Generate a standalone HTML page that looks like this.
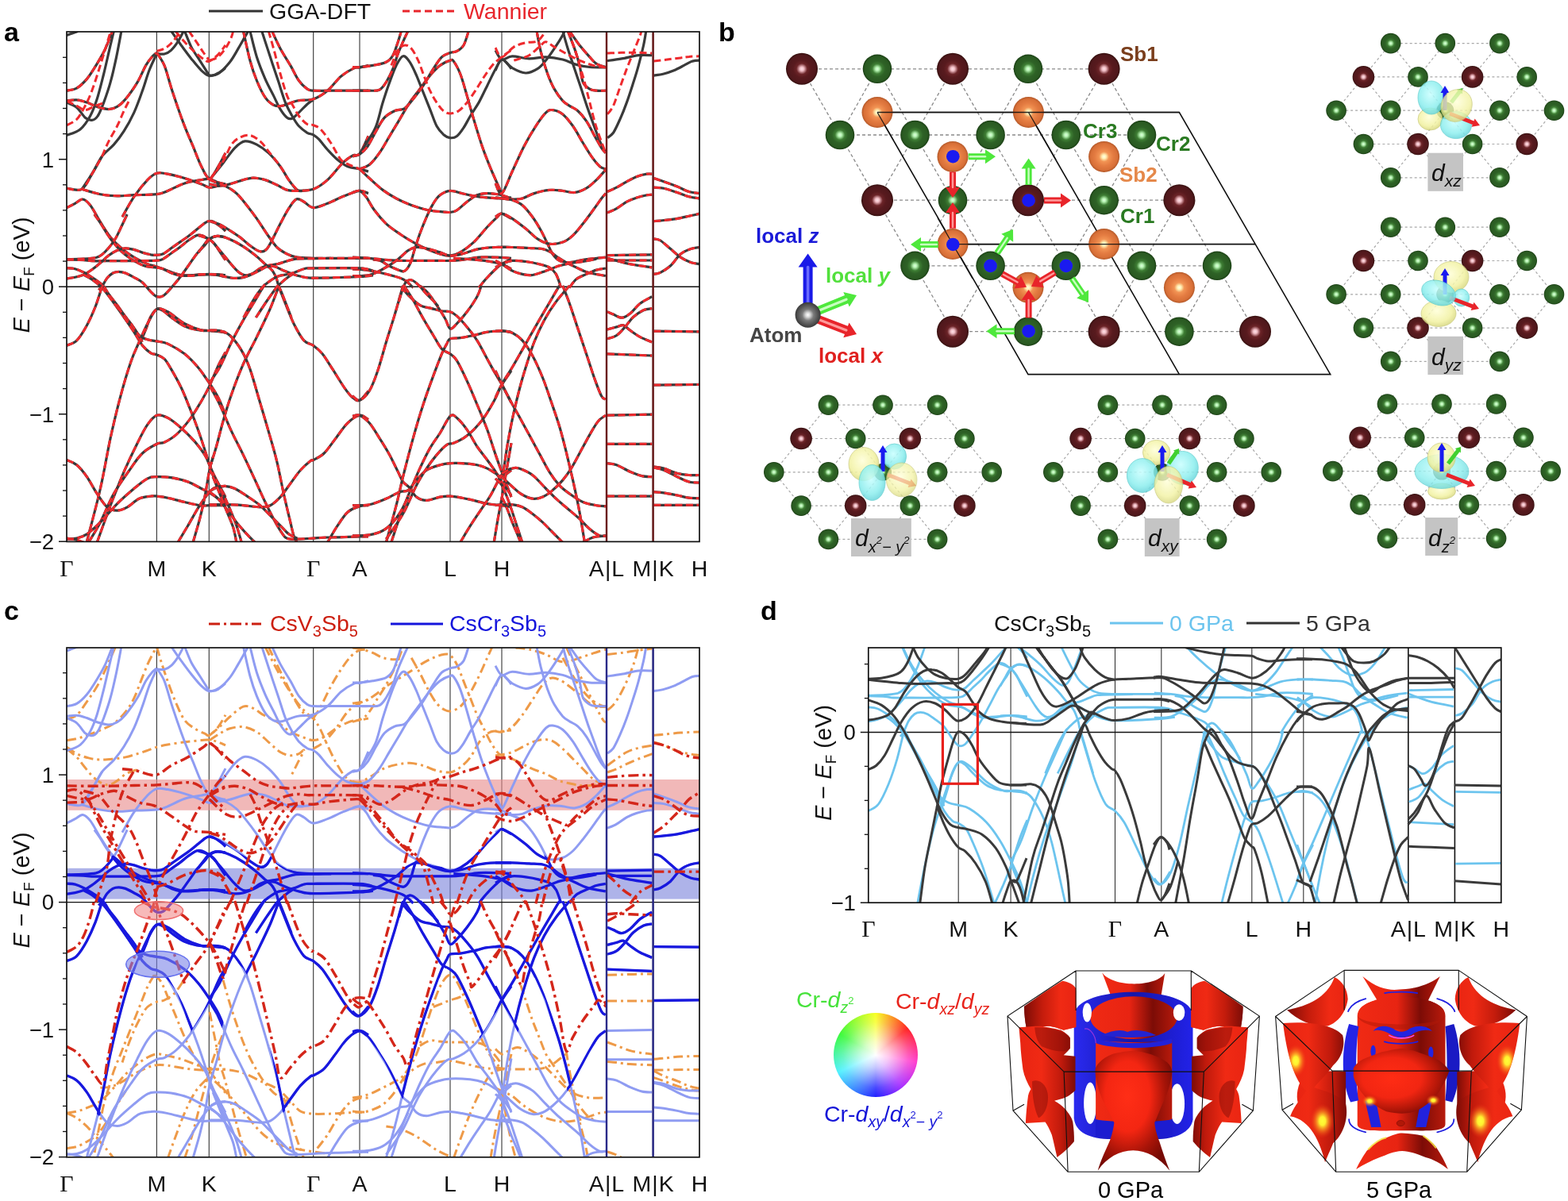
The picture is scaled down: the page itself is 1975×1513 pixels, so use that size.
<!DOCTYPE html>
<html><head><meta charset="utf-8"><title>CsCr3Sb5 bands</title>
<style>
html,body{margin:0;padding:0;background:#fff;}
body{width:1975px;height:1513px;overflow:hidden;position:relative;font-family:"Liberation Sans",Arial,sans-serif;}
svg{position:absolute;left:0;top:0;}
svg text{font-family:"Liberation Sans",Arial,sans-serif;}
.wheel{position:absolute;left:1050px;top:1276px;width:106px;height:106px;border-radius:50%;
background:radial-gradient(circle at 50% 50%, rgba(255,255,255,1) 0%, rgba(255,255,255,0.75) 22%, rgba(255,255,255,0.25) 55%, rgba(255,255,255,0) 80%),
conic-gradient(from 0deg, hsl(62,100%,52%), hsl(0,100%,52%) 50deg, hsl(315,100%,58%) 100deg, hsl(275,100%,55%) 140deg, hsl(240,100%,52%) 180deg, hsl(185,100%,62%) 245deg, hsl(120,95%,56%) 300deg, hsl(62,100%,52%) 360deg);}
</style></head><body>
<svg width="1975" height="1513" viewBox="0 0 1975 1513">
<defs><radialGradient id="gG" cx="50%" cy="50%" r="50%">
<stop offset="0" stop-color="#e0ffe0"/><stop offset="0.13" stop-color="#b4f2b0"/><stop offset="0.34" stop-color="#3e7e34"/><stop offset="0.55" stop-color="#2e6226"/><stop offset="0.86" stop-color="#2a5a22"/><stop offset="1" stop-color="#1a3e14"/></radialGradient>
<radialGradient id="gD" cx="50%" cy="50%" r="50%">
<stop offset="0" stop-color="#ffe4ea"/><stop offset="0.13" stop-color="#f0bcc4"/><stop offset="0.34" stop-color="#6c2428"/><stop offset="0.55" stop-color="#581a1e"/><stop offset="0.86" stop-color="#50181c"/><stop offset="1" stop-color="#36100f"/></radialGradient>
<radialGradient id="gO" cx="50%" cy="50%" r="50%">
<stop offset="0" stop-color="#ffffe4"/><stop offset="0.13" stop-color="#fff0b4"/><stop offset="0.32" stop-color="#f29454"/><stop offset="0.6" stop-color="#e47c42"/><stop offset="0.86" stop-color="#d87038"/><stop offset="1" stop-color="#b45828"/></radialGradient>
<radialGradient id="gA" cx="50%" cy="50%" r="50%">
<stop offset="0" stop-color="#ffffff"/><stop offset="0.18" stop-color="#d8d8d8"/><stop offset="0.45" stop-color="#7a7a7a"/><stop offset="1" stop-color="#3a3a3a"/></radialGradient>
<radialGradient id="gCy" cx="45%" cy="40%" r="60%">
<stop offset="0" stop-color="#c8ffff"/><stop offset="0.7" stop-color="#8ceeee"/><stop offset="1" stop-color="#6ad6dc"/></radialGradient>
<radialGradient id="gYe" cx="45%" cy="40%" r="60%">
<stop offset="0" stop-color="#ffffd8"/><stop offset="0.7" stop-color="#f2f2a2"/><stop offset="1" stop-color="#d8d880"/></radialGradient><linearGradient id="rH1" x1="0" y1="0" x2="1" y2="0">
<stop offset="0" stop-color="#f02a14"/><stop offset="0.45" stop-color="#e82412"/><stop offset="0.72" stop-color="#7c0c06"/><stop offset="1" stop-color="#b81a0c"/></linearGradient>
<linearGradient id="rH2" x1="0" y1="0" x2="1" y2="0">
<stop offset="0" stop-color="#7c0c06"/><stop offset="0.35" stop-color="#c41c0c"/><stop offset="0.7" stop-color="#f02a14"/><stop offset="1" stop-color="#e82412"/></linearGradient>
<linearGradient id="rH3" x1="0" y1="0" x2="1" y2="0">
<stop offset="0" stop-color="#e82412"/><stop offset="0.4" stop-color="#f02a14"/><stop offset="0.75" stop-color="#c01a0c"/><stop offset="1" stop-color="#7c0c06"/></linearGradient>
<linearGradient id="rV" x1="0" y1="0" x2="0" y2="1">
<stop offset="0" stop-color="#f22c16"/><stop offset="0.55" stop-color="#e02010"/><stop offset="0.8" stop-color="#8a1008"/><stop offset="1" stop-color="#c41c0c"/></linearGradient>
<linearGradient id="bH" x1="0" y1="0" x2="1" y2="0">
<stop offset="0" stop-color="#2a2af0"/><stop offset="0.5" stop-color="#1616a8"/><stop offset="1" stop-color="#2222e8"/></linearGradient>
<radialGradient id="dome0" cx="42%" cy="38%" r="65%"><stop offset="0" stop-color="#ff2e16"/><stop offset="0.45" stop-color="#f42612"/><stop offset="0.75" stop-color="#a81408"/><stop offset="1" stop-color="#760a04"/></radialGradient>
<radialGradient id="lens5" cx="40%" cy="45%" r="62%"><stop offset="0" stop-color="#ff2c14"/><stop offset="0.5" stop-color="#f22612"/><stop offset="0.8" stop-color="#b01608"/><stop offset="1" stop-color="#7a0c06"/></radialGradient>
<radialGradient id="yH" cx="50%" cy="50%" r="50%"><stop offset="0" stop-color="#ffff38"/><stop offset="0.25" stop-color="#fff030"/><stop offset="0.6" stop-color="#ff9020" stop-opacity="0.55"/><stop offset="1" stop-color="#f02a14" stop-opacity="0"/></radialGradient><clipPath id="clipA"><rect x="84" y="40" width="797" height="642.4"/></clipPath><clipPath id="clipC"><rect x="84" y="816" width="797" height="641.8"/></clipPath><clipPath id="clipD"><rect x="1093.8" y="816" width="797" height="321.2"/></clipPath><clipPath id="clipCdark"><path d="M84,1098 L104.3,1097.6 L124.5,1094 L134.6,1085.9 L142.1,1077.4 L148.8,1081.4 L158.9,1084.8 L175.1,1087.9 L193.4,1091.9 L197.4,1092.3 L209.6,1085.9 L225.8,1073.7 L242,1061.6 L256.2,1052.4 L263.2,1050.4 L276.4,1057.5 L296.7,1071.7 L316.9,1083.8 L327,1088.9 L335.1,1083.8 L340.8,1078.8 L349.3,1087.9 L361.5,1095 L377.7,1098 L394.7,1098.4 L453,1098 L484,1098.4 L504.3,1095 L525.5,1083.8 L544.8,1090.3 L567,1093.6 L585.3,1085.9 L605.5,1069.7 L625.8,1047.4 L632.1,1042.3 L646,1049.4 L666.3,1063.6 L686.5,1077.8 L690.6,1081.8 L698.7,1094 L706.8,1100 L727,1102.1 L747.3,1099 L763.9,1098 L763.9,1302.5 L755.4,1306.5 L743.2,1324.8 L727,1355.2 L714.9,1375.4 L706.8,1336.9 L696.7,1294.4 L686.5,1260 L673.4,1231.6 L670.3,1239.7 L660.2,1274.1 L652.1,1301.5 L644,1282.2 L632.1,1263 L617.7,1286.3 L604.5,1308.6 L591.3,1274.1 L577.2,1239.7 L567,1224.5 L562,1219.5 L552.9,1233.6 L540.7,1268.1 L528.6,1308.6 L516.4,1355.2 L507.3,1384.5 L494.1,1357.2 L484,1336.9 L474.9,1322.7 L462.7,1306.5 L453,1301.5 L444.5,1304.5 L432.4,1316.7 L418.2,1336.9 L404,1355.2 L394.7,1358.2 L387.8,1361.2 L377.7,1373.4 L367.5,1387.6 L356.4,1402.7 L347.3,1355.2 L337.2,1304.5 L327,1264 L316.9,1237.7 L306.8,1220.5 L299.7,1213.4 L294.6,1235.7 L286.5,1268.1 L279.4,1295.4 L272.4,1278.2 L263.2,1264 L252.1,1282.2 L239.9,1300.5 L231.8,1274.1 L221.7,1247.8 L209.6,1232.6 L197.4,1226.5 L185.3,1220.5 L174.1,1209.3 L165,1239.7 L154.9,1278.2 L144.8,1322.7 L134.6,1365.3 L125.5,1407.8 L116.4,1395.7 L104.3,1377.4 L84,1358.2 Z M764,1090 H822.6 V1230 H764 Z M822.6,1040 H881 V1265 H822.6 Z"/></clipPath></defs>
<line x1="197.4" y1="40" x2="197.4" y2="682.4" stroke="#333" stroke-width="1.1"/>
<line x1="263.3" y1="40" x2="263.3" y2="682.4" stroke="#333" stroke-width="1.1"/>
<line x1="394.7" y1="40" x2="394.7" y2="682.4" stroke="#333" stroke-width="1.1"/>
<line x1="453" y1="40" x2="453" y2="682.4" stroke="#333" stroke-width="1.1"/>
<line x1="567" y1="40" x2="567" y2="682.4" stroke="#333" stroke-width="1.1"/>
<line x1="632" y1="40" x2="632" y2="682.4" stroke="#333" stroke-width="1.1"/>
<line x1="764" y1="40" x2="764" y2="682.4" stroke="#111" stroke-width="1.6"/>
<line x1="822.6" y1="40" x2="822.6" y2="682.4" stroke="#111" stroke-width="1.6"/>
<line x1="84" y1="361.2" x2="881" y2="361.2" stroke="#111" stroke-width="1.4"/>
<line x1="197.4" y1="816" x2="197.4" y2="1457.8" stroke="#333" stroke-width="1.1"/>
<line x1="263.3" y1="816" x2="263.3" y2="1457.8" stroke="#333" stroke-width="1.1"/>
<line x1="394.7" y1="816" x2="394.7" y2="1457.8" stroke="#333" stroke-width="1.1"/>
<line x1="453" y1="816" x2="453" y2="1457.8" stroke="#333" stroke-width="1.1"/>
<line x1="567" y1="816" x2="567" y2="1457.8" stroke="#333" stroke-width="1.1"/>
<line x1="632" y1="816" x2="632" y2="1457.8" stroke="#333" stroke-width="1.1"/>
<line x1="764" y1="816" x2="764" y2="1457.8" stroke="#111" stroke-width="1.6"/>
<line x1="822.6" y1="816" x2="822.6" y2="1457.8" stroke="#111" stroke-width="1.6"/>
<line x1="84" y1="1136.6" x2="881" y2="1136.6" stroke="#111" stroke-width="1.4"/>
<line x1="1207.2" y1="816" x2="1207.2" y2="1137.2" stroke="#333" stroke-width="1.1"/>
<line x1="1273.1" y1="816" x2="1273.1" y2="1137.2" stroke="#333" stroke-width="1.1"/>
<line x1="1404.5" y1="816" x2="1404.5" y2="1137.2" stroke="#333" stroke-width="1.1"/>
<line x1="1462.8" y1="816" x2="1462.8" y2="1137.2" stroke="#333" stroke-width="1.1"/>
<line x1="1576.8" y1="816" x2="1576.8" y2="1137.2" stroke="#333" stroke-width="1.1"/>
<line x1="1641.8" y1="816" x2="1641.8" y2="1137.2" stroke="#333" stroke-width="1.1"/>
<line x1="1773.8" y1="816" x2="1773.8" y2="1137.2" stroke="#111" stroke-width="1.6"/>
<line x1="1832.4" y1="816" x2="1832.4" y2="1137.2" stroke="#111" stroke-width="1.6"/>
<line x1="1093.8" y1="922.5" x2="1890.8" y2="922.5" stroke="#111" stroke-width="1.4"/>
<path d="M103.1,238.3 C105.2,235.1 111.6,226.1 115.8,219.2 C120.1,212.3 123.9,203.1 128.5,196.9 C133.1,190.8 138.8,187.4 143.4,182.1 C148,176.8 151.9,171.8 156.1,165.1 C160.4,158.4 164.9,150.3 168.8,141.8 C172.7,133.3 176.3,123.1 179.4,114.2 C182.6,105.4 184.9,96.6 187.9,88.8 C190.9,81 195.9,71.1 197.5,67.6" stroke="#3a3a3a" stroke-width="3.2" fill="none" clip-path="url(#clipA)"/>
<path d="M84,129.1 C86.1,130.1 92.8,132.3 96.7,135.4 C100.6,138.6 104.1,145.5 107.3,148.2 C110.5,150.8 113.2,151.7 115.8,151.3 C118.5,151 120.8,149.8 123.2,146 C125.7,142.3 128,136.1 130.7,129.1 C133.3,122 136.5,113.2 139.1,103.6 C141.8,94.1 144.3,82.6 146.6,71.8 C148.9,61 151.9,44.4 152.9,38.9" stroke="#3a3a3a" stroke-width="3.2" fill="none" clip-path="url(#clipA)"/>
<path d="M84,170.4 C86.8,169.2 96,167.1 101,163 C105.9,158.9 110.2,152.4 113.7,146 C117.2,139.7 119.3,133.7 122.2,124.8 C125,116 128,103.6 130.7,93 C133.3,82.4 136,70.2 138.1,61.2 C140.2,52.2 142.5,42.7 143.4,38.9" stroke="#3a3a3a" stroke-width="3.2" fill="none" clip-path="url(#clipA)"/>
<path d="M197.5,67.6 C199.1,67.6 204,68.7 207,68 C210,67.3 212.7,65.9 215.5,63.3 C218.3,60.8 221.3,56.8 224,52.7 C226.6,48.7 230.2,41.2 231.4,38.9" stroke="#3a3a3a" stroke-width="3.2" fill="none" clip-path="url(#clipA)"/>
<path d="M215.5,38.9 C217.6,41.9 224,51.1 228.2,57 C232.5,62.8 236.7,68.6 240.9,73.9 C245.2,79.2 249.9,85.2 253.7,88.8 C257.5,92.4 260.3,95 263.9,95.6 C267.4,96.1 271.5,93.6 274.9,92 C278.2,90.3 282.5,86.7 284,85.6" stroke="#3a3a3a" stroke-width="3.2" fill="none" clip-path="url(#clipA)"/>
<path d="M232.5,38.9 C233.9,42.3 237.8,52.9 240.9,59.1 C244.1,65.3 247.7,70 251.6,76.1 C255.4,82.1 261.8,92.3 263.9,95.6" stroke="#3a3a3a" stroke-width="3.2" fill="none" clip-path="url(#clipA)"/>
<path d="M264,95.1 C265.8,94.8 270.4,95.9 274.6,93 C278.8,90.2 285.2,83.5 289.5,78.2 C293.7,72.9 296.9,66.5 300.1,61.2 C303.2,55.9 306.4,50.1 308.5,46.4 C310.7,42.7 312.1,40.2 312.8,38.9" stroke="#3a3a3a" stroke-width="3.2" fill="none" clip-path="url(#clipA)"/>
<path d="M314.9,38.9 C316.3,44.4 320.2,61.7 323.4,71.8 C326.6,81.9 330.5,91.3 334,99.4 C337.5,107.5 341.4,114.2 344.6,120.6 C347.8,127 350.2,133 353.1,137.6 C355.9,142.2 359.1,146.2 361.6,148.2 C364,150.1 365.4,150.3 367.9,149.2 C370.4,148.2 373.2,144.8 376.4,141.8 C379.6,138.8 384,133.8 387,131.2 C390.1,128.5 393.4,126.8 394.6,125.9" stroke="#3a3a3a" stroke-width="3.2" fill="none" clip-path="url(#clipA)"/>
<path d="M329.7,38.9 C331.5,44.4 336.8,61 340.4,71.8 C343.9,82.6 347.8,94.1 351,103.6 C354.1,113.2 356.6,122 359.4,129.1 C362.3,136.1 365.1,141.1 367.9,146 C370.8,151 373.2,155.2 376.4,158.8 C379.6,162.3 384,165.4 387,167.3 C390.1,169.1 392.2,168.4 394.6,169.8 C397.1,171.2 398.9,172.6 401.9,175.7 C404.8,178.8 408.6,184.2 412.5,188.5 C416.4,192.7 420.9,197.7 425.2,201.2 C429.4,204.7 433.3,207.7 437.9,209.7 C442.5,211.6 448.6,211.8 453,212.9 C457.3,213.9 462.2,215.5 464,216" stroke="#3a3a3a" stroke-width="3.2" fill="none" clip-path="url(#clipA)"/>
<path d="M264,226.6 C266.8,223.1 275.7,212.1 281,205.4 C286.3,198.7 291.2,190.9 295.8,186.3 C300.4,181.7 303.9,178.6 308.5,177.9 C313.1,177.2 318.4,179.6 323.4,182.1 C328.3,184.6 333.3,188.1 338.2,192.7 C343.2,197.3 348.8,204 353.1,209.7 C357.3,215.3 360.1,221.7 363.7,226.6 C367.2,231.6 371.1,237.1 374.3,239.4 C377.5,241.7 381.4,240.2 382.8,240.4" stroke="#3a3a3a" stroke-width="3.2" fill="none" clip-path="url(#clipA)"/>
<path d="M84,114.2 C86.1,113.7 92.5,113.5 96.7,111 C101,108.6 105.2,104.5 109.5,99.4 C113.7,94.3 118.3,86.7 122.2,80.3 C126.1,73.9 129.5,68.1 132.8,61.2 C136,54.3 140.2,42.7 141.7,38.9" stroke="#3a3a3a" stroke-width="3.2" fill="none" clip-path="url(#clipA)"/><path d="M84,114.2 C86.1,113.7 92.5,113.5 96.7,111 C101,108.6 105.2,104.5 109.5,99.4 C113.7,94.3 118.3,86.7 122.2,80.3 C126.1,73.9 129.5,68.1 132.8,61.2 C136,54.3 140.2,42.7 141.7,38.9" stroke="#ee2a2e" stroke-width="3.0" fill="none" stroke-dasharray="9,4.5" clip-path="url(#clipA)"/>
<path d="M84,127 C86.1,126.8 92.5,125.5 96.7,125.9 C101,126.2 105.2,127.7 109.5,129.1 C113.7,130.5 117.6,133 122.2,134.4 C126.8,135.8 132.8,137.6 137,137.6 C141.3,137.6 144.1,136.5 147.6,134.4 C151.2,132.3 154,130 158.2,124.8 C162.5,119.7 168.8,110.7 173.1,103.6 C177.3,96.6 180.5,87.9 183.7,82.4 C186.9,76.9 189.9,73.4 192.2,70.8 C194.5,68.1 196.6,67.2 197.5,66.5" stroke="#3a3a3a" stroke-width="3.2" fill="none" clip-path="url(#clipA)"/><path d="M84,127 C86.1,126.8 92.5,125.5 96.7,125.9 C101,126.2 105.2,127.7 109.5,129.1 C113.7,130.5 117.6,133 122.2,134.4 C126.8,135.8 132.8,137.6 137,137.6 C141.3,137.6 144.1,136.5 147.6,134.4 C151.2,132.3 154,130 158.2,124.8 C162.5,119.7 168.8,110.7 173.1,103.6 C177.3,96.6 180.5,87.9 183.7,82.4 C186.9,76.9 189.9,73.4 192.2,70.8 C194.5,68.1 196.6,67.2 197.5,66.5" stroke="#ee2a2e" stroke-width="3.0" fill="none" stroke-dasharray="9,4.5" clip-path="url(#clipA)"/>
<path d="M84,237.2 C87.2,237.4 97.8,241.3 103.1,238.3 C108.4,235.3 111.6,226.1 115.8,219.2 C120.1,212.3 126.4,200.7 128.5,196.9" stroke="#3a3a3a" stroke-width="3.2" fill="none" clip-path="url(#clipA)"/><path d="M84,237.2 C87.2,237.4 97.8,241.3 103.1,238.3 C108.4,235.3 111.6,226.1 115.8,219.2 C120.1,212.3 126.4,200.7 128.5,196.9" stroke="#ee2a2e" stroke-width="3.0" fill="none" stroke-dasharray="9,4.5" clip-path="url(#clipA)"/>
<path d="M197.5,66.5 C199.1,69.2 204,75.2 207,82.4 C210,89.7 212.7,101.2 215.5,110 C218.3,118.8 221.2,127.3 224,135.4 C226.8,143.6 229.3,150.6 232.5,158.8 C235.6,166.9 239.5,175.7 243.1,184.2 C246.6,192.7 250.2,203 253.7,209.7 C257.1,216.4 260.3,224.5 263.9,224.5 C267.4,224.5 271.5,215 274.9,209.7 C278.2,204.4 282.5,195.5 284,192.7" stroke="#3a3a3a" stroke-width="3.2" fill="none" clip-path="url(#clipA)"/><path d="M197.5,66.5 C199.1,69.2 204,75.2 207,82.4 C210,89.7 212.7,101.2 215.5,110 C218.3,118.8 221.2,127.3 224,135.4 C226.8,143.6 229.3,150.6 232.5,158.8 C235.6,166.9 239.5,175.7 243.1,184.2 C246.6,192.7 250.2,203 253.7,209.7 C257.1,216.4 260.3,224.5 263.9,224.5 C267.4,224.5 271.5,215 274.9,209.7 C278.2,204.4 282.5,195.5 284,192.7" stroke="#ee2a2e" stroke-width="3.0" fill="none" stroke-dasharray="9,4.5" clip-path="url(#clipA)"/>
<path d="M103.1,238.3 C107,239.4 119,243.3 126.4,244.7 C133.8,246.1 140.6,246.6 147.6,246.8 C154.7,247 160.5,246.1 168.8,245.7 C177.1,245.4 190.4,245.5 197.5,244.7 C204.5,243.8 205.4,242.7 211.3,240.4 C217.1,238.1 225.4,233.2 232.5,230.9 C239.5,228.6 248.4,227.5 253.7,226.6 C258.9,225.8 260.3,225 263.9,225.6 C267.4,226.1 271.5,228.8 274.9,229.8 C278.2,230.9 282.5,231.6 284,231.9" stroke="#3a3a3a" stroke-width="3.2" fill="none" clip-path="url(#clipA)"/><path d="M103.1,238.3 C107,239.4 119,243.3 126.4,244.7 C133.8,246.1 140.6,246.6 147.6,246.8 C154.7,247 160.5,246.1 168.8,245.7 C177.1,245.4 190.4,245.5 197.5,244.7 C204.5,243.8 205.4,242.7 211.3,240.4 C217.1,238.1 225.4,233.2 232.5,230.9 C239.5,228.6 248.4,227.5 253.7,226.6 C258.9,225.8 260.3,225 263.9,225.6 C267.4,226.1 271.5,228.8 274.9,229.8 C278.2,230.9 282.5,231.6 284,231.9" stroke="#ee2a2e" stroke-width="3.0" fill="none" stroke-dasharray="9,4.5" clip-path="url(#clipA)"/>
<path d="M154,273.3 C156.5,269.1 163.5,255.6 168.8,247.8 C174.1,240.1 181,231.6 185.8,226.6 C190.6,221.7 193.2,219.4 197.5,218.2 C201.7,216.9 205.4,218.2 211.3,219.2 C217.1,220.3 225.4,222.4 232.5,224.5 C239.5,226.6 248.4,230 253.7,231.9 C258.9,233.9 260.3,235.8 263.9,236.2 C267.4,236.5 271.5,234.8 274.9,234.1 C278.2,233.4 282.5,232.3 284,231.9" stroke="#3a3a3a" stroke-width="3.2" fill="none" clip-path="url(#clipA)"/><path d="M154,273.3 C156.5,269.1 163.5,255.6 168.8,247.8 C174.1,240.1 181,231.6 185.8,226.6 C190.6,221.7 193.2,219.4 197.5,218.2 C201.7,216.9 205.4,218.2 211.3,219.2 C217.1,220.3 225.4,222.4 232.5,224.5 C239.5,226.6 248.4,230 253.7,231.9 C258.9,233.9 260.3,235.8 263.9,236.2 C267.4,236.5 271.5,234.8 274.9,234.1 C278.2,233.4 282.5,232.3 284,231.9" stroke="#ee2a2e" stroke-width="3.0" fill="none" stroke-dasharray="9,4.5" clip-path="url(#clipA)"/>
<path d="M84,261.6 C85.8,260.7 91.2,258.1 94.6,256.3 C98,254.6 101,250.7 104.1,251 C107.3,251.4 110,253.7 113.7,258.5 C117.4,263.2 122.2,272.9 126.4,279.7 C130.7,286.4 134.5,293.1 139.1,298.7 C143.7,304.4 149,309.4 154,313.6 C158.9,317.8 163.5,321 168.8,324.2 C174.1,327.4 181,330.7 185.8,332.7 C190.6,334.6 193.2,334.5 197.5,335.9 C201.7,337.3 206.1,339.4 211.3,341.2 C216.4,342.9 222.9,345.6 228.2,346.5 C233.5,347.4 237.1,346.6 243.1,346.5 C249,346.3 257,345.4 263.9,345.4 C270.7,345.4 280.6,346.3 284,346.5" stroke="#3a3a3a" stroke-width="3.2" fill="none" clip-path="url(#clipA)"/><path d="M84,261.6 C85.8,260.7 91.2,258.1 94.6,256.3 C98,254.6 101,250.7 104.1,251 C107.3,251.4 110,253.7 113.7,258.5 C117.4,263.2 122.2,272.9 126.4,279.7 C130.7,286.4 134.5,293.1 139.1,298.7 C143.7,304.4 149,309.4 154,313.6 C158.9,317.8 163.5,321 168.8,324.2 C174.1,327.4 181,330.7 185.8,332.7 C190.6,334.6 193.2,334.5 197.5,335.9 C201.7,337.3 206.1,339.4 211.3,341.2 C216.4,342.9 222.9,345.6 228.2,346.5 C233.5,347.4 237.1,346.6 243.1,346.5 C249,346.3 257,345.4 263.9,345.4 C270.7,345.4 280.6,346.3 284,346.5" stroke="#ee2a2e" stroke-width="3.0" fill="none" stroke-dasharray="9,4.5" clip-path="url(#clipA)"/>
<path d="M118.9,270 C120.1,271.8 123.7,276.5 126.3,280.6 C128.9,284.6 131.9,290.1 134.8,294.3 C137.6,298.6 140.2,302.3 143.2,306 C146.2,309.7 149.4,313.4 152.7,316.5 C156.1,319.7 159.8,322.5 163.3,325 C166.8,327.5 170.4,329.6 173.9,331.3 C177.4,333.1 180.5,334.6 184.5,335.6 C188.4,336.5 194,336.6 197.5,337.2 C201,337.7 202.5,337.6 205.6,338.7 C208.7,339.9 212.7,342.6 216.2,344 C219.7,345.4 222.4,346.7 226.8,347.2 C231.2,347.7 238.2,347.4 242.6,347.2 C247.1,347 249.8,346.2 253.2,345.9 C256.7,345.7 260,345.5 263.5,345.6 C267,345.7 271,346.2 274.4,346.7 C277.8,347.2 282.4,348.4 284,348.8" stroke="#3a3a3a" stroke-width="3.2" fill="none" clip-path="url(#clipA)"/><path d="M118.9,270 C120.1,271.8 123.7,276.5 126.3,280.6 C128.9,284.6 131.9,290.1 134.8,294.3 C137.6,298.6 140.2,302.3 143.2,306 C146.2,309.7 149.4,313.4 152.7,316.5 C156.1,319.7 159.8,322.5 163.3,325 C166.8,327.5 170.4,329.6 173.9,331.3 C177.4,333.1 180.5,334.6 184.5,335.6 C188.4,336.5 194,336.6 197.5,337.2 C201,337.7 202.5,337.6 205.6,338.7 C208.7,339.9 212.7,342.6 216.2,344 C219.7,345.4 222.4,346.7 226.8,347.2 C231.2,347.7 238.2,347.4 242.6,347.2 C247.1,347 249.8,346.2 253.2,345.9 C256.7,345.7 260,345.5 263.5,345.6 C267,345.7 271,346.2 274.4,346.7 C277.8,347.2 282.4,348.4 284,348.8" stroke="#ee2a2e" stroke-width="3.0" fill="none" stroke-dasharray="9,4.5" clip-path="url(#clipA)"/>
<path d="M84,326.6 C87.5,326.5 99,326.4 105.2,326.1 C111.3,325.7 117.1,325.3 121,324.5 C124.9,323.6 125.8,322.8 128.4,320.8 C131.1,318.7 134.1,315.7 136.9,312.3 C139.7,309 142.7,305.1 145.3,300.7 C148,296.3 150.3,291 152.7,285.9 C155.2,280.8 158.9,272.6 160.2,270" stroke="#3a3a3a" stroke-width="3.2" fill="none" clip-path="url(#clipA)"/><path d="M84,326.6 C87.5,326.5 99,326.4 105.2,326.1 C111.3,325.7 117.1,325.3 121,324.5 C124.9,323.6 125.8,322.8 128.4,320.8 C131.1,318.7 134.1,315.7 136.9,312.3 C139.7,309 142.7,305.1 145.3,300.7 C148,296.3 150.3,291 152.7,285.9 C155.2,280.8 158.9,272.6 160.2,270" stroke="#ee2a2e" stroke-width="3.0" fill="none" stroke-dasharray="9,4.5" clip-path="url(#clipA)"/>
<path d="M84,327.1 C87.5,327.2 99.9,327.4 105.2,327.6 C110.4,327.9 110.4,328.5 115.7,328.7 C121,328.9 128.1,328.7 136.9,328.7 C145.7,328.7 158.5,328.8 168.6,328.7 C178.7,328.6 191.3,328.6 197.5,328.2 C203.7,327.7 202.5,327.6 205.6,326.1 C208.7,324.5 212.7,321.1 216.2,318.7 C219.7,316.2 223.3,313.9 226.8,311.2 C230.3,308.6 233.8,305.3 237.4,302.8 C240.9,300.3 244.9,297.4 247.9,296.4 C250.9,295.5 252.7,296.1 255.3,297 C257.9,297.9 261,300.1 263.5,301.7 C265.9,303.4 268,304.5 270.1,307 C272.3,309.5 274.2,313.1 276.5,316.5 C278.8,320 282.7,325.8 284,327.6" stroke="#3a3a3a" stroke-width="3.2" fill="none" clip-path="url(#clipA)"/><path d="M84,327.1 C87.5,327.2 99.9,327.4 105.2,327.6 C110.4,327.9 110.4,328.5 115.7,328.7 C121,328.9 128.1,328.7 136.9,328.7 C145.7,328.7 158.5,328.8 168.6,328.7 C178.7,328.6 191.3,328.6 197.5,328.2 C203.7,327.7 202.5,327.6 205.6,326.1 C208.7,324.5 212.7,321.1 216.2,318.7 C219.7,316.2 223.3,313.9 226.8,311.2 C230.3,308.6 233.8,305.3 237.4,302.8 C240.9,300.3 244.9,297.4 247.9,296.4 C250.9,295.5 252.7,296.1 255.3,297 C257.9,297.9 261,300.1 263.5,301.7 C265.9,303.4 268,304.5 270.1,307 C272.3,309.5 274.2,313.1 276.5,316.5 C278.8,320 282.7,325.8 284,327.6" stroke="#ee2a2e" stroke-width="3.0" fill="none" stroke-dasharray="9,4.5" clip-path="url(#clipA)"/>
<path d="M84,337.7 C85.8,337.9 91.1,337.9 94.6,338.7 C98.1,339.6 101.6,341.2 105.2,343 C108.7,344.7 112.2,347 115.7,349.3 C119.3,351.6 123.7,354.6 126.3,356.7 C128.9,358.8 129.8,359.7 131.6,362 C133.4,364.3 134.2,366.8 136.9,370.5 C139.5,374.2 143.9,379.5 147.5,384.2 C151,389 154.5,394.3 158,399 C161.6,403.8 165.4,408.2 168.6,412.8 C171.8,417.4 175.3,423.5 177.1,426.5 C178.8,429.5 178.8,430.1 179.2,430.8" stroke="#3a3a3a" stroke-width="3.2" fill="none" clip-path="url(#clipA)"/><path d="M84,337.7 C85.8,337.9 91.1,337.9 94.6,338.7 C98.1,339.6 101.6,341.2 105.2,343 C108.7,344.7 112.2,347 115.7,349.3 C119.3,351.6 123.7,354.6 126.3,356.7 C128.9,358.8 129.8,359.7 131.6,362 C133.4,364.3 134.2,366.8 136.9,370.5 C139.5,374.2 143.9,379.5 147.5,384.2 C151,389 154.5,394.3 158,399 C161.6,403.8 165.4,408.2 168.6,412.8 C171.8,417.4 175.3,423.5 177.1,426.5 C178.8,429.5 178.8,430.1 179.2,430.8" stroke="#ee2a2e" stroke-width="3.0" fill="none" stroke-dasharray="9,4.5" clip-path="url(#clipA)"/>
<path d="M84,350.9 C85.8,350.6 91.1,350.1 94.6,349.3 C98.1,348.5 101.6,347.7 105.2,346.2 C108.7,344.6 112.2,342.3 115.7,339.8 C119.3,337.3 122.8,334.3 126.3,331.3 C129.8,328.3 133.4,324.5 136.9,321.8 C140.4,319.2 143.9,317 147.5,315.5 C151,314 154.5,313 158,312.8 C161.6,312.7 165.1,313.5 168.6,314.4 C172.1,315.3 175.7,317.1 179.2,318.1 C182.7,319.2 186.7,320.2 189.8,320.8 C192.8,321.3 194.8,321.5 197.5,321.3 C200.1,321.1 202.5,321.2 205.6,319.7 C208.7,318.2 212.7,314.8 216.2,312.3 C219.7,309.8 223.3,307.4 226.8,304.9 C230.3,302.4 233.8,300.1 237.4,297.5 C240.9,294.9 244.4,291.9 247.9,289 C251.5,286.2 255.9,282.3 258.5,280.6 C261.1,278.8 261.7,278.6 263.5,278.5 C265.2,278.3 266.4,278.1 269.1,279.5 C271.8,280.9 277.2,285 279.7,286.9 C282.1,288.9 283.3,290.4 284,291.2" stroke="#3a3a3a" stroke-width="3.2" fill="none" clip-path="url(#clipA)"/><path d="M84,350.9 C85.8,350.6 91.1,350.1 94.6,349.3 C98.1,348.5 101.6,347.7 105.2,346.2 C108.7,344.6 112.2,342.3 115.7,339.8 C119.3,337.3 122.8,334.3 126.3,331.3 C129.8,328.3 133.4,324.5 136.9,321.8 C140.4,319.2 143.9,317 147.5,315.5 C151,314 154.5,313 158,312.8 C161.6,312.7 165.1,313.5 168.6,314.4 C172.1,315.3 175.7,317.1 179.2,318.1 C182.7,319.2 186.7,320.2 189.8,320.8 C192.8,321.3 194.8,321.5 197.5,321.3 C200.1,321.1 202.5,321.2 205.6,319.7 C208.7,318.2 212.7,314.8 216.2,312.3 C219.7,309.8 223.3,307.4 226.8,304.9 C230.3,302.4 233.8,300.1 237.4,297.5 C240.9,294.9 244.4,291.9 247.9,289 C251.5,286.2 255.9,282.3 258.5,280.6 C261.1,278.8 261.7,278.6 263.5,278.5 C265.2,278.3 266.4,278.1 269.1,279.5 C271.8,280.9 277.2,285 279.7,286.9 C282.1,288.9 283.3,290.4 284,291.2" stroke="#ee2a2e" stroke-width="3.0" fill="none" stroke-dasharray="9,4.5" clip-path="url(#clipA)"/>
<path d="M124.2,365.2 C124.9,364.5 126.7,363.4 128.4,361 C130.2,358.5 132.5,353.2 134.8,350.4 C137.1,347.6 139.7,345.4 142.2,344 C144.6,342.7 146.9,342.4 149.6,342.4 C152.2,342.4 154.9,342.9 158,344 C161.2,345.2 165.1,347.4 168.6,349.3 C172.1,351.3 175.7,352.7 179.2,355.7 C182.7,358.7 186.7,364.3 189.8,367.3 C192.8,370.3 194.8,372.8 197.5,373.6 C200.1,374.5 202.5,374.5 205.6,372.6 C208.7,370.7 212.7,365.9 216.2,362 C219.7,358.1 223.3,353.9 226.8,349.3 C230.3,344.7 233.8,339.5 237.4,334.5 C240.9,329.6 244.4,324.1 247.9,319.7 C251.5,315.3 255.9,311.1 258.5,308.1 C261.1,305.1 261.2,303.5 263.5,301.7 C265.8,300 268.8,298 272.3,297.5 C275.7,297 282,298.4 284,298.6" stroke="#3a3a3a" stroke-width="3.2" fill="none" clip-path="url(#clipA)"/><path d="M124.2,365.2 C124.9,364.5 126.7,363.4 128.4,361 C130.2,358.5 132.5,353.2 134.8,350.4 C137.1,347.6 139.7,345.4 142.2,344 C144.6,342.7 146.9,342.4 149.6,342.4 C152.2,342.4 154.9,342.9 158,344 C161.2,345.2 165.1,347.4 168.6,349.3 C172.1,351.3 175.7,352.7 179.2,355.7 C182.7,358.7 186.7,364.3 189.8,367.3 C192.8,370.3 194.8,372.8 197.5,373.6 C200.1,374.5 202.5,374.5 205.6,372.6 C208.7,370.7 212.7,365.9 216.2,362 C219.7,358.1 223.3,353.9 226.8,349.3 C230.3,344.7 233.8,339.5 237.4,334.5 C240.9,329.6 244.4,324.1 247.9,319.7 C251.5,315.3 255.9,311.1 258.5,308.1 C261.1,305.1 261.2,303.5 263.5,301.7 C265.8,300 268.8,298 272.3,297.5 C275.7,297 282,298.4 284,298.6" stroke="#ee2a2e" stroke-width="3.0" fill="none" stroke-dasharray="9,4.5" clip-path="url(#clipA)"/>
<path d="M105.2,346.2 C106.9,347.1 111.9,349.2 115.7,352 C119.6,354.7 124,357.9 128.4,362.5 C132.8,367.2 137.2,373.4 142.2,380 C147.1,386.6 153.3,395.7 158,402.2 C162.8,408.7 167.2,414.7 170.7,419.1 C174.3,423.5 177.8,427.1 179.2,428.6" stroke="#3a3a3a" stroke-width="3.2" fill="none" clip-path="url(#clipA)"/><path d="M105.2,346.2 C106.9,347.1 111.9,349.2 115.7,352 C119.6,354.7 124,357.9 128.4,362.5 C132.8,367.2 137.2,373.4 142.2,380 C147.1,386.6 153.3,395.7 158,402.2 C162.8,408.7 167.2,414.7 170.7,419.1 C174.3,423.5 177.8,427.1 179.2,428.6" stroke="#ee2a2e" stroke-width="3.0" fill="none" stroke-dasharray="9,4.5" clip-path="url(#clipA)"/>
<path d="M177.1,430.8 C178.3,427.8 182.4,418.1 184.5,412.8 C186.6,407.5 187.6,402.9 189.8,399 C191.9,395.2 194.8,390.7 197.5,389.5 C200.1,388.3 202.5,389.9 205.6,391.6 C208.7,393.4 211.8,396.9 216.2,400.1 C220.6,403.3 226.8,408.1 232.1,410.7 C237.4,413.2 242.7,414.5 247.9,415.4 C253.2,416.4 259.1,416.2 263.5,416.5 C267.9,416.7 271,416.6 274.4,417 C277.8,417.5 282.4,418.8 284,419.1" stroke="#3a3a3a" stroke-width="3.2" fill="none" clip-path="url(#clipA)"/><path d="M177.1,430.8 C178.3,427.8 182.4,418.1 184.5,412.8 C186.6,407.5 187.6,402.9 189.8,399 C191.9,395.2 194.8,390.7 197.5,389.5 C200.1,388.3 202.5,389.9 205.6,391.6 C208.7,393.4 211.8,396.9 216.2,400.1 C220.6,403.3 226.8,408.1 232.1,410.7 C237.4,413.2 242.7,414.5 247.9,415.4 C253.2,416.4 259.1,416.2 263.5,416.5 C267.9,416.7 271,416.6 274.4,417 C277.8,417.5 282.4,418.8 284,419.1" stroke="#ee2a2e" stroke-width="3.0" fill="none" stroke-dasharray="9,4.5" clip-path="url(#clipA)"/>
<path d="M84,435.2 C86.1,434.2 92.5,433.1 96.7,428.9 C101,424.6 105.6,416.9 109.5,409.8 C113.3,402.7 116.9,394.6 120.1,386.5 C123.2,378.3 127.1,365.2 128.5,361" stroke="#3a3a3a" stroke-width="3.2" fill="none" clip-path="url(#clipA)"/><path d="M84,435.2 C86.1,434.2 92.5,433.1 96.7,428.9 C101,424.6 105.6,416.9 109.5,409.8 C113.3,402.7 116.9,394.6 120.1,386.5 C123.2,378.3 127.1,365.2 128.5,361" stroke="#ee2a2e" stroke-width="3.0" fill="none" stroke-dasharray="9,4.5" clip-path="url(#clipA)"/>
<path d="M147.6,386.5 C150.5,390 160,401.7 164.6,407.7 C169.2,413.7 171.7,419.1 175.2,422.5 C178.7,425.9 182.1,426.6 185.8,427.8 C189.5,429 193.2,429 197.5,429.9 C201.7,430.8 205.4,430.5 211.3,433.1 C217.1,435.8 226.1,440.9 232.5,445.8 C238.8,450.8 244.2,456.6 249.4,462.8 C254.7,469 259.6,476.6 263.9,483 C268.1,489.3 271.5,494.4 274.9,501 C278.2,507.5 282.5,518.7 284,522.2" stroke="#3a3a3a" stroke-width="3.2" fill="none" clip-path="url(#clipA)"/><path d="M147.6,386.5 C150.5,390 160,401.7 164.6,407.7 C169.2,413.7 171.7,419.1 175.2,422.5 C178.7,425.9 182.1,426.6 185.8,427.8 C189.5,429 193.2,429 197.5,429.9 C201.7,430.8 205.4,430.5 211.3,433.1 C217.1,435.8 226.1,440.9 232.5,445.8 C238.8,450.8 244.2,456.6 249.4,462.8 C254.7,469 259.6,476.6 263.9,483 C268.1,489.3 271.5,494.4 274.9,501 C278.2,507.5 282.5,518.7 284,522.2" stroke="#ee2a2e" stroke-width="3.0" fill="none" stroke-dasharray="9,4.5" clip-path="url(#clipA)"/>
<path d="M156.1,399.2 C158.2,402.4 164.9,412.3 168.8,418.3 C172.7,424.3 175.9,430.8 179.4,435.2 C183,439.6 187,442.8 190,444.8 C193,446.7 194.6,445.7 197.5,446.9 C200.3,448.1 204,449.2 207,452.2 C210,455.2 212,458.9 215.5,464.9 C219,470.9 224.3,480.1 228.2,488.3 C232.1,496.4 235.3,504.9 238.8,513.7 C242.4,522.5 245.9,531.4 249.4,541.3 C253,551.2 257.6,565.7 260,573.1 C262.4,580.5 262.1,580.5 263.9,585.8 C265.6,591.1 267.3,596.8 270.6,604.9 C274,613 281.8,629.6 284,634.6" stroke="#3a3a3a" stroke-width="3.2" fill="none" clip-path="url(#clipA)"/><path d="M156.1,399.2 C158.2,402.4 164.9,412.3 168.8,418.3 C172.7,424.3 175.9,430.8 179.4,435.2 C183,439.6 187,442.8 190,444.8 C193,446.7 194.6,445.7 197.5,446.9 C200.3,448.1 204,449.2 207,452.2 C210,455.2 212,458.9 215.5,464.9 C219,470.9 224.3,480.1 228.2,488.3 C232.1,496.4 235.3,504.9 238.8,513.7 C242.4,522.5 245.9,531.4 249.4,541.3 C253,551.2 257.6,565.7 260,573.1 C262.4,580.5 262.1,580.5 263.9,585.8 C265.6,591.1 267.3,596.8 270.6,604.9 C274,613 281.8,629.6 284,634.6" stroke="#ee2a2e" stroke-width="3.0" fill="none" stroke-dasharray="9,4.5" clip-path="url(#clipA)"/>
<path d="M109.5,681.9 C112.3,670.8 121.5,637.2 126.4,615.5 C131.4,593.8 134.9,571.3 139.1,551.9 C143.4,532.4 147.6,514.8 151.9,498.9 C156.1,483 160.7,467.8 164.6,456.4 C168.5,445.1 171.7,439.1 175.2,431 C178.7,422.9 182.1,414.6 185.8,407.7 C189.5,400.8 193.2,392.1 197.5,389.6 C201.7,387.2 205.4,389.8 211.3,392.8 C217.1,395.8 225.4,403.8 232.5,407.7 C239.5,411.5 248.4,414.7 253.7,416.1 C258.9,417.6 258.8,416.2 263.9,416.6 C268.9,416.9 280.6,418 284,418.3" stroke="#3a3a3a" stroke-width="3.2" fill="none" clip-path="url(#clipA)"/><path d="M109.5,681.9 C112.3,670.8 121.5,637.2 126.4,615.5 C131.4,593.8 134.9,571.3 139.1,551.9 C143.4,532.4 147.6,514.8 151.9,498.9 C156.1,483 160.7,467.8 164.6,456.4 C168.5,445.1 171.7,439.1 175.2,431 C178.7,422.9 182.1,414.6 185.8,407.7 C189.5,400.8 193.2,392.1 197.5,389.6 C201.7,387.2 205.4,389.8 211.3,392.8 C217.1,395.8 225.4,403.8 232.5,407.7 C239.5,411.5 248.4,414.7 253.7,416.1 C258.9,417.6 258.8,416.2 263.9,416.6 C268.9,416.9 280.6,418 284,418.3" stroke="#ee2a2e" stroke-width="3.0" fill="none" stroke-dasharray="9,4.5" clip-path="url(#clipA)"/>
<path d="M122.2,683.4 C125,675.6 133.5,651.6 139.1,636.7 C144.8,621.9 150.5,607.4 156.1,594.3 C161.8,581.2 168.1,568.1 173.1,558.2 C178,548.3 181.7,540.7 185.8,534.9 C189.9,529.1 193.2,524.7 197.5,523.2 C201.7,521.8 206.1,523.8 211.3,526.4 C216.4,529.1 222.6,534.2 228.2,539.2 C233.9,544.1 240.2,550.5 245.2,556.1 C250.1,561.8 254.8,568.1 257.9,573.1 C261,578 261.7,581.2 263.9,585.8 C266,590.4 267.3,593.9 270.6,600.7 C274,607.4 281.8,621.9 284,626.1" stroke="#3a3a3a" stroke-width="3.2" fill="none" clip-path="url(#clipA)"/><path d="M122.2,683.4 C125,675.6 133.5,651.6 139.1,636.7 C144.8,621.9 150.5,607.4 156.1,594.3 C161.8,581.2 168.1,568.1 173.1,558.2 C178,548.3 181.7,540.7 185.8,534.9 C189.9,529.1 193.2,524.7 197.5,523.2 C201.7,521.8 206.1,523.8 211.3,526.4 C216.4,529.1 222.6,534.2 228.2,539.2 C233.9,544.1 240.2,550.5 245.2,556.1 C250.1,561.8 254.8,568.1 257.9,573.1 C261,578 261.7,581.2 263.9,585.8 C266,590.4 267.3,593.9 270.6,600.7 C274,607.4 281.8,621.9 284,626.1" stroke="#ee2a2e" stroke-width="3.0" fill="none" stroke-dasharray="9,4.5" clip-path="url(#clipA)"/>
<path d="M111.6,683.4 C114,679.1 121.1,668.2 126.4,657.9 C131.7,647.7 137,633.2 143.4,621.9 C149.7,610.6 158.6,598.5 164.6,590.1 C170.6,581.6 174,576.1 179.4,571 C184.9,565.8 192.9,561.6 197.5,559.3 C202.1,557 202.9,559.1 207,557.2 C211.1,555.2 216.6,552.4 221.9,547.6 C227.2,542.9 233.5,535.6 238.8,528.6 C244.1,521.5 249.5,512.3 253.7,505.2 C257.8,498.2 260.3,493.6 263.9,486.1 C267.4,478.7 271.5,467.8 274.9,460.7 C278.2,453.6 282.5,446.5 284,443.7" stroke="#3a3a3a" stroke-width="3.2" fill="none" clip-path="url(#clipA)"/><path d="M111.6,683.4 C114,679.1 121.1,668.2 126.4,657.9 C131.7,647.7 137,633.2 143.4,621.9 C149.7,610.6 158.6,598.5 164.6,590.1 C170.6,581.6 174,576.1 179.4,571 C184.9,565.8 192.9,561.6 197.5,559.3 C202.1,557 202.9,559.1 207,557.2 C211.1,555.2 216.6,552.4 221.9,547.6 C227.2,542.9 233.5,535.6 238.8,528.6 C244.1,521.5 249.5,512.3 253.7,505.2 C257.8,498.2 260.3,493.6 263.9,486.1 C267.4,478.7 271.5,467.8 274.9,460.7 C278.2,453.6 282.5,446.5 284,443.7" stroke="#ee2a2e" stroke-width="3.0" fill="none" stroke-dasharray="9,4.5" clip-path="url(#clipA)"/>
<path d="M84,579.5 C86.1,580.5 92.5,582.3 96.7,585.8 C101,589.3 105.2,594.7 109.5,600.7 C113.7,606.7 117.9,615.5 122.2,621.9 C126.4,628.2 130.7,635.3 134.9,638.8 C139.1,642.4 143.4,643.1 147.6,643.1 C151.9,643.1 155.8,641.3 160.4,638.8 C164.9,636.4 170.2,630.5 175.2,628.2 C180.1,625.9 186.3,625.6 190,625.1 C193.8,624.5 193.9,624.7 197.5,625.1 C201,625.4 205.4,625.9 211.3,627.2 C217.1,628.4 225.7,630.9 232.5,632.5 C239.2,634.1 246.3,636 251.6,636.7 C256.8,637.4 260,636.7 263.9,636.7 C267.7,636.7 271.5,636.7 274.9,636.7 C278.2,636.7 282.5,636.7 284,636.7" stroke="#3a3a3a" stroke-width="3.2" fill="none" clip-path="url(#clipA)"/><path d="M84,579.5 C86.1,580.5 92.5,582.3 96.7,585.8 C101,589.3 105.2,594.7 109.5,600.7 C113.7,606.7 117.9,615.5 122.2,621.9 C126.4,628.2 130.7,635.3 134.9,638.8 C139.1,642.4 143.4,643.1 147.6,643.1 C151.9,643.1 155.8,641.3 160.4,638.8 C164.9,636.4 170.2,630.5 175.2,628.2 C180.1,625.9 186.3,625.6 190,625.1 C193.8,624.5 193.9,624.7 197.5,625.1 C201,625.4 205.4,625.9 211.3,627.2 C217.1,628.4 225.7,630.9 232.5,632.5 C239.2,634.1 246.3,636 251.6,636.7 C256.8,637.4 260,636.7 263.9,636.7 C267.7,636.7 271.5,636.7 274.9,636.7 C278.2,636.7 282.5,636.7 284,636.7" stroke="#ee2a2e" stroke-width="3.0" fill="none" stroke-dasharray="9,4.5" clip-path="url(#clipA)"/>
<path d="M84,679.1 C86.1,679 92.5,679.1 96.7,678.1 C101,677 104.5,676.1 109.5,672.8 C114.4,669.4 120.1,664.3 126.4,657.9 C132.8,651.6 140.6,641.7 147.6,634.6 C154.7,627.5 162.5,620.8 168.8,615.5 C175.2,610.2 181,605.3 185.8,602.8 C190.6,600.3 192.5,600.8 197.5,600.7 C202.4,600.5 209,600.7 215.5,601.7 C222,602.8 230.3,604.7 236.7,607 C243.1,609.3 249.1,613.2 253.7,615.5 C258.2,617.8 260.3,618.7 263.9,620.8 C267.4,622.9 271.5,625.6 274.9,628.2 C278.2,630.9 282.5,635.3 284,636.7" stroke="#3a3a3a" stroke-width="3.2" fill="none" clip-path="url(#clipA)"/><path d="M84,679.1 C86.1,679 92.5,679.1 96.7,678.1 C101,677 104.5,676.1 109.5,672.8 C114.4,669.4 120.1,664.3 126.4,657.9 C132.8,651.6 140.6,641.7 147.6,634.6 C154.7,627.5 162.5,620.8 168.8,615.5 C175.2,610.2 181,605.3 185.8,602.8 C190.6,600.3 192.5,600.8 197.5,600.7 C202.4,600.5 209,600.7 215.5,601.7 C222,602.8 230.3,604.7 236.7,607 C243.1,609.3 249.1,613.2 253.7,615.5 C258.2,617.8 260.3,618.7 263.9,620.8 C267.4,622.9 271.5,625.6 274.9,628.2 C278.2,630.9 282.5,635.3 284,636.7" stroke="#ee2a2e" stroke-width="3.0" fill="none" stroke-dasharray="9,4.5" clip-path="url(#clipA)"/>
<path d="M224,683.4 C226.1,679.8 232.1,669.9 236.7,662.2 C241.3,654.4 247,643.8 251.6,636.7 C256.1,629.6 260.7,623.5 263.9,619.7 C267,616 267.3,615.7 270.6,614.4 C274,613.2 281.8,612.7 284,612.3" stroke="#3a3a3a" stroke-width="3.2" fill="none" clip-path="url(#clipA)"/><path d="M224,683.4 C226.1,679.8 232.1,669.9 236.7,662.2 C241.3,654.4 247,643.8 251.6,636.7 C256.1,629.6 260.7,623.5 263.9,619.7 C267,616 267.3,615.7 270.6,614.4 C274,613.2 281.8,612.7 284,612.3" stroke="#ee2a2e" stroke-width="3.0" fill="none" stroke-dasharray="9,4.5" clip-path="url(#clipA)"/>
<path d="M243.1,683.4 C244.5,678.4 249.1,663.2 251.6,653.7 C254,644.1 255.9,636.4 257.9,626.1 C260,615.9 262.1,600.7 263.9,592.2 C265.6,583.7 267.7,578 268.5,575.2" stroke="#3a3a3a" stroke-width="3.2" fill="none" clip-path="url(#clipA)"/><path d="M243.1,683.4 C244.5,678.4 249.1,663.2 251.6,653.7 C254,644.1 255.9,636.4 257.9,626.1 C260,615.9 262.1,600.7 263.9,592.2 C265.6,583.7 267.7,578 268.5,575.2" stroke="#ee2a2e" stroke-width="3.0" fill="none" stroke-dasharray="9,4.5" clip-path="url(#clipA)"/>
<path d="M84,678.1 C86.1,678.4 93.2,679.3 96.7,680.2 C100.3,681.1 103.8,682.8 105.2,683.4" stroke="#3a3a3a" stroke-width="3.2" fill="none" clip-path="url(#clipA)"/><path d="M84,678.1 C86.1,678.4 93.2,679.3 96.7,680.2 C100.3,681.1 103.8,682.8 105.2,683.4" stroke="#ee2a2e" stroke-width="3.0" fill="none" stroke-dasharray="9,4.5" clip-path="url(#clipA)"/>
<path d="M306.4,38.9 C307.8,45.1 312.1,65.6 314.9,76.1 C317.7,86.5 320.2,93.7 323.4,101.5 C326.6,109.3 330.5,117.6 334,122.7 C337.5,127.8 341.1,130.5 344.6,132.3 C348.1,134 350.2,134.2 355.2,133.3 C360.1,132.4 367.7,128.4 374.3,127 C380.9,125.5 388.3,127 394.6,124.8 C401,122.7 406.7,119 412.5,114.2 C418.3,109.5 423.8,101 429.4,96.2 C435.1,91.4 442.5,87.4 446.4,85.6 C450.3,83.8 450,85.7 453,85.2 C455.9,84.6 462.2,82.9 464,82.4" stroke="#3a3a3a" stroke-width="3.2" fill="none" clip-path="url(#clipA)"/><path d="M306.4,38.9 C307.8,45.1 312.1,65.6 314.9,76.1 C317.7,86.5 320.2,93.7 323.4,101.5 C326.6,109.3 330.5,117.6 334,122.7 C337.5,127.8 341.1,130.5 344.6,132.3 C348.1,134 350.2,134.2 355.2,133.3 C360.1,132.4 367.7,128.4 374.3,127 C380.9,125.5 388.3,127 394.6,124.8 C401,122.7 406.7,119 412.5,114.2 C418.3,109.5 423.8,101 429.4,96.2 C435.1,91.4 442.5,87.4 446.4,85.6 C450.3,83.8 450,85.7 453,85.2 C455.9,84.6 462.2,82.9 464,82.4" stroke="#ee2a2e" stroke-width="3.0" fill="none" stroke-dasharray="9,4.5" clip-path="url(#clipA)"/>
<path d="M342.5,38.9 C344.2,42.7 349.2,54 353.1,61.2 C357,68.5 361.9,75.7 365.8,82.4 C369.7,89.1 372.9,96.6 376.4,101.5 C379.9,106.5 384,110 387,112.1 C390.1,114.2 390.4,113.9 394.6,114.2 C398.9,114.6 406,114.2 412.5,114.2 C419,114.2 426.9,114.2 433.7,114.2 C440.4,114.2 447.9,114.2 453,114.2 C458,114.2 462.2,114.2 464,114.2" stroke="#3a3a3a" stroke-width="3.2" fill="none" clip-path="url(#clipA)"/><path d="M342.5,38.9 C344.2,42.7 349.2,54 353.1,61.2 C357,68.5 361.9,75.7 365.8,82.4 C369.7,89.1 372.9,96.6 376.4,101.5 C379.9,106.5 384,110 387,112.1 C390.1,114.2 390.4,113.9 394.6,114.2 C398.9,114.6 406,114.2 412.5,114.2 C419,114.2 426.9,114.2 433.7,114.2 C440.4,114.2 447.9,114.2 453,114.2 C458,114.2 462.2,114.2 464,114.2" stroke="#ee2a2e" stroke-width="3.0" fill="none" stroke-dasharray="9,4.5" clip-path="url(#clipA)"/>
<path d="M264,231.9 C266.1,232.3 272.5,234.1 276.7,234.1 C281,234.1 284.5,233.2 289.5,231.9 C294.4,230.7 301.5,227.9 306.4,226.6 C311.4,225.3 314.5,224.1 319.1,224.1 C323.7,224.1 329,225.2 334,226.6 C338.9,228.1 344.2,230.9 348.8,233 C353.4,235.1 357.3,238.1 361.6,239.4 C365.8,240.6 368.8,240.6 374.3,240.4 C379.8,240.2 388.3,240.6 394.6,238.3 C401,236 406.3,232.1 412.5,226.6 C418.6,221.2 426.2,210.6 431.6,205.4 C436.9,200.3 440.7,197.8 444.3,195.9 C447.8,193.9 449.7,197.8 453,193.8 C456.3,189.7 462.2,175.2 464,171.5" stroke="#3a3a3a" stroke-width="3.2" fill="none" clip-path="url(#clipA)"/><path d="M264,231.9 C266.1,232.3 272.5,234.1 276.7,234.1 C281,234.1 284.5,233.2 289.5,231.9 C294.4,230.7 301.5,227.9 306.4,226.6 C311.4,225.3 314.5,224.1 319.1,224.1 C323.7,224.1 329,225.2 334,226.6 C338.9,228.1 344.2,230.9 348.8,233 C353.4,235.1 357.3,238.1 361.6,239.4 C365.8,240.6 368.8,240.6 374.3,240.4 C379.8,240.2 388.3,240.6 394.6,238.3 C401,236 406.3,232.1 412.5,226.6 C418.6,221.2 426.2,210.6 431.6,205.4 C436.9,200.3 440.7,197.8 444.3,195.9 C447.8,193.9 449.7,197.8 453,193.8 C456.3,189.7 462.2,175.2 464,171.5" stroke="#ee2a2e" stroke-width="3.0" fill="none" stroke-dasharray="9,4.5" clip-path="url(#clipA)"/>
<path d="M264,226.6 C267.5,228.1 279.6,232.3 285.2,235.1 C290.9,237.9 293.7,239.7 297.9,243.6 C302.2,247.5 306.4,253.1 310.7,258.5 C314.9,263.8 319.1,269.4 323.4,275.4 C327.6,281.4 331.9,288.5 336.1,294.5 C340.4,300.5 344.6,307.2 348.8,311.5 C353.1,315.7 357.3,317.8 361.6,320 C365.8,322.1 368.8,323.3 374.3,324.2 C379.8,325.1 388.3,325.1 394.6,325.3 C401,325.4 406,325.3 412.5,325.3 C419,325.3 426.9,325.3 433.7,325.3 C440.4,325.3 447.9,325.3 453,325.3 C458,325.3 462.2,325.3 464,325.3" stroke="#3a3a3a" stroke-width="3.2" fill="none" clip-path="url(#clipA)"/><path d="M264,226.6 C267.5,228.1 279.6,232.3 285.2,235.1 C290.9,237.9 293.7,239.7 297.9,243.6 C302.2,247.5 306.4,253.1 310.7,258.5 C314.9,263.8 319.1,269.4 323.4,275.4 C327.6,281.4 331.9,288.5 336.1,294.5 C340.4,300.5 344.6,307.2 348.8,311.5 C353.1,315.7 357.3,317.8 361.6,320 C365.8,322.1 368.8,323.3 374.3,324.2 C379.8,325.1 388.3,325.1 394.6,325.3 C401,325.4 406,325.3 412.5,325.3 C419,325.3 426.9,325.3 433.7,325.3 C440.4,325.3 447.9,325.3 453,325.3 C458,325.3 462.2,325.3 464,325.3" stroke="#ee2a2e" stroke-width="3.0" fill="none" stroke-dasharray="9,4.5" clip-path="url(#clipA)"/>
<path d="M264,278.6 C266.1,279.3 272.5,280.9 276.7,282.8 C281,284.8 285.2,287.6 289.5,290.3 C293.7,292.9 297.9,295.6 302.2,298.7 C306.4,301.9 310.7,306.3 314.9,309.4 C319.1,312.4 324.1,316.1 327.6,316.8 C331.2,317.5 333.3,316.6 336.1,313.6 C338.9,310.6 341.8,304.1 344.6,298.7 C347.4,293.4 349.9,287.8 353.1,281.8 C356.3,275.8 360.3,267.8 363.7,262.7 C367,257.6 370,252.4 373.2,251 C376.4,249.6 379.2,252.4 382.8,254.2 C386.3,256 389.7,261.3 394.6,261.6 C399.6,262 406,258.8 412.5,256.3 C419,253.9 426.9,249.4 433.7,246.8 C440.4,244.1 447.9,241 453,240.4 C458,239.9 462.2,243.1 464,243.6" stroke="#3a3a3a" stroke-width="3.2" fill="none" clip-path="url(#clipA)"/><path d="M264,278.6 C266.1,279.3 272.5,280.9 276.7,282.8 C281,284.8 285.2,287.6 289.5,290.3 C293.7,292.9 297.9,295.6 302.2,298.7 C306.4,301.9 310.7,306.3 314.9,309.4 C319.1,312.4 324.1,316.1 327.6,316.8 C331.2,317.5 333.3,316.6 336.1,313.6 C338.9,310.6 341.8,304.1 344.6,298.7 C347.4,293.4 349.9,287.8 353.1,281.8 C356.3,275.8 360.3,267.8 363.7,262.7 C367,257.6 370,252.4 373.2,251 C376.4,249.6 379.2,252.4 382.8,254.2 C386.3,256 389.7,261.3 394.6,261.6 C399.6,262 406,258.8 412.5,256.3 C419,253.9 426.9,249.4 433.7,246.8 C440.4,244.1 447.9,241 453,240.4 C458,239.9 462.2,243.1 464,243.6" stroke="#ee2a2e" stroke-width="3.0" fill="none" stroke-dasharray="9,4.5" clip-path="url(#clipA)"/>
<path d="M128.5,196.9 C130,193.8 133.8,184.2 137,177.9 C140.2,171.5 144.4,165.1 147.6,158.8 C150.8,152.4 153.6,145 156.1,139.7 C158.6,134.4 161.4,129.1 162.5,127" stroke="#ee2a2e" stroke-width="3.0" fill="none" stroke-dasharray="9,4.5" clip-path="url(#clipA)"/>
<path d="M84,157.7 C86.1,156.5 92.8,154.4 96.7,150.3 C100.6,146.2 104.1,139.3 107.3,133.3 C110.5,127.3 113,121.7 115.8,114.2 C118.6,106.8 121.5,97.6 124.3,88.8 C127.1,79.9 130.2,69.5 132.8,61.2 C135.3,52.9 138.4,42.7 139.6,38.9" stroke="#ee2a2e" stroke-width="3.0" fill="none" stroke-dasharray="9,4.5" clip-path="url(#clipA)"/>
<path d="M84,127 C86.1,128 92.8,131.4 96.7,133.3 C100.6,135.3 103.4,138.6 107.3,138.6 C111.2,138.6 115.8,134.9 120.1,133.3 C124.3,131.7 130.7,129.8 132.8,129.1" stroke="#ee2a2e" stroke-width="3.0" fill="none" stroke-dasharray="9,4.5" clip-path="url(#clipA)"/>
<path d="M197.5,64.4 C199.1,63.9 204,62.8 207,61.2 C210,59.6 212.7,57.7 215.5,54.8 C218.3,52 221.9,46.9 224,44.2 C226.1,41.6 227.5,39.8 228.2,38.9" stroke="#ee2a2e" stroke-width="3.0" fill="none" stroke-dasharray="9,4.5" clip-path="url(#clipA)"/>
<path d="M220.8,38.9 C222.7,41.2 228.4,48.3 232.5,52.7 C236.5,57.1 240.9,61.6 245.2,65.5 C249.4,69.3 254.8,73.7 257.9,75.6 C261,77.6 261,78.3 263.9,77.1 C266.7,75.9 271.5,72 274.9,68.6 C278.2,65.3 282.5,58.9 284,57" stroke="#ee2a2e" stroke-width="3.0" fill="none" stroke-dasharray="9,4.5" clip-path="url(#clipA)"/>
<path d="M237.8,38.9 C239.4,41.2 244.3,48.3 247.3,52.7 C250.3,57.1 253,61.5 255.8,65.5 C258.5,69.4 262.5,74.6 263.9,76.5" stroke="#ee2a2e" stroke-width="3.0" fill="none" stroke-dasharray="9,4.5" clip-path="url(#clipA)"/>
<path d="M264,76.1 C265.8,75.3 271.1,74.6 274.6,71.8 C278.1,69 282.4,63.3 285.2,59.1 C288,54.8 290.2,49.7 291.6,46.4 C293,43 293.3,40.2 293.7,38.9" stroke="#ee2a2e" stroke-width="3.0" fill="none" stroke-dasharray="9,4.5" clip-path="url(#clipA)"/>
<path d="M338.2,38.9 C339.3,42.7 342.1,52.2 344.6,61.2 C347.1,70.2 350.2,83.1 353.1,93 C355.9,102.9 359.1,114.2 361.6,120.6 C364,127 365.4,127 367.9,131.2 C370.4,135.4 373.2,141.8 376.4,146 C379.6,150.3 384,154.7 387,156.6 C390.1,158.6 391.8,156.6 394.6,157.7 C397.5,158.8 400.3,159.3 404,163 C407.7,166.7 412.5,173.6 416.7,180 C420.9,186.3 425.5,196.6 429.4,201.2 C433.3,205.8 436.1,205.6 440,207.6 C444,209.5 450.8,212 453,212.9" stroke="#ee2a2e" stroke-width="3.0" fill="none" stroke-dasharray="9,4.5" clip-path="url(#clipA)"/>
<path d="M264,226.6 C266.8,222.8 276.4,210.7 281,203.3 C285.6,195.9 288,187.1 291.6,182.1 C295.1,177.1 298.3,175.1 302.2,173.2 C306.1,171.2 310.7,169.7 314.9,170.4 C319.1,171.2 323.7,174.5 327.6,177.9 C331.5,181.2 334,185.3 338.2,190.6 C342.5,195.9 348.8,203.7 353.1,209.7 C357.3,215.7 360.1,221.7 363.7,226.6 C367.2,231.6 372.5,237.2 374.3,239.4" stroke="#ee2a2e" stroke-width="3.0" fill="none" stroke-dasharray="9,4.5" clip-path="url(#clipA)"/>
<path d="M452.9,194 C454.6,191.3 459.6,183.7 463.1,177.9 C466.6,172 470.5,166.9 473.7,158.8 C476.9,150.6 479.3,138.3 482.2,129.1 C485,119.9 487.8,111.4 490.7,103.6 C493.5,95.9 496.3,87.9 499.1,82.4 C502,76.9 504.8,71.5 507.6,70.8 C510.5,70 513.3,74.1 516.1,78.2 C518.9,82.2 521.8,88.8 524.6,95.1 C527.4,101.5 530.2,109.3 533.1,116.4 C535.9,123.4 538.7,130.5 541.6,137.6 C544.4,144.6 547.2,153.5 550,158.8 C552.9,164.1 555.7,166.9 558.5,169.4 C561.4,171.8 564.2,173.3 567,173.6 C569.8,174 572.7,173.6 575.5,171.5 C578.3,169.4 581.2,165.1 584,160.9 C586.8,156.6 589.3,151.3 592.5,146 C595.6,140.7 599.5,135.4 603.1,129.1 C606.6,122.7 610.1,114.9 613.7,107.9 C617.2,100.8 621.2,92.1 624.3,86.7 C627.3,81.2 629.4,76.1 631.9,75 C634.4,73.9 637.1,78.4 639.1,80.3 C641.1,82.2 643.2,85.6 644,86.7" stroke="#3a3a3a" stroke-width="3.2" fill="none" clip-path="url(#clipA)"/>
<path d="M624,88.8 C625.3,86.5 628.5,75.5 632.1,75 C635.6,74.5 640.2,82.8 645.2,85.6 C650.2,88.4 656.9,91.8 662.2,92 C667.5,92.1 672.8,89.3 677,86.7 C681.3,84 684.1,80.3 687.6,76.1 C691.2,71.8 694.7,66.5 698.2,61.2 C701.8,55.9 706.7,48 708.8,44.2 C711,40.5 710.6,39.8 711,38.9" stroke="#3a3a3a" stroke-width="3.2" fill="none" clip-path="url(#clipA)"/>
<path d="M624,63.3 C625.3,65.3 628.5,73.8 632.1,75 C635.6,76.2 639.5,70.9 645.2,70.8 C650.9,70.6 659.3,73.8 666.4,73.9 C673.5,74.1 680.6,71.6 687.6,71.8 C694.7,72 702.5,73.4 708.8,75 C715.2,76.6 720.1,79.8 725.8,81.4 C731.5,82.9 736.6,83.9 742.8,84.5 C749,85.1 759.6,84.9 762.9,85" stroke="#3a3a3a" stroke-width="3.2" fill="none" clip-path="url(#clipA)"/>
<path d="M708.8,38.9 C709.9,42.7 712.7,53.3 715.2,61.2 C717.7,69.2 720.9,78.2 723.7,86.7 C726.5,95.1 729.3,103.6 732.2,112.1 C735,120.6 737.8,129.4 740.6,137.6 C743.5,145.7 746.7,154.2 749.1,160.9 C751.6,167.6 753.2,172.6 755.5,177.9 C757.8,183.2 761.7,190.2 762.9,192.7" stroke="#3a3a3a" stroke-width="3.2" fill="none" clip-path="url(#clipA)"/>
<path d="M765,173.6 C766.3,172.6 769.8,171.1 772.5,167.3 C775.1,163.4 778.1,156.6 780.9,150.3 C783.8,143.9 786.6,136.9 789.4,129.1 C792.3,121.3 795.4,111.4 797.9,103.6 C800.4,95.9 802.2,90.2 804.3,82.4 C806.4,74.6 809,64.2 810.6,57 C812.2,49.7 813.3,41.9 813.8,38.9" stroke="#3a3a3a" stroke-width="3.2" fill="none" clip-path="url(#clipA)"/>
<path d="M765,76.5 C768,76.1 776.5,75.1 783.1,73.9 C789.6,72.8 797.9,70.4 804.3,69.7 C810.6,69 818.4,69.7 821.2,69.7" stroke="#3a3a3a" stroke-width="3.2" fill="none" clip-path="url(#clipA)"/>
<path d="M823.4,95.1 C825.5,94.8 831.8,94.1 836.1,93 C840.3,92 844.6,90.5 848.8,88.8 C853.1,87 857.7,84.4 861.5,82.4 C865.4,80.5 868.8,78.2 872.1,77.1 C875.5,76.1 880.1,76.2 881.7,76.1" stroke="#3a3a3a" stroke-width="3.2" fill="none" clip-path="url(#clipA)"/>
<path d="M84,44.5 C85,44.1 88,43.1 90.3,42.3 C92.6,41.5 96.7,40 98,39.5" stroke="#3a3a3a" stroke-width="3.2" fill="none" clip-path="url(#clipA)"/>
<path d="M264,481.9 C266.1,478.7 272.1,471.3 276.7,462.8 C281.3,454.3 286.6,440.9 291.6,431 C296.5,421.1 301.8,411.5 306.4,403.4 C311,395.3 314.9,389.3 319.1,382.2 C323.4,375.1 329.4,364.9 331.9,361 C334.3,357.1 333.6,359.2 334,358.9" stroke="#3a3a3a" stroke-width="3.2" fill="none" clip-path="url(#clipA)"/><path d="M264,481.9 C266.1,478.7 272.1,471.3 276.7,462.8 C281.3,454.3 286.6,440.9 291.6,431 C296.5,421.1 301.8,411.5 306.4,403.4 C311,395.3 314.9,389.3 319.1,382.2 C323.4,375.1 329.4,364.9 331.9,361 C334.3,357.1 333.6,359.2 334,358.9" stroke="#ee2a2e" stroke-width="3.0" fill="none" stroke-dasharray="9,4.5" clip-path="url(#clipA)"/>
<path d="M264,590.1 C265.4,585.5 269.7,572.4 272.5,562.5 C275.3,552.6 277.8,541.6 281,530.7 C284.1,519.7 287.3,508.8 291.6,496.7 C295.8,484.7 301.1,470.6 306.4,458.6 C311.7,446.5 317.7,436.3 323.4,424.6 C329,413 335.8,399.2 340.4,388.6 C344.9,378 349.2,365.6 351,361" stroke="#3a3a3a" stroke-width="3.2" fill="none" clip-path="url(#clipA)"/><path d="M264,590.1 C265.4,585.5 269.7,572.4 272.5,562.5 C275.3,552.6 277.8,541.6 281,530.7 C284.1,519.7 287.3,508.8 291.6,496.7 C295.8,484.7 301.1,470.6 306.4,458.6 C311.7,446.5 317.7,436.3 323.4,424.6 C329,413 335.8,399.2 340.4,388.6 C344.9,378 349.2,365.6 351,361" stroke="#ee2a2e" stroke-width="3.0" fill="none" stroke-dasharray="9,4.5" clip-path="url(#clipA)"/>
<path d="M264,416.1 C266.1,416.2 272.5,415.5 276.7,416.6 C281,417.6 284.9,418.3 289.5,422.5 C294,426.7 300.1,434.5 304.3,441.6 C308.5,448.7 311,454 314.9,464.9 C318.8,475.9 323.7,494.3 327.6,507.3 C331.5,520.4 334.7,531 338.2,543.4 C341.8,555.8 345.7,568.5 348.8,581.6 C352,594.7 354.5,609.1 357.3,621.9 C360.1,634.6 363.7,649.1 365.8,657.9 C367.9,666.8 368.6,670.7 370,674.9 C371.5,679.1 373.6,682 374.3,683.4" stroke="#3a3a3a" stroke-width="3.2" fill="none" clip-path="url(#clipA)"/><path d="M264,416.1 C266.1,416.2 272.5,415.5 276.7,416.6 C281,417.6 284.9,418.3 289.5,422.5 C294,426.7 300.1,434.5 304.3,441.6 C308.5,448.7 311,454 314.9,464.9 C318.8,475.9 323.7,494.3 327.6,507.3 C331.5,520.4 334.7,531 338.2,543.4 C341.8,555.8 345.7,568.5 348.8,581.6 C352,594.7 354.5,609.1 357.3,621.9 C360.1,634.6 363.7,649.1 365.8,657.9 C367.9,666.8 368.6,670.7 370,674.9 C371.5,679.1 373.6,682 374.3,683.4" stroke="#ee2a2e" stroke-width="3.0" fill="none" stroke-dasharray="9,4.5" clip-path="url(#clipA)"/>
<path d="M351,361 C352.4,364.5 356.3,374.4 359.4,382.2 C362.6,390 366.2,399.9 370,407.7 C373.9,415.4 378.7,424.3 382.8,428.9 C386.9,433.5 390.8,432.4 394.6,435.2 C398.5,438.1 402.1,440.9 406.1,445.8 C410.1,450.8 414.2,457.9 418.8,464.9 C423.4,472 429.4,482.2 433.7,488.3 C437.9,494.3 441.1,498.3 444.3,501 C447.5,503.6 449.7,505.6 453,504.2 C456.3,502.7 462.2,494.4 464,492.5" stroke="#3a3a3a" stroke-width="3.2" fill="none" clip-path="url(#clipA)"/><path d="M351,361 C352.4,364.5 356.3,374.4 359.4,382.2 C362.6,390 366.2,399.9 370,407.7 C373.9,415.4 378.7,424.3 382.8,428.9 C386.9,433.5 390.8,432.4 394.6,435.2 C398.5,438.1 402.1,440.9 406.1,445.8 C410.1,450.8 414.2,457.9 418.8,464.9 C423.4,472 429.4,482.2 433.7,488.3 C437.9,494.3 441.1,498.3 444.3,501 C447.5,503.6 449.7,505.6 453,504.2 C456.3,502.7 462.2,494.4 464,492.5" stroke="#ee2a2e" stroke-width="3.0" fill="none" stroke-dasharray="9,4.5" clip-path="url(#clipA)"/>
<path d="M264,486.1 C266.1,490 272.1,499.9 276.7,509.5 C281.3,519 286.6,532.8 291.6,543.4 C296.5,554 301.5,562.8 306.4,573.1 C311.4,583.3 316.7,595 321.3,604.9 C325.9,614.8 330.1,624.3 334,632.5 C337.9,640.6 341.4,647.7 344.6,653.7 C347.8,659.7 350.6,664.6 353.1,668.5 C355.6,672.4 357.3,675.2 359.4,677 C361.6,678.8 363.3,678.8 365.8,679.1 C368.3,679.5 369.5,679.3 374.3,679.1 C379.1,679 388.3,678.4 394.6,678.1 C401,677.7 406,677.3 412.5,677 C419,676.8 426.9,676.8 433.7,676.6 C440.4,676.4 447.9,676.1 453,676 C458,675.8 462.2,676 464,676" stroke="#3a3a3a" stroke-width="3.2" fill="none" clip-path="url(#clipA)"/><path d="M264,486.1 C266.1,490 272.1,499.9 276.7,509.5 C281.3,519 286.6,532.8 291.6,543.4 C296.5,554 301.5,562.8 306.4,573.1 C311.4,583.3 316.7,595 321.3,604.9 C325.9,614.8 330.1,624.3 334,632.5 C337.9,640.6 341.4,647.7 344.6,653.7 C347.8,659.7 350.6,664.6 353.1,668.5 C355.6,672.4 357.3,675.2 359.4,677 C361.6,678.8 363.3,678.8 365.8,679.1 C368.3,679.5 369.5,679.3 374.3,679.1 C379.1,679 388.3,678.4 394.6,678.1 C401,677.7 406,677.3 412.5,677 C419,676.8 426.9,676.8 433.7,676.6 C440.4,676.4 447.9,676.1 453,676 C458,675.8 462.2,676 464,676" stroke="#ee2a2e" stroke-width="3.0" fill="none" stroke-dasharray="9,4.5" clip-path="url(#clipA)"/>
<path d="M264,635.7 C267.5,635.7 278.1,635.5 285.2,635.7 C292.3,635.8 299.3,636.2 306.4,636.7 C313.5,637.2 322,638.8 327.6,638.8 C333.3,638.8 336.1,638.8 340.4,636.7 C344.6,634.6 348.8,630.7 353.1,626.1 C357.3,621.5 361.6,614.8 365.8,609.1 C370,603.5 374.3,596.9 378.5,592.2 C382.8,587.4 388.6,582.6 391.3,580.5 C393.9,578.4 391.8,581 394.6,579.5 C397.5,577.9 403.5,575.6 408.2,571 C413,566.4 418.1,558.2 423.1,551.9 C428,545.5 432.9,537.6 437.9,532.8 C442.9,528 448.6,524 453,523.2 C457.3,522.5 462.2,527.7 464,528.6" stroke="#3a3a3a" stroke-width="3.2" fill="none" clip-path="url(#clipA)"/><path d="M264,635.7 C267.5,635.7 278.1,635.5 285.2,635.7 C292.3,635.8 299.3,636.2 306.4,636.7 C313.5,637.2 322,638.8 327.6,638.8 C333.3,638.8 336.1,638.8 340.4,636.7 C344.6,634.6 348.8,630.7 353.1,626.1 C357.3,621.5 361.6,614.8 365.8,609.1 C370,603.5 374.3,596.9 378.5,592.2 C382.8,587.4 388.6,582.6 391.3,580.5 C393.9,578.4 391.8,581 394.6,579.5 C397.5,577.9 403.5,575.6 408.2,571 C413,566.4 418.1,558.2 423.1,551.9 C428,545.5 432.9,537.6 437.9,532.8 C442.9,528 448.6,524 453,523.2 C457.3,522.5 462.2,527.7 464,528.6" stroke="#ee2a2e" stroke-width="3.0" fill="none" stroke-dasharray="9,4.5" clip-path="url(#clipA)"/>
<path d="M264,618.7 C265.4,618 269.3,615.5 272.5,614.4 C275.7,613.4 279.2,612.1 283.1,612.3 C287,612.5 290.9,613.2 295.8,615.5 C300.8,617.8 307.5,622.6 312.8,626.1 C318.1,629.6 323,632.8 327.6,636.7 C332.2,640.6 336.1,645.2 340.4,649.4 C344.6,653.7 349.2,658.3 353.1,662.2 C357,666.1 360.1,670.1 363.7,672.8 C367.2,675.4 372.5,677.2 374.3,678.1" stroke="#3a3a3a" stroke-width="3.2" fill="none" clip-path="url(#clipA)"/><path d="M264,618.7 C265.4,618 269.3,615.5 272.5,614.4 C275.7,613.4 279.2,612.1 283.1,612.3 C287,612.5 290.9,613.2 295.8,615.5 C300.8,617.8 307.5,622.6 312.8,626.1 C318.1,629.6 323,632.8 327.6,636.7 C332.2,640.6 336.1,645.2 340.4,649.4 C344.6,653.7 349.2,658.3 353.1,662.2 C357,666.1 360.1,670.1 363.7,672.8 C367.2,675.4 372.5,677.2 374.3,678.1" stroke="#ee2a2e" stroke-width="3.0" fill="none" stroke-dasharray="9,4.5" clip-path="url(#clipA)"/>
<path d="M264,592.2 C265.4,594.3 269.7,600 272.5,604.9 C275.3,609.9 278.1,615.9 281,621.9 C283.8,627.9 286.6,634.2 289.5,641 C292.3,647.7 295.5,655.1 297.9,662.2 C300.4,669.2 303.2,679.8 304.3,683.4" stroke="#3a3a3a" stroke-width="3.2" fill="none" clip-path="url(#clipA)"/><path d="M264,592.2 C265.4,594.3 269.7,600 272.5,604.9 C275.3,609.9 278.1,615.9 281,621.9 C283.8,627.9 286.6,634.2 289.5,641 C292.3,647.7 295.5,655.1 297.9,662.2 C300.4,669.2 303.2,679.8 304.3,683.4" stroke="#ee2a2e" stroke-width="3.0" fill="none" stroke-dasharray="9,4.5" clip-path="url(#clipA)"/>
<path d="M264,619.7 C265.8,621.2 271.1,624.7 274.6,628.2 C278.1,631.8 281.3,636 285.2,641 C289.1,645.9 293.3,652.3 297.9,657.9 C302.5,663.6 308.9,670.7 312.8,674.9 C316.7,679.1 319.9,682 321.3,683.4" stroke="#3a3a3a" stroke-width="3.2" fill="none" clip-path="url(#clipA)"/><path d="M264,619.7 C265.8,621.2 271.1,624.7 274.6,628.2 C278.1,631.8 281.3,636 285.2,641 C289.1,645.9 293.3,652.3 297.9,657.9 C302.5,663.6 308.9,670.7 312.8,674.9 C316.7,679.1 319.9,682 321.3,683.4" stroke="#ee2a2e" stroke-width="3.0" fill="none" stroke-dasharray="9,4.5" clip-path="url(#clipA)"/>
<path d="M268.2,600.7 C269.7,604.2 273.9,614.8 276.7,621.9 C279.6,628.9 282.4,636 285.2,643.1 C288,650.1 291.6,657.6 293.7,664.3 C295.8,671 297.2,680.2 297.9,683.4" stroke="#3a3a3a" stroke-width="3.2" fill="none" clip-path="url(#clipA)"/><path d="M268.2,600.7 C269.7,604.2 273.9,614.8 276.7,621.9 C279.6,628.9 282.4,636 285.2,643.1 C288,650.1 291.6,657.6 293.7,664.3 C295.8,671 297.2,680.2 297.9,683.4" stroke="#ee2a2e" stroke-width="3.0" fill="none" stroke-dasharray="9,4.5" clip-path="url(#clipA)"/>
<path d="M412.5,683.4 C414.6,679.8 420.9,668.5 425.2,662.2 C429.4,655.8 433.3,649.3 437.9,645.2 C442.5,641.1 448.6,639.2 453,637.8 C457.3,636.4 462.2,636.9 464,636.7" stroke="#3a3a3a" stroke-width="3.2" fill="none" clip-path="url(#clipA)"/><path d="M412.5,683.4 C414.6,679.8 420.9,668.5 425.2,662.2 C429.4,655.8 433.3,649.3 437.9,645.2 C442.5,641.1 448.6,639.2 453,637.8 C457.3,636.4 462.2,636.9 464,636.7" stroke="#ee2a2e" stroke-width="3.0" fill="none" stroke-dasharray="9,4.5" clip-path="url(#clipA)"/>
<path d="M444,84.5 C445.5,84.5 448.7,84.9 452.9,84.5 C457.1,84.2 463.9,83.5 469.5,82.4 C475,81.4 482.2,80.3 486.4,78.2 C490.7,76.1 492.4,73.9 494.9,69.7 C497.4,65.5 499.5,57.9 501.3,52.7 C503,47.6 504.8,41.2 505.5,38.9" stroke="#3a3a3a" stroke-width="3.2" fill="none" clip-path="url(#clipA)"/><path d="M444,84.5 C445.5,84.5 448.7,84.9 452.9,84.5 C457.1,84.2 463.9,83.5 469.5,82.4 C475,81.4 482.2,80.3 486.4,78.2 C490.7,76.1 492.4,73.9 494.9,69.7 C497.4,65.5 499.5,57.9 501.3,52.7 C503,47.6 504.8,41.2 505.5,38.9" stroke="#ee2a2e" stroke-width="3.0" fill="none" stroke-dasharray="9,4.5" clip-path="url(#clipA)"/>
<path d="M444,114.2 C445.5,114.2 449.4,114.2 452.9,114.2 C456.4,114.2 461,114.4 465.2,114.2 C469.4,114.1 474.4,114.9 477.9,113.2 C481.5,111.4 483.6,108 486.4,103.6 C489.2,99.2 492.4,92.7 494.9,86.7 C497.4,80.7 499.1,73.2 501.3,67.6 C503.4,61.9 505.5,57.5 507.6,52.7 C509.7,48 512.9,41.2 514,38.9" stroke="#3a3a3a" stroke-width="3.2" fill="none" clip-path="url(#clipA)"/><path d="M444,114.2 C445.5,114.2 449.4,114.2 452.9,114.2 C456.4,114.2 461,114.4 465.2,114.2 C469.4,114.1 474.4,114.9 477.9,113.2 C481.5,111.4 483.6,108 486.4,103.6 C489.2,99.2 492.4,92.7 494.9,86.7 C497.4,80.7 499.1,73.2 501.3,67.6 C503.4,61.9 505.5,57.5 507.6,52.7 C509.7,48 512.9,41.2 514,38.9" stroke="#ee2a2e" stroke-width="3.0" fill="none" stroke-dasharray="9,4.5" clip-path="url(#clipA)"/>
<path d="M452.9,212.9 C455,212 461,210.9 465.2,207.6 C469.4,204.2 473.7,198.7 477.9,192.7 C482.2,186.7 486.4,178.6 490.7,171.5 C494.9,164.4 499.1,157.4 503.4,150.3 C507.6,143.2 511.9,135.4 516.1,129.1 C520.4,122.7 524.6,117.8 528.8,112.1 C533.1,106.5 537.3,100.1 541.6,95.1 C545.8,90.2 550,85.6 554.3,82.4 C558.5,79.2 564.2,76.9 567,76.1 C569.8,75.2 569.1,74.3 571.3,77.1 C573.4,79.9 576.9,85.8 579.7,93 C582.6,100.3 585.4,111 588.2,120.6 C591,130.1 593.5,139.7 596.7,150.3 C599.9,160.9 603.8,174 607.3,184.2 C610.8,194.5 613.8,201.9 617.9,211.8 C622,221.7 629.6,238.3 631.9,243.6" stroke="#3a3a3a" stroke-width="3.2" fill="none" clip-path="url(#clipA)"/><path d="M452.9,212.9 C455,212 461,210.9 465.2,207.6 C469.4,204.2 473.7,198.7 477.9,192.7 C482.2,186.7 486.4,178.6 490.7,171.5 C494.9,164.4 499.1,157.4 503.4,150.3 C507.6,143.2 511.9,135.4 516.1,129.1 C520.4,122.7 524.6,117.8 528.8,112.1 C533.1,106.5 537.3,100.1 541.6,95.1 C545.8,90.2 550,85.6 554.3,82.4 C558.5,79.2 564.2,76.9 567,76.1 C569.8,75.2 569.1,74.3 571.3,77.1 C573.4,79.9 576.9,85.8 579.7,93 C582.6,100.3 585.4,111 588.2,120.6 C591,130.1 593.5,139.7 596.7,150.3 C599.9,160.9 603.8,174 607.3,184.2 C610.8,194.5 613.8,201.9 617.9,211.8 C622,221.7 629.6,238.3 631.9,243.6" stroke="#ee2a2e" stroke-width="3.0" fill="none" stroke-dasharray="9,4.5" clip-path="url(#clipA)"/>
<path d="M444,196.9 C445.5,196.5 449.7,196.5 452.9,194.4 C456.1,192.3 459.6,189.1 463.1,184.2 C466.6,179.3 470.2,171.1 473.7,165.1 C477.2,159.1 480.4,152.4 484.3,148.2 C488.2,143.9 492.8,141.6 497,139.7 C501.3,137.7 505.9,139 509.7,136.5 C513.6,134 516.5,129.6 520.4,124.8 C524.2,120.1 528.8,114.2 533.1,107.9 C537.3,101.5 541.9,92.7 545.8,86.7 C549.7,80.7 552.9,75.2 556.4,71.8 C559.9,68.5 563.8,67.7 567,66.5 C570.2,65.3 572.7,66 575.5,64.4 C578.3,62.8 581.5,61.2 584,57 C586.5,52.7 589.3,41.9 590.3,38.9" stroke="#3a3a3a" stroke-width="3.2" fill="none" clip-path="url(#clipA)"/><path d="M444,196.9 C445.5,196.5 449.7,196.5 452.9,194.4 C456.1,192.3 459.6,189.1 463.1,184.2 C466.6,179.3 470.2,171.1 473.7,165.1 C477.2,159.1 480.4,152.4 484.3,148.2 C488.2,143.9 492.8,141.6 497,139.7 C501.3,137.7 505.9,139 509.7,136.5 C513.6,134 516.5,129.6 520.4,124.8 C524.2,120.1 528.8,114.2 533.1,107.9 C537.3,101.5 541.9,92.7 545.8,86.7 C549.7,80.7 552.9,75.2 556.4,71.8 C559.9,68.5 563.8,67.7 567,66.5 C570.2,65.3 572.7,66 575.5,64.4 C578.3,62.8 581.5,61.2 584,57 C586.5,52.7 589.3,41.9 590.3,38.9" stroke="#ee2a2e" stroke-width="3.0" fill="none" stroke-dasharray="9,4.5" clip-path="url(#clipA)"/>
<path d="M452.9,212.9 C455,214.8 460.3,220.1 465.2,224.5 C470.1,228.9 476.5,235.1 482.2,239.4 C487.8,243.6 493.1,246.8 499.1,250 C505.2,253.1 511.5,256 518.2,258.5 C524.9,260.9 532.7,263.4 539.4,264.8 C546.2,266.2 553.9,266.5 558.5,266.9 C563.1,267.4 564.2,267.7 567,267.4 C569.8,267 572,267 575.5,264.8 C579,262.6 584,257.4 588.2,254.2 C592.5,251 596.7,247.5 600.9,245.7 C605.2,244 609.4,243.8 613.7,243.6 C617.9,243.4 623.4,244.3 626.4,244.7 C629.4,245 629,244.8 631.9,245.7 C634.8,246.6 642,249.3 644,250" stroke="#3a3a3a" stroke-width="3.2" fill="none" clip-path="url(#clipA)"/><path d="M452.9,212.9 C455,214.8 460.3,220.1 465.2,224.5 C470.1,228.9 476.5,235.1 482.2,239.4 C487.8,243.6 493.1,246.8 499.1,250 C505.2,253.1 511.5,256 518.2,258.5 C524.9,260.9 532.7,263.4 539.4,264.8 C546.2,266.2 553.9,266.5 558.5,266.9 C563.1,267.4 564.2,267.7 567,267.4 C569.8,267 572,267 575.5,264.8 C579,262.6 584,257.4 588.2,254.2 C592.5,251 596.7,247.5 600.9,245.7 C605.2,244 609.4,243.8 613.7,243.6 C617.9,243.4 623.4,244.3 626.4,244.7 C629.4,245 629,244.8 631.9,245.7 C634.8,246.6 642,249.3 644,250" stroke="#ee2a2e" stroke-width="3.0" fill="none" stroke-dasharray="9,4.5" clip-path="url(#clipA)"/>
<path d="M444,242.5 C445.5,242.2 450.1,239.5 452.9,240.4 C455.7,241.3 457.9,243.8 461,247.8 C464.1,251.9 467.3,259.2 471.6,264.8 C475.8,270.5 481.1,276.8 486.4,281.8 C491.7,286.7 497.7,290.6 503.4,294.5 C509,298.4 514.7,301.9 520.4,305.1 C526,308.3 531.7,311.1 537.3,313.6 C543,316.1 549.3,318.5 554.3,320 C559.2,321.4 562.8,322.4 567,322.1 C571.3,321.7 574.8,320.7 579.7,317.8 C584.7,315 591,310.4 596.7,305.1 C602.4,299.8 608.7,291.3 613.7,286 C618.6,280.7 623.4,276.1 626.4,273.3 C629.4,270.5 629,268.7 631.9,269.1 C634.8,269.4 642,274.4 644,275.4" stroke="#3a3a3a" stroke-width="3.2" fill="none" clip-path="url(#clipA)"/><path d="M444,242.5 C445.5,242.2 450.1,239.5 452.9,240.4 C455.7,241.3 457.9,243.8 461,247.8 C464.1,251.9 467.3,259.2 471.6,264.8 C475.8,270.5 481.1,276.8 486.4,281.8 C491.7,286.7 497.7,290.6 503.4,294.5 C509,298.4 514.7,301.9 520.4,305.1 C526,308.3 531.7,311.1 537.3,313.6 C543,316.1 549.3,318.5 554.3,320 C559.2,321.4 562.8,322.4 567,322.1 C571.3,321.7 574.8,320.7 579.7,317.8 C584.7,315 591,310.4 596.7,305.1 C602.4,299.8 608.7,291.3 613.7,286 C618.6,280.7 623.4,276.1 626.4,273.3 C629.4,270.5 629,268.7 631.9,269.1 C634.8,269.4 642,274.4 644,275.4" stroke="#ee2a2e" stroke-width="3.0" fill="none" stroke-dasharray="9,4.5" clip-path="url(#clipA)"/>
<path d="M469.9,327 C471.4,327.2 476.1,327.2 479.2,328.4 C482.3,329.6 485.4,332.5 488.5,334.2 C491.6,335.9 494.8,337.3 497.9,338.6 C500.9,339.9 504.8,341.5 507,341.8 C509.1,342.1 509.6,341.3 510.8,340.5 C512,339.7 512.9,338.6 514,336.9 C515,335.3 516.3,332.7 517.2,330.8 C518,328.8 518.2,328.1 519.1,325.3 C520,322.4 520.8,318.7 522.5,313.6 C524.1,308.5 526.4,301.2 528.8,294.5 C531.3,287.8 534.5,279.7 537.3,273.3 C540.1,266.9 543,260.9 545.8,256.3 C548.6,251.7 550.8,248.4 554.3,245.7 C557.8,243.1 562.4,240.8 567,240.4 C571.6,240.1 576.9,242.5 581.9,243.6 C586.8,244.7 591.4,245.9 596.7,246.8 C602,247.7 607.8,248.4 613.7,248.9 C619.5,249.4 626.9,250 631.9,250 C637,250 642,249.1 644,248.9" stroke="#3a3a3a" stroke-width="3.2" fill="none" clip-path="url(#clipA)"/><path d="M469.9,327 C471.4,327.2 476.1,327.2 479.2,328.4 C482.3,329.6 485.4,332.5 488.5,334.2 C491.6,335.9 494.8,337.3 497.9,338.6 C500.9,339.9 504.8,341.5 507,341.8 C509.1,342.1 509.6,341.3 510.8,340.5 C512,339.7 512.9,338.6 514,336.9 C515,335.3 516.3,332.7 517.2,330.8 C518,328.8 518.2,328.1 519.1,325.3 C520,322.4 520.8,318.7 522.5,313.6 C524.1,308.5 526.4,301.2 528.8,294.5 C531.3,287.8 534.5,279.7 537.3,273.3 C540.1,266.9 543,260.9 545.8,256.3 C548.6,251.7 550.8,248.4 554.3,245.7 C557.8,243.1 562.4,240.8 567,240.4 C571.6,240.1 576.9,242.5 581.9,243.6 C586.8,244.7 591.4,245.9 596.7,246.8 C602,247.7 607.8,248.4 613.7,248.9 C619.5,249.4 626.9,250 631.9,250 C637,250 642,249.1 644,248.9" stroke="#ee2a2e" stroke-width="3.0" fill="none" stroke-dasharray="9,4.5" clip-path="url(#clipA)"/>
<path d="M444,324.2 C447.5,324.4 458.1,324.7 465.2,325.3 C472.3,325.8 479.3,326.9 486.4,327.4 C493.5,327.9 500.6,328.3 507.6,328.4 C514.7,328.6 521.8,328.4 528.8,328.4 C535.9,328.4 543.7,328.4 550,328.4 C556.4,328.4 561.7,328.6 567,328.4 C572.3,328.3 575.8,328.1 581.9,327.4 C587.9,326.7 596,324.7 603.1,324.2 C610.1,323.7 617.5,324 624.3,324.2 C631.1,324.4 640.7,325.1 644,325.3" stroke="#3a3a3a" stroke-width="3.2" fill="none" clip-path="url(#clipA)"/><path d="M444,324.2 C447.5,324.4 458.1,324.7 465.2,325.3 C472.3,325.8 479.3,326.9 486.4,327.4 C493.5,327.9 500.6,328.3 507.6,328.4 C514.7,328.6 521.8,328.4 528.8,328.4 C535.9,328.4 543.7,328.4 550,328.4 C556.4,328.4 561.7,328.6 567,328.4 C572.3,328.3 575.8,328.1 581.9,327.4 C587.9,326.7 596,324.7 603.1,324.2 C610.1,323.7 617.5,324 624.3,324.2 C631.1,324.4 640.7,325.1 644,325.3" stroke="#ee2a2e" stroke-width="3.0" fill="none" stroke-dasharray="9,4.5" clip-path="url(#clipA)"/>
<path d="M444,347.5 C447.5,347.4 458.8,347.9 465.2,346.5 C471.6,345.1 476.5,342.1 482.2,339 C487.8,336 493.8,332.3 499.1,328.4 C504.4,324.6 509.7,318.5 514,315.7 C518.2,312.9 520.4,311.8 524.6,311.5 C528.8,311.1 534.5,312.5 539.4,313.6 C544.4,314.7 549.7,316.4 554.3,317.8 C558.9,319.3 562.4,321.7 567,322.1 C571.6,322.4 575.8,321.4 581.9,320 C587.9,318.5 596,315 603.1,313.6 C610.1,312.2 617.5,311.8 624.3,311.5 C631.1,311.1 640.7,311.5 644,311.5" stroke="#3a3a3a" stroke-width="3.2" fill="none" clip-path="url(#clipA)"/><path d="M444,347.5 C447.5,347.4 458.8,347.9 465.2,346.5 C471.6,345.1 476.5,342.1 482.2,339 C487.8,336 493.8,332.3 499.1,328.4 C504.4,324.6 509.7,318.5 514,315.7 C518.2,312.9 520.4,311.8 524.6,311.5 C528.8,311.1 534.5,312.5 539.4,313.6 C544.4,314.7 549.7,316.4 554.3,317.8 C558.9,319.3 562.4,321.7 567,322.1 C571.6,322.4 575.8,321.4 581.9,320 C587.9,318.5 596,315 603.1,313.6 C610.1,312.2 617.5,311.8 624.3,311.5 C631.1,311.1 640.7,311.5 644,311.5" stroke="#ee2a2e" stroke-width="3.0" fill="none" stroke-dasharray="9,4.5" clip-path="url(#clipA)"/>
<path d="M444,339 C446.8,339.2 455.3,339.4 461,340.1 C466.6,340.8 472.3,342.1 477.9,343.3 C483.6,344.5 490,346.1 494.9,347.5 C499.9,348.9 504.1,350 507.6,351.8 C511.2,353.5 514,356.4 516.1,358.1 C518.2,359.9 519.6,361.7 520.4,362.4" stroke="#3a3a3a" stroke-width="3.2" fill="none" clip-path="url(#clipA)"/><path d="M444,339 C446.8,339.2 455.3,339.4 461,340.1 C466.6,340.8 472.3,342.1 477.9,343.3 C483.6,344.5 490,346.1 494.9,347.5 C499.9,348.9 504.1,350 507.6,351.8 C511.2,353.5 514,356.4 516.1,358.1 C518.2,359.9 519.6,361.7 520.4,362.4" stroke="#ee2a2e" stroke-width="3.0" fill="none" stroke-dasharray="9,4.5" clip-path="url(#clipA)"/>
<path d="M603.1,362.4 C604.8,360.3 610.1,353.5 613.7,349.7 C617.2,345.8 621.2,341.9 624.3,339 C627.3,336.2 628.6,334.8 631.9,332.7 C635.2,330.6 642,327.4 644,326.3" stroke="#3a3a3a" stroke-width="3.2" fill="none" clip-path="url(#clipA)"/><path d="M603.1,362.4 C604.8,360.3 610.1,353.5 613.7,349.7 C617.2,345.8 621.2,341.9 624.3,339 C627.3,336.2 628.6,334.8 631.9,332.7 C635.2,330.6 642,327.4 644,326.3" stroke="#ee2a2e" stroke-width="3.0" fill="none" stroke-dasharray="9,4.5" clip-path="url(#clipA)"/>
<path d="M571.3,325.3 C574.8,325.5 585.4,326.1 592.5,326.7 C599.5,327.3 607.1,327.9 613.7,328.9 C620.2,329.9 626.9,331 631.9,332.7 C637,334.4 642,338 644,339" stroke="#3a3a3a" stroke-width="3.2" fill="none" clip-path="url(#clipA)"/><path d="M571.3,325.3 C574.8,325.5 585.4,326.1 592.5,326.7 C599.5,327.3 607.1,327.9 613.7,328.9 C620.2,329.9 626.9,331 631.9,332.7 C637,334.4 642,338 644,339" stroke="#ee2a2e" stroke-width="3.0" fill="none" stroke-dasharray="9,4.5" clip-path="url(#clipA)"/>
<path d="M444,498.9 C445.5,499.7 449.4,505.2 452.9,504.2 C456.4,503.1 461.4,498.7 465.2,492.5 C469,486.3 472.3,477.3 475.8,467 C479.3,456.8 482.9,442.7 486.4,431 C490,419.3 493.8,407.7 497,397.1 C500.2,386.5 503.7,373.5 505.5,367.4 C507.3,361.2 507.3,361.2 507.6,359.9" stroke="#3a3a3a" stroke-width="3.2" fill="none" clip-path="url(#clipA)"/><path d="M444,498.9 C445.5,499.7 449.4,505.2 452.9,504.2 C456.4,503.1 461.4,498.7 465.2,492.5 C469,486.3 472.3,477.3 475.8,467 C479.3,456.8 482.9,442.7 486.4,431 C490,419.3 493.8,407.7 497,397.1 C500.2,386.5 503.7,373.5 505.5,367.4 C507.3,361.2 507.3,361.2 507.6,359.9" stroke="#ee2a2e" stroke-width="3.0" fill="none" stroke-dasharray="9,4.5" clip-path="url(#clipA)"/>
<path d="M444,524.3 C445.5,524.1 449.4,521.8 452.9,523.2 C456.4,524.7 461,528 465.2,532.8 C469.4,537.6 473.7,545.2 477.9,551.9 C482.2,558.6 486.8,566 490.7,573.1 C494.5,580.2 498.4,588.6 501.3,594.3 C504.1,600 505.2,603.7 507.6,607 C510.1,610.4 513.3,611.3 516.1,614.4 C518.9,617.6 521.1,623.5 524.6,626.1 C528.1,628.8 532.4,630.4 537.3,630.4 C542.3,630.4 549.3,627 554.3,626.1 C559.2,625.2 562.4,624.9 567,625.1 C571.6,625.2 576.9,626.3 581.9,627.2 C586.8,628.1 591.4,629.1 596.7,630.4 C602,631.6 607.8,633.5 613.7,634.6 C619.5,635.7 626.9,636 631.9,636.7 C637,637.4 642,638.5 644,638.8" stroke="#3a3a3a" stroke-width="3.2" fill="none" clip-path="url(#clipA)"/><path d="M444,524.3 C445.5,524.1 449.4,521.8 452.9,523.2 C456.4,524.7 461,528 465.2,532.8 C469.4,537.6 473.7,545.2 477.9,551.9 C482.2,558.6 486.8,566 490.7,573.1 C494.5,580.2 498.4,588.6 501.3,594.3 C504.1,600 505.2,603.7 507.6,607 C510.1,610.4 513.3,611.3 516.1,614.4 C518.9,617.6 521.1,623.5 524.6,626.1 C528.1,628.8 532.4,630.4 537.3,630.4 C542.3,630.4 549.3,627 554.3,626.1 C559.2,625.2 562.4,624.9 567,625.1 C571.6,625.2 576.9,626.3 581.9,627.2 C586.8,628.1 591.4,629.1 596.7,630.4 C602,631.6 607.8,633.5 613.7,634.6 C619.5,635.7 626.9,636 631.9,636.7 C637,637.4 642,638.5 644,638.8" stroke="#ee2a2e" stroke-width="3.0" fill="none" stroke-dasharray="9,4.5" clip-path="url(#clipA)"/>
<path d="M505.5,361 C506.9,362.8 510.1,367.7 514,371.6 C517.9,375.5 523.9,381.5 528.8,384.3 C533.8,387.2 539.1,387.3 543.7,388.6 C548.3,389.8 552.5,391 556.4,391.8 C560.3,392.5 563.8,391.8 567,392.8 C570.2,393.9 572,394.9 575.5,398.1 C579,401.3 584,406.8 588.2,411.9 C592.5,417 596.7,422.2 600.9,428.9 C605.2,435.6 609.8,445.1 613.7,452.2 C617.6,459.3 621.2,466 624.3,471.3 C627.3,476.6 628.6,478 631.9,484 C635.2,490 642,503.5 644,507.3" stroke="#3a3a3a" stroke-width="3.2" fill="none" clip-path="url(#clipA)"/><path d="M505.5,361 C506.9,362.8 510.1,367.7 514,371.6 C517.9,375.5 523.9,381.5 528.8,384.3 C533.8,387.2 539.1,387.3 543.7,388.6 C548.3,389.8 552.5,391 556.4,391.8 C560.3,392.5 563.8,391.8 567,392.8 C570.2,393.9 572,394.9 575.5,398.1 C579,401.3 584,406.8 588.2,411.9 C592.5,417 596.7,422.2 600.9,428.9 C605.2,435.6 609.8,445.1 613.7,452.2 C617.6,459.3 621.2,466 624.3,471.3 C627.3,476.6 628.6,478 631.9,484 C635.2,490 642,503.5 644,507.3" stroke="#ee2a2e" stroke-width="3.0" fill="none" stroke-dasharray="9,4.5" clip-path="url(#clipA)"/>
<path d="M509.7,361 C511.5,363.8 516.5,371.3 520.4,378 C524.2,384.7 528.8,393.9 533.1,401.3 C537.3,408.7 541.9,416.1 545.8,422.5 C549.7,428.9 552.9,435.6 556.4,439.5 C559.9,443.4 563.8,443.4 567,445.8 C570.2,448.3 572,448.7 575.5,454.3 C579,460 584,470.6 588.2,479.8 C592.5,489 596.7,499.2 600.9,509.5 C605.2,519.7 609.8,530.7 613.7,541.3 C617.6,551.9 621.2,564.3 624.3,573.1 C627.3,581.9 628.6,585.5 631.9,594.3 C635.2,603.1 642,620.8 644,626.1" stroke="#3a3a3a" stroke-width="3.2" fill="none" clip-path="url(#clipA)"/><path d="M509.7,361 C511.5,363.8 516.5,371.3 520.4,378 C524.2,384.7 528.8,393.9 533.1,401.3 C537.3,408.7 541.9,416.1 545.8,422.5 C549.7,428.9 552.9,435.6 556.4,439.5 C559.9,443.4 563.8,443.4 567,445.8 C570.2,448.3 572,448.7 575.5,454.3 C579,460 584,470.6 588.2,479.8 C592.5,489 596.7,499.2 600.9,509.5 C605.2,519.7 609.8,530.7 613.7,541.3 C617.6,551.9 621.2,564.3 624.3,573.1 C627.3,581.9 628.6,585.5 631.9,594.3 C635.2,603.1 642,620.8 644,626.1" stroke="#ee2a2e" stroke-width="3.0" fill="none" stroke-dasharray="9,4.5" clip-path="url(#clipA)"/>
<path d="M528.8,359.9 C530.6,361.5 535.9,365.4 539.4,369.5 C543,373.5 546.5,379 550,384.3 C553.6,389.6 557.8,396.3 560.6,401.3 C563.5,406.2 564.5,413 567,414 C569.5,415.1 572,411.2 575.5,407.7 C579,404.1 584,398.5 588.2,392.8 C592.5,387.2 597.9,379.2 600.9,373.7 C604,368.2 605.4,362.2 606.2,359.9" stroke="#3a3a3a" stroke-width="3.2" fill="none" clip-path="url(#clipA)"/><path d="M528.8,359.9 C530.6,361.5 535.9,365.4 539.4,369.5 C543,373.5 546.5,379 550,384.3 C553.6,389.6 557.8,396.3 560.6,401.3 C563.5,406.2 564.5,413 567,414 C569.5,415.1 572,411.2 575.5,407.7 C579,404.1 584,398.5 588.2,392.8 C592.5,387.2 597.9,379.2 600.9,373.7 C604,368.2 605.4,362.2 606.2,359.9" stroke="#ee2a2e" stroke-width="3.0" fill="none" stroke-dasharray="9,4.5" clip-path="url(#clipA)"/>
<path d="M486.4,683.4 C488.5,675.6 495.6,650.5 499.1,636.7 C502.7,622.9 504.1,614.8 507.6,600.7 C511.2,586.5 516.1,567.1 520.4,551.9 C524.6,536.7 528.8,522.5 533.1,509.5 C537.3,496.4 541.9,484 545.8,473.4 C549.7,462.8 553.6,452.6 556.4,445.8 C559.2,439.1 561,436.3 562.8,433.1 C564.5,429.9 564.2,428 567,426.7 C569.8,425.5 574.8,426.4 579.7,425.7 C584.7,425 591,423.7 596.7,422.5 C602.4,421.3 607.8,419.1 613.7,418.3 C619.5,417.4 626.9,417.2 631.9,417.2 C637,417.2 642,418.1 644,418.3" stroke="#3a3a3a" stroke-width="3.2" fill="none" clip-path="url(#clipA)"/><path d="M486.4,683.4 C488.5,675.6 495.6,650.5 499.1,636.7 C502.7,622.9 504.1,614.8 507.6,600.7 C511.2,586.5 516.1,567.1 520.4,551.9 C524.6,536.7 528.8,522.5 533.1,509.5 C537.3,496.4 541.9,484 545.8,473.4 C549.7,462.8 553.6,452.6 556.4,445.8 C559.2,439.1 561,436.3 562.8,433.1 C564.5,429.9 564.2,428 567,426.7 C569.8,425.5 574.8,426.4 579.7,425.7 C584.7,425 591,423.7 596.7,422.5 C602.4,421.3 607.8,419.1 613.7,418.3 C619.5,417.4 626.9,417.2 631.9,417.2 C637,417.2 642,418.1 644,418.3" stroke="#ee2a2e" stroke-width="3.0" fill="none" stroke-dasharray="9,4.5" clip-path="url(#clipA)"/>
<path d="M492.8,683.4 C494.5,678.1 499.5,662.2 503.4,651.6 C507.3,641 511.9,630 516.1,619.7 C520.4,609.5 524.6,599.2 528.8,590.1 C533.1,580.9 537.3,572 541.6,564.6 C545.8,557.2 550,552.2 554.3,545.5 C558.5,538.8 563.5,527.5 567,524.3 C570.5,521.1 572,523.6 575.5,526.4 C579,529.3 584,535.3 588.2,541.3 C592.5,547.3 596.7,556.1 600.9,562.5 C605.2,568.8 609.8,574.1 613.7,579.5 C617.6,584.8 621.2,589.7 624.3,594.3 C627.3,598.9 628.6,602.1 631.9,607 C635.2,612 642,621.2 644,624" stroke="#3a3a3a" stroke-width="3.2" fill="none" clip-path="url(#clipA)"/><path d="M492.8,683.4 C494.5,678.1 499.5,662.2 503.4,651.6 C507.3,641 511.9,630 516.1,619.7 C520.4,609.5 524.6,599.2 528.8,590.1 C533.1,580.9 537.3,572 541.6,564.6 C545.8,557.2 550,552.2 554.3,545.5 C558.5,538.8 563.5,527.5 567,524.3 C570.5,521.1 572,523.6 575.5,526.4 C579,529.3 584,535.3 588.2,541.3 C592.5,547.3 596.7,556.1 600.9,562.5 C605.2,568.8 609.8,574.1 613.7,579.5 C617.6,584.8 621.2,589.7 624.3,594.3 C627.3,598.9 628.6,602.1 631.9,607 C635.2,612 642,621.2 644,624" stroke="#ee2a2e" stroke-width="3.0" fill="none" stroke-dasharray="9,4.5" clip-path="url(#clipA)"/>
<path d="M444,636.7 C447.5,636.5 458.1,637.1 465.2,635.7 C472.3,634.2 480.1,630.9 486.4,628.2 C492.8,625.6 498.8,621.5 503.4,619.7 C508,618 510.5,620.1 514,617.6 C517.5,615.2 520.7,609.1 524.6,604.9 C528.5,600.7 532.4,595.4 537.3,592.2 C542.3,589 549.3,587.2 554.3,585.8 C559.2,584.4 562.4,584 567,583.7 C571.6,583.3 576.2,583.3 581.9,583.7 C587.5,584 595.6,584.8 600.9,585.8 C606.2,586.9 609.8,588.3 613.7,590.1 C617.6,591.8 621.2,594.7 624.3,596.4 C627.3,598.2 628.6,601.4 631.9,600.7 C635.2,600 642,593.6 644,592.2" stroke="#3a3a3a" stroke-width="3.2" fill="none" clip-path="url(#clipA)"/><path d="M444,636.7 C447.5,636.5 458.1,637.1 465.2,635.7 C472.3,634.2 480.1,630.9 486.4,628.2 C492.8,625.6 498.8,621.5 503.4,619.7 C508,618 510.5,620.1 514,617.6 C517.5,615.2 520.7,609.1 524.6,604.9 C528.5,600.7 532.4,595.4 537.3,592.2 C542.3,589 549.3,587.2 554.3,585.8 C559.2,584.4 562.4,584 567,583.7 C571.6,583.3 576.2,583.3 581.9,583.7 C587.5,584 595.6,584.8 600.9,585.8 C606.2,586.9 609.8,588.3 613.7,590.1 C617.6,591.8 621.2,594.7 624.3,596.4 C627.3,598.2 628.6,601.4 631.9,600.7 C635.2,600 642,593.6 644,592.2" stroke="#ee2a2e" stroke-width="3.0" fill="none" stroke-dasharray="9,4.5" clip-path="url(#clipA)"/>
<path d="M486.4,679.1 C490,673.8 501.3,658.6 507.6,647.3 C514,636 519.6,620.8 524.6,611.3 C529.5,601.7 533.1,596.4 537.3,590.1 C541.6,583.7 545.8,578 550,573.1 C554.3,568.1 559.2,562.8 562.8,560.4 C566.3,557.9 567.7,559.7 571.3,558.2 C574.8,556.8 579.7,554.7 584,551.9 C588.2,549.1 592.5,545.5 596.7,541.3 C600.9,537 605.2,532.4 609.4,526.4 C613.7,520.4 618.4,512.1 622.2,505.2 C625.9,498.3 628.3,491.4 631.9,485.1 C635.6,478.7 642,470 644,467" stroke="#3a3a3a" stroke-width="3.2" fill="none" clip-path="url(#clipA)"/><path d="M486.4,679.1 C490,673.8 501.3,658.6 507.6,647.3 C514,636 519.6,620.8 524.6,611.3 C529.5,601.7 533.1,596.4 537.3,590.1 C541.6,583.7 545.8,578 550,573.1 C554.3,568.1 559.2,562.8 562.8,560.4 C566.3,557.9 567.7,559.7 571.3,558.2 C574.8,556.8 579.7,554.7 584,551.9 C588.2,549.1 592.5,545.5 596.7,541.3 C600.9,537 605.2,532.4 609.4,526.4 C613.7,520.4 618.4,512.1 622.2,505.2 C625.9,498.3 628.3,491.4 631.9,485.1 C635.6,478.7 642,470 644,467" stroke="#ee2a2e" stroke-width="3.0" fill="none" stroke-dasharray="9,4.5" clip-path="url(#clipA)"/>
<path d="M444,674.9 C447.5,674.7 458.8,674.9 465.2,673.8 C471.6,672.8 477.2,671.2 482.2,668.5 C487.1,665.9 491,662.2 494.9,657.9 C498.8,653.7 502.3,648.4 505.5,643.1 C508.7,637.8 512.6,628.9 514,626.1" stroke="#3a3a3a" stroke-width="3.2" fill="none" clip-path="url(#clipA)"/><path d="M444,674.9 C447.5,674.7 458.8,674.9 465.2,673.8 C471.6,672.8 477.2,671.2 482.2,668.5 C487.1,665.9 491,662.2 494.9,657.9 C498.8,653.7 502.3,648.4 505.5,643.1 C508.7,637.8 512.6,628.9 514,626.1" stroke="#ee2a2e" stroke-width="3.0" fill="none" stroke-dasharray="9,4.5" clip-path="url(#clipA)"/>
<path d="M579.7,683.4 C581.9,679.8 588.2,668.9 592.5,662.2 C596.7,655.5 600.9,649.4 605.2,643.1 C609.4,636.7 613.5,631.4 617.9,624 C622.4,616.6 627.6,604.2 631.9,598.5 C636.3,592.9 642,591.5 644,590.1" stroke="#3a3a3a" stroke-width="3.2" fill="none" clip-path="url(#clipA)"/><path d="M579.7,683.4 C581.9,679.8 588.2,668.9 592.5,662.2 C596.7,655.5 600.9,649.4 605.2,643.1 C609.4,636.7 613.5,631.4 617.9,624 C622.4,616.6 627.6,604.2 631.9,598.5 C636.3,592.9 642,591.5 644,590.1" stroke="#ee2a2e" stroke-width="3.0" fill="none" stroke-dasharray="9,4.5" clip-path="url(#clipA)"/>
<path d="M622.2,683.4 C622.9,679.1 624.8,667.1 626.4,657.9 C628,648.7 630.1,638.1 631.9,628.2 C633.7,618.3 635,610.2 637,598.5 C639,586.9 642.8,565 644,558.2" stroke="#3a3a3a" stroke-width="3.2" fill="none" clip-path="url(#clipA)"/><path d="M622.2,683.4 C622.9,679.1 624.8,667.1 626.4,657.9 C628,648.7 630.1,638.1 631.9,628.2 C633.7,618.3 635,610.2 637,598.5 C639,586.9 642.8,565 644,558.2" stroke="#ee2a2e" stroke-width="3.0" fill="none" stroke-dasharray="9,4.5" clip-path="url(#clipA)"/>
<path d="M676,38.9 C676.8,43.4 679,56.4 681.3,65.5 C683.6,74.5 686.9,85.2 689.7,93 C692.6,100.8 695,106.5 698.2,112.1 C701.4,117.8 705.7,123.4 708.8,127 C712,130.5 714.1,131.2 717.3,133.3 C720.5,135.4 724.4,136.5 727.9,139.7 C731.5,142.9 735,147.1 738.5,152.4 C742.1,157.7 746,165.8 749.1,171.5 C752.3,177.2 755.3,182.8 757.6,186.3 C759.9,189.9 762,191.6 762.9,192.7" stroke="#3a3a3a" stroke-width="3.2" fill="none" clip-path="url(#clipA)"/><path d="M676,38.9 C676.8,43.4 679,56.4 681.3,65.5 C683.6,74.5 686.9,85.2 689.7,93 C692.6,100.8 695,106.5 698.2,112.1 C701.4,117.8 705.7,123.4 708.8,127 C712,130.5 714.1,131.2 717.3,133.3 C720.5,135.4 724.4,136.5 727.9,139.7 C731.5,142.9 735,147.1 738.5,152.4 C742.1,157.7 746,165.8 749.1,171.5 C752.3,177.2 755.3,182.8 757.6,186.3 C759.9,189.9 762,191.6 762.9,192.7" stroke="#ee2a2e" stroke-width="3.0" fill="none" stroke-dasharray="9,4.5" clip-path="url(#clipA)"/>
<path d="M715.2,38.9 C716.6,42.7 721.2,54 723.7,61.2 C726.2,68.5 728.3,75.3 730,82.4 C731.8,89.5 732.2,98.7 734.3,103.6 C736.4,108.6 739.9,110.3 742.8,112.1 C745.6,113.9 747.9,113.9 751.3,114.2 C754.6,114.6 761,114.2 762.9,114.2" stroke="#3a3a3a" stroke-width="3.2" fill="none" clip-path="url(#clipA)"/><path d="M715.2,38.9 C716.6,42.7 721.2,54 723.7,61.2 C726.2,68.5 728.3,75.3 730,82.4 C731.8,89.5 732.2,98.7 734.3,103.6 C736.4,108.6 739.9,110.3 742.8,112.1 C745.6,113.9 747.9,113.9 751.3,114.2 C754.6,114.6 761,114.2 762.9,114.2" stroke="#ee2a2e" stroke-width="3.0" fill="none" stroke-dasharray="9,4.5" clip-path="url(#clipA)"/>
<path d="M717.3,38.9 C719.4,41.9 725.8,51.5 730,57 C734.3,62.4 739.2,67.9 742.8,71.8 C746.3,75.7 747.9,78.2 751.3,80.3 C754.6,82.4 761,83.8 762.9,84.5" stroke="#3a3a3a" stroke-width="3.2" fill="none" clip-path="url(#clipA)"/><path d="M717.3,38.9 C719.4,41.9 725.8,51.5 730,57 C734.3,62.4 739.2,67.9 742.8,71.8 C746.3,75.7 747.9,78.2 751.3,80.3 C754.6,82.4 761,83.8 762.9,84.5" stroke="#ee2a2e" stroke-width="3.0" fill="none" stroke-dasharray="9,4.5" clip-path="url(#clipA)"/>
<path d="M624,230.9 C625.3,233 628.5,246.1 632.1,243.6 C635.6,241.1 640.5,225.9 645.2,216 C649.9,206.1 655.1,193.8 660.1,184.2 C665,174.7 670.3,165.8 674.9,158.8 C679.5,151.7 684.1,145.2 687.6,141.8 C691.2,138.4 692.6,138.3 696.1,138.6 C699.6,139 704.6,140.6 708.8,143.9 C713.1,147.3 717.3,152.8 721.6,158.8 C725.8,164.8 730.4,173.6 734.3,180 C738.2,186.3 741.4,192 744.9,196.9 C748.4,201.9 752.5,207 755.5,209.7 C758.5,212.3 761.7,212.3 762.9,212.9" stroke="#3a3a3a" stroke-width="3.2" fill="none" clip-path="url(#clipA)"/><path d="M624,230.9 C625.3,233 628.5,246.1 632.1,243.6 C635.6,241.1 640.5,225.9 645.2,216 C649.9,206.1 655.1,193.8 660.1,184.2 C665,174.7 670.3,165.8 674.9,158.8 C679.5,151.7 684.1,145.2 687.6,141.8 C691.2,138.4 692.6,138.3 696.1,138.6 C699.6,139 704.6,140.6 708.8,143.9 C713.1,147.3 717.3,152.8 721.6,158.8 C725.8,164.8 730.4,173.6 734.3,180 C738.2,186.3 741.4,192 744.9,196.9 C748.4,201.9 752.5,207 755.5,209.7 C758.5,212.3 761.7,212.3 762.9,212.9" stroke="#ee2a2e" stroke-width="3.0" fill="none" stroke-dasharray="9,4.5" clip-path="url(#clipA)"/>
<path d="M624,248.9 C625.3,249.1 628.5,249.6 632.1,250 C635.6,250.3 640.9,251 645.2,251 C649.5,251 653.3,251.2 657.9,250 C662.5,248.7 667.1,245.4 672.8,243.6 C678.4,241.8 685.9,239.9 691.9,239.4 C697.9,238.8 703.5,239.9 708.8,240.4 C714.1,241 718.7,243.1 723.7,242.5 C728.6,242 733.9,239.9 738.5,237.2 C743.1,234.6 747.2,230.5 751.3,226.6 C755.3,222.8 761,216 762.9,213.9" stroke="#3a3a3a" stroke-width="3.2" fill="none" clip-path="url(#clipA)"/><path d="M624,248.9 C625.3,249.1 628.5,249.6 632.1,250 C635.6,250.3 640.9,251 645.2,251 C649.5,251 653.3,251.2 657.9,250 C662.5,248.7 667.1,245.4 672.8,243.6 C678.4,241.8 685.9,239.9 691.9,239.4 C697.9,238.8 703.5,239.9 708.8,240.4 C714.1,241 718.7,243.1 723.7,242.5 C728.6,242 733.9,239.9 738.5,237.2 C743.1,234.6 747.2,230.5 751.3,226.6 C755.3,222.8 761,216 762.9,213.9" stroke="#ee2a2e" stroke-width="3.0" fill="none" stroke-dasharray="9,4.5" clip-path="url(#clipA)"/>
<path d="M632.1,250 C634.3,250.3 640.9,250.7 645.2,252.1 C649.5,253.5 653.7,254.9 657.9,258.5 C662.2,262 666.8,268 670.7,273.3 C674.5,278.6 678.1,284.6 681.3,290.3 C684.4,295.9 687.3,302.3 689.7,307.2 C692.2,312.2 693.6,316.4 696.1,320 C698.6,323.5 701.1,326.7 704.6,328.4 C708.1,330.2 712.4,330.7 717.3,330.6 C722.3,330.4 728.6,328.3 734.3,327.4 C739.9,326.5 746.5,325.8 751.3,325.3 C756,324.7 761,324.4 762.9,324.2" stroke="#3a3a3a" stroke-width="3.2" fill="none" clip-path="url(#clipA)"/><path d="M632.1,250 C634.3,250.3 640.9,250.7 645.2,252.1 C649.5,253.5 653.7,254.9 657.9,258.5 C662.2,262 666.8,268 670.7,273.3 C674.5,278.6 678.1,284.6 681.3,290.3 C684.4,295.9 687.3,302.3 689.7,307.2 C692.2,312.2 693.6,316.4 696.1,320 C698.6,323.5 701.1,326.7 704.6,328.4 C708.1,330.2 712.4,330.7 717.3,330.6 C722.3,330.4 728.6,328.3 734.3,327.4 C739.9,326.5 746.5,325.8 751.3,325.3 C756,324.7 761,324.4 762.9,324.2" stroke="#ee2a2e" stroke-width="3.0" fill="none" stroke-dasharray="9,4.5" clip-path="url(#clipA)"/>
<path d="M624,273.3 C625.3,272.6 628.5,268.7 632.1,269.1 C635.6,269.4 640.2,272.2 645.2,275.4 C650.2,278.6 656.9,283.9 662.2,288.1 C667.5,292.4 672.1,297.7 677,300.9 C682,304.1 686.6,306.5 691.9,307.2 C697.2,307.9 703.9,306.9 708.8,305.1 C713.8,303.3 717.3,300.5 721.6,296.6 C725.8,292.7 730,287.1 734.3,281.8 C738.5,276.5 743.1,270.1 747,264.8 C750.9,259.5 755,253.5 757.6,250 C760.3,246.4 762,244.7 762.9,243.6" stroke="#3a3a3a" stroke-width="3.2" fill="none" clip-path="url(#clipA)"/><path d="M624,273.3 C625.3,272.6 628.5,268.7 632.1,269.1 C635.6,269.4 640.2,272.2 645.2,275.4 C650.2,278.6 656.9,283.9 662.2,288.1 C667.5,292.4 672.1,297.7 677,300.9 C682,304.1 686.6,306.5 691.9,307.2 C697.2,307.9 703.9,306.9 708.8,305.1 C713.8,303.3 717.3,300.5 721.6,296.6 C725.8,292.7 730,287.1 734.3,281.8 C738.5,276.5 743.1,270.1 747,264.8 C750.9,259.5 755,253.5 757.6,250 C760.3,246.4 762,244.7 762.9,243.6" stroke="#ee2a2e" stroke-width="3.0" fill="none" stroke-dasharray="9,4.5" clip-path="url(#clipA)"/>
<path d="M624,311.5 C627.5,311.5 638.1,311.3 645.2,311.5 C652.3,311.7 660.1,312.2 666.4,312.5 C672.8,312.9 678.8,312.7 683.4,313.6 C688,314.5 690.8,316.1 694,317.8 C697.2,319.6 699.3,322.1 702.5,324.2 C705.7,326.3 709.2,328.4 713.1,330.6 C717,332.7 721.2,334.8 725.8,336.9 C730.4,339 734.5,341.5 740.6,343.3 C746.8,345.1 759.2,346.8 762.9,347.5" stroke="#3a3a3a" stroke-width="3.2" fill="none" clip-path="url(#clipA)"/><path d="M624,311.5 C627.5,311.5 638.1,311.3 645.2,311.5 C652.3,311.7 660.1,312.2 666.4,312.5 C672.8,312.9 678.8,312.7 683.4,313.6 C688,314.5 690.8,316.1 694,317.8 C697.2,319.6 699.3,322.1 702.5,324.2 C705.7,326.3 709.2,328.4 713.1,330.6 C717,332.7 721.2,334.8 725.8,336.9 C730.4,339 734.5,341.5 740.6,343.3 C746.8,345.1 759.2,346.8 762.9,347.5" stroke="#ee2a2e" stroke-width="3.0" fill="none" stroke-dasharray="9,4.5" clip-path="url(#clipA)"/>
<path d="M624,328.4 C625.3,329.1 628.5,330.6 632.1,332.7 C635.6,334.8 640.9,339 645.2,341.2 C649.5,343.3 653.7,344.5 657.9,345.4 C662.2,346.3 665.7,347.2 670.7,346.5 C675.6,345.8 682,343.1 687.6,341.2 C693.3,339.2 699.3,336.4 704.6,334.8 C709.9,333.2 714.5,332.5 719.4,331.6 C724.4,330.7 729,330.4 734.3,329.5 C739.6,328.6 748.4,326.9 751.3,326.3" stroke="#3a3a3a" stroke-width="3.2" fill="none" clip-path="url(#clipA)"/><path d="M624,328.4 C625.3,329.1 628.5,330.6 632.1,332.7 C635.6,334.8 640.9,339 645.2,341.2 C649.5,343.3 653.7,344.5 657.9,345.4 C662.2,346.3 665.7,347.2 670.7,346.5 C675.6,345.8 682,343.1 687.6,341.2 C693.3,339.2 699.3,336.4 704.6,334.8 C709.9,333.2 714.5,332.5 719.4,331.6 C724.4,330.7 729,330.4 734.3,329.5 C739.6,328.6 748.4,326.9 751.3,326.3" stroke="#ee2a2e" stroke-width="3.0" fill="none" stroke-dasharray="9,4.5" clip-path="url(#clipA)"/>
<path d="M624,336.9 C625.3,336.2 628.5,334.1 632.1,332.7 C635.6,331.3 640.2,329 645.2,328.4 C650.2,327.9 656.5,328.8 662.2,329.5 C667.8,330.2 674.2,331.4 679.1,332.7 C684.1,333.9 688.3,334.8 691.9,336.9 C695.4,339 697.9,341.2 700.4,345.4 C702.8,349.7 705.7,359.5 706.7,362.4" stroke="#3a3a3a" stroke-width="3.2" fill="none" clip-path="url(#clipA)"/><path d="M624,336.9 C625.3,336.2 628.5,334.1 632.1,332.7 C635.6,331.3 640.2,329 645.2,328.4 C650.2,327.9 656.5,328.8 662.2,329.5 C667.8,330.2 674.2,331.4 679.1,332.7 C684.1,333.9 688.3,334.8 691.9,336.9 C695.4,339 697.9,341.2 700.4,345.4 C702.8,349.7 705.7,359.5 706.7,362.4" stroke="#ee2a2e" stroke-width="3.0" fill="none" stroke-dasharray="9,4.5" clip-path="url(#clipA)"/>
<path d="M717.3,362.4 C718.7,360.6 722.3,354.6 725.8,351.8 C729.3,348.9 734.3,347.4 738.5,345.4 C742.8,343.5 747.2,341.3 751.3,340.1 C755.3,338.9 761,338.3 762.9,338" stroke="#3a3a3a" stroke-width="3.2" fill="none" clip-path="url(#clipA)"/><path d="M717.3,362.4 C718.7,360.6 722.3,354.6 725.8,351.8 C729.3,348.9 734.3,347.4 738.5,345.4 C742.8,343.5 747.2,341.3 751.3,340.1 C755.3,338.9 761,338.3 762.9,338" stroke="#ee2a2e" stroke-width="3.0" fill="none" stroke-dasharray="9,4.5" clip-path="url(#clipA)"/>
<path d="M765,241.5 C767,240.6 772.6,238.3 776.7,236.2 C780.8,234.1 785.2,231.1 789.4,228.8 C793.7,226.5 797.9,224 802.2,222.4 C806.4,220.8 811.7,219.7 814.9,219.2 C818.1,218.7 820.2,219.2 821.2,219.2" stroke="#3a3a3a" stroke-width="3.2" fill="none" clip-path="url(#clipA)"/><path d="M765,241.5 C767,240.6 772.6,238.3 776.7,236.2 C780.8,234.1 785.2,231.1 789.4,228.8 C793.7,226.5 797.9,224 802.2,222.4 C806.4,220.8 811.7,219.7 814.9,219.2 C818.1,218.7 820.2,219.2 821.2,219.2" stroke="#ee2a2e" stroke-width="3.0" fill="none" stroke-dasharray="9,4.5" clip-path="url(#clipA)"/>
<path d="M765,268 C767,267.1 772.6,265 776.7,262.7 C780.8,260.4 785.2,256.5 789.4,254.2 C793.7,251.9 797.9,250.3 802.2,248.9 C806.4,247.5 811.7,246.3 814.9,245.7 C818.1,245.1 820.2,245.4 821.2,245.3" stroke="#3a3a3a" stroke-width="3.2" fill="none" clip-path="url(#clipA)"/><path d="M765,268 C767,267.1 772.6,265 776.7,262.7 C780.8,260.4 785.2,256.5 789.4,254.2 C793.7,251.9 797.9,250.3 802.2,248.9 C806.4,247.5 811.7,246.3 814.9,245.7 C818.1,245.1 820.2,245.4 821.2,245.3" stroke="#ee2a2e" stroke-width="3.0" fill="none" stroke-dasharray="9,4.5" clip-path="url(#clipA)"/>
<path d="M765,321.7 L821.2,320.8" stroke="#3a3a3a" stroke-width="3.2" fill="none" clip-path="url(#clipA)"/><path d="M765,321.7 L821.2,320.8" stroke="#ee2a2e" stroke-width="3.0" fill="none" stroke-dasharray="9,4.5" clip-path="url(#clipA)"/>
<path d="M765,328 L821.2,328" stroke="#3a3a3a" stroke-width="3.2" fill="none" clip-path="url(#clipA)"/><path d="M765,328 L821.2,328" stroke="#ee2a2e" stroke-width="3.0" fill="none" stroke-dasharray="9,4.5" clip-path="url(#clipA)"/>
<path d="M765,325.3 C767,325.8 771.9,327.2 776.7,328.4 C781.5,329.7 786.2,331.3 793.7,332.7 C801.1,334.1 816.6,336.2 821.2,336.9" stroke="#3a3a3a" stroke-width="3.2" fill="none" clip-path="url(#clipA)"/><path d="M765,325.3 C767,325.8 771.9,327.2 776.7,328.4 C781.5,329.7 786.2,331.3 793.7,332.7 C801.1,334.1 816.6,336.2 821.2,336.9" stroke="#ee2a2e" stroke-width="3.0" fill="none" stroke-dasharray="9,4.5" clip-path="url(#clipA)"/>
<path d="M823.4,224.5 C825.5,225.2 831.1,227 836.1,228.8 C841,230.5 847.8,233 853.1,235.1 C858.4,237.2 863.1,240.1 867.9,241.5 C872.7,242.9 879.4,243.3 881.7,243.6" stroke="#3a3a3a" stroke-width="3.2" fill="none" clip-path="url(#clipA)"/><path d="M823.4,224.5 C825.5,225.2 831.1,227 836.1,228.8 C841,230.5 847.8,233 853.1,235.1 C858.4,237.2 863.1,240.1 867.9,241.5 C872.7,242.9 879.4,243.3 881.7,243.6" stroke="#ee2a2e" stroke-width="3.0" fill="none" stroke-dasharray="9,4.5" clip-path="url(#clipA)"/>
<path d="M823.4,236.2 C825.5,236.4 831.1,236.2 836.1,237.2 C841,238.3 847.8,240.8 853.1,242.5 C858.4,244.3 863.1,246.6 867.9,247.8 C872.7,249.1 879.4,249.6 881.7,250" stroke="#3a3a3a" stroke-width="3.2" fill="none" clip-path="url(#clipA)"/><path d="M823.4,236.2 C825.5,236.4 831.1,236.2 836.1,237.2 C841,238.3 847.8,240.8 853.1,242.5 C858.4,244.3 863.1,246.6 867.9,247.8 C872.7,249.1 879.4,249.6 881.7,250" stroke="#ee2a2e" stroke-width="3.0" fill="none" stroke-dasharray="9,4.5" clip-path="url(#clipA)"/>
<path d="M823.4,278.6 C825.5,278.4 831.1,278.1 836.1,277.5 C841,277 847.8,276.3 853.1,275.4 C858.4,274.5 863.1,273.3 867.9,272.2 C872.7,271.2 879.4,269.6 881.7,269.1" stroke="#3a3a3a" stroke-width="3.2" fill="none" clip-path="url(#clipA)"/><path d="M823.4,278.6 C825.5,278.4 831.1,278.1 836.1,277.5 C841,277 847.8,276.3 853.1,275.4 C858.4,274.5 863.1,273.3 867.9,272.2 C872.7,271.2 879.4,269.6 881.7,269.1" stroke="#ee2a2e" stroke-width="3.0" fill="none" stroke-dasharray="9,4.5" clip-path="url(#clipA)"/>
<path d="M823.4,300.9 C824.8,301.2 828.3,300.9 831.8,303 C835.4,305.1 840.3,310.1 844.6,313.6 C848.8,317.1 853.1,321.4 857.3,324.2 C861.5,327 866,329.1 870,330.6 C874.1,332 879.7,332.3 881.7,332.7" stroke="#3a3a3a" stroke-width="3.2" fill="none" clip-path="url(#clipA)"/><path d="M823.4,300.9 C824.8,301.2 828.3,300.9 831.8,303 C835.4,305.1 840.3,310.1 844.6,313.6 C848.8,317.1 853.1,321.4 857.3,324.2 C861.5,327 866,329.1 870,330.6 C874.1,332 879.7,332.3 881.7,332.7" stroke="#ee2a2e" stroke-width="3.0" fill="none" stroke-dasharray="9,4.5" clip-path="url(#clipA)"/>
<path d="M823.4,345.4 C824.8,345.1 828.3,345.1 831.8,343.3 C835.4,341.5 840.3,338.7 844.6,334.8 C848.8,330.9 853.1,323.5 857.3,320 C861.5,316.4 866,315 870,313.6 C874.1,312.2 879.7,311.8 881.7,311.5" stroke="#3a3a3a" stroke-width="3.2" fill="none" clip-path="url(#clipA)"/><path d="M823.4,345.4 C824.8,345.1 828.3,345.1 831.8,343.3 C835.4,341.5 840.3,338.7 844.6,334.8 C848.8,330.9 853.1,323.5 857.3,320 C861.5,316.4 866,315 870,313.6 C874.1,312.2 879.7,311.8 881.7,311.5" stroke="#ee2a2e" stroke-width="3.0" fill="none" stroke-dasharray="9,4.5" clip-path="url(#clipA)"/>
<path d="M624,501 C625.3,498.2 628.5,490.4 632.1,484 C635.6,477.6 640.2,471.3 645.2,462.8 C650.2,454.3 656.5,443 662.2,433.1 C667.8,423.2 673.8,412.6 679.1,403.4 C684.4,394.2 689.7,385.2 694,378 C698.2,370.7 702.8,362.9 704.6,359.9" stroke="#3a3a3a" stroke-width="3.2" fill="none" clip-path="url(#clipA)"/><path d="M624,501 C625.3,498.2 628.5,490.4 632.1,484 C635.6,477.6 640.2,471.3 645.2,462.8 C650.2,454.3 656.5,443 662.2,433.1 C667.8,423.2 673.8,412.6 679.1,403.4 C684.4,394.2 689.7,385.2 694,378 C698.2,370.7 702.8,362.9 704.6,359.9" stroke="#ee2a2e" stroke-width="3.0" fill="none" stroke-dasharray="9,4.5" clip-path="url(#clipA)"/>
<path d="M624,467 C625.3,469.9 628.9,477.6 632.1,484 C635.2,490.4 639.5,498.5 643.1,505.2 C646.7,511.9 649.8,517.2 653.7,524.3 C657.6,531.4 662.2,539.9 666.4,547.6 C670.7,555.4 674.9,563.2 679.1,571 C683.4,578.7 687.6,587.6 691.9,594.3 C696.1,601 700.4,606.7 704.6,611.3 C708.8,615.9 712.4,618.3 717.3,621.9 C722.3,625.4 728.6,630 734.3,632.5 C739.9,634.9 746.5,635.8 751.3,636.7 C756,637.6 761,637.6 762.9,637.8" stroke="#3a3a3a" stroke-width="3.2" fill="none" clip-path="url(#clipA)"/><path d="M624,467 C625.3,469.9 628.9,477.6 632.1,484 C635.2,490.4 639.5,498.5 643.1,505.2 C646.7,511.9 649.8,517.2 653.7,524.3 C657.6,531.4 662.2,539.9 666.4,547.6 C670.7,555.4 674.9,563.2 679.1,571 C683.4,578.7 687.6,587.6 691.9,594.3 C696.1,601 700.4,606.7 704.6,611.3 C708.8,615.9 712.4,618.3 717.3,621.9 C722.3,625.4 728.6,630 734.3,632.5 C739.9,634.9 746.5,635.8 751.3,636.7 C756,637.6 761,637.6 762.9,637.8" stroke="#ee2a2e" stroke-width="3.0" fill="none" stroke-dasharray="9,4.5" clip-path="url(#clipA)"/>
<path d="M624,417.2 C625.3,417.1 628.5,416.2 632.1,416.6 C635.6,416.9 640.9,417.3 645.2,419.3 C649.5,421.4 653.7,424.1 657.9,428.9 C662.2,433.6 666.4,440.2 670.7,448 C674.9,455.7 679.5,466 683.4,475.5 C687.3,485.1 690.5,495 694,505.2 C697.5,515.5 701.4,526.4 704.6,537 C707.8,547.6 710.2,557.5 713.1,568.8 C715.9,580.2 718.7,592.2 721.6,604.9 C724.4,617.6 727.6,632.1 730,645.2 C732.5,658.3 735.3,677 736.4,683.4" stroke="#3a3a3a" stroke-width="3.2" fill="none" clip-path="url(#clipA)"/><path d="M624,417.2 C625.3,417.1 628.5,416.2 632.1,416.6 C635.6,416.9 640.9,417.3 645.2,419.3 C649.5,421.4 653.7,424.1 657.9,428.9 C662.2,433.6 666.4,440.2 670.7,448 C674.9,455.7 679.5,466 683.4,475.5 C687.3,485.1 690.5,495 694,505.2 C697.5,515.5 701.4,526.4 704.6,537 C707.8,547.6 710.2,557.5 713.1,568.8 C715.9,580.2 718.7,592.2 721.6,604.9 C724.4,617.6 727.6,632.1 730,645.2 C732.5,658.3 735.3,677 736.4,683.4" stroke="#ee2a2e" stroke-width="3.0" fill="none" stroke-dasharray="9,4.5" clip-path="url(#clipA)"/>
<path d="M708.8,359.9 C710.2,363.7 714.1,373.2 717.3,382.2 C720.5,391.2 724.4,403.4 727.9,414 C731.5,424.6 735,435.2 738.5,445.8 C742.1,456.4 746,468.8 749.1,477.6 C752.3,486.5 755.3,494.6 757.6,498.9 C759.9,503.1 762,502.4 762.9,503.1" stroke="#3a3a3a" stroke-width="3.2" fill="none" clip-path="url(#clipA)"/><path d="M708.8,359.9 C710.2,363.7 714.1,373.2 717.3,382.2 C720.5,391.2 724.4,403.4 727.9,414 C731.5,424.6 735,435.2 738.5,445.8 C742.1,456.4 746,468.8 749.1,477.6 C752.3,486.5 755.3,494.6 757.6,498.9 C759.9,503.1 762,502.4 762.9,503.1" stroke="#ee2a2e" stroke-width="3.0" fill="none" stroke-dasharray="9,4.5" clip-path="url(#clipA)"/>
<path d="M717.3,359.9 C714.5,363.3 705.7,372.8 700.4,380.1 C695,387.3 690.1,394.9 685.5,403.4 C680.9,411.9 676.7,421.1 672.8,431 C668.9,440.9 665.4,452.6 662.2,462.8 C659,473.1 656.5,481.5 653.7,492.5 C650.9,503.5 647.7,516.9 645.2,528.6 C642.7,540.2 640.6,552.2 638.8,562.5 C637.1,572.7 635.7,584 634.6,590.1 C633.5,596.1 632.5,597.1 632.1,598.5" stroke="#3a3a3a" stroke-width="3.2" fill="none" clip-path="url(#clipA)"/><path d="M717.3,359.9 C714.5,363.3 705.7,372.8 700.4,380.1 C695,387.3 690.1,394.9 685.5,403.4 C680.9,411.9 676.7,421.1 672.8,431 C668.9,440.9 665.4,452.6 662.2,462.8 C659,473.1 656.5,481.5 653.7,492.5 C650.9,503.5 647.7,516.9 645.2,528.6 C642.7,540.2 640.6,552.2 638.8,562.5 C637.1,572.7 635.7,584 634.6,590.1 C633.5,596.1 632.5,597.1 632.1,598.5" stroke="#ee2a2e" stroke-width="3.0" fill="none" stroke-dasharray="9,4.5" clip-path="url(#clipA)"/>
<path d="M632.1,596.4 C634.3,595.4 641.6,591.1 645.2,590.1 C648.8,589 649.5,588.6 653.7,590.1 C657.9,591.5 665,594.3 670.7,598.5 C676.3,602.8 682.7,610.6 687.6,615.5 C692.6,620.5 695.8,624 700.4,628.2 C704.9,632.5 710.2,636.7 715.2,641 C720.1,645.2 725.4,649.4 730,653.7 C734.6,657.9 738.5,662.9 742.8,666.4 C747,669.9 752.1,673.5 755.5,674.9 C758.9,676.3 761.7,674.9 762.9,674.9" stroke="#3a3a3a" stroke-width="3.2" fill="none" clip-path="url(#clipA)"/><path d="M632.1,596.4 C634.3,595.4 641.6,591.1 645.2,590.1 C648.8,589 649.5,588.6 653.7,590.1 C657.9,591.5 665,594.3 670.7,598.5 C676.3,602.8 682.7,610.6 687.6,615.5 C692.6,620.5 695.8,624 700.4,628.2 C704.9,632.5 710.2,636.7 715.2,641 C720.1,645.2 725.4,649.4 730,653.7 C734.6,657.9 738.5,662.9 742.8,666.4 C747,669.9 752.1,673.5 755.5,674.9 C758.9,676.3 761.7,674.9 762.9,674.9" stroke="#ee2a2e" stroke-width="3.0" fill="none" stroke-dasharray="9,4.5" clip-path="url(#clipA)"/>
<path d="M632.1,600.7 C633.5,602.1 637,605.6 641,609.1 C644.9,612.7 650.9,618.7 655.8,621.9 C660.8,625.1 666.1,627.5 670.7,628.2 C675.3,628.9 679.1,627.9 683.4,626.1 C687.6,624.3 691.9,621.2 696.1,617.6 C700.4,614.1 704.9,609.5 708.8,604.9 C712.7,600.3 715.9,595.7 719.4,590.1 C723,584.4 726.2,578 730,571 C733.9,563.9 738.9,554.4 742.8,547.6 C746.7,540.9 750,534.7 753.4,530.7 C756.7,526.6 761.3,524.5 762.9,523.2" stroke="#3a3a3a" stroke-width="3.2" fill="none" clip-path="url(#clipA)"/><path d="M632.1,600.7 C633.5,602.1 637,605.6 641,609.1 C644.9,612.7 650.9,618.7 655.8,621.9 C660.8,625.1 666.1,627.5 670.7,628.2 C675.3,628.9 679.1,627.9 683.4,626.1 C687.6,624.3 691.9,621.2 696.1,617.6 C700.4,614.1 704.9,609.5 708.8,604.9 C712.7,600.3 715.9,595.7 719.4,590.1 C723,584.4 726.2,578 730,571 C733.9,563.9 738.9,554.4 742.8,547.6 C746.7,540.9 750,534.7 753.4,530.7 C756.7,526.6 761.3,524.5 762.9,523.2" stroke="#ee2a2e" stroke-width="3.0" fill="none" stroke-dasharray="9,4.5" clip-path="url(#clipA)"/>
<path d="M624,636.7 C625.3,636.5 628.5,635.8 632.1,635.7 C635.6,635.5 640.9,635.1 645.2,635.7 C649.5,636.2 653.7,636.9 657.9,638.8 C662.2,640.8 666.4,644.1 670.7,647.3 C674.9,650.5 679.5,654.4 683.4,657.9 C687.3,661.5 690.5,665 694,668.5 C697.5,672.1 702.1,676.7 704.6,679.1 C707.1,681.6 708.1,682.7 708.8,683.4" stroke="#3a3a3a" stroke-width="3.2" fill="none" clip-path="url(#clipA)"/><path d="M624,636.7 C625.3,636.5 628.5,635.8 632.1,635.7 C635.6,635.5 640.9,635.1 645.2,635.7 C649.5,636.2 653.7,636.9 657.9,638.8 C662.2,640.8 666.4,644.1 670.7,647.3 C674.9,650.5 679.5,654.4 683.4,657.9 C687.3,661.5 690.5,665 694,668.5 C697.5,672.1 702.1,676.7 704.6,679.1 C707.1,681.6 708.1,682.7 708.8,683.4" stroke="#ee2a2e" stroke-width="3.0" fill="none" stroke-dasharray="9,4.5" clip-path="url(#clipA)"/>
<path d="M632.1,626.1 C633.2,628.6 636.7,635.7 638.8,641 C641,646.3 643.1,652.6 645.2,657.9 C647.3,663.2 649.8,668.5 651.6,672.8 C653.3,677 655.1,681.6 655.8,683.4" stroke="#3a3a3a" stroke-width="3.2" fill="none" clip-path="url(#clipA)"/><path d="M632.1,626.1 C633.2,628.6 636.7,635.7 638.8,641 C641,646.3 643.1,652.6 645.2,657.9 C647.3,663.2 649.8,668.5 651.6,672.8 C653.3,677 655.1,681.6 655.8,683.4" stroke="#ee2a2e" stroke-width="3.0" fill="none" stroke-dasharray="9,4.5" clip-path="url(#clipA)"/>
<path d="M624,602.8 C625.3,604.2 629.2,606.3 632.1,611.3 C634.9,616.2 638.1,624.7 641,632.5 C643.9,640.3 646.6,649.4 649.5,657.9 C652.3,666.4 656.5,679.1 657.9,683.4" stroke="#3a3a3a" stroke-width="3.2" fill="none" clip-path="url(#clipA)"/><path d="M624,602.8 C625.3,604.2 629.2,606.3 632.1,611.3 C634.9,616.2 638.1,624.7 641,632.5 C643.9,640.3 646.6,649.4 649.5,657.9 C652.3,666.4 656.5,679.1 657.9,683.4" stroke="#ee2a2e" stroke-width="3.0" fill="none" stroke-dasharray="9,4.5" clip-path="url(#clipA)"/>
<path d="M734.3,683.4 C736.4,682.3 742.2,678.4 747,677 C751.8,675.6 760.3,675.2 762.9,674.9" stroke="#3a3a3a" stroke-width="3.2" fill="none" clip-path="url(#clipA)"/><path d="M734.3,683.4 C736.4,682.3 742.2,678.4 747,677 C751.8,675.6 760.3,675.2 762.9,674.9" stroke="#ee2a2e" stroke-width="3.0" fill="none" stroke-dasharray="9,4.5" clip-path="url(#clipA)"/>
<path d="M765,392.8 C766.3,393.3 769.5,394.8 772.5,396 C775.5,397.2 779.5,400.4 783.1,400.2 C786.6,400.1 789.8,397.9 793.7,394.9 C797.6,391.9 801.8,385.7 806.4,382.2 C811,378.7 818.8,375.1 821.2,373.7" stroke="#3a3a3a" stroke-width="3.2" fill="none" clip-path="url(#clipA)"/><path d="M765,392.8 C766.3,393.3 769.5,394.8 772.5,396 C775.5,397.2 779.5,400.4 783.1,400.2 C786.6,400.1 789.8,397.9 793.7,394.9 C797.6,391.9 801.8,385.7 806.4,382.2 C811,378.7 818.8,375.1 821.2,373.7" stroke="#ee2a2e" stroke-width="3.0" fill="none" stroke-dasharray="9,4.5" clip-path="url(#clipA)"/>
<path d="M765,415.1 C767,414.6 773.3,412.8 776.7,411.9 C780.1,411 782.4,409.1 785.2,409.8 C788,410.5 790.1,413.7 793.7,416.1 C797.2,418.6 801.8,422.2 806.4,424.6 C811,427.1 818.8,429.9 821.2,431" stroke="#3a3a3a" stroke-width="3.2" fill="none" clip-path="url(#clipA)"/><path d="M765,415.1 C767,414.6 773.3,412.8 776.7,411.9 C780.1,411 782.4,409.1 785.2,409.8 C788,410.5 790.1,413.7 793.7,416.1 C797.2,418.6 801.8,422.2 806.4,424.6 C811,427.1 818.8,429.9 821.2,431" stroke="#ee2a2e" stroke-width="3.0" fill="none" stroke-dasharray="9,4.5" clip-path="url(#clipA)"/>
<path d="M765,426.7 C767,426 773,425 776.7,422.5 C780.4,420 783.8,415.8 787.3,411.9 C790.8,408 794,402.7 797.9,399.2 C801.8,395.6 806.8,392.5 810.6,390.7 C814.5,388.9 819.5,388.9 821.2,388.6" stroke="#3a3a3a" stroke-width="3.2" fill="none" clip-path="url(#clipA)"/><path d="M765,426.7 C767,426 773,425 776.7,422.5 C780.4,420 783.8,415.8 787.3,411.9 C790.8,408 794,402.7 797.9,399.2 C801.8,395.6 806.8,392.5 810.6,390.7 C814.5,388.9 819.5,388.9 821.2,388.6" stroke="#ee2a2e" stroke-width="3.0" fill="none" stroke-dasharray="9,4.5" clip-path="url(#clipA)"/>
<path d="M765,445.8 L821.2,448" stroke="#3a3a3a" stroke-width="3.2" fill="none" clip-path="url(#clipA)"/><path d="M765,445.8 L821.2,448" stroke="#ee2a2e" stroke-width="3.0" fill="none" stroke-dasharray="9,4.5" clip-path="url(#clipA)"/>
<path d="M765,523.2 L821.2,522.2" stroke="#3a3a3a" stroke-width="3.2" fill="none" clip-path="url(#clipA)"/><path d="M765,523.2 L821.2,522.2" stroke="#ee2a2e" stroke-width="3.0" fill="none" stroke-dasharray="9,4.5" clip-path="url(#clipA)"/>
<path d="M765,559.3 L821.2,559.3" stroke="#3a3a3a" stroke-width="3.2" fill="none" clip-path="url(#clipA)"/><path d="M765,559.3 L821.2,559.3" stroke="#ee2a2e" stroke-width="3.0" fill="none" stroke-dasharray="9,4.5" clip-path="url(#clipA)"/>
<path d="M765,583.7 C767,584 771.9,584 776.7,585.8 C781.5,587.6 788.4,592 793.7,594.3 C799,596.6 803.9,598.5 808.5,599.6 C813.1,600.7 819.1,600.5 821.2,600.7" stroke="#3a3a3a" stroke-width="3.2" fill="none" clip-path="url(#clipA)"/><path d="M765,583.7 C767,584 771.9,584 776.7,585.8 C781.5,587.6 788.4,592 793.7,594.3 C799,596.6 803.9,598.5 808.5,599.6 C813.1,600.7 819.1,600.5 821.2,600.7" stroke="#ee2a2e" stroke-width="3.0" fill="none" stroke-dasharray="9,4.5" clip-path="url(#clipA)"/>
<path d="M765,625.1 L821.2,625.1" stroke="#3a3a3a" stroke-width="3.2" fill="none" clip-path="url(#clipA)"/><path d="M765,625.1 L821.2,625.1" stroke="#ee2a2e" stroke-width="3.0" fill="none" stroke-dasharray="9,4.5" clip-path="url(#clipA)"/>
<path d="M823.4,417.2 L881.7,417.8" stroke="#3a3a3a" stroke-width="3.2" fill="none" clip-path="url(#clipA)"/><path d="M823.4,417.2 L881.7,417.8" stroke="#ee2a2e" stroke-width="3.0" fill="none" stroke-dasharray="9,4.5" clip-path="url(#clipA)"/>
<path d="M823.4,485.1 L881.7,484.4" stroke="#3a3a3a" stroke-width="3.2" fill="none" clip-path="url(#clipA)"/><path d="M823.4,485.1 L881.7,484.4" stroke="#ee2a2e" stroke-width="3.0" fill="none" stroke-dasharray="9,4.5" clip-path="url(#clipA)"/>
<path d="M823.4,587.9 C825.5,588.3 831.1,588.6 836.1,590.1 C841,591.5 847.8,595 853.1,596.4 C858.4,597.8 863.1,598.2 867.9,598.5 C872.7,598.9 879.4,598.5 881.7,598.5" stroke="#3a3a3a" stroke-width="3.2" fill="none" clip-path="url(#clipA)"/><path d="M823.4,587.9 C825.5,588.3 831.1,588.6 836.1,590.1 C841,591.5 847.8,595 853.1,596.4 C858.4,597.8 863.1,598.2 867.9,598.5 C872.7,598.9 879.4,598.5 881.7,598.5" stroke="#ee2a2e" stroke-width="3.0" fill="none" stroke-dasharray="9,4.5" clip-path="url(#clipA)"/>
<path d="M823.4,589 C825.5,589.5 831.1,590.2 836.1,592.2 C841,594.1 847.8,598.2 853.1,600.7 C858.4,603.1 863.1,605.8 867.9,607 C872.7,608.3 879.4,607.9 881.7,608.1" stroke="#3a3a3a" stroke-width="3.2" fill="none" clip-path="url(#clipA)"/><path d="M823.4,589 C825.5,589.5 831.1,590.2 836.1,592.2 C841,594.1 847.8,598.2 853.1,600.7 C858.4,603.1 863.1,605.8 867.9,607 C872.7,608.3 879.4,607.9 881.7,608.1" stroke="#ee2a2e" stroke-width="3.0" fill="none" stroke-dasharray="9,4.5" clip-path="url(#clipA)"/>
<path d="M823.4,619.7 C825.5,619.9 831.1,620.1 836.1,620.8 C841,621.5 847.8,622.9 853.1,624 C858.4,625.1 863.1,626.5 867.9,627.2 C872.7,627.8 879.4,627.7 881.7,627.8" stroke="#3a3a3a" stroke-width="3.2" fill="none" clip-path="url(#clipA)"/><path d="M823.4,619.7 C825.5,619.9 831.1,620.1 836.1,620.8 C841,621.5 847.8,622.9 853.1,624 C858.4,625.1 863.1,626.5 867.9,627.2 C872.7,627.8 879.4,627.7 881.7,627.8" stroke="#ee2a2e" stroke-width="3.0" fill="none" stroke-dasharray="9,4.5" clip-path="url(#clipA)"/>
<path d="M823.4,636.3 L881.7,636.3" stroke="#3a3a3a" stroke-width="3.2" fill="none" clip-path="url(#clipA)"/><path d="M823.4,636.3 L881.7,636.3" stroke="#ee2a2e" stroke-width="3.0" fill="none" stroke-dasharray="9,4.5" clip-path="url(#clipA)"/>
<path d="M502.4,380 C502.9,378.4 504.2,373.4 505.2,370.2 C506.2,367 507.3,363.4 508.4,360.9 C509.5,358.3 510.3,356.3 511.6,354.9 C512.9,353.5 514.8,352.8 516.3,352.6 C517.8,352.5 519.4,353.1 520.9,354 C522.4,354.9 524,356.3 525.5,357.7 C527,359.1 528.3,360.2 530.2,362.3 C532.1,364.4 534.8,367.7 537.1,370.2 C539.4,372.7 542.4,375.5 544,377.1 C545.6,378.7 545.5,378.5 546.8,380 C548.1,381.5 551.1,385 552,386" stroke="#3a3a3a" stroke-width="3.2" fill="none" clip-path="url(#clipA)"/><path d="M502.4,380 C502.9,378.4 504.2,373.4 505.2,370.2 C506.2,367 507.3,363.4 508.4,360.9 C509.5,358.3 510.3,356.3 511.6,354.9 C512.9,353.5 514.8,352.8 516.3,352.6 C517.8,352.5 519.4,353.1 520.9,354 C522.4,354.9 524,356.3 525.5,357.7 C527,359.1 528.3,360.2 530.2,362.3 C532.1,364.4 534.8,367.7 537.1,370.2 C539.4,372.7 542.4,375.5 544,377.1 C545.6,378.7 545.5,378.5 546.8,380 C548.1,381.5 551.1,385 552,386" stroke="#ee2a2e" stroke-width="3.0" fill="none" stroke-dasharray="9,4.5" clip-path="url(#clipA)"/>
<path d="M250,296.7 C252.2,297.5 259.5,298.9 263.3,301.2 C267,303.4 268.9,306.4 272.3,310.1 C275.6,313.8 279.7,319 283.4,323.4 C287.1,327.9 291.4,333.4 294.6,336.8 C297.7,340.2 299.9,342.4 302.4,344.1 C304.8,345.7 306.6,346.7 309,346.8 C311.5,347 313.7,346.7 316.8,345.2 C320,343.7 324.6,339.7 328,337.9 C331.3,336.2 333.2,335.5 336.9,334.6 C340.6,333.7 346.2,333.3 350.3,332.4 C354.3,331.4 357.7,330 361.4,329 C365.1,328 367,326.8 372.5,326.2 C378.1,325.7 387.4,325.8 394.8,325.7 C402.2,325.5 413.4,325.5 417.1,325.4" stroke="#3a3a3a" stroke-width="3.2" fill="none" clip-path="url(#clipA)"/><path d="M250,296.7 C252.2,297.5 259.5,298.9 263.3,301.2 C267,303.4 268.9,306.4 272.3,310.1 C275.6,313.8 279.7,319 283.4,323.4 C287.1,327.9 291.4,333.4 294.6,336.8 C297.7,340.2 299.9,342.4 302.4,344.1 C304.8,345.7 306.6,346.7 309,346.8 C311.5,347 313.7,346.7 316.8,345.2 C320,343.7 324.6,339.7 328,337.9 C331.3,336.2 333.2,335.5 336.9,334.6 C340.6,333.7 346.2,333.3 350.3,332.4 C354.3,331.4 357.7,330 361.4,329 C365.1,328 367,326.8 372.5,326.2 C378.1,325.7 387.4,325.8 394.8,325.7 C402.2,325.5 413.4,325.5 417.1,325.4" stroke="#ee2a2e" stroke-width="3.0" fill="none" stroke-dasharray="9,4.5" clip-path="url(#clipA)"/>
<path d="M250,317.9 C251.1,316.4 254.5,311.7 256.7,309 C258.9,306.2 260.3,303.1 263.3,301.2 C266.2,299.2 270.2,297.3 274.5,297.3 C278.8,297.3 283.8,299 289,301.2 C294.2,303.3 300.1,306.5 305.7,310.1 C311.3,313.6 317.8,318.6 322.4,322.3 C327,326 330.2,329.4 333.5,332.4 C336.9,335.3 340,337.2 342.5,340.2 C344.9,343.1 346.7,347.2 348,350.2 C349.3,353.1 349,354.4 350.3,358 C351.6,361.5 353,364.3 355.8,371.3 C358.6,378.3 365.1,395.2 367,400" stroke="#3a3a3a" stroke-width="3.2" fill="none" clip-path="url(#clipA)"/><path d="M250,317.9 C251.1,316.4 254.5,311.7 256.7,309 C258.9,306.2 260.3,303.1 263.3,301.2 C266.2,299.2 270.2,297.3 274.5,297.3 C278.8,297.3 283.8,299 289,301.2 C294.2,303.3 300.1,306.5 305.7,310.1 C311.3,313.6 317.8,318.6 322.4,322.3 C327,326 330.2,329.4 333.5,332.4 C336.9,335.3 340,337.2 342.5,340.2 C344.9,343.1 346.7,347.2 348,350.2 C349.3,353.1 349,354.4 350.3,358 C351.6,361.5 353,364.3 355.8,371.3 C358.6,378.3 365.1,395.2 367,400" stroke="#ee2a2e" stroke-width="3.0" fill="none" stroke-dasharray="9,4.5" clip-path="url(#clipA)"/>
<path d="M250,345.7 C253.7,345.7 266.7,345.3 272.3,345.7 C277.8,346.2 279.7,347.7 283.4,348.5 C287.1,349.3 290.8,350.2 294.6,350.4 C298.3,350.6 302,350.4 305.7,349.6 C309.4,348.8 313.1,347.3 316.8,345.7 C320.6,344.1 324.6,341.8 328,340.2 C331.3,338.5 333.9,336.4 336.9,335.7 C339.9,335 342.6,335 345.8,335.7 C349,336.4 352.3,338.7 355.8,340.2 C359.4,341.6 363.3,343.3 367,344.6 C370.7,345.9 373.5,347 378.1,348 C382.7,348.9 382.4,350.1 394.8,350.2 C407.3,350.3 440.2,349.1 452.7,348.5 C465.3,348 467.1,347.1 470,346.8" stroke="#3a3a3a" stroke-width="3.2" fill="none" clip-path="url(#clipA)"/><path d="M250,345.7 C253.7,345.7 266.7,345.3 272.3,345.7 C277.8,346.2 279.7,347.7 283.4,348.5 C287.1,349.3 290.8,350.2 294.6,350.4 C298.3,350.6 302,350.4 305.7,349.6 C309.4,348.8 313.1,347.3 316.8,345.7 C320.6,344.1 324.6,341.8 328,340.2 C331.3,338.5 333.9,336.4 336.9,335.7 C339.9,335 342.6,335 345.8,335.7 C349,336.4 352.3,338.7 355.8,340.2 C359.4,341.6 363.3,343.3 367,344.6 C370.7,345.9 373.5,347 378.1,348 C382.7,348.9 382.4,350.1 394.8,350.2 C407.3,350.3 440.2,349.1 452.7,348.5 C465.3,348 467.1,347.1 470,346.8" stroke="#ee2a2e" stroke-width="3.0" fill="none" stroke-dasharray="9,4.5" clip-path="url(#clipA)"/>
<path d="M306.8,400 C308.9,396.3 315.2,384.3 319.1,378 C323,371.8 326.9,366.3 330.2,362.4 C333.5,358.5 335.8,357 339.1,354.6 C342.5,352.2 346.5,349.4 350.3,348 C354,346.5 358.1,346.5 361.4,345.7 C364.7,345 366.6,344.7 370.3,343.5 C374,342.3 379.6,339.4 383.7,338.5 C387.8,337.6 383.3,338 394.8,337.9 C406.3,337.8 440.2,337.4 452.7,337.9 C465.3,338.5 467.1,340.7 470,341.3" stroke="#3a3a3a" stroke-width="3.2" fill="none" clip-path="url(#clipA)"/><path d="M306.8,400 C308.9,396.3 315.2,384.3 319.1,378 C323,371.8 326.9,366.3 330.2,362.4 C333.5,358.5 335.8,357 339.1,354.6 C342.5,352.2 346.5,349.4 350.3,348 C354,346.5 358.1,346.5 361.4,345.7 C364.7,345 366.6,344.7 370.3,343.5 C374,342.3 379.6,339.4 383.7,338.5 C387.8,337.6 383.3,338 394.8,337.9 C406.3,337.8 440.2,337.4 452.7,337.9 C465.3,338.5 467.1,340.7 470,341.3" stroke="#ee2a2e" stroke-width="3.0" fill="none" stroke-dasharray="9,4.5" clip-path="url(#clipA)"/>
<path d="M322.4,400 C324.8,396.3 332.6,384.3 336.9,378 C341.2,371.8 345.2,366 348,362.4 C350.8,358.9 351.4,358.9 353.6,356.9 C355.8,354.8 359,352 361.4,350.2 C363.8,348.3 367,346.5 368.1,345.7" stroke="#3a3a3a" stroke-width="3.2" fill="none" clip-path="url(#clipA)"/><path d="M322.4,400 C324.8,396.3 332.6,384.3 336.9,378 C341.2,371.8 345.2,366 348,362.4 C350.8,358.9 351.4,358.9 353.6,356.9 C355.8,354.8 359,352 361.4,350.2 C363.8,348.3 367,346.5 368.1,345.7" stroke="#ee2a2e" stroke-width="3.0" fill="none" stroke-dasharray="9,4.5" clip-path="url(#clipA)"/>
<path d="M492.8,82.4 C494.2,79.2 498.4,67.6 501.3,63.3 C504.1,59.1 506.9,57.3 509.7,57 C512.6,56.6 515.4,58 518.2,61.2 C521.1,64.4 524.2,70.8 526.7,76.1 C529.2,81.4 530.6,86.7 533.1,93 C535.6,99.4 538.7,108.2 541.6,114.2 C544.4,120.2 547.2,124.8 550,129.1 C552.9,133.3 555.7,137.4 558.5,139.7 C561.4,142 563.8,142.9 567,142.9 C570.2,142.9 574.1,142 577.6,139.7 C581.2,137.4 584.7,133.3 588.2,129.1 C591.8,124.8 595.3,119.5 598.8,114.2 C602.4,108.9 605.9,102.6 609.4,97.3 C613,92 616.3,86.7 620,82.4 C623.8,78.2 627.9,75 631.9,71.8 C635.9,68.6 642,64.7 644,63.3" stroke="#ee2a2e" stroke-width="3.0" fill="none" stroke-dasharray="9,4.5" clip-path="url(#clipA)"/>
<path d="M624,60.1 C625.3,62.1 628.2,72 632.1,71.8 C635.9,71.6 642.3,62.1 647.3,59.1 C652.3,56.1 657.2,55 662.2,53.8 C667.1,52.5 672.8,54.1 677,51.7 C681.3,49.2 685.9,41.1 687.6,38.9" stroke="#ee2a2e" stroke-width="3.0" fill="none" stroke-dasharray="9,4.5" clip-path="url(#clipA)"/>
<path d="M647.3,76.1 C650.5,75 660.8,72.9 666.4,69.7 C672.1,66.5 677.7,59.8 681.3,57 C684.8,54.1 684.8,52.4 687.6,52.7 C690.5,53.1 694,56.6 698.2,59.1 C702.5,61.6 707.8,64.7 713.1,67.6 C718.4,70.4 724.4,73.6 730,76.1 C735.7,78.5 741.5,80.9 747,82.4 C752.5,83.9 760.3,84.5 762.9,85" stroke="#ee2a2e" stroke-width="3.0" fill="none" stroke-dasharray="9,4.5" clip-path="url(#clipA)"/>
<path d="M715.2,38.9 C716.6,42.7 721.2,54 723.7,61.2 C726.2,68.5 727.9,75.3 730,82.4 C732.2,89.5 734.3,95.9 736.4,103.6 C738.5,111.4 740.3,119.5 742.8,129.1 C745.2,138.6 747.9,150.3 751.3,160.9 C754.6,171.5 761,187.4 762.9,192.7" stroke="#ee2a2e" stroke-width="3.0" fill="none" stroke-dasharray="9,4.5" clip-path="url(#clipA)"/>
<path d="M765,143.9 C766.3,142.2 769.8,139 772.5,133.3 C775.1,127.7 778.1,117.8 780.9,110 C783.8,102.2 786.6,94.1 789.4,86.7 C792.3,79.2 795.1,72.5 797.9,65.5 C800.7,58.4 804.8,48.7 806.4,44.2 C808,39.8 807.5,39.8 807.7,38.9" stroke="#ee2a2e" stroke-width="3.0" fill="none" stroke-dasharray="9,4.5" clip-path="url(#clipA)"/>
<path d="M765,67.1 C768,67 776.5,66.4 783.1,66.3 C789.6,66.2 797.9,66.2 804.3,66.3 C810.6,66.4 818.4,67 821.2,67.1" stroke="#ee2a2e" stroke-width="3.0" fill="none" stroke-dasharray="9,4.5" clip-path="url(#clipA)"/>
<path d="M823.4,77.1 C826.2,76.8 834.7,75.7 840.3,75 C846,74.3 852.7,73.5 857.3,72.9 C861.9,72.3 863.8,71.7 867.9,71.4 C872,71 879.4,70.9 881.7,70.8" stroke="#ee2a2e" stroke-width="3.0" fill="none" stroke-dasharray="9,4.5" clip-path="url(#clipA)"/>
<line x1="764" y1="40" x2="764" y2="682.4" stroke="#6a1a1a" stroke-width="2.4"/>
<line x1="822.6" y1="40" x2="822.6" y2="682.4" stroke="#6a1a1a" stroke-width="2.4"/>
<rect x="84" y="982" width="797" height="38.8" fill="#e88c8c" opacity="0.62"/>
<rect x="84" y="1093.8" width="797" height="38.8" fill="#7c84dc" opacity="0.62"/>
<path d="M84,906.1 C86.1,905.3 92.5,904.5 96.7,900.8 C101,897.1 105.2,889.9 109.5,883.9 C113.7,877.9 118.3,871.5 122.2,864.8 C126.1,858.1 129.6,850.3 132.8,843.6 C136,836.9 139.1,829.3 141.3,824.5 C143.4,819.7 144.8,816.5 145.5,814.9" stroke="#ee9a48" stroke-width="3" fill="none" stroke-dasharray="12,5,3,5" clip-path="url(#clipC)"/>
<path d="M84,932.6 C86.1,932.3 92.5,931.6 96.7,930.5 C101,929.5 104.5,928.1 109.5,926.3 C114.4,924.5 120.8,922.4 126.4,919.9 C132.1,917.4 138.1,915.3 143.4,911.4 C148.7,907.6 154,901.9 158.2,896.6 C162.5,891.3 165.7,886 168.8,879.6 C172,873.3 174.5,865.5 177.3,858.4 C180.1,851.3 183,843.6 185.8,837.2 C188.6,830.8 192.3,824 194.3,820.2 C196.2,816.5 196.9,815.8 197.5,814.9" stroke="#ee9a48" stroke-width="3" fill="none" stroke-dasharray="12,5,3,5" clip-path="url(#clipC)"/>
<path d="M84,941.1 C86.1,942.5 92.1,947.3 96.7,949.6 C101.3,951.9 106.6,953.7 111.6,954.9 C116.5,956.2 121.1,956.9 126.4,957 C131.7,957.2 138.1,956.5 143.4,956 C148.7,955.4 153.3,954.9 158.2,953.9 C163.2,952.8 168.5,951 173.1,949.6 C177.7,948.2 181.7,946.8 185.8,945.4 C189.9,944 193.2,942.4 197.5,941.1 C201.7,939.9 205.4,939 211.3,938 C217.1,936.9 225.4,935.7 232.5,934.8 C239.5,933.9 248.4,933.1 253.7,932.6 C258.9,932.2 260.3,931.9 263.9,932.2 C267.4,932.6 271.5,933.6 274.9,934.8 C278.2,935.9 282.5,938.3 284,939" stroke="#ee9a48" stroke-width="3" fill="none" stroke-dasharray="12,5,3,5" clip-path="url(#clipC)"/>
<path d="M84,943.3 C86.1,945 93.2,950.3 96.7,953.9 C100.3,957.4 102,960.6 105.2,964.5 C108.4,968.4 112.3,973.7 115.8,977.2 C119.3,980.7 122.9,983.7 126.4,985.7 C130,987.6 133.5,989.2 137,988.9 C140.6,988.5 144.1,985.8 147.6,983.6 C151.2,981.3 154.7,977.2 158.2,975.1 C161.8,972.9 165.7,971.9 168.8,970.8 C172,969.8 175.9,969.1 177.3,968.7" stroke="#ee9a48" stroke-width="3" fill="none" stroke-dasharray="12,5,3,5" clip-path="url(#clipC)"/>
<path d="M197.5,814.9 C198.4,817.9 200.5,825.7 202.8,833 C205.1,840.2 208.1,849.6 211.3,858.4 C214.4,867.3 218.3,877.9 221.9,886 C225.4,894.1 228.6,901.9 232.5,907.2 C236.4,912.5 240.9,915 245.2,917.8 C249.4,920.6 254.8,922.8 257.9,924.2 C261,925.6 261,927.7 263.9,926.3 C266.7,924.9 271.5,919.9 274.9,915.7 C278.2,911.4 282.5,903.3 284,900.8" stroke="#ee9a48" stroke-width="3" fill="none" stroke-dasharray="12,5,3,5" clip-path="url(#clipC)"/>
<path d="M194.3,1228.2 C192.9,1230.7 188.6,1237 185.8,1243 C183,1249.1 180.1,1257.2 177.3,1264.3 C174.5,1271.3 171.7,1278.4 168.8,1285.5 C166,1292.5 163.2,1299.6 160.4,1306.7 C157.5,1313.7 154.7,1320.8 151.9,1327.9 C149,1334.9 145.9,1342 143.4,1349.1 C140.9,1356.2 139.1,1363.2 137,1370.3 C134.9,1377.4 132.4,1384.4 130.7,1391.5 C128.9,1398.6 127.8,1405.6 126.4,1412.7 C125,1419.8 123.6,1426.1 122.2,1433.9 C120.8,1441.7 118.6,1455.1 117.9,1459.4" stroke="#ee9a48" stroke-width="3" fill="none" stroke-dasharray="12,5,3,5" clip-path="url(#clipC)"/>
<path d="M230.3,1236.7 C228.6,1239.2 223.6,1247.6 219.7,1251.5 C215.8,1255.4 210.7,1258.2 207,1260 C203.3,1261.8 201,1260.7 197.5,1262.1 C193.9,1263.5 189.2,1265.3 185.8,1268.5 C182.4,1271.7 180.1,1276.3 177.3,1281.2 C174.5,1286.2 171.7,1291.8 168.8,1298.2 C166,1304.6 162.8,1312.7 160.4,1319.4 C157.9,1326.1 155,1335.3 154,1338.5" stroke="#ee9a48" stroke-width="3" fill="none" stroke-dasharray="12,5,3,5" clip-path="url(#clipC)"/>
<path d="M84,1402.1 C86.1,1401.8 92.5,1401.1 96.7,1400 C101,1398.9 104.5,1397.9 109.5,1395.7 C114.4,1393.6 120.8,1391.5 126.4,1387.3 C132.1,1383 138.1,1376 143.4,1370.3 C148.7,1364.6 153.3,1358.3 158.2,1353.3 C163.2,1348.4 168.5,1344.1 173.1,1340.6 C177.7,1337.1 181.7,1334.2 185.8,1332.1 C189.9,1330 193.2,1328.2 197.5,1327.9 C201.7,1327.5 206.1,1328.9 211.3,1330 C216.4,1331.1 222.6,1332.5 228.2,1334.2 C233.9,1336 239.2,1338.5 245.2,1340.6 C251.1,1342.7 257.4,1345.9 263.9,1347 C270.3,1348 280.6,1347 284,1347" stroke="#ee9a48" stroke-width="3" fill="none" stroke-dasharray="12,5,3,5" clip-path="url(#clipC)"/>
<path d="M126.4,1370.3 C128.5,1370.1 134.9,1370.3 139.1,1369.2 C143.4,1368.2 146.9,1366.6 151.9,1363.9 C156.8,1361.3 163.2,1356.5 168.8,1353.3 C174.5,1350.1 181,1346.8 185.8,1344.8 C190.6,1342.9 193.2,1342.1 197.5,1341.7 C201.7,1341.2 205.4,1341.6 211.3,1342.3 C217.1,1343 225.4,1345 232.5,1345.9 C239.5,1346.9 248.4,1347.9 253.7,1348 C258.9,1348.2 262.2,1347.1 263.9,1347" stroke="#ee9a48" stroke-width="3" fill="none" stroke-dasharray="12,5,3,5" clip-path="url(#clipC)"/>
<path d="M84,1446.7 C86.1,1446.3 92.5,1445.9 96.7,1444.5 C101,1443.1 105.2,1440.6 109.5,1438.2 C113.7,1435.7 117.9,1433.9 122.2,1429.7 C126.4,1425.4 130.7,1419.1 134.9,1412.7 C139.1,1406.4 143.7,1397.9 147.6,1391.5 C151.5,1385.1 156.5,1377.4 158.2,1374.5" stroke="#ee9a48" stroke-width="3" fill="none" stroke-dasharray="12,5,3,5" clip-path="url(#clipC)"/>
<path d="M211.3,1459.4 C213,1454.4 218.3,1439.2 221.9,1429.7 C225.4,1420.1 228.6,1410.9 232.5,1402.1 C236.4,1393.3 240.9,1383.4 245.2,1376.7 C249.4,1369.9 254.8,1365 257.9,1361.8 C261,1358.6 261,1356.9 263.9,1357.6 C266.7,1358.3 271.5,1362.9 274.9,1366.1 C278.2,1369.2 282.5,1374.9 284,1376.7" stroke="#ee9a48" stroke-width="3" fill="none" stroke-dasharray="12,5,3,5" clip-path="url(#clipC)"/>
<path d="M232.5,1459.4 C233.9,1455.1 238.1,1443.5 240.9,1433.9 C243.8,1424.4 246.6,1412.7 249.4,1402.1 C252.3,1391.5 255.5,1379.1 257.9,1370.3 C260.3,1361.5 261.7,1356.2 263.9,1349.1 C266,1342 268.1,1334.9 270.6,1327.9 C273.2,1320.8 276.9,1312 279.1,1306.7 C281.3,1301.4 283.2,1297.8 284,1296.1" stroke="#ee9a48" stroke-width="3" fill="none" stroke-dasharray="12,5,3,5" clip-path="url(#clipC)"/>
<path d="M194.3,1228.2 C195.7,1229.6 199.9,1232.1 202.8,1236.7 C205.6,1241.3 208.1,1248.3 211.3,1255.8 C214.4,1263.2 218.3,1272.7 221.9,1281.2 C225.4,1289.7 228.9,1298.9 232.5,1306.7 C236,1314.4 239.5,1321.5 243.1,1327.9 C246.6,1334.2 250.2,1339.9 253.7,1344.8 C257.1,1349.8 262.2,1355.5 263.9,1357.6" stroke="#ee9a48" stroke-width="3" fill="none" stroke-dasharray="12,5,3,5" clip-path="url(#clipC)"/>
<path d="M84,1402.1 C86.1,1403.2 92.5,1405.6 96.7,1408.5 C101,1411.3 105.2,1414.8 109.5,1419.1 C113.7,1423.3 117.9,1429 122.2,1433.9 C126.4,1438.9 131.4,1444.5 134.9,1448.8 C138.4,1453 142,1457.6 143.4,1459.4" stroke="#ee9a48" stroke-width="3" fill="none" stroke-dasharray="12,5,3,5" clip-path="url(#clipC)"/>
<path d="M264,926.3 C266.1,924.5 272.5,919.6 276.7,915.7 C281,911.8 284.5,907.2 289.5,903 C294.4,898.7 301.5,892 306.4,890.2 C311.4,888.5 314.9,890.6 319.1,892.4 C323.4,894.1 326.9,898 331.9,900.8 C336.8,903.7 343.2,905.8 348.8,909.3 C354.5,912.9 360.5,918.9 365.8,922 C371.1,925.2 375.8,926.6 380.6,928.4 C385.5,930.2 390.1,932.6 394.6,932.6 C399.2,932.6 403.5,930.9 408.2,928.4 C413,925.9 417.8,921 423.1,917.8 C428.4,914.6 435,911.1 440,909.3 C445,907.6 449,907.9 453,907.2 C457,906.5 462.2,905.4 464,905.1" stroke="#ee9a48" stroke-width="3" fill="none" stroke-dasharray="12,5,3,5" clip-path="url(#clipC)"/>
<path d="M264,932.6 C266.1,931.2 272.5,926.6 276.7,924.2 C281,921.7 284.5,919.2 289.5,917.8 C294.4,916.4 300.8,915 306.4,915.7 C312.1,916.4 318.1,918.9 323.4,922 C328.7,925.2 333.3,930.5 338.2,934.8 C343.2,939 348.5,944.7 353.1,947.5 C357.7,950.3 361.9,951.4 365.8,951.7 C369.7,952.1 373.6,950.7 376.4,949.6 C379.2,948.6 383.1,943.3 382.8,945.4 C382.4,947.5 377.1,956.7 374.3,962.3 C371.5,968 367.2,976.5 365.8,979.3" stroke="#ee9a48" stroke-width="3" fill="none" stroke-dasharray="12,5,3,5" clip-path="url(#clipC)"/>
<path d="M338.2,814.9 C340,818.7 345.3,830 348.8,837.2 C352.4,844.5 355.9,851.3 359.4,858.4 C363,865.5 366.2,872.9 370,879.6 C373.9,886.3 378.7,894.5 382.8,898.7 C386.9,903 391.1,901.5 394.6,905.1 C398.2,908.6 401,914.3 404,919.9 C406.9,925.6 409.3,932.3 412.5,939 C415.6,945.7 419.5,953.9 423.1,960.2 C426.6,966.6 430.1,972.9 433.7,977.2 C437.2,981.4 441.1,983.9 444.3,985.7 C447.5,987.4 451.5,987.4 453,987.8" stroke="#ee9a48" stroke-width="3" fill="none" stroke-dasharray="12,5,3,5" clip-path="url(#clipC)"/>
<path d="M394.6,905.1 C396.2,902.6 400.3,896.9 404,890.2 C407.7,883.5 412.5,872.6 416.7,864.8 C420.9,857 425.2,849.9 429.4,843.6 C433.7,837.2 438.2,830.7 442.2,826.6 C446.1,822.5 449.3,820.6 453,819.2 C456.6,817.8 462.2,818.3 464,818.1" stroke="#ee9a48" stroke-width="3" fill="none" stroke-dasharray="12,5,3,5" clip-path="url(#clipC)"/>
<path d="M394.6,943.3 C396.9,941.8 403.5,939 408.2,934.8 C413,930.5 418.1,924.2 423.1,917.8 C428,911.4 432.9,901.9 437.9,896.6 C442.9,891.3 448.6,888.5 453,886 C457.3,883.5 462.2,882.5 464,881.7" stroke="#ee9a48" stroke-width="3" fill="none" stroke-dasharray="12,5,3,5" clip-path="url(#clipC)"/>
<path d="M334,814.9 C336.5,819.7 343.9,834.6 348.8,843.6 C353.8,852.6 358.7,861.2 363.7,869 C368.6,876.8 373.9,884.6 378.5,890.2 C383.1,895.9 389.1,900.8 391.3,903" stroke="#ee9a48" stroke-width="3" fill="none" stroke-dasharray="12,5,3,5" clip-path="url(#clipC)"/>
<path d="M264,1347 C266.1,1347 271.4,1346.6 276.7,1347 C282,1347.3 290.2,1348 295.8,1349.1 C301.5,1350.1 305.4,1351.2 310.7,1353.3 C316,1355.5 322.3,1359.3 327.6,1361.8 C332.9,1364.3 338.2,1366.1 342.5,1368.2 C346.7,1370.3 349.2,1371.4 353.1,1374.5 C357,1377.7 361.6,1383 365.8,1387.3 C370,1391.5 373.7,1397.3 378.5,1400 C383.3,1402.6 389,1402.6 394.6,1403.2 C400.3,1403.7 406,1403.3 412.5,1403.2 C419,1403 426.9,1402.5 433.7,1402.1 C440.4,1401.8 447.9,1401.2 453,1401.1 C458,1400.9 462.2,1401.1 464,1401.1" stroke="#ee9a48" stroke-width="3" fill="none" stroke-dasharray="12,5,3,5" clip-path="url(#clipC)"/>
<path d="M281,1234.6 C282.4,1239.5 286.3,1254 289.5,1264.3 C292.6,1274.5 296.5,1286.2 300.1,1296.1 C303.6,1306 307.1,1315.5 310.7,1323.6 C314.2,1331.8 317.7,1338.5 321.3,1344.8 C324.8,1351.2 328,1356.5 331.9,1361.8 C335.8,1367.1 340.7,1373.1 344.6,1376.7 C348.5,1380.2 351.7,1380.9 355.2,1383 C358.7,1385.1 364,1388.3 365.8,1389.4" stroke="#ee9a48" stroke-width="3" fill="none" stroke-dasharray="12,5,3,5" clip-path="url(#clipC)"/>
<path d="M264,1349.1 C266.1,1351.9 272.5,1360.8 276.7,1366.1 C281,1371.4 285.2,1376 289.5,1380.9 C293.7,1385.9 297.9,1390.8 302.2,1395.7 C306.4,1400.7 310.7,1405.6 314.9,1410.6 C319.1,1415.5 323.4,1421.2 327.6,1425.4 C331.9,1429.7 336.1,1433.2 340.4,1436 C344.6,1438.9 348.1,1440.6 353.1,1442.4 C358,1444.2 363.1,1445.2 370,1446.7 C377,1448.1 387.6,1449.8 394.6,1450.9 C401.7,1452 409.5,1452.7 412.5,1453" stroke="#ee9a48" stroke-width="3" fill="none" stroke-dasharray="12,5,3,5" clip-path="url(#clipC)"/>
<path d="M399.7,1446.7 C401.9,1443.8 408.2,1436 412.5,1429.7 C416.7,1423.3 420.9,1414.8 425.2,1408.5 C429.4,1402.1 433.7,1395.6 437.9,1391.5 C442.2,1387.4 446.3,1385.5 450.6,1384.1 C455,1382.7 461.8,1383.2 464,1383" stroke="#ee9a48" stroke-width="3" fill="none" stroke-dasharray="12,5,3,5" clip-path="url(#clipC)"/>
<path d="M264,1274.9 C265.1,1280.2 268.2,1296.1 270.4,1306.7 C272.5,1317.3 274.6,1329.6 276.7,1338.5 C278.8,1347.3 280.6,1350.9 283.1,1359.7 C285.6,1368.5 288.7,1380.9 291.6,1391.5 C294.4,1402.1 297.6,1414.5 300.1,1423.3 C302.5,1432.2 304.7,1438.5 306.4,1444.5 C308.2,1450.5 310,1456.9 310.7,1459.4" stroke="#ee9a48" stroke-width="3" fill="none" stroke-dasharray="12,5,3,5" clip-path="url(#clipC)"/>
<path d="M357.3,1383 C358.4,1386.2 361.6,1395.4 363.7,1402.1 C365.8,1408.8 367.9,1416.6 370,1423.3 C372.2,1430 374.3,1436.4 376.4,1442.4 C378.5,1448.4 381.7,1456.5 382.8,1459.4" stroke="#ee9a48" stroke-width="3" fill="none" stroke-dasharray="12,5,3,5" clip-path="url(#clipC)"/>
<path d="M444,816 C446.1,816.4 452.5,817.1 456.7,818.1 C461,819.2 465.2,820.6 469.5,822.4 C473.7,824.1 477.6,827.3 482.2,828.7 C486.8,830.1 492.8,830.8 497,830.8 C501.3,830.8 505.9,829.1 507.6,828.7" stroke="#ee9a48" stroke-width="3" fill="none" stroke-dasharray="12,5,3,5" clip-path="url(#clipC)"/>
<path d="M444,886 C446.1,885.6 452.5,885.3 456.7,883.9 C461,882.5 464.5,880.7 469.5,877.5 C474.4,874.3 480.8,868.7 486.4,864.8 C492.1,860.9 497.7,857.7 503.4,854.2 C509,850.6 515.4,846.8 520.4,843.6 C525.3,840.4 528.8,837.6 533.1,835.1 C537.3,832.6 541.6,830.5 545.8,828.7 C550,827 555,825 558.5,824.5 C562.1,824 564.2,823.4 567,825.5 C569.8,827.7 572.7,831.7 575.5,837.2 C578.3,842.7 581.2,851.3 584,858.4 C586.8,865.5 589.6,872.6 592.5,879.6 C595.3,886.7 598.1,894.5 600.9,900.8 C603.8,907.2 606.6,912.1 609.4,917.8 C612.3,923.5 615.1,929.8 617.9,934.8 C620.7,939.7 624.1,944.7 626.4,947.5 C628.7,950.3 629,950.7 631.9,951.7 C634.8,952.8 642,953.5 644,953.9" stroke="#ee9a48" stroke-width="3" fill="none" stroke-dasharray="12,5,3,5" clip-path="url(#clipC)"/>
<path d="M444,909.3 C446.1,908.6 453.2,907.2 456.7,905.1 C460.3,903 462,900.8 465.2,896.6 C468.4,892.4 472.3,885.3 475.8,879.6 C479.3,874 482.5,869.7 486.4,862.7 C490.3,855.6 495.6,845.2 499.1,837.2 C502.7,829.3 506.2,818.7 507.6,814.9" stroke="#ee9a48" stroke-width="3" fill="none" stroke-dasharray="12,5,3,5" clip-path="url(#clipC)"/>
<path d="M518.2,828.7 C520,831.9 525.3,841.1 528.8,847.8 C532.4,854.5 535.9,862.7 539.4,869 C543,875.4 546.5,881.7 550,886 C553.6,890.2 557.5,892.9 560.6,894.5 C563.8,896.1 566,896.2 569.1,895.5 C572.3,894.8 576.6,892.9 579.7,890.2 C582.9,887.6 585.4,883.9 588.2,879.6 C591,875.4 593.9,870.1 596.7,864.8 C599.5,859.5 602.4,853.8 605.2,847.8 C608,841.8 611.2,834.2 613.7,828.7 C616.1,823.2 619,817.2 620,814.9" stroke="#ee9a48" stroke-width="3" fill="none" stroke-dasharray="12,5,3,5" clip-path="url(#clipC)"/>
<path d="M444,984.6 C445.5,984.8 449.4,986.6 452.9,985.7 C456.4,984.8 460.3,982.1 465.2,979.3 C470.1,976.5 476.5,971.4 482.2,968.7 C487.8,966.1 493.5,964.6 499.1,963.4 C504.8,962.2 510.5,961.1 516.1,961.3 C521.8,961.5 527.4,962.9 533.1,964.5 C538.7,966.1 544.4,969.4 550,970.8 C555.7,972.2 562.1,973.7 567,972.9 C572,972.2 575.5,969.8 579.7,966.6 C584,963.4 588.2,959.5 592.5,953.9 C596.7,948.2 600.9,938 605.2,932.6 C609.4,927.3 613.5,924 617.9,922 C622.4,920.1 627.6,921.3 631.9,921 C636.3,920.6 642,920.1 644,919.9" stroke="#ee9a48" stroke-width="3" fill="none" stroke-dasharray="12,5,3,5" clip-path="url(#clipC)"/>
<path d="M444,1383 C446.1,1382.7 452.5,1382 456.7,1380.9 C461,1379.8 465.2,1378.4 469.5,1376.7 C473.7,1374.9 477.9,1372.4 482.2,1370.3 C486.4,1368.2 491,1366.1 494.9,1363.9 C498.8,1361.8 502.3,1360.4 505.5,1357.6 C508.7,1354.7 510.8,1351.9 514,1347 C517.2,1342 521.1,1336.4 524.6,1327.9 C528.1,1319.4 531.7,1306.7 535.2,1296.1 C538.7,1285.5 542.3,1273.8 545.8,1264.3 C549.3,1254.7 552.9,1244.8 556.4,1238.8 C559.9,1232.8 563.8,1228.6 567,1228.2 C570.2,1227.8 572,1230.7 575.5,1236.7 C579,1242.7 584,1254.4 588.2,1264.3 C592.5,1274.2 596.7,1286.2 600.9,1296.1 C605.2,1306 609.8,1316.6 613.7,1323.6 C617.6,1330.7 621.2,1334.6 624.3,1338.5 C627.3,1342.4 630.6,1345.6 631.9,1347" stroke="#ee9a48" stroke-width="3" fill="none" stroke-dasharray="12,5,3,5" clip-path="url(#clipC)"/>
<path d="M444,1400 C446.1,1400.2 452.5,1401.4 456.7,1401.1 C461,1400.7 465.2,1399.5 469.5,1397.9 C473.7,1396.3 477.9,1394.7 482.2,1391.5 C486.4,1388.3 490.7,1384.1 494.9,1378.8 C499.1,1373.5 503.7,1365.3 507.6,1359.7 C511.5,1354 516.5,1347.3 518.2,1344.8" stroke="#ee9a48" stroke-width="3" fill="none" stroke-dasharray="12,5,3,5" clip-path="url(#clipC)"/>
<path d="M507.6,1361.8 C509.4,1359.7 514,1352.6 518.2,1349.1 C522.5,1345.6 527.8,1342.4 533.1,1340.6 C538.4,1338.8 544.4,1339.2 550,1338.5 C555.7,1337.8 561.4,1336.2 567,1336.4 C572.7,1336.5 578.3,1338.3 584,1339.5 C589.6,1340.8 596,1342.7 600.9,1343.8 C605.9,1344.8 608.5,1345.4 613.7,1345.9 C618.8,1346.4 626.9,1346.8 631.9,1347 C637,1347.1 642,1347 644,1347" stroke="#ee9a48" stroke-width="3" fill="none" stroke-dasharray="12,5,3,5" clip-path="url(#clipC)"/>
<path d="M528.8,1317.3 C531,1316.2 537.3,1311.8 541.6,1310.9 C545.8,1310 550,1311.6 554.3,1312 C558.5,1312.3 562.8,1312.9 567,1313 C571.3,1313.2 574.8,1313 579.7,1313 C584.7,1313 591.8,1312.5 596.7,1313 C601.7,1313.6 605.2,1313.7 609.4,1316.2 C613.7,1318.7 618.4,1323.8 622.2,1327.9 C625.9,1331.9 630.3,1338.5 631.9,1340.6" stroke="#ee9a48" stroke-width="3" fill="none" stroke-dasharray="12,5,3,5" clip-path="url(#clipC)"/>
<path d="M545.8,1268.5 C547.6,1267.8 552.9,1265.7 556.4,1264.3 C559.9,1262.8 563.1,1261.4 567,1260 C570.9,1258.6 575.5,1257.9 579.7,1255.8 C584,1253.6 590.3,1248.7 592.5,1247.3" stroke="#ee9a48" stroke-width="3" fill="none" stroke-dasharray="12,5,3,5" clip-path="url(#clipC)"/>
<path d="M486.4,1419.1 C488.5,1419.4 494.9,1420.1 499.1,1421.2 C503.4,1422.3 507.6,1423.7 511.9,1425.4 C516.1,1427.2 520.4,1429.3 524.6,1431.8 C528.8,1434.3 533.1,1437.5 537.3,1440.3 C541.6,1443.1 545.8,1446.3 550,1448.8 C554.3,1451.2 559.9,1453.9 562.8,1455.1 C565.6,1456.4 566.3,1456 567,1456.2" stroke="#ee9a48" stroke-width="3" fill="none" stroke-dasharray="12,5,3,5" clip-path="url(#clipC)"/>
<path d="M571.3,1459.4 C573,1454.4 578.3,1439.2 581.9,1429.7 C585.4,1420.1 588.6,1411.3 592.5,1402.1 C596.4,1392.9 600.9,1382.7 605.2,1374.5 C609.4,1366.4 613.5,1357.9 617.9,1353.3 C622.4,1348.7 629.6,1348 631.9,1347" stroke="#ee9a48" stroke-width="3" fill="none" stroke-dasharray="12,5,3,5" clip-path="url(#clipC)"/>
<path d="M617.9,1459.4 C618.6,1455.1 620.7,1441.7 622.2,1433.9 C623.6,1426.1 624.8,1420.5 626.4,1412.7 C628,1404.9 629.8,1397.9 631.9,1387.3 C634,1376.7 637.1,1359 639.1,1349.1 C641.1,1339.2 643.2,1331.4 644,1327.9" stroke="#ee9a48" stroke-width="3" fill="none" stroke-dasharray="12,5,3,5" clip-path="url(#clipC)"/>
<path d="M624,921 C625.3,921.2 628.5,922.9 632.1,922 C635.6,921.2 640.9,919.2 645.2,915.7 C649.5,912.1 653.7,906.5 657.9,900.8 C662.2,895.2 666.4,888.1 670.7,881.7 C674.9,875.4 679.5,867.3 683.4,862.7 C687.3,858.1 690.5,855.2 694,854.2 C697.5,853.1 700.7,854.5 704.6,856.3 C708.5,858.1 713.1,861.6 717.3,864.8 C721.6,868 725.8,871.9 730,875.4 C734.3,878.9 738.5,883.5 742.8,886 C747,888.5 752,889.5 755.5,890.2 C759,890.9 762.2,890.2 763.6,890.2" stroke="#ee9a48" stroke-width="3" fill="none" stroke-dasharray="12,5,3,5" clip-path="url(#clipC)"/>
<path d="M624,951.7 C625.3,951.6 628.5,951.4 632.1,950.7 C635.6,950 640.9,949.1 645.2,947.5 C649.5,945.9 653.7,943.3 657.9,941.1 C662.2,939 666.4,936.4 670.7,934.8 C674.9,933.2 679.1,931.8 683.4,931.6 C687.6,931.4 691.9,931.8 696.1,933.7 C700.4,935.7 704.6,939.5 708.8,943.3 C713.1,947 717.3,951.7 721.6,956 C725.8,960.2 730,964.5 734.3,968.7 C738.5,972.9 742.8,978.2 747,981.4 C751.3,984.6 757.6,986.7 759.7,987.8" stroke="#ee9a48" stroke-width="3" fill="none" stroke-dasharray="12,5,3,5" clip-path="url(#clipC)"/>
<path d="M645.2,956 C647.3,957 653.7,960.2 657.9,962.3 C662.2,964.5 665.7,966.6 670.7,968.7 C675.6,970.8 682,972.6 687.6,975.1 C693.3,977.5 698.9,981.4 704.6,983.6 C710.2,985.7 716.6,986.7 721.6,987.8 C726.5,988.9 729.3,989.7 734.3,989.9 C739.2,990.1 746.4,989.2 751.3,988.9 C756.1,988.5 761.5,988 763.6,987.8" stroke="#ee9a48" stroke-width="3" fill="none" stroke-dasharray="12,5,3,5" clip-path="url(#clipC)"/>
<path d="M649.5,816 C652.3,816.4 660.1,816.7 666.4,818.1 C672.8,819.5 681.3,822 687.6,824.5 C694,827 699.6,831.6 704.6,833 C709.5,834.4 713.1,833.7 717.3,833 C721.6,832.3 725.8,830.1 730,828.7 C734.3,827.3 738.5,825.9 742.8,824.5 C747,823.1 752,821.3 755.5,820.2 C759,819.2 762.2,818.5 763.6,818.1" stroke="#ee9a48" stroke-width="3" fill="none" stroke-dasharray="12,5,3,5" clip-path="url(#clipC)"/>
<path d="M708.8,828.7 C710.6,831.9 715.9,841.8 719.4,847.8 C723,853.8 726.2,859.5 730,864.8 C733.9,870.1 738.5,875.7 742.8,879.6 C747,883.5 752,886.3 755.5,888.1 C759,889.9 762.2,889.9 763.6,890.2" stroke="#ee9a48" stroke-width="3" fill="none" stroke-dasharray="12,5,3,5" clip-path="url(#clipC)"/>
<path d="M713.1,814.9 C714.8,818.7 720.1,830 723.7,837.2 C727.2,844.5 730.4,850.6 734.3,858.4 C738.2,866.2 742.8,875.7 747,883.9 C751.3,892 757,903 759.7,907.2 C762.5,911.4 762.9,909 763.6,909.3" stroke="#ee9a48" stroke-width="3" fill="none" stroke-dasharray="12,5,3,5" clip-path="url(#clipC)"/>
<path d="M765,824.5 C768,824.1 776.5,823.2 783.1,822.4 C789.6,821.5 797.8,820.1 804.3,819.2 C810.7,818.3 818.8,817.4 821.7,817.1" stroke="#ee9a48" stroke-width="3" fill="none" stroke-dasharray="12,5,3,5" clip-path="url(#clipC)"/>
<path d="M765,894.5 C766.3,893.4 769.8,891.3 772.5,888.1 C775.1,884.9 778.1,880.3 780.9,875.4 C783.8,870.4 786.6,864.8 789.4,858.4 C792.3,852.1 795.4,844.5 797.9,837.2 C800.4,830 803.2,818.7 804.3,814.9" stroke="#ee9a48" stroke-width="3" fill="none" stroke-dasharray="12,5,3,5" clip-path="url(#clipC)"/>
<path d="M765,964.5 C767,963 772.6,958.8 776.7,956 C780.8,953.2 784.8,949.8 789.4,947.5 C794,945.2 798.9,943.6 804.3,942.2 C809.6,940.8 818.8,939.5 821.7,939" stroke="#ee9a48" stroke-width="3" fill="none" stroke-dasharray="12,5,3,5" clip-path="url(#clipC)"/>
<path d="M765,972.9 C767,972.2 772.6,970.5 776.7,968.7 C780.8,966.9 784.8,964.5 789.4,962.3 C794,960.2 798.9,958.1 804.3,956 C809.6,953.9 818.8,950.7 821.7,949.6" stroke="#ee9a48" stroke-width="3" fill="none" stroke-dasharray="12,5,3,5" clip-path="url(#clipC)"/>
<path d="M823.4,926.3 C825.5,926.1 830.4,925.8 836.1,925.2 C841.7,924.7 849.7,923.6 857.3,923.1 C864.9,922.6 877.6,922.2 881.7,922" stroke="#ee9a48" stroke-width="3" fill="none" stroke-dasharray="12,5,3,5" clip-path="url(#clipC)"/>
<path d="M823.4,934.8 C825.5,935.5 830.4,936.9 836.1,939 C841.7,941.1 849.7,945.4 857.3,947.5 C864.9,949.6 877.6,951 881.7,951.7" stroke="#ee9a48" stroke-width="3" fill="none" stroke-dasharray="12,5,3,5" clip-path="url(#clipC)"/>
<path d="M624,1344.8 C625.3,1345 628.5,1345.6 632.1,1345.9 C635.6,1346.3 639.5,1346.8 645.2,1347 C650.9,1347.1 660.1,1347.1 666.4,1347 C672.8,1346.8 678.4,1347 683.4,1345.9 C688.3,1344.8 692.6,1342.5 696.1,1340.6 C699.6,1338.7 701.8,1336.4 704.6,1334.2 C707.4,1332.1 711.7,1328.9 713.1,1327.9" stroke="#ee9a48" stroke-width="3" fill="none" stroke-dasharray="12,5,3,5" clip-path="url(#clipC)"/>
<path d="M624,1321.5 C625.3,1322.6 629.2,1327.5 632.1,1327.9 C634.9,1328.2 637.7,1325.1 641,1323.6 C644.2,1322.2 648,1319.4 651.6,1319.4 C655.1,1319.4 658.3,1321.5 662.2,1323.6 C666.1,1325.8 670.7,1328.6 674.9,1332.1 C679.1,1335.7 683.4,1340.6 687.6,1344.8 C691.9,1349.1 696.1,1353.3 700.4,1357.6 C704.6,1361.8 708.8,1366.8 713.1,1370.3 C717.3,1373.8 720.9,1376.7 725.8,1378.8 C730.8,1380.9 736.5,1382.3 742.8,1383 C749.1,1383.7 760.1,1383 763.6,1383" stroke="#ee9a48" stroke-width="3" fill="none" stroke-dasharray="12,5,3,5" clip-path="url(#clipC)"/>
<path d="M655.8,1240.9 C656.9,1244.1 659.7,1252.6 662.2,1260 C664.7,1267.4 667.8,1277.7 670.7,1285.5 C673.5,1293.2 676.3,1299.6 679.1,1306.7 C682,1313.7 684.8,1322.2 687.6,1327.9 C690.5,1333.5 693.3,1336.4 696.1,1340.6 C698.9,1344.8 701.8,1349.1 704.6,1353.3 C707.4,1357.6 709.5,1360.4 713.1,1366.1 C716.6,1371.7 721.6,1380.9 725.8,1387.3 C730,1393.6 734.3,1400 738.5,1404.2 C742.8,1408.5 749.1,1411.3 751.3,1412.7" stroke="#ee9a48" stroke-width="3" fill="none" stroke-dasharray="12,5,3,5" clip-path="url(#clipC)"/>
<path d="M624,1370.3 C625.3,1371 628.5,1372.8 632.1,1374.5 C635.6,1376.3 640.9,1378.1 645.2,1380.9 C649.5,1383.7 653.7,1388.3 657.9,1391.5 C662.2,1394.7 665.7,1397.2 670.7,1400 C675.6,1402.8 682,1406.4 687.6,1408.5 C693.3,1410.6 699.6,1412 704.6,1412.7 C709.5,1413.4 713.1,1413.1 717.3,1412.7 C721.6,1412.4 725.8,1411.7 730,1410.6 C734.3,1409.5 738.5,1407.8 742.8,1406.4 C747,1404.9 752,1403 755.5,1402.1 C759,1401.2 762.2,1401.2 763.6,1401.1" stroke="#ee9a48" stroke-width="3" fill="none" stroke-dasharray="12,5,3,5" clip-path="url(#clipC)"/>
<path d="M632.1,1370.3 C632.8,1375.6 634.9,1391.5 636.7,1402.1 C638.6,1412.7 641,1424.4 643.1,1433.9 C645.2,1443.5 648.4,1455.1 649.5,1459.4" stroke="#ee9a48" stroke-width="3" fill="none" stroke-dasharray="12,5,3,5" clip-path="url(#clipC)"/>
<path d="M713.1,1323.6 C713.8,1327.9 715.6,1339.5 717.3,1349.1 C719.1,1358.6 721.6,1370.3 723.7,1380.9 C725.8,1391.5 727.9,1403.2 730,1412.7 C732.2,1422.3 734.6,1430.4 736.4,1438.2 C738.2,1445.9 739.9,1455.8 740.6,1459.4" stroke="#ee9a48" stroke-width="3" fill="none" stroke-dasharray="12,5,3,5" clip-path="url(#clipC)"/>
<path d="M765,1228.2 C768,1228.1 776.5,1228 783.1,1227.8 C789.6,1227.6 797.8,1227.2 804.3,1227.1 C810.7,1227 818.8,1227.1 821.7,1227.1" stroke="#ee9a48" stroke-width="3" fill="none" stroke-dasharray="12,5,3,5" clip-path="url(#clipC)"/>
<path d="M765,1261.1 L821.7,1261.1" stroke="#ee9a48" stroke-width="3" fill="none" stroke-dasharray="12,5,3,5" clip-path="url(#clipC)"/>
<path d="M765,1313 C767,1313.7 771.9,1315.5 776.7,1317.3 C781.5,1319 788,1322 793.7,1323.6 C799.3,1325.2 806,1326.1 810.6,1326.8 C815.3,1327.5 819.8,1327.7 821.7,1327.9" stroke="#ee9a48" stroke-width="3" fill="none" stroke-dasharray="12,5,3,5" clip-path="url(#clipC)"/>
<path d="M765,1337.4 C767,1337.6 771.9,1338 776.7,1338.5 C781.5,1339 786.2,1340.1 793.7,1340.6 C801.2,1341.1 817,1341.5 821.7,1341.7" stroke="#ee9a48" stroke-width="3" fill="none" stroke-dasharray="12,5,3,5" clip-path="url(#clipC)"/>
<path d="M765,1450.9 C767,1451.6 773.3,1453.7 776.7,1455.1 C780.1,1456.5 783.8,1458.7 785.2,1459.4" stroke="#ee9a48" stroke-width="3" fill="none" stroke-dasharray="12,5,3,5" clip-path="url(#clipC)"/>
<path d="M823.4,1334.2 C825.5,1334.1 830.4,1333.7 836.1,1333.2 C841.7,1332.7 849.7,1331.5 857.3,1331.1 C864.9,1330.6 877.6,1330.5 881.7,1330.4" stroke="#ee9a48" stroke-width="3" fill="none" stroke-dasharray="12,5,3,5" clip-path="url(#clipC)"/>
<path d="M823.4,1348 L881.7,1347.4" stroke="#ee9a48" stroke-width="3" fill="none" stroke-dasharray="12,5,3,5" clip-path="url(#clipC)"/>
<path d="M823.4,1349.1 C825.5,1350.1 831.1,1353.3 836.1,1355.5 C841,1357.6 847.8,1359.7 853.1,1361.8 C858.4,1363.9 863.1,1366.6 867.9,1368.2 C872.7,1369.8 879.4,1370.8 881.7,1371.4" stroke="#ee9a48" stroke-width="3" fill="none" stroke-dasharray="12,5,3,5" clip-path="url(#clipC)"/>
<path d="M823.4,1357.6 C825.5,1358.3 831.1,1360 836.1,1361.8 C841,1363.6 847.8,1366.4 853.1,1368.2 C858.4,1369.9 863.1,1371.4 867.9,1372.4 C872.7,1373.5 879.4,1374.2 881.7,1374.5" stroke="#ee9a48" stroke-width="3" fill="none" stroke-dasharray="12,5,3,5" clip-path="url(#clipC)"/>
<path d="M103.1,1013.7 C105.2,1010.5 111.6,1001.5 115.8,994.6 C120.1,987.7 123.9,978.5 128.5,972.3 C133.1,966.2 138.8,962.8 143.4,957.5 C148,952.2 151.9,947.2 156.1,940.5 C160.4,933.8 164.9,925.7 168.8,917.2 C172.7,908.7 176.3,898.5 179.4,889.6 C182.6,880.8 184.9,872 187.9,864.2 C190.9,856.4 195.9,846.5 197.5,843" stroke="#8f9cf2" stroke-width="3" fill="none" clip-path="url(#clipC)"/>
<path d="M84,904.5 C86.1,905.5 92.8,907.7 96.7,910.8 C100.6,914 104.1,920.9 107.3,923.6 C110.5,926.2 113.2,927.1 115.8,926.7 C118.5,926.4 120.8,925.2 123.2,921.4 C125.7,917.7 128,911.5 130.7,904.5 C133.3,897.4 136.5,888.6 139.1,879 C141.8,869.5 144.3,858 146.6,847.2 C148.9,836.4 151.9,819.8 152.9,814.3" stroke="#8f9cf2" stroke-width="3" fill="none" clip-path="url(#clipC)"/>
<path d="M84,945.8 C86.8,944.6 96,942.5 101,938.4 C105.9,934.3 110.2,927.8 113.7,921.4 C117.2,915.1 119.3,909.1 122.2,900.2 C125,891.4 128,879 130.7,868.4 C133.3,857.8 136,845.6 138.1,836.6 C140.2,827.6 142.5,818.1 143.4,814.3" stroke="#8f9cf2" stroke-width="3" fill="none" clip-path="url(#clipC)"/>
<path d="M197.5,843 C199.1,843 204,844.1 207,843.4 C210,842.7 212.7,841.3 215.5,838.7 C218.3,836.2 221.3,832.2 224,828.1 C226.6,824.1 230.2,816.6 231.4,814.3" stroke="#8f9cf2" stroke-width="3" fill="none" clip-path="url(#clipC)"/>
<path d="M215.5,814.3 C217.6,817.3 224,826.5 228.2,832.4 C232.5,838.2 236.7,844 240.9,849.3 C245.2,854.6 249.9,860.6 253.7,864.2 C257.5,867.8 260.3,870.4 263.9,871 C267.4,871.5 271.5,869 274.9,867.4 C278.2,865.7 282.5,862.1 284,861" stroke="#8f9cf2" stroke-width="3" fill="none" clip-path="url(#clipC)"/>
<path d="M232.5,814.3 C233.9,817.7 237.8,828.3 240.9,834.5 C244.1,840.7 247.7,845.4 251.6,851.5 C255.4,857.5 261.8,867.7 263.9,871" stroke="#8f9cf2" stroke-width="3" fill="none" clip-path="url(#clipC)"/>
<path d="M264,870.5 C265.8,870.2 270.4,871.3 274.6,868.4 C278.8,865.6 285.2,858.9 289.5,853.6 C293.7,848.3 296.9,841.9 300.1,836.6 C303.2,831.3 306.4,825.5 308.5,821.8 C310.7,818.1 312.1,815.6 312.8,814.3" stroke="#8f9cf2" stroke-width="3" fill="none" clip-path="url(#clipC)"/>
<path d="M314.9,814.3 C316.3,819.8 320.2,837.1 323.4,847.2 C326.6,857.3 330.5,866.7 334,874.8 C337.5,882.9 341.4,889.6 344.6,896 C347.8,902.4 350.2,908.4 353.1,913 C355.9,917.6 359.1,921.6 361.6,923.6 C364,925.5 365.4,925.7 367.9,924.6 C370.4,923.6 373.2,920.2 376.4,917.2 C379.6,914.2 384,909.2 387,906.6 C390.1,903.9 393.4,902.2 394.6,901.3" stroke="#8f9cf2" stroke-width="3" fill="none" clip-path="url(#clipC)"/>
<path d="M329.7,814.3 C331.5,819.8 336.8,836.4 340.4,847.2 C343.9,858 347.8,869.5 351,879 C354.1,888.6 356.6,897.4 359.4,904.5 C362.3,911.5 365.1,916.5 367.9,921.4 C370.8,926.4 373.2,930.6 376.4,934.2 C379.6,937.7 384,940.8 387,942.7 C390.1,944.5 392.2,943.8 394.6,945.2 C397.1,946.6 398.9,948 401.9,951.1 C404.8,954.2 408.6,959.6 412.5,963.9 C416.4,968.1 420.9,973.1 425.2,976.6 C429.4,980.1 433.3,983.1 437.9,985.1 C442.5,987 448.6,987.2 453,988.3 C457.3,989.3 462.2,990.9 464,991.4" stroke="#8f9cf2" stroke-width="3" fill="none" clip-path="url(#clipC)"/>
<path d="M264,1002 C266.8,998.5 275.7,987.5 281,980.8 C286.3,974.1 291.2,966.3 295.8,961.7 C300.4,957.1 303.9,954 308.5,953.3 C313.1,952.6 318.4,955 323.4,957.5 C328.3,960 333.3,963.5 338.2,968.1 C343.2,972.7 348.8,979.4 353.1,985.1 C357.3,990.7 360.1,997.1 363.7,1002 C367.2,1007 371.1,1012.5 374.3,1014.8 C377.5,1017.1 381.4,1015.6 382.8,1015.8" stroke="#8f9cf2" stroke-width="3" fill="none" clip-path="url(#clipC)"/>
<path d="M84,889.6 C86.1,889.1 92.5,888.9 96.7,886.4 C101,884 105.2,879.9 109.5,874.8 C113.7,869.7 118.3,862.1 122.2,855.7 C126.1,849.3 129.5,843.5 132.8,836.6 C136,829.7 140.2,818.1 141.7,814.3" stroke="#8f9cf2" stroke-width="3" fill="none" clip-path="url(#clipC)"/>
<path d="M84,902.4 C86.1,902.2 92.5,900.9 96.7,901.3 C101,901.6 105.2,903.1 109.5,904.5 C113.7,905.9 117.6,908.4 122.2,909.8 C126.8,911.2 132.8,913 137,913 C141.3,913 144.1,911.9 147.6,909.8 C151.2,907.7 154,905.4 158.2,900.2 C162.5,895.1 168.8,886.1 173.1,879 C177.3,872 180.5,863.3 183.7,857.8 C186.9,852.3 189.9,848.8 192.2,846.2 C194.5,843.5 196.6,842.6 197.5,841.9" stroke="#8f9cf2" stroke-width="3" fill="none" clip-path="url(#clipC)"/>
<path d="M84,1012.6 C87.2,1012.8 97.8,1016.7 103.1,1013.7 C108.4,1010.7 111.6,1001.5 115.8,994.6 C120.1,987.7 126.4,976.1 128.5,972.3" stroke="#8f9cf2" stroke-width="3" fill="none" clip-path="url(#clipC)"/>
<path d="M197.5,841.9 C199.1,844.6 204,850.6 207,857.8 C210,865.1 212.7,876.6 215.5,885.4 C218.3,894.2 221.2,902.7 224,910.8 C226.8,919 229.3,926 232.5,934.2 C235.6,942.3 239.5,951.1 243.1,959.6 C246.6,968.1 250.2,978.4 253.7,985.1 C257.1,991.8 260.3,999.9 263.9,999.9 C267.4,999.9 271.5,990.4 274.9,985.1 C278.2,979.8 282.5,970.9 284,968.1" stroke="#8f9cf2" stroke-width="3" fill="none" clip-path="url(#clipC)"/>
<path d="M103.1,1013.7 C107,1014.8 119,1018.7 126.4,1020.1 C133.8,1021.5 140.6,1022 147.6,1022.2 C154.7,1022.4 160.5,1021.5 168.8,1021.1 C177.1,1020.8 190.4,1020.9 197.5,1020.1 C204.5,1019.2 205.4,1018.1 211.3,1015.8 C217.1,1013.5 225.4,1008.6 232.5,1006.3 C239.5,1004 248.4,1002.9 253.7,1002 C258.9,1001.2 260.3,1000.4 263.9,1001 C267.4,1001.5 271.5,1004.2 274.9,1005.2 C278.2,1006.3 282.5,1007 284,1007.3" stroke="#8f9cf2" stroke-width="3" fill="none" clip-path="url(#clipC)"/>
<path d="M154,1048.7 C156.5,1044.5 163.5,1031 168.8,1023.2 C174.1,1015.5 181,1007 185.8,1002 C190.6,997.1 193.2,994.8 197.5,993.6 C201.7,992.3 205.4,993.6 211.3,994.6 C217.1,995.7 225.4,997.8 232.5,999.9 C239.5,1002 248.4,1005.4 253.7,1007.3 C258.9,1009.3 260.3,1011.2 263.9,1011.6 C267.4,1011.9 271.5,1010.2 274.9,1009.5 C278.2,1008.8 282.5,1007.7 284,1007.3" stroke="#8f9cf2" stroke-width="3" fill="none" clip-path="url(#clipC)"/>
<path d="M84,1037 C85.8,1036.1 91.2,1033.5 94.6,1031.7 C98,1030 101,1026.1 104.1,1026.4 C107.3,1026.8 110,1029.1 113.7,1033.9 C117.4,1038.6 122.2,1048.3 126.4,1055.1 C130.7,1061.8 134.5,1068.5 139.1,1074.1 C143.7,1079.8 149,1084.8 154,1089 C158.9,1093.2 163.5,1096.4 168.8,1099.6 C174.1,1102.8 181,1106.1 185.8,1108.1 C190.6,1110 193.2,1109.9 197.5,1111.3 C201.7,1112.7 206.1,1114.8 211.3,1116.6 C216.4,1118.3 222.9,1121 228.2,1121.9 C233.5,1122.8 237.1,1122 243.1,1121.9 C249,1121.7 257,1120.8 263.9,1120.8 C270.7,1120.8 280.6,1121.7 284,1121.9" stroke="#8f9cf2" stroke-width="3" fill="none" clip-path="url(#clipC)"/>
<path d="M118.9,1045.4 C120.1,1047.2 123.7,1051.9 126.3,1056 C128.9,1060 131.9,1065.5 134.8,1069.7 C137.6,1074 140.2,1077.7 143.2,1081.4 C146.2,1085.1 149.4,1088.8 152.7,1091.9 C156.1,1095.1 159.8,1097.9 163.3,1100.4 C166.8,1102.9 170.4,1105 173.9,1106.7 C177.4,1108.5 180.5,1110 184.5,1111 C188.4,1111.9 194,1112 197.5,1112.6 C201,1113.1 202.5,1113 205.6,1114.1 C208.7,1115.3 212.7,1118 216.2,1119.4 C219.7,1120.8 222.4,1122.1 226.8,1122.6 C231.2,1123.1 238.2,1122.8 242.6,1122.6 C247.1,1122.4 249.8,1121.6 253.2,1121.3 C256.7,1121.1 260,1120.9 263.5,1121 C267,1121.1 271,1121.6 274.4,1122.1 C277.8,1122.6 282.4,1123.8 284,1124.2" stroke="#8f9cf2" stroke-width="3" fill="none" clip-path="url(#clipC)"/>
<path d="M84,1102 C87.5,1101.9 99,1101.8 105.2,1101.5 C111.3,1101.1 117.1,1100.7 121,1099.9 C124.9,1099 125.8,1098.2 128.4,1096.2 C131.1,1094.1 134.1,1091.1 136.9,1087.7 C139.7,1084.4 142.7,1080.5 145.3,1076.1 C148,1071.7 150.3,1066.4 152.7,1061.3 C155.2,1056.2 158.9,1048 160.2,1045.4" stroke="#8f9cf2" stroke-width="3" fill="none" clip-path="url(#clipC)"/>
<path d="M84,1102.5 C87.5,1102.6 99.9,1102.8 105.2,1103 C110.4,1103.3 110.4,1103.9 115.7,1104.1 C121,1104.3 128.1,1104.1 136.9,1104.1 C145.7,1104.1 158.5,1104.2 168.6,1104.1 C178.7,1104 191.3,1104 197.5,1103.6 C203.7,1103.1 202.5,1103 205.6,1101.5 C208.7,1099.9 212.7,1096.5 216.2,1094.1 C219.7,1091.6 223.3,1089.3 226.8,1086.6 C230.3,1084 233.8,1080.7 237.4,1078.2 C240.9,1075.7 244.9,1072.8 247.9,1071.8 C250.9,1070.9 252.7,1071.5 255.3,1072.4 C257.9,1073.3 261,1075.5 263.5,1077.1 C265.9,1078.8 268,1079.9 270.1,1082.4 C272.3,1084.9 274.2,1088.5 276.5,1091.9 C278.8,1095.4 282.7,1101.2 284,1103" stroke="#8f9cf2" stroke-width="3" fill="none" clip-path="url(#clipC)"/>
<path d="M84,1113.1 C85.8,1113.3 91.1,1113.3 94.6,1114.1 C98.1,1115 101.6,1116.6 105.2,1118.4 C108.7,1120.1 112.2,1122.4 115.7,1124.7 C119.3,1127 123.7,1130 126.3,1132.1 C128.9,1134.2 129.8,1135.1 131.6,1137.4 C133.4,1139.7 134.2,1142.2 136.9,1145.9 C139.5,1149.6 143.9,1154.9 147.5,1159.6 C151,1164.4 154.5,1169.7 158,1174.4 C161.6,1179.2 165.4,1183.6 168.6,1188.2 C171.8,1192.8 175.3,1198.9 177.1,1201.9 C178.8,1204.9 178.8,1205.5 179.2,1206.2" stroke="#8f9cf2" stroke-width="3" fill="none" clip-path="url(#clipC)"/>
<path d="M84,1126.3 C85.8,1126 91.1,1125.5 94.6,1124.7 C98.1,1123.9 101.6,1123.1 105.2,1121.6 C108.7,1120 112.2,1117.7 115.7,1115.2 C119.3,1112.7 122.8,1109.7 126.3,1106.7 C129.8,1103.7 133.4,1099.9 136.9,1097.2 C140.4,1094.6 143.9,1092.4 147.5,1090.9 C151,1089.4 154.5,1088.4 158,1088.2 C161.6,1088.1 165.1,1088.9 168.6,1089.8 C172.1,1090.7 175.7,1092.5 179.2,1093.5 C182.7,1094.6 186.7,1095.6 189.8,1096.2 C192.8,1096.7 194.8,1096.9 197.5,1096.7 C200.1,1096.5 202.5,1096.6 205.6,1095.1 C208.7,1093.6 212.7,1090.2 216.2,1087.7 C219.7,1085.2 223.3,1082.8 226.8,1080.3 C230.3,1077.8 233.8,1075.5 237.4,1072.9 C240.9,1070.3 244.4,1067.3 247.9,1064.4 C251.5,1061.6 255.9,1057.7 258.5,1056 C261.1,1054.2 261.7,1054 263.5,1053.9 C265.2,1053.7 266.4,1053.5 269.1,1054.9 C271.8,1056.3 277.2,1060.4 279.7,1062.3 C282.1,1064.3 283.3,1065.8 284,1066.6" stroke="#8f9cf2" stroke-width="3" fill="none" clip-path="url(#clipC)"/>
<path d="M124.2,1140.6 C124.9,1139.9 126.7,1138.8 128.4,1136.4 C130.2,1133.9 132.5,1128.6 134.8,1125.8 C137.1,1123 139.7,1120.8 142.2,1119.4 C144.6,1118.1 146.9,1117.8 149.6,1117.8 C152.2,1117.8 154.9,1118.3 158,1119.4 C161.2,1120.6 165.1,1122.8 168.6,1124.7 C172.1,1126.7 175.7,1128.1 179.2,1131.1 C182.7,1134.1 186.7,1139.7 189.8,1142.7 C192.8,1145.7 194.8,1148.2 197.5,1149 C200.1,1149.9 202.5,1149.9 205.6,1148 C208.7,1146.1 212.7,1141.3 216.2,1137.4 C219.7,1133.5 223.3,1129.3 226.8,1124.7 C230.3,1120.1 233.8,1114.9 237.4,1109.9 C240.9,1105 244.4,1099.5 247.9,1095.1 C251.5,1090.7 255.9,1086.5 258.5,1083.5 C261.1,1080.5 261.2,1078.9 263.5,1077.1 C265.8,1075.4 268.8,1073.4 272.3,1072.9 C275.7,1072.4 282,1073.8 284,1074" stroke="#8f9cf2" stroke-width="3" fill="none" clip-path="url(#clipC)"/>
<path d="M105.2,1121.6 C106.9,1122.5 111.9,1124.6 115.7,1127.4 C119.6,1130.1 124,1133.3 128.4,1137.9 C132.8,1142.6 137.2,1148.8 142.2,1155.4 C147.1,1162 153.3,1171.1 158,1177.6 C162.8,1184.1 167.2,1190.1 170.7,1194.5 C174.3,1198.9 177.8,1202.5 179.2,1204" stroke="#8f9cf2" stroke-width="3" fill="none" clip-path="url(#clipC)"/>
<path d="M177.1,1206.2 C178.3,1203.2 182.4,1193.5 184.5,1188.2 C186.6,1182.9 187.6,1178.3 189.8,1174.4 C191.9,1170.6 194.8,1166.1 197.5,1164.9 C200.1,1163.7 202.5,1165.3 205.6,1167 C208.7,1168.8 211.8,1172.3 216.2,1175.5 C220.6,1178.7 226.8,1183.5 232.1,1186.1 C237.4,1188.6 242.7,1189.9 247.9,1190.8 C253.2,1191.8 259.1,1191.6 263.5,1191.9 C267.9,1192.1 271,1192 274.4,1192.4 C277.8,1192.9 282.4,1194.2 284,1194.5" stroke="#8f9cf2" stroke-width="3" fill="none" clip-path="url(#clipC)"/>
<path d="M84,1210.6 C86.1,1209.6 92.5,1208.5 96.7,1204.3 C101,1200 105.6,1192.3 109.5,1185.2 C113.3,1178.1 116.9,1170 120.1,1161.9 C123.2,1153.7 127.1,1140.6 128.5,1136.4" stroke="#8f9cf2" stroke-width="3" fill="none" clip-path="url(#clipC)"/>
<path d="M147.6,1161.9 C150.5,1165.4 160,1177.1 164.6,1183.1 C169.2,1189.1 171.7,1194.5 175.2,1197.9 C178.7,1201.3 182.1,1202 185.8,1203.2 C189.5,1204.4 193.2,1204.4 197.5,1205.3 C201.7,1206.2 205.4,1205.9 211.3,1208.5 C217.1,1211.2 226.1,1216.3 232.5,1221.2 C238.8,1226.2 244.2,1232 249.4,1238.2 C254.7,1244.4 259.6,1252 263.9,1258.4 C268.1,1264.7 271.5,1269.8 274.9,1276.4 C278.2,1282.9 282.5,1294.1 284,1297.6" stroke="#8f9cf2" stroke-width="3" fill="none" clip-path="url(#clipC)"/>
<path d="M156.1,1174.6 C158.2,1177.8 164.9,1187.7 168.8,1193.7 C172.7,1199.7 175.9,1206.2 179.4,1210.6 C183,1215 187,1218.2 190,1220.2 C193,1222.1 194.6,1221.1 197.5,1222.3 C200.3,1223.5 204,1224.6 207,1227.6 C210,1230.6 212,1234.3 215.5,1240.3 C219,1246.3 224.3,1255.5 228.2,1263.7 C232.1,1271.8 235.3,1280.3 238.8,1289.1 C242.4,1297.9 245.9,1306.8 249.4,1316.7 C253,1326.6 257.6,1341.1 260,1348.5 C262.4,1355.9 262.1,1355.9 263.9,1361.2 C265.6,1366.5 267.3,1372.2 270.6,1380.3 C274,1388.4 281.8,1405 284,1410" stroke="#8f9cf2" stroke-width="3" fill="none" clip-path="url(#clipC)"/>
<path d="M109.5,1457.3 C112.3,1446.2 121.5,1412.6 126.4,1390.9 C131.4,1369.2 134.9,1346.7 139.1,1327.3 C143.4,1307.8 147.6,1290.2 151.9,1274.3 C156.1,1258.4 160.7,1243.2 164.6,1231.8 C168.5,1220.5 171.7,1214.5 175.2,1206.4 C178.7,1198.3 182.1,1190 185.8,1183.1 C189.5,1176.2 193.2,1167.5 197.5,1165 C201.7,1162.6 205.4,1165.2 211.3,1168.2 C217.1,1171.2 225.4,1179.2 232.5,1183.1 C239.5,1186.9 248.4,1190.1 253.7,1191.5 C258.9,1193 258.8,1191.6 263.9,1192 C268.9,1192.3 280.6,1193.4 284,1193.7" stroke="#8f9cf2" stroke-width="3" fill="none" clip-path="url(#clipC)"/>
<path d="M122.2,1458.8 C125,1451 133.5,1427 139.1,1412.1 C144.8,1397.3 150.5,1382.8 156.1,1369.7 C161.8,1356.6 168.1,1343.5 173.1,1333.6 C178,1323.7 181.7,1316.1 185.8,1310.3 C189.9,1304.5 193.2,1300.1 197.5,1298.6 C201.7,1297.2 206.1,1299.2 211.3,1301.8 C216.4,1304.5 222.6,1309.6 228.2,1314.6 C233.9,1319.5 240.2,1325.9 245.2,1331.5 C250.1,1337.2 254.8,1343.5 257.9,1348.5 C261,1353.4 261.7,1356.6 263.9,1361.2 C266,1365.8 267.3,1369.3 270.6,1376.1 C274,1382.8 281.8,1397.3 284,1401.5" stroke="#8f9cf2" stroke-width="3" fill="none" clip-path="url(#clipC)"/>
<path d="M111.6,1458.8 C114,1454.5 121.1,1443.6 126.4,1433.3 C131.7,1423.1 137,1408.6 143.4,1397.3 C149.7,1386 158.6,1373.9 164.6,1365.5 C170.6,1357 174,1351.5 179.4,1346.4 C184.9,1341.2 192.9,1337 197.5,1334.7 C202.1,1332.4 202.9,1334.5 207,1332.6 C211.1,1330.6 216.6,1327.8 221.9,1323 C227.2,1318.3 233.5,1311 238.8,1304 C244.1,1296.9 249.5,1287.7 253.7,1280.6 C257.8,1273.6 260.3,1269 263.9,1261.5 C267.4,1254.1 271.5,1243.2 274.9,1236.1 C278.2,1229 282.5,1221.9 284,1219.1" stroke="#8f9cf2" stroke-width="3" fill="none" clip-path="url(#clipC)"/>
<path d="M84,1354.9 C86.1,1355.9 92.5,1357.7 96.7,1361.2 C101,1364.7 105.2,1370.1 109.5,1376.1 C113.7,1382.1 117.9,1390.9 122.2,1397.3 C126.4,1403.6 130.7,1410.7 134.9,1414.2 C139.1,1417.8 143.4,1418.5 147.6,1418.5 C151.9,1418.5 155.8,1416.7 160.4,1414.2 C164.9,1411.8 170.2,1405.9 175.2,1403.6 C180.1,1401.3 186.3,1401 190,1400.5 C193.8,1399.9 193.9,1400.1 197.5,1400.5 C201,1400.8 205.4,1401.3 211.3,1402.6 C217.1,1403.8 225.7,1406.3 232.5,1407.9 C239.2,1409.5 246.3,1411.4 251.6,1412.1 C256.8,1412.8 260,1412.1 263.9,1412.1 C267.7,1412.1 271.5,1412.1 274.9,1412.1 C278.2,1412.1 282.5,1412.1 284,1412.1" stroke="#8f9cf2" stroke-width="3" fill="none" clip-path="url(#clipC)"/>
<path d="M84,1454.5 C86.1,1454.4 92.5,1454.5 96.7,1453.5 C101,1452.4 104.5,1451.5 109.5,1448.2 C114.4,1444.8 120.1,1439.7 126.4,1433.3 C132.8,1427 140.6,1417.1 147.6,1410 C154.7,1402.9 162.5,1396.2 168.8,1390.9 C175.2,1385.6 181,1380.7 185.8,1378.2 C190.6,1375.7 192.5,1376.2 197.5,1376.1 C202.4,1375.9 209,1376.1 215.5,1377.1 C222,1378.2 230.3,1380.1 236.7,1382.4 C243.1,1384.7 249.1,1388.6 253.7,1390.9 C258.2,1393.2 260.3,1394.1 263.9,1396.2 C267.4,1398.3 271.5,1401 274.9,1403.6 C278.2,1406.3 282.5,1410.7 284,1412.1" stroke="#8f9cf2" stroke-width="3" fill="none" clip-path="url(#clipC)"/>
<path d="M224,1458.8 C226.1,1455.2 232.1,1445.3 236.7,1437.6 C241.3,1429.8 247,1419.2 251.6,1412.1 C256.1,1405 260.7,1398.9 263.9,1395.1 C267,1391.4 267.3,1391.1 270.6,1389.8 C274,1388.6 281.8,1388.1 284,1387.7" stroke="#8f9cf2" stroke-width="3" fill="none" clip-path="url(#clipC)"/>
<path d="M243.1,1458.8 C244.5,1453.8 249.1,1438.6 251.6,1429.1 C254,1419.5 255.9,1411.8 257.9,1401.5 C260,1391.3 262.1,1376.1 263.9,1367.6 C265.6,1359.1 267.7,1353.4 268.5,1350.6" stroke="#8f9cf2" stroke-width="3" fill="none" clip-path="url(#clipC)"/>
<path d="M84,1453.5 C86.1,1453.8 93.2,1454.7 96.7,1455.6 C100.3,1456.5 103.8,1458.2 105.2,1458.8" stroke="#8f9cf2" stroke-width="3" fill="none" clip-path="url(#clipC)"/>
<path d="M306.4,814.3 C307.8,820.5 312.1,841 314.9,851.5 C317.7,861.9 320.2,869.1 323.4,876.9 C326.6,884.7 330.5,893 334,898.1 C337.5,903.2 341.1,905.9 344.6,907.7 C348.1,909.4 350.2,909.6 355.2,908.7 C360.1,907.8 367.7,903.8 374.3,902.4 C380.9,900.9 388.3,902.4 394.6,900.2 C401,898.1 406.7,894.4 412.5,889.6 C418.3,884.9 423.8,876.4 429.4,871.6 C435.1,866.8 442.5,862.8 446.4,861 C450.3,859.2 450,861.1 453,860.6 C455.9,860 462.2,858.3 464,857.8" stroke="#8f9cf2" stroke-width="3" fill="none" clip-path="url(#clipC)"/>
<path d="M342.5,814.3 C344.2,818.1 349.2,829.4 353.1,836.6 C357,843.9 361.9,851.1 365.8,857.8 C369.7,864.5 372.9,872 376.4,876.9 C379.9,881.9 384,885.4 387,887.5 C390.1,889.6 390.4,889.3 394.6,889.6 C398.9,890 406,889.6 412.5,889.6 C419,889.6 426.9,889.6 433.7,889.6 C440.4,889.6 447.9,889.6 453,889.6 C458,889.6 462.2,889.6 464,889.6" stroke="#8f9cf2" stroke-width="3" fill="none" clip-path="url(#clipC)"/>
<path d="M264,1007.3 C266.1,1007.7 272.5,1009.5 276.7,1009.5 C281,1009.5 284.5,1008.6 289.5,1007.3 C294.4,1006.1 301.5,1003.3 306.4,1002 C311.4,1000.7 314.5,999.5 319.1,999.5 C323.7,999.5 329,1000.6 334,1002 C338.9,1003.5 344.2,1006.3 348.8,1008.4 C353.4,1010.5 357.3,1013.5 361.6,1014.8 C365.8,1016 368.8,1016 374.3,1015.8 C379.8,1015.6 388.3,1016 394.6,1013.7 C401,1011.4 406.3,1007.5 412.5,1002 C418.6,996.6 426.2,986 431.6,980.8 C436.9,975.7 440.7,973.2 444.3,971.3 C447.8,969.3 449.7,973.2 453,969.2 C456.3,965.1 462.2,950.6 464,946.9" stroke="#8f9cf2" stroke-width="3" fill="none" clip-path="url(#clipC)"/>
<path d="M264,1002 C267.5,1003.5 279.6,1007.7 285.2,1010.5 C290.9,1013.3 293.7,1015.1 297.9,1019 C302.2,1022.9 306.4,1028.5 310.7,1033.9 C314.9,1039.2 319.1,1044.8 323.4,1050.8 C327.6,1056.8 331.9,1063.9 336.1,1069.9 C340.4,1075.9 344.6,1082.6 348.8,1086.9 C353.1,1091.1 357.3,1093.2 361.6,1095.4 C365.8,1097.5 368.8,1098.7 374.3,1099.6 C379.8,1100.5 388.3,1100.5 394.6,1100.7 C401,1100.8 406,1100.7 412.5,1100.7 C419,1100.7 426.9,1100.7 433.7,1100.7 C440.4,1100.7 447.9,1100.7 453,1100.7 C458,1100.7 462.2,1100.7 464,1100.7" stroke="#8f9cf2" stroke-width="3" fill="none" clip-path="url(#clipC)"/>
<path d="M264,1054 C266.1,1054.7 272.5,1056.3 276.7,1058.2 C281,1060.2 285.2,1063 289.5,1065.7 C293.7,1068.3 297.9,1071 302.2,1074.1 C306.4,1077.3 310.7,1081.7 314.9,1084.8 C319.1,1087.8 324.1,1091.5 327.6,1092.2 C331.2,1092.9 333.3,1092 336.1,1089 C338.9,1086 341.8,1079.5 344.6,1074.1 C347.4,1068.8 349.9,1063.2 353.1,1057.2 C356.3,1051.2 360.3,1043.2 363.7,1038.1 C367,1033 370,1027.8 373.2,1026.4 C376.4,1025 379.2,1027.8 382.8,1029.6 C386.3,1031.4 389.7,1036.7 394.6,1037 C399.6,1037.4 406,1034.2 412.5,1031.7 C419,1029.3 426.9,1024.8 433.7,1022.2 C440.4,1019.5 447.9,1016.4 453,1015.8 C458,1015.3 462.2,1018.5 464,1019" stroke="#8f9cf2" stroke-width="3" fill="none" clip-path="url(#clipC)"/>
<path d="M452.9,969.4 C454.6,966.7 459.6,959.1 463.1,953.3 C466.6,947.4 470.5,942.3 473.7,934.2 C476.9,926 479.3,913.7 482.2,904.5 C485,895.3 487.8,886.8 490.7,879 C493.5,871.3 496.3,863.3 499.1,857.8 C502,852.3 504.8,846.9 507.6,846.2 C510.5,845.4 513.3,849.5 516.1,853.6 C518.9,857.6 521.8,864.2 524.6,870.5 C527.4,876.9 530.2,884.7 533.1,891.8 C535.9,898.8 538.7,905.9 541.6,913 C544.4,920 547.2,928.9 550,934.2 C552.9,939.5 555.7,942.3 558.5,944.8 C561.4,947.2 564.2,948.7 567,949 C569.8,949.4 572.7,949 575.5,946.9 C578.3,944.8 581.2,940.5 584,936.3 C586.8,932 589.3,926.7 592.5,921.4 C595.6,916.1 599.5,910.8 603.1,904.5 C606.6,898.1 610.1,890.3 613.7,883.3 C617.2,876.2 621.2,867.5 624.3,862.1 C627.3,856.6 629.4,851.5 631.9,850.4 C634.4,849.3 637.1,853.8 639.1,855.7 C641.1,857.6 643.2,861 644,862.1" stroke="#8f9cf2" stroke-width="3" fill="none" clip-path="url(#clipC)"/>
<path d="M624,864.2 C625.3,861.9 628.5,850.9 632.1,850.4 C635.6,849.9 640.2,858.2 645.2,861 C650.2,863.8 656.9,867.2 662.2,867.4 C667.5,867.5 672.8,864.7 677,862.1 C681.3,859.4 684.1,855.7 687.6,851.5 C691.2,847.2 694.7,841.9 698.2,836.6 C701.8,831.3 706.7,823.4 708.8,819.6 C711,815.9 710.6,815.2 711,814.3" stroke="#8f9cf2" stroke-width="3" fill="none" clip-path="url(#clipC)"/>
<path d="M624,838.7 C625.3,840.7 628.5,849.2 632.1,850.4 C635.6,851.6 639.5,846.3 645.2,846.2 C650.9,846 659.3,849.2 666.4,849.3 C673.5,849.5 680.6,847 687.6,847.2 C694.7,847.4 702.5,848.8 708.8,850.4 C715.2,852 720.1,855.2 725.8,856.8 C731.5,858.3 736.6,859.3 742.8,859.9 C749,860.5 759.6,860.3 762.9,860.4" stroke="#8f9cf2" stroke-width="3" fill="none" clip-path="url(#clipC)"/>
<path d="M708.8,814.3 C709.9,818.1 712.7,828.7 715.2,836.6 C717.7,844.6 720.9,853.6 723.7,862.1 C726.5,870.5 729.3,879 732.2,887.5 C735,896 737.8,904.8 740.6,913 C743.5,921.1 746.7,929.6 749.1,936.3 C751.6,943 753.2,948 755.5,953.3 C757.8,958.6 761.7,965.6 762.9,968.1" stroke="#8f9cf2" stroke-width="3" fill="none" clip-path="url(#clipC)"/>
<path d="M765,949 C766.3,948 769.8,946.5 772.5,942.7 C775.1,938.8 778.1,932 780.9,925.7 C783.8,919.3 786.6,912.3 789.4,904.5 C792.3,896.7 795.4,886.8 797.9,879 C800.4,871.3 802.2,865.6 804.3,857.8 C806.4,850 809,839.6 810.6,832.4 C812.2,825.1 813.3,817.3 813.8,814.3" stroke="#8f9cf2" stroke-width="3" fill="none" clip-path="url(#clipC)"/>
<path d="M765,851.9 C768,851.5 776.5,850.5 783.1,849.3 C789.6,848.2 797.9,845.8 804.3,845.1 C810.6,844.4 818.4,845.1 821.2,845.1" stroke="#8f9cf2" stroke-width="3" fill="none" clip-path="url(#clipC)"/>
<path d="M823.4,870.5 C825.5,870.2 831.8,869.5 836.1,868.4 C840.3,867.4 844.6,865.9 848.8,864.2 C853.1,862.4 857.7,859.8 861.5,857.8 C865.4,855.9 868.8,853.6 872.1,852.5 C875.5,851.5 880.1,851.6 881.7,851.5" stroke="#8f9cf2" stroke-width="3" fill="none" clip-path="url(#clipC)"/>
<path d="M84,819.9 C85,819.5 88,818.5 90.3,817.7 C92.6,816.9 96.7,815.4 98,814.9" stroke="#8f9cf2" stroke-width="3" fill="none" clip-path="url(#clipC)"/>
<path d="M264,1257.3 C266.1,1254.1 272.1,1246.7 276.7,1238.2 C281.3,1229.7 286.6,1216.3 291.6,1206.4 C296.5,1196.5 301.8,1186.9 306.4,1178.8 C311,1170.7 314.9,1164.7 319.1,1157.6 C323.4,1150.5 329.4,1140.3 331.9,1136.4 C334.3,1132.5 333.6,1134.6 334,1134.3" stroke="#8f9cf2" stroke-width="3" fill="none" clip-path="url(#clipC)"/>
<path d="M264,1365.5 C265.4,1360.9 269.7,1347.8 272.5,1337.9 C275.3,1328 277.8,1317 281,1306.1 C284.1,1295.1 287.3,1284.2 291.6,1272.1 C295.8,1260.1 301.1,1246 306.4,1234 C311.7,1221.9 317.7,1211.7 323.4,1200 C329,1188.4 335.8,1174.6 340.4,1164 C344.9,1153.4 349.2,1141 351,1136.4" stroke="#8f9cf2" stroke-width="3" fill="none" clip-path="url(#clipC)"/>
<path d="M264,1191.5 C266.1,1191.6 272.5,1190.9 276.7,1192 C281,1193 284.9,1193.7 289.5,1197.9 C294,1202.1 300.1,1209.9 304.3,1217 C308.5,1224.1 311,1229.4 314.9,1240.3 C318.8,1251.3 323.7,1269.7 327.6,1282.7 C331.5,1295.8 334.7,1306.4 338.2,1318.8 C341.8,1331.2 345.7,1343.9 348.8,1357 C352,1370.1 354.5,1384.5 357.3,1397.3 C360.1,1410 363.7,1424.5 365.8,1433.3 C367.9,1442.2 368.6,1446.1 370,1450.3 C371.5,1454.5 373.6,1457.4 374.3,1458.8" stroke="#8f9cf2" stroke-width="3" fill="none" clip-path="url(#clipC)"/>
<path d="M351,1136.4 C352.4,1139.9 356.3,1149.8 359.4,1157.6 C362.6,1165.4 366.2,1175.3 370,1183.1 C373.9,1190.8 378.7,1199.7 382.8,1204.3 C386.9,1208.9 390.8,1207.8 394.6,1210.6 C398.5,1213.5 402.1,1216.3 406.1,1221.2 C410.1,1226.2 414.2,1233.3 418.8,1240.3 C423.4,1247.4 429.4,1257.6 433.7,1263.7 C437.9,1269.7 441.1,1273.7 444.3,1276.4 C447.5,1279 449.7,1281 453,1279.6 C456.3,1278.1 462.2,1269.8 464,1267.9" stroke="#8f9cf2" stroke-width="3" fill="none" clip-path="url(#clipC)"/>
<path d="M264,1261.5 C266.1,1265.4 272.1,1275.3 276.7,1284.9 C281.3,1294.4 286.6,1308.2 291.6,1318.8 C296.5,1329.4 301.5,1338.2 306.4,1348.5 C311.4,1358.7 316.7,1370.4 321.3,1380.3 C325.9,1390.2 330.1,1399.7 334,1407.9 C337.9,1416 341.4,1423.1 344.6,1429.1 C347.8,1435.1 350.6,1440 353.1,1443.9 C355.6,1447.8 357.3,1450.6 359.4,1452.4 C361.6,1454.2 363.3,1454.2 365.8,1454.5 C368.3,1454.9 369.5,1454.7 374.3,1454.5 C379.1,1454.4 388.3,1453.8 394.6,1453.5 C401,1453.1 406,1452.7 412.5,1452.4 C419,1452.2 426.9,1452.2 433.7,1452 C440.4,1451.8 447.9,1451.5 453,1451.4 C458,1451.2 462.2,1451.4 464,1451.4" stroke="#8f9cf2" stroke-width="3" fill="none" clip-path="url(#clipC)"/>
<path d="M264,1411.1 C267.5,1411.1 278.1,1410.9 285.2,1411.1 C292.3,1411.2 299.3,1411.6 306.4,1412.1 C313.5,1412.6 322,1414.2 327.6,1414.2 C333.3,1414.2 336.1,1414.2 340.4,1412.1 C344.6,1410 348.8,1406.1 353.1,1401.5 C357.3,1396.9 361.6,1390.2 365.8,1384.5 C370,1378.9 374.3,1372.3 378.5,1367.6 C382.8,1362.8 388.6,1358 391.3,1355.9 C393.9,1353.8 391.8,1356.4 394.6,1354.9 C397.5,1353.3 403.5,1351 408.2,1346.4 C413,1341.8 418.1,1333.6 423.1,1327.3 C428,1320.9 432.9,1313 437.9,1308.2 C442.9,1303.4 448.6,1299.4 453,1298.6 C457.3,1297.9 462.2,1303.1 464,1304" stroke="#8f9cf2" stroke-width="3" fill="none" clip-path="url(#clipC)"/>
<path d="M264,1394.1 C265.4,1393.4 269.3,1390.9 272.5,1389.8 C275.7,1388.8 279.2,1387.5 283.1,1387.7 C287,1387.9 290.9,1388.6 295.8,1390.9 C300.8,1393.2 307.5,1398 312.8,1401.5 C318.1,1405 323,1408.2 327.6,1412.1 C332.2,1416 336.1,1420.6 340.4,1424.8 C344.6,1429.1 349.2,1433.7 353.1,1437.6 C357,1441.5 360.1,1445.5 363.7,1448.2 C367.2,1450.8 372.5,1452.6 374.3,1453.5" stroke="#8f9cf2" stroke-width="3" fill="none" clip-path="url(#clipC)"/>
<path d="M264,1367.6 C265.4,1369.7 269.7,1375.4 272.5,1380.3 C275.3,1385.3 278.1,1391.3 281,1397.3 C283.8,1403.3 286.6,1409.6 289.5,1416.4 C292.3,1423.1 295.5,1430.5 297.9,1437.6 C300.4,1444.6 303.2,1455.2 304.3,1458.8" stroke="#8f9cf2" stroke-width="3" fill="none" clip-path="url(#clipC)"/>
<path d="M264,1395.1 C265.8,1396.6 271.1,1400.1 274.6,1403.6 C278.1,1407.2 281.3,1411.4 285.2,1416.4 C289.1,1421.3 293.3,1427.7 297.9,1433.3 C302.5,1439 308.9,1446.1 312.8,1450.3 C316.7,1454.5 319.9,1457.4 321.3,1458.8" stroke="#8f9cf2" stroke-width="3" fill="none" clip-path="url(#clipC)"/>
<path d="M268.2,1376.1 C269.7,1379.6 273.9,1390.2 276.7,1397.3 C279.6,1404.3 282.4,1411.4 285.2,1418.5 C288,1425.5 291.6,1433 293.7,1439.7 C295.8,1446.4 297.2,1455.6 297.9,1458.8" stroke="#8f9cf2" stroke-width="3" fill="none" clip-path="url(#clipC)"/>
<path d="M412.5,1458.8 C414.6,1455.2 420.9,1443.9 425.2,1437.6 C429.4,1431.2 433.3,1424.7 437.9,1420.6 C442.5,1416.5 448.6,1414.6 453,1413.2 C457.3,1411.8 462.2,1412.3 464,1412.1" stroke="#8f9cf2" stroke-width="3" fill="none" clip-path="url(#clipC)"/>
<path d="M444,859.9 C445.5,859.9 448.7,860.3 452.9,859.9 C457.1,859.6 463.9,858.9 469.5,857.8 C475,856.8 482.2,855.7 486.4,853.6 C490.7,851.5 492.4,849.3 494.9,845.1 C497.4,840.9 499.5,833.3 501.3,828.1 C503,823 504.8,816.6 505.5,814.3" stroke="#8f9cf2" stroke-width="3" fill="none" clip-path="url(#clipC)"/>
<path d="M444,889.6 C445.5,889.6 449.4,889.6 452.9,889.6 C456.4,889.6 461,889.8 465.2,889.6 C469.4,889.5 474.4,890.3 477.9,888.6 C481.5,886.8 483.6,883.4 486.4,879 C489.2,874.6 492.4,868.1 494.9,862.1 C497.4,856.1 499.1,848.6 501.3,843 C503.4,837.3 505.5,832.9 507.6,828.1 C509.7,823.4 512.9,816.6 514,814.3" stroke="#8f9cf2" stroke-width="3" fill="none" clip-path="url(#clipC)"/>
<path d="M452.9,988.3 C455,987.4 461,986.3 465.2,983 C469.4,979.6 473.7,974.1 477.9,968.1 C482.2,962.1 486.4,954 490.7,946.9 C494.9,939.8 499.1,932.8 503.4,925.7 C507.6,918.6 511.9,910.8 516.1,904.5 C520.4,898.1 524.6,893.2 528.8,887.5 C533.1,881.9 537.3,875.5 541.6,870.5 C545.8,865.6 550,861 554.3,857.8 C558.5,854.6 564.2,852.3 567,851.5 C569.8,850.6 569.1,849.7 571.3,852.5 C573.4,855.3 576.9,861.2 579.7,868.4 C582.6,875.7 585.4,886.4 588.2,896 C591,905.5 593.5,915.1 596.7,925.7 C599.9,936.3 603.8,949.4 607.3,959.6 C610.8,969.9 613.8,977.3 617.9,987.2 C622,997.1 629.6,1013.7 631.9,1019" stroke="#8f9cf2" stroke-width="3" fill="none" clip-path="url(#clipC)"/>
<path d="M444,972.3 C445.5,971.9 449.7,971.9 452.9,969.8 C456.1,967.7 459.6,964.5 463.1,959.6 C466.6,954.7 470.2,946.5 473.7,940.5 C477.2,934.5 480.4,927.8 484.3,923.6 C488.2,919.3 492.8,917 497,915.1 C501.3,913.1 505.9,914.4 509.7,911.9 C513.6,909.4 516.5,905 520.4,900.2 C524.2,895.5 528.8,889.6 533.1,883.3 C537.3,876.9 541.9,868.1 545.8,862.1 C549.7,856.1 552.9,850.6 556.4,847.2 C559.9,843.9 563.8,843.1 567,841.9 C570.2,840.7 572.7,841.4 575.5,839.8 C578.3,838.2 581.5,836.6 584,832.4 C586.5,828.1 589.3,817.3 590.3,814.3" stroke="#8f9cf2" stroke-width="3" fill="none" clip-path="url(#clipC)"/>
<path d="M452.9,988.3 C455,990.2 460.3,995.5 465.2,999.9 C470.1,1004.3 476.5,1010.5 482.2,1014.8 C487.8,1019 493.1,1022.2 499.1,1025.4 C505.2,1028.5 511.5,1031.4 518.2,1033.9 C524.9,1036.3 532.7,1038.8 539.4,1040.2 C546.2,1041.6 553.9,1041.9 558.5,1042.3 C563.1,1042.8 564.2,1043.1 567,1042.8 C569.8,1042.4 572,1042.4 575.5,1040.2 C579,1038 584,1032.8 588.2,1029.6 C592.5,1026.4 596.7,1022.9 600.9,1021.1 C605.2,1019.4 609.4,1019.2 613.7,1019 C617.9,1018.8 623.4,1019.7 626.4,1020.1 C629.4,1020.4 629,1020.2 631.9,1021.1 C634.8,1022 642,1024.7 644,1025.4" stroke="#8f9cf2" stroke-width="3" fill="none" clip-path="url(#clipC)"/>
<path d="M444,1017.9 C445.5,1017.6 450.1,1014.9 452.9,1015.8 C455.7,1016.7 457.9,1019.2 461,1023.2 C464.1,1027.3 467.3,1034.6 471.6,1040.2 C475.8,1045.9 481.1,1052.2 486.4,1057.2 C491.7,1062.1 497.7,1066 503.4,1069.9 C509,1073.8 514.7,1077.3 520.4,1080.5 C526,1083.7 531.7,1086.5 537.3,1089 C543,1091.5 549.3,1093.9 554.3,1095.4 C559.2,1096.8 562.8,1097.8 567,1097.5 C571.3,1097.1 574.8,1096.1 579.7,1093.2 C584.7,1090.4 591,1085.8 596.7,1080.5 C602.4,1075.2 608.7,1066.7 613.7,1061.4 C618.6,1056.1 623.4,1051.5 626.4,1048.7 C629.4,1045.9 629,1044.1 631.9,1044.5 C634.8,1044.8 642,1049.8 644,1050.8" stroke="#8f9cf2" stroke-width="3" fill="none" clip-path="url(#clipC)"/>
<path d="M469.9,1102.4 C471.4,1102.6 476.1,1102.6 479.2,1103.8 C482.3,1105 485.4,1107.9 488.5,1109.6 C491.6,1111.3 494.8,1112.7 497.9,1114 C500.9,1115.3 504.8,1116.9 507,1117.2 C509.1,1117.5 509.6,1116.7 510.8,1115.9 C512,1115.1 512.9,1114 514,1112.3 C515,1110.7 516.3,1108.1 517.2,1106.2 C518,1104.2 518.2,1103.5 519.1,1100.7 C520,1097.8 520.8,1094.1 522.5,1089 C524.1,1083.9 526.4,1076.6 528.8,1069.9 C531.3,1063.2 534.5,1055.1 537.3,1048.7 C540.1,1042.3 543,1036.3 545.8,1031.7 C548.6,1027.1 550.8,1023.8 554.3,1021.1 C557.8,1018.5 562.4,1016.2 567,1015.8 C571.6,1015.5 576.9,1017.9 581.9,1019 C586.8,1020.1 591.4,1021.3 596.7,1022.2 C602,1023.1 607.8,1023.8 613.7,1024.3 C619.5,1024.8 626.9,1025.4 631.9,1025.4 C637,1025.4 642,1024.5 644,1024.3" stroke="#8f9cf2" stroke-width="3" fill="none" clip-path="url(#clipC)"/>
<path d="M444,1099.6 C447.5,1099.8 458.1,1100.1 465.2,1100.7 C472.3,1101.2 479.3,1102.3 486.4,1102.8 C493.5,1103.3 500.6,1103.7 507.6,1103.8 C514.7,1104 521.8,1103.8 528.8,1103.8 C535.9,1103.8 543.7,1103.8 550,1103.8 C556.4,1103.8 561.7,1104 567,1103.8 C572.3,1103.7 575.8,1103.5 581.9,1102.8 C587.9,1102.1 596,1100.1 603.1,1099.6 C610.1,1099.1 617.5,1099.4 624.3,1099.6 C631.1,1099.8 640.7,1100.5 644,1100.7" stroke="#8f9cf2" stroke-width="3" fill="none" clip-path="url(#clipC)"/>
<path d="M444,1122.9 C447.5,1122.8 458.8,1123.3 465.2,1121.9 C471.6,1120.5 476.5,1117.5 482.2,1114.4 C487.8,1111.4 493.8,1107.7 499.1,1103.8 C504.4,1100 509.7,1093.9 514,1091.1 C518.2,1088.3 520.4,1087.2 524.6,1086.9 C528.8,1086.5 534.5,1087.9 539.4,1089 C544.4,1090.1 549.7,1091.8 554.3,1093.2 C558.9,1094.7 562.4,1097.1 567,1097.5 C571.6,1097.8 575.8,1096.8 581.9,1095.4 C587.9,1093.9 596,1090.4 603.1,1089 C610.1,1087.6 617.5,1087.2 624.3,1086.9 C631.1,1086.5 640.7,1086.9 644,1086.9" stroke="#8f9cf2" stroke-width="3" fill="none" clip-path="url(#clipC)"/>
<path d="M444,1114.4 C446.8,1114.6 455.3,1114.8 461,1115.5 C466.6,1116.2 472.3,1117.5 477.9,1118.7 C483.6,1119.9 490,1121.5 494.9,1122.9 C499.9,1124.3 504.1,1125.4 507.6,1127.2 C511.2,1128.9 514,1131.8 516.1,1133.5 C518.2,1135.3 519.6,1137.1 520.4,1137.8" stroke="#8f9cf2" stroke-width="3" fill="none" clip-path="url(#clipC)"/>
<path d="M603.1,1137.8 C604.8,1135.7 610.1,1128.9 613.7,1125.1 C617.2,1121.2 621.2,1117.3 624.3,1114.4 C627.3,1111.6 628.6,1110.2 631.9,1108.1 C635.2,1106 642,1102.8 644,1101.7" stroke="#8f9cf2" stroke-width="3" fill="none" clip-path="url(#clipC)"/>
<path d="M571.3,1100.7 C574.8,1100.9 585.4,1101.5 592.5,1102.1 C599.5,1102.7 607.1,1103.3 613.7,1104.3 C620.2,1105.3 626.9,1106.4 631.9,1108.1 C637,1109.8 642,1113.4 644,1114.4" stroke="#8f9cf2" stroke-width="3" fill="none" clip-path="url(#clipC)"/>
<path d="M444,1274.3 C445.5,1275.1 449.4,1280.6 452.9,1279.6 C456.4,1278.5 461.4,1274.1 465.2,1267.9 C469,1261.7 472.3,1252.7 475.8,1242.4 C479.3,1232.2 482.9,1218.1 486.4,1206.4 C490,1194.7 493.8,1183.1 497,1172.5 C500.2,1161.9 503.7,1148.9 505.5,1142.8 C507.3,1136.6 507.3,1136.6 507.6,1135.3" stroke="#8f9cf2" stroke-width="3" fill="none" clip-path="url(#clipC)"/>
<path d="M444,1299.7 C445.5,1299.5 449.4,1297.2 452.9,1298.6 C456.4,1300.1 461,1303.4 465.2,1308.2 C469.4,1313 473.7,1320.6 477.9,1327.3 C482.2,1334 486.8,1341.4 490.7,1348.5 C494.5,1355.6 498.4,1364 501.3,1369.7 C504.1,1375.4 505.2,1379.1 507.6,1382.4 C510.1,1385.8 513.3,1386.7 516.1,1389.8 C518.9,1393 521.1,1398.9 524.6,1401.5 C528.1,1404.2 532.4,1405.8 537.3,1405.8 C542.3,1405.8 549.3,1402.4 554.3,1401.5 C559.2,1400.6 562.4,1400.3 567,1400.5 C571.6,1400.6 576.9,1401.7 581.9,1402.6 C586.8,1403.5 591.4,1404.5 596.7,1405.8 C602,1407 607.8,1408.9 613.7,1410 C619.5,1411.1 626.9,1411.4 631.9,1412.1 C637,1412.8 642,1413.9 644,1414.2" stroke="#8f9cf2" stroke-width="3" fill="none" clip-path="url(#clipC)"/>
<path d="M505.5,1136.4 C506.9,1138.2 510.1,1143.1 514,1147 C517.9,1150.9 523.9,1156.9 528.8,1159.7 C533.8,1162.6 539.1,1162.7 543.7,1164 C548.3,1165.2 552.5,1166.4 556.4,1167.2 C560.3,1167.9 563.8,1167.2 567,1168.2 C570.2,1169.3 572,1170.3 575.5,1173.5 C579,1176.7 584,1182.2 588.2,1187.3 C592.5,1192.4 596.7,1197.6 600.9,1204.3 C605.2,1211 609.8,1220.5 613.7,1227.6 C617.6,1234.7 621.2,1241.4 624.3,1246.7 C627.3,1252 628.6,1253.4 631.9,1259.4 C635.2,1265.4 642,1278.9 644,1282.7" stroke="#8f9cf2" stroke-width="3" fill="none" clip-path="url(#clipC)"/>
<path d="M509.7,1136.4 C511.5,1139.2 516.5,1146.7 520.4,1153.4 C524.2,1160.1 528.8,1169.3 533.1,1176.7 C537.3,1184.1 541.9,1191.5 545.8,1197.9 C549.7,1204.3 552.9,1211 556.4,1214.9 C559.9,1218.8 563.8,1218.8 567,1221.2 C570.2,1223.7 572,1224.1 575.5,1229.7 C579,1235.4 584,1246 588.2,1255.2 C592.5,1264.4 596.7,1274.6 600.9,1284.9 C605.2,1295.1 609.8,1306.1 613.7,1316.7 C617.6,1327.3 621.2,1339.7 624.3,1348.5 C627.3,1357.3 628.6,1360.9 631.9,1369.7 C635.2,1378.5 642,1396.2 644,1401.5" stroke="#8f9cf2" stroke-width="3" fill="none" clip-path="url(#clipC)"/>
<path d="M528.8,1135.3 C530.6,1136.9 535.9,1140.8 539.4,1144.9 C543,1148.9 546.5,1154.4 550,1159.7 C553.6,1165 557.8,1171.7 560.6,1176.7 C563.5,1181.6 564.5,1188.4 567,1189.4 C569.5,1190.5 572,1186.6 575.5,1183.1 C579,1179.5 584,1173.9 588.2,1168.2 C592.5,1162.6 597.9,1154.6 600.9,1149.1 C604,1143.6 605.4,1137.6 606.2,1135.3" stroke="#8f9cf2" stroke-width="3" fill="none" clip-path="url(#clipC)"/>
<path d="M486.4,1458.8 C488.5,1451 495.6,1425.9 499.1,1412.1 C502.7,1398.3 504.1,1390.2 507.6,1376.1 C511.2,1361.9 516.1,1342.5 520.4,1327.3 C524.6,1312.1 528.8,1297.9 533.1,1284.9 C537.3,1271.8 541.9,1259.4 545.8,1248.8 C549.7,1238.2 553.6,1228 556.4,1221.2 C559.2,1214.5 561,1211.7 562.8,1208.5 C564.5,1205.3 564.2,1203.4 567,1202.1 C569.8,1200.9 574.8,1201.8 579.7,1201.1 C584.7,1200.4 591,1199.1 596.7,1197.9 C602.4,1196.7 607.8,1194.5 613.7,1193.7 C619.5,1192.8 626.9,1192.6 631.9,1192.6 C637,1192.6 642,1193.5 644,1193.7" stroke="#8f9cf2" stroke-width="3" fill="none" clip-path="url(#clipC)"/>
<path d="M492.8,1458.8 C494.5,1453.5 499.5,1437.6 503.4,1427 C507.3,1416.4 511.9,1405.4 516.1,1395.1 C520.4,1384.9 524.6,1374.6 528.8,1365.5 C533.1,1356.3 537.3,1347.4 541.6,1340 C545.8,1332.6 550,1327.6 554.3,1320.9 C558.5,1314.2 563.5,1302.9 567,1299.7 C570.5,1296.5 572,1299 575.5,1301.8 C579,1304.7 584,1310.7 588.2,1316.7 C592.5,1322.7 596.7,1331.5 600.9,1337.9 C605.2,1344.2 609.8,1349.5 613.7,1354.9 C617.6,1360.2 621.2,1365.1 624.3,1369.7 C627.3,1374.3 628.6,1377.5 631.9,1382.4 C635.2,1387.4 642,1396.6 644,1399.4" stroke="#8f9cf2" stroke-width="3" fill="none" clip-path="url(#clipC)"/>
<path d="M444,1412.1 C447.5,1411.9 458.1,1412.5 465.2,1411.1 C472.3,1409.6 480.1,1406.3 486.4,1403.6 C492.8,1401 498.8,1396.9 503.4,1395.1 C508,1393.4 510.5,1395.5 514,1393 C517.5,1390.6 520.7,1384.5 524.6,1380.3 C528.5,1376.1 532.4,1370.8 537.3,1367.6 C542.3,1364.4 549.3,1362.6 554.3,1361.2 C559.2,1359.8 562.4,1359.4 567,1359.1 C571.6,1358.7 576.2,1358.7 581.9,1359.1 C587.5,1359.4 595.6,1360.2 600.9,1361.2 C606.2,1362.3 609.8,1363.7 613.7,1365.5 C617.6,1367.2 621.2,1370.1 624.3,1371.8 C627.3,1373.6 628.6,1376.8 631.9,1376.1 C635.2,1375.4 642,1369 644,1367.6" stroke="#8f9cf2" stroke-width="3" fill="none" clip-path="url(#clipC)"/>
<path d="M486.4,1454.5 C490,1449.2 501.3,1434 507.6,1422.7 C514,1411.4 519.6,1396.2 524.6,1386.7 C529.5,1377.1 533.1,1371.8 537.3,1365.5 C541.6,1359.1 545.8,1353.4 550,1348.5 C554.3,1343.5 559.2,1338.2 562.8,1335.8 C566.3,1333.3 567.7,1335.1 571.3,1333.6 C574.8,1332.2 579.7,1330.1 584,1327.3 C588.2,1324.5 592.5,1320.9 596.7,1316.7 C600.9,1312.4 605.2,1307.8 609.4,1301.8 C613.7,1295.8 618.4,1287.5 622.2,1280.6 C625.9,1273.7 628.3,1266.8 631.9,1260.5 C635.6,1254.1 642,1245.4 644,1242.4" stroke="#8f9cf2" stroke-width="3" fill="none" clip-path="url(#clipC)"/>
<path d="M444,1450.3 C447.5,1450.1 458.8,1450.3 465.2,1449.2 C471.6,1448.2 477.2,1446.6 482.2,1443.9 C487.1,1441.3 491,1437.6 494.9,1433.3 C498.8,1429.1 502.3,1423.8 505.5,1418.5 C508.7,1413.2 512.6,1404.3 514,1401.5" stroke="#8f9cf2" stroke-width="3" fill="none" clip-path="url(#clipC)"/>
<path d="M579.7,1458.8 C581.9,1455.2 588.2,1444.3 592.5,1437.6 C596.7,1430.9 600.9,1424.8 605.2,1418.5 C609.4,1412.1 613.5,1406.8 617.9,1399.4 C622.4,1392 627.6,1379.6 631.9,1373.9 C636.3,1368.3 642,1366.9 644,1365.5" stroke="#8f9cf2" stroke-width="3" fill="none" clip-path="url(#clipC)"/>
<path d="M622.2,1458.8 C622.9,1454.5 624.8,1442.5 626.4,1433.3 C628,1424.1 630.1,1413.5 631.9,1403.6 C633.7,1393.7 635,1385.6 637,1373.9 C639,1362.3 642.8,1340.4 644,1333.6" stroke="#8f9cf2" stroke-width="3" fill="none" clip-path="url(#clipC)"/>
<path d="M676,814.3 C676.8,818.8 679,831.8 681.3,840.9 C683.6,849.9 686.9,860.6 689.7,868.4 C692.6,876.2 695,881.9 698.2,887.5 C701.4,893.2 705.7,898.8 708.8,902.4 C712,905.9 714.1,906.6 717.3,908.7 C720.5,910.8 724.4,911.9 727.9,915.1 C731.5,918.3 735,922.5 738.5,927.8 C742.1,933.1 746,941.2 749.1,946.9 C752.3,952.6 755.3,958.2 757.6,961.7 C759.9,965.3 762,967 762.9,968.1" stroke="#8f9cf2" stroke-width="3" fill="none" clip-path="url(#clipC)"/>
<path d="M715.2,814.3 C716.6,818.1 721.2,829.4 723.7,836.6 C726.2,843.9 728.3,850.7 730,857.8 C731.8,864.9 732.2,874.1 734.3,879 C736.4,884 739.9,885.7 742.8,887.5 C745.6,889.3 747.9,889.3 751.3,889.6 C754.6,890 761,889.6 762.9,889.6" stroke="#8f9cf2" stroke-width="3" fill="none" clip-path="url(#clipC)"/>
<path d="M717.3,814.3 C719.4,817.3 725.8,826.9 730,832.4 C734.3,837.8 739.2,843.3 742.8,847.2 C746.3,851.1 747.9,853.6 751.3,855.7 C754.6,857.8 761,859.2 762.9,859.9" stroke="#8f9cf2" stroke-width="3" fill="none" clip-path="url(#clipC)"/>
<path d="M624,1006.3 C625.3,1008.4 628.5,1021.5 632.1,1019 C635.6,1016.5 640.5,1001.3 645.2,991.4 C649.9,981.5 655.1,969.2 660.1,959.6 C665,950.1 670.3,941.2 674.9,934.2 C679.5,927.1 684.1,920.6 687.6,917.2 C691.2,913.8 692.6,913.7 696.1,914 C699.6,914.4 704.6,916 708.8,919.3 C713.1,922.7 717.3,928.2 721.6,934.2 C725.8,940.2 730.4,949 734.3,955.4 C738.2,961.7 741.4,967.4 744.9,972.3 C748.4,977.3 752.5,982.4 755.5,985.1 C758.5,987.7 761.7,987.7 762.9,988.3" stroke="#8f9cf2" stroke-width="3" fill="none" clip-path="url(#clipC)"/>
<path d="M624,1024.3 C625.3,1024.5 628.5,1025 632.1,1025.4 C635.6,1025.7 640.9,1026.4 645.2,1026.4 C649.5,1026.4 653.3,1026.6 657.9,1025.4 C662.5,1024.1 667.1,1020.8 672.8,1019 C678.4,1017.2 685.9,1015.3 691.9,1014.8 C697.9,1014.2 703.5,1015.3 708.8,1015.8 C714.1,1016.4 718.7,1018.5 723.7,1017.9 C728.6,1017.4 733.9,1015.3 738.5,1012.6 C743.1,1010 747.2,1005.9 751.3,1002 C755.3,998.2 761,991.4 762.9,989.3" stroke="#8f9cf2" stroke-width="3" fill="none" clip-path="url(#clipC)"/>
<path d="M632.1,1025.4 C634.3,1025.7 640.9,1026.1 645.2,1027.5 C649.5,1028.9 653.7,1030.3 657.9,1033.9 C662.2,1037.4 666.8,1043.4 670.7,1048.7 C674.5,1054 678.1,1060 681.3,1065.7 C684.4,1071.3 687.3,1077.7 689.7,1082.6 C692.2,1087.6 693.6,1091.8 696.1,1095.4 C698.6,1098.9 701.1,1102.1 704.6,1103.8 C708.1,1105.6 712.4,1106.1 717.3,1106 C722.3,1105.8 728.6,1103.7 734.3,1102.8 C739.9,1101.9 746.5,1101.2 751.3,1100.7 C756,1100.1 761,1099.8 762.9,1099.6" stroke="#8f9cf2" stroke-width="3" fill="none" clip-path="url(#clipC)"/>
<path d="M624,1048.7 C625.3,1048 628.5,1044.1 632.1,1044.5 C635.6,1044.8 640.2,1047.6 645.2,1050.8 C650.2,1054 656.9,1059.3 662.2,1063.5 C667.5,1067.8 672.1,1073.1 677,1076.3 C682,1079.5 686.6,1081.9 691.9,1082.6 C697.2,1083.3 703.9,1082.3 708.8,1080.5 C713.8,1078.7 717.3,1075.9 721.6,1072 C725.8,1068.1 730,1062.5 734.3,1057.2 C738.5,1051.9 743.1,1045.5 747,1040.2 C750.9,1034.9 755,1028.9 757.6,1025.4 C760.3,1021.8 762,1020.1 762.9,1019" stroke="#8f9cf2" stroke-width="3" fill="none" clip-path="url(#clipC)"/>
<path d="M624,1086.9 C627.5,1086.9 638.1,1086.7 645.2,1086.9 C652.3,1087.1 660.1,1087.6 666.4,1087.9 C672.8,1088.3 678.8,1088.1 683.4,1089 C688,1089.9 690.8,1091.5 694,1093.2 C697.2,1095 699.3,1097.5 702.5,1099.6 C705.7,1101.7 709.2,1103.8 713.1,1106 C717,1108.1 721.2,1110.2 725.8,1112.3 C730.4,1114.4 734.5,1116.9 740.6,1118.7 C746.8,1120.5 759.2,1122.2 762.9,1122.9" stroke="#8f9cf2" stroke-width="3" fill="none" clip-path="url(#clipC)"/>
<path d="M624,1103.8 C625.3,1104.5 628.5,1106 632.1,1108.1 C635.6,1110.2 640.9,1114.4 645.2,1116.6 C649.5,1118.7 653.7,1119.9 657.9,1120.8 C662.2,1121.7 665.7,1122.6 670.7,1121.9 C675.6,1121.2 682,1118.5 687.6,1116.6 C693.3,1114.6 699.3,1111.8 704.6,1110.2 C709.9,1108.6 714.5,1107.9 719.4,1107 C724.4,1106.1 729,1105.8 734.3,1104.9 C739.6,1104 748.4,1102.3 751.3,1101.7" stroke="#8f9cf2" stroke-width="3" fill="none" clip-path="url(#clipC)"/>
<path d="M624,1112.3 C625.3,1111.6 628.5,1109.5 632.1,1108.1 C635.6,1106.7 640.2,1104.4 645.2,1103.8 C650.2,1103.3 656.5,1104.2 662.2,1104.9 C667.8,1105.6 674.2,1106.8 679.1,1108.1 C684.1,1109.3 688.3,1110.2 691.9,1112.3 C695.4,1114.4 697.9,1116.6 700.4,1120.8 C702.8,1125.1 705.7,1134.9 706.7,1137.8" stroke="#8f9cf2" stroke-width="3" fill="none" clip-path="url(#clipC)"/>
<path d="M717.3,1137.8 C718.7,1136 722.3,1130 725.8,1127.2 C729.3,1124.3 734.3,1122.8 738.5,1120.8 C742.8,1118.9 747.2,1116.7 751.3,1115.5 C755.3,1114.3 761,1113.7 762.9,1113.4" stroke="#8f9cf2" stroke-width="3" fill="none" clip-path="url(#clipC)"/>
<path d="M765,1016.9 C767,1016 772.6,1013.7 776.7,1011.6 C780.8,1009.5 785.2,1006.5 789.4,1004.2 C793.7,1001.9 797.9,999.4 802.2,997.8 C806.4,996.2 811.7,995.1 814.9,994.6 C818.1,994.1 820.2,994.6 821.2,994.6" stroke="#8f9cf2" stroke-width="3" fill="none" clip-path="url(#clipC)"/>
<path d="M765,1043.4 C767,1042.5 772.6,1040.4 776.7,1038.1 C780.8,1035.8 785.2,1031.9 789.4,1029.6 C793.7,1027.3 797.9,1025.7 802.2,1024.3 C806.4,1022.9 811.7,1021.7 814.9,1021.1 C818.1,1020.5 820.2,1020.8 821.2,1020.7" stroke="#8f9cf2" stroke-width="3" fill="none" clip-path="url(#clipC)"/>
<path d="M765,1097.1 L821.2,1096.2" stroke="#8f9cf2" stroke-width="3" fill="none" clip-path="url(#clipC)"/>
<path d="M765,1103.4 L821.2,1103.4" stroke="#8f9cf2" stroke-width="3" fill="none" clip-path="url(#clipC)"/>
<path d="M765,1100.7 C767,1101.2 771.9,1102.6 776.7,1103.8 C781.5,1105.1 786.2,1106.7 793.7,1108.1 C801.1,1109.5 816.6,1111.6 821.2,1112.3" stroke="#8f9cf2" stroke-width="3" fill="none" clip-path="url(#clipC)"/>
<path d="M823.4,999.9 C825.5,1000.6 831.1,1002.4 836.1,1004.2 C841,1005.9 847.8,1008.4 853.1,1010.5 C858.4,1012.6 863.1,1015.5 867.9,1016.9 C872.7,1018.3 879.4,1018.7 881.7,1019" stroke="#8f9cf2" stroke-width="3" fill="none" clip-path="url(#clipC)"/>
<path d="M823.4,1011.6 C825.5,1011.8 831.1,1011.6 836.1,1012.6 C841,1013.7 847.8,1016.2 853.1,1017.9 C858.4,1019.7 863.1,1022 867.9,1023.2 C872.7,1024.5 879.4,1025 881.7,1025.4" stroke="#8f9cf2" stroke-width="3" fill="none" clip-path="url(#clipC)"/>
<path d="M823.4,1054 C825.5,1053.8 831.1,1053.5 836.1,1052.9 C841,1052.4 847.8,1051.7 853.1,1050.8 C858.4,1049.9 863.1,1048.7 867.9,1047.6 C872.7,1046.6 879.4,1045 881.7,1044.5" stroke="#8f9cf2" stroke-width="3" fill="none" clip-path="url(#clipC)"/>
<path d="M823.4,1076.3 C824.8,1076.6 828.3,1076.3 831.8,1078.4 C835.4,1080.5 840.3,1085.5 844.6,1089 C848.8,1092.5 853.1,1096.8 857.3,1099.6 C861.5,1102.4 866,1104.5 870,1106 C874.1,1107.4 879.7,1107.7 881.7,1108.1" stroke="#8f9cf2" stroke-width="3" fill="none" clip-path="url(#clipC)"/>
<path d="M823.4,1120.8 C824.8,1120.5 828.3,1120.5 831.8,1118.7 C835.4,1116.9 840.3,1114.1 844.6,1110.2 C848.8,1106.3 853.1,1098.9 857.3,1095.4 C861.5,1091.8 866,1090.4 870,1089 C874.1,1087.6 879.7,1087.2 881.7,1086.9" stroke="#8f9cf2" stroke-width="3" fill="none" clip-path="url(#clipC)"/>
<path d="M624,1276.4 C625.3,1273.6 628.5,1265.8 632.1,1259.4 C635.6,1253 640.2,1246.7 645.2,1238.2 C650.2,1229.7 656.5,1218.4 662.2,1208.5 C667.8,1198.6 673.8,1188 679.1,1178.8 C684.4,1169.6 689.7,1160.6 694,1153.4 C698.2,1146.1 702.8,1138.3 704.6,1135.3" stroke="#8f9cf2" stroke-width="3" fill="none" clip-path="url(#clipC)"/>
<path d="M624,1242.4 C625.3,1245.3 628.9,1253 632.1,1259.4 C635.2,1265.8 639.5,1273.9 643.1,1280.6 C646.7,1287.3 649.8,1292.6 653.7,1299.7 C657.6,1306.8 662.2,1315.3 666.4,1323 C670.7,1330.8 674.9,1338.6 679.1,1346.4 C683.4,1354.1 687.6,1363 691.9,1369.7 C696.1,1376.4 700.4,1382.1 704.6,1386.7 C708.8,1391.3 712.4,1393.7 717.3,1397.3 C722.3,1400.8 728.6,1405.4 734.3,1407.9 C739.9,1410.3 746.5,1411.2 751.3,1412.1 C756,1413 761,1413 762.9,1413.2" stroke="#8f9cf2" stroke-width="3" fill="none" clip-path="url(#clipC)"/>
<path d="M624,1192.6 C625.3,1192.5 628.5,1191.6 632.1,1192 C635.6,1192.3 640.9,1192.7 645.2,1194.7 C649.5,1196.8 653.7,1199.5 657.9,1204.3 C662.2,1209 666.4,1215.6 670.7,1223.4 C674.9,1231.1 679.5,1241.4 683.4,1250.9 C687.3,1260.5 690.5,1270.4 694,1280.6 C697.5,1290.9 701.4,1301.8 704.6,1312.4 C707.8,1323 710.2,1332.9 713.1,1344.2 C715.9,1355.6 718.7,1367.6 721.6,1380.3 C724.4,1393 727.6,1407.5 730,1420.6 C732.5,1433.7 735.3,1452.4 736.4,1458.8" stroke="#8f9cf2" stroke-width="3" fill="none" clip-path="url(#clipC)"/>
<path d="M708.8,1135.3 C710.2,1139.1 714.1,1148.6 717.3,1157.6 C720.5,1166.6 724.4,1178.8 727.9,1189.4 C731.5,1200 735,1210.6 738.5,1221.2 C742.1,1231.8 746,1244.2 749.1,1253 C752.3,1261.9 755.3,1270 757.6,1274.3 C759.9,1278.5 762,1277.8 762.9,1278.5" stroke="#8f9cf2" stroke-width="3" fill="none" clip-path="url(#clipC)"/>
<path d="M717.3,1135.3 C714.5,1138.7 705.7,1148.2 700.4,1155.5 C695,1162.7 690.1,1170.3 685.5,1178.8 C680.9,1187.3 676.7,1196.5 672.8,1206.4 C668.9,1216.3 665.4,1228 662.2,1238.2 C659,1248.5 656.5,1256.9 653.7,1267.9 C650.9,1278.9 647.7,1292.3 645.2,1304 C642.7,1315.6 640.6,1327.6 638.8,1337.9 C637.1,1348.1 635.7,1359.4 634.6,1365.5 C633.5,1371.5 632.5,1372.5 632.1,1373.9" stroke="#8f9cf2" stroke-width="3" fill="none" clip-path="url(#clipC)"/>
<path d="M632.1,1371.8 C634.3,1370.8 641.6,1366.5 645.2,1365.5 C648.8,1364.4 649.5,1364 653.7,1365.5 C657.9,1366.9 665,1369.7 670.7,1373.9 C676.3,1378.2 682.7,1386 687.6,1390.9 C692.6,1395.9 695.8,1399.4 700.4,1403.6 C704.9,1407.9 710.2,1412.1 715.2,1416.4 C720.1,1420.6 725.4,1424.8 730,1429.1 C734.6,1433.3 738.5,1438.3 742.8,1441.8 C747,1445.3 752.1,1448.9 755.5,1450.3 C758.9,1451.7 761.7,1450.3 762.9,1450.3" stroke="#8f9cf2" stroke-width="3" fill="none" clip-path="url(#clipC)"/>
<path d="M632.1,1376.1 C633.5,1377.5 637,1381 641,1384.5 C644.9,1388.1 650.9,1394.1 655.8,1397.3 C660.8,1400.5 666.1,1402.9 670.7,1403.6 C675.3,1404.3 679.1,1403.3 683.4,1401.5 C687.6,1399.7 691.9,1396.6 696.1,1393 C700.4,1389.5 704.9,1384.9 708.8,1380.3 C712.7,1375.7 715.9,1371.1 719.4,1365.5 C723,1359.8 726.2,1353.4 730,1346.4 C733.9,1339.3 738.9,1329.8 742.8,1323 C746.7,1316.3 750,1310.1 753.4,1306.1 C756.7,1302 761.3,1299.9 762.9,1298.6" stroke="#8f9cf2" stroke-width="3" fill="none" clip-path="url(#clipC)"/>
<path d="M624,1412.1 C625.3,1411.9 628.5,1411.2 632.1,1411.1 C635.6,1410.9 640.9,1410.5 645.2,1411.1 C649.5,1411.6 653.7,1412.3 657.9,1414.2 C662.2,1416.2 666.4,1419.5 670.7,1422.7 C674.9,1425.9 679.5,1429.8 683.4,1433.3 C687.3,1436.9 690.5,1440.4 694,1443.9 C697.5,1447.5 702.1,1452.1 704.6,1454.5 C707.1,1457 708.1,1458.1 708.8,1458.8" stroke="#8f9cf2" stroke-width="3" fill="none" clip-path="url(#clipC)"/>
<path d="M632.1,1401.5 C633.2,1404 636.7,1411.1 638.8,1416.4 C641,1421.7 643.1,1428 645.2,1433.3 C647.3,1438.6 649.8,1443.9 651.6,1448.2 C653.3,1452.4 655.1,1457 655.8,1458.8" stroke="#8f9cf2" stroke-width="3" fill="none" clip-path="url(#clipC)"/>
<path d="M624,1378.2 C625.3,1379.6 629.2,1381.7 632.1,1386.7 C634.9,1391.6 638.1,1400.1 641,1407.9 C643.9,1415.7 646.6,1424.8 649.5,1433.3 C652.3,1441.8 656.5,1454.5 657.9,1458.8" stroke="#8f9cf2" stroke-width="3" fill="none" clip-path="url(#clipC)"/>
<path d="M734.3,1458.8 C736.4,1457.7 742.2,1453.8 747,1452.4 C751.8,1451 760.3,1450.6 762.9,1450.3" stroke="#8f9cf2" stroke-width="3" fill="none" clip-path="url(#clipC)"/>
<path d="M765,1168.2 C766.3,1168.7 769.5,1170.2 772.5,1171.4 C775.5,1172.6 779.5,1175.8 783.1,1175.6 C786.6,1175.5 789.8,1173.3 793.7,1170.3 C797.6,1167.3 801.8,1161.1 806.4,1157.6 C811,1154.1 818.8,1150.5 821.2,1149.1" stroke="#8f9cf2" stroke-width="3" fill="none" clip-path="url(#clipC)"/>
<path d="M765,1190.5 C767,1190 773.3,1188.2 776.7,1187.3 C780.1,1186.4 782.4,1184.5 785.2,1185.2 C788,1185.9 790.1,1189.1 793.7,1191.5 C797.2,1194 801.8,1197.6 806.4,1200 C811,1202.5 818.8,1205.3 821.2,1206.4" stroke="#8f9cf2" stroke-width="3" fill="none" clip-path="url(#clipC)"/>
<path d="M765,1202.1 C767,1201.4 773,1200.4 776.7,1197.9 C780.4,1195.4 783.8,1191.2 787.3,1187.3 C790.8,1183.4 794,1178.1 797.9,1174.6 C801.8,1171 806.8,1167.9 810.6,1166.1 C814.5,1164.3 819.5,1164.3 821.2,1164" stroke="#8f9cf2" stroke-width="3" fill="none" clip-path="url(#clipC)"/>
<path d="M765,1221.2 L821.2,1223.4" stroke="#8f9cf2" stroke-width="3" fill="none" clip-path="url(#clipC)"/>
<path d="M765,1298.6 L821.2,1297.6" stroke="#8f9cf2" stroke-width="3" fill="none" clip-path="url(#clipC)"/>
<path d="M765,1334.7 L821.2,1334.7" stroke="#8f9cf2" stroke-width="3" fill="none" clip-path="url(#clipC)"/>
<path d="M765,1359.1 C767,1359.4 771.9,1359.4 776.7,1361.2 C781.5,1363 788.4,1367.4 793.7,1369.7 C799,1372 803.9,1373.9 808.5,1375 C813.1,1376.1 819.1,1375.9 821.2,1376.1" stroke="#8f9cf2" stroke-width="3" fill="none" clip-path="url(#clipC)"/>
<path d="M765,1400.5 L821.2,1400.5" stroke="#8f9cf2" stroke-width="3" fill="none" clip-path="url(#clipC)"/>
<path d="M823.4,1192.6 L881.7,1193.2" stroke="#8f9cf2" stroke-width="3" fill="none" clip-path="url(#clipC)"/>
<path d="M823.4,1260.5 L881.7,1259.8" stroke="#8f9cf2" stroke-width="3" fill="none" clip-path="url(#clipC)"/>
<path d="M823.4,1363.3 C825.5,1363.7 831.1,1364 836.1,1365.5 C841,1366.9 847.8,1370.4 853.1,1371.8 C858.4,1373.2 863.1,1373.6 867.9,1373.9 C872.7,1374.3 879.4,1373.9 881.7,1373.9" stroke="#8f9cf2" stroke-width="3" fill="none" clip-path="url(#clipC)"/>
<path d="M823.4,1364.4 C825.5,1364.9 831.1,1365.6 836.1,1367.6 C841,1369.5 847.8,1373.6 853.1,1376.1 C858.4,1378.5 863.1,1381.2 867.9,1382.4 C872.7,1383.7 879.4,1383.3 881.7,1383.5" stroke="#8f9cf2" stroke-width="3" fill="none" clip-path="url(#clipC)"/>
<path d="M823.4,1395.1 C825.5,1395.3 831.1,1395.5 836.1,1396.2 C841,1396.9 847.8,1398.3 853.1,1399.4 C858.4,1400.5 863.1,1401.9 867.9,1402.6 C872.7,1403.2 879.4,1403.1 881.7,1403.2" stroke="#8f9cf2" stroke-width="3" fill="none" clip-path="url(#clipC)"/>
<path d="M823.4,1411.7 L881.7,1411.7" stroke="#8f9cf2" stroke-width="3" fill="none" clip-path="url(#clipC)"/>
<path d="M502.4,1155.4 C502.9,1153.8 504.2,1148.8 505.2,1145.6 C506.2,1142.4 507.3,1138.8 508.4,1136.3 C509.5,1133.8 510.3,1131.7 511.6,1130.3 C512.9,1128.9 514.8,1128.2 516.3,1128 C517.8,1127.8 519.4,1128.6 520.9,1129.4 C522.4,1130.2 524,1131.7 525.5,1133.1 C527,1134.5 528.3,1135.6 530.2,1137.7 C532.1,1139.8 534.8,1143.1 537.1,1145.6 C539.4,1148.1 542.4,1150.9 544,1152.5 C545.6,1154.1 545.5,1153.9 546.8,1155.4 C548.1,1156.9 551.1,1160.4 552,1161.4" stroke="#8f9cf2" stroke-width="3" fill="none" clip-path="url(#clipC)"/>
<path d="M250,1072.1 C252.2,1072.9 259.5,1074.3 263.3,1076.6 C267,1078.8 268.9,1081.8 272.3,1085.5 C275.6,1089.2 279.7,1094.4 283.4,1098.8 C287.1,1103.3 291.4,1108.8 294.6,1112.2 C297.7,1115.6 299.9,1117.8 302.4,1119.5 C304.8,1121.1 306.6,1122.1 309,1122.2 C311.5,1122.4 313.7,1122.1 316.8,1120.6 C320,1119.1 324.6,1115.1 328,1113.3 C331.3,1111.6 333.2,1110.9 336.9,1110 C340.6,1109.1 346.2,1108.7 350.3,1107.8 C354.3,1106.8 357.7,1105.4 361.4,1104.4 C365.1,1103.4 367,1102.2 372.5,1101.6 C378.1,1101.1 387.4,1101.2 394.8,1101.1 C402.2,1100.9 413.4,1100.9 417.1,1100.8" stroke="#8f9cf2" stroke-width="3" fill="none" clip-path="url(#clipC)"/>
<path d="M250,1093.3 C251.1,1091.8 254.5,1087.1 256.7,1084.4 C258.9,1081.6 260.3,1078.5 263.3,1076.6 C266.2,1074.6 270.2,1072.7 274.5,1072.7 C278.8,1072.7 283.8,1074.4 289,1076.6 C294.2,1078.7 300.1,1081.9 305.7,1085.5 C311.3,1089 317.8,1094 322.4,1097.7 C327,1101.4 330.2,1104.8 333.5,1107.8 C336.9,1110.7 340,1112.6 342.5,1115.6 C344.9,1118.5 346.7,1122.6 348,1125.6 C349.3,1128.5 349,1129.8 350.3,1133.4 C351.6,1136.9 353,1139.7 355.8,1146.7 C358.6,1153.7 365.1,1170.6 367,1175.4" stroke="#8f9cf2" stroke-width="3" fill="none" clip-path="url(#clipC)"/>
<path d="M250,1121.1 C253.7,1121.1 266.7,1120.7 272.3,1121.1 C277.8,1121.6 279.7,1123.1 283.4,1123.9 C287.1,1124.7 290.8,1125.6 294.6,1125.8 C298.3,1126 302,1125.8 305.7,1125 C309.4,1124.2 313.1,1122.7 316.8,1121.1 C320.6,1119.5 324.6,1117.2 328,1115.6 C331.3,1113.9 333.9,1111.8 336.9,1111.1 C339.9,1110.4 342.6,1110.4 345.8,1111.1 C349,1111.8 352.3,1114.1 355.8,1115.6 C359.4,1117 363.3,1118.7 367,1120 C370.7,1121.3 373.5,1122.4 378.1,1123.4 C382.7,1124.3 382.4,1125.5 394.8,1125.6 C407.3,1125.7 440.2,1124.5 452.7,1123.9 C465.3,1123.4 467.1,1122.5 470,1122.2" stroke="#8f9cf2" stroke-width="3" fill="none" clip-path="url(#clipC)"/>
<path d="M306.8,1175.4 C308.9,1171.7 315.2,1159.7 319.1,1153.4 C323,1147.2 326.9,1141.7 330.2,1137.8 C333.5,1133.9 335.8,1132.4 339.1,1130 C342.5,1127.6 346.5,1124.8 350.3,1123.4 C354,1121.9 358.1,1121.9 361.4,1121.1 C364.7,1120.4 366.6,1120.1 370.3,1118.9 C374,1117.7 379.6,1114.8 383.7,1113.9 C387.8,1113 383.3,1113.4 394.8,1113.3 C406.3,1113.2 440.2,1112.8 452.7,1113.3 C465.3,1113.9 467.1,1116.1 470,1116.7" stroke="#8f9cf2" stroke-width="3" fill="none" clip-path="url(#clipC)"/>
<path d="M322.4,1175.4 C324.8,1171.7 332.6,1159.7 336.9,1153.4 C341.2,1147.2 345.2,1141.4 348,1137.8 C350.8,1134.3 351.4,1134.3 353.6,1132.3 C355.8,1130.2 359,1127.4 361.4,1125.6 C363.8,1123.7 367,1121.9 368.1,1121.1" stroke="#8f9cf2" stroke-width="3" fill="none" clip-path="url(#clipC)"/>
<g clip-path="url(#clipCdark)">
<path d="M103.1,1013.7 C105.2,1010.5 111.6,1001.5 115.8,994.6 C120.1,987.7 123.9,978.5 128.5,972.3 C133.1,966.2 138.8,962.8 143.4,957.5 C148,952.2 151.9,947.2 156.1,940.5 C160.4,933.8 164.9,925.7 168.8,917.2 C172.7,908.7 176.3,898.5 179.4,889.6 C182.6,880.8 184.9,872 187.9,864.2 C190.9,856.4 195.9,846.5 197.5,843" stroke="#1818de" stroke-width="3.3" fill="none"/>
<path d="M84,904.5 C86.1,905.5 92.8,907.7 96.7,910.8 C100.6,914 104.1,920.9 107.3,923.6 C110.5,926.2 113.2,927.1 115.8,926.7 C118.5,926.4 120.8,925.2 123.2,921.4 C125.7,917.7 128,911.5 130.7,904.5 C133.3,897.4 136.5,888.6 139.1,879 C141.8,869.5 144.3,858 146.6,847.2 C148.9,836.4 151.9,819.8 152.9,814.3" stroke="#1818de" stroke-width="3.3" fill="none"/>
<path d="M84,945.8 C86.8,944.6 96,942.5 101,938.4 C105.9,934.3 110.2,927.8 113.7,921.4 C117.2,915.1 119.3,909.1 122.2,900.2 C125,891.4 128,879 130.7,868.4 C133.3,857.8 136,845.6 138.1,836.6 C140.2,827.6 142.5,818.1 143.4,814.3" stroke="#1818de" stroke-width="3.3" fill="none"/>
<path d="M197.5,843 C199.1,843 204,844.1 207,843.4 C210,842.7 212.7,841.3 215.5,838.7 C218.3,836.2 221.3,832.2 224,828.1 C226.6,824.1 230.2,816.6 231.4,814.3" stroke="#1818de" stroke-width="3.3" fill="none"/>
<path d="M215.5,814.3 C217.6,817.3 224,826.5 228.2,832.4 C232.5,838.2 236.7,844 240.9,849.3 C245.2,854.6 249.9,860.6 253.7,864.2 C257.5,867.8 260.3,870.4 263.9,871 C267.4,871.5 271.5,869 274.9,867.4 C278.2,865.7 282.5,862.1 284,861" stroke="#1818de" stroke-width="3.3" fill="none"/>
<path d="M232.5,814.3 C233.9,817.7 237.8,828.3 240.9,834.5 C244.1,840.7 247.7,845.4 251.6,851.5 C255.4,857.5 261.8,867.7 263.9,871" stroke="#1818de" stroke-width="3.3" fill="none"/>
<path d="M264,870.5 C265.8,870.2 270.4,871.3 274.6,868.4 C278.8,865.6 285.2,858.9 289.5,853.6 C293.7,848.3 296.9,841.9 300.1,836.6 C303.2,831.3 306.4,825.5 308.5,821.8 C310.7,818.1 312.1,815.6 312.8,814.3" stroke="#1818de" stroke-width="3.3" fill="none"/>
<path d="M314.9,814.3 C316.3,819.8 320.2,837.1 323.4,847.2 C326.6,857.3 330.5,866.7 334,874.8 C337.5,882.9 341.4,889.6 344.6,896 C347.8,902.4 350.2,908.4 353.1,913 C355.9,917.6 359.1,921.6 361.6,923.6 C364,925.5 365.4,925.7 367.9,924.6 C370.4,923.6 373.2,920.2 376.4,917.2 C379.6,914.2 384,909.2 387,906.6 C390.1,903.9 393.4,902.2 394.6,901.3" stroke="#1818de" stroke-width="3.3" fill="none"/>
<path d="M329.7,814.3 C331.5,819.8 336.8,836.4 340.4,847.2 C343.9,858 347.8,869.5 351,879 C354.1,888.6 356.6,897.4 359.4,904.5 C362.3,911.5 365.1,916.5 367.9,921.4 C370.8,926.4 373.2,930.6 376.4,934.2 C379.6,937.7 384,940.8 387,942.7 C390.1,944.5 392.2,943.8 394.6,945.2 C397.1,946.6 398.9,948 401.9,951.1 C404.8,954.2 408.6,959.6 412.5,963.9 C416.4,968.1 420.9,973.1 425.2,976.6 C429.4,980.1 433.3,983.1 437.9,985.1 C442.5,987 448.6,987.2 453,988.3 C457.3,989.3 462.2,990.9 464,991.4" stroke="#1818de" stroke-width="3.3" fill="none"/>
<path d="M264,1002 C266.8,998.5 275.7,987.5 281,980.8 C286.3,974.1 291.2,966.3 295.8,961.7 C300.4,957.1 303.9,954 308.5,953.3 C313.1,952.6 318.4,955 323.4,957.5 C328.3,960 333.3,963.5 338.2,968.1 C343.2,972.7 348.8,979.4 353.1,985.1 C357.3,990.7 360.1,997.1 363.7,1002 C367.2,1007 371.1,1012.5 374.3,1014.8 C377.5,1017.1 381.4,1015.6 382.8,1015.8" stroke="#1818de" stroke-width="3.3" fill="none"/>
<path d="M84,889.6 C86.1,889.1 92.5,888.9 96.7,886.4 C101,884 105.2,879.9 109.5,874.8 C113.7,869.7 118.3,862.1 122.2,855.7 C126.1,849.3 129.5,843.5 132.8,836.6 C136,829.7 140.2,818.1 141.7,814.3" stroke="#1818de" stroke-width="3.3" fill="none"/>
<path d="M84,902.4 C86.1,902.2 92.5,900.9 96.7,901.3 C101,901.6 105.2,903.1 109.5,904.5 C113.7,905.9 117.6,908.4 122.2,909.8 C126.8,911.2 132.8,913 137,913 C141.3,913 144.1,911.9 147.6,909.8 C151.2,907.7 154,905.4 158.2,900.2 C162.5,895.1 168.8,886.1 173.1,879 C177.3,872 180.5,863.3 183.7,857.8 C186.9,852.3 189.9,848.8 192.2,846.2 C194.5,843.5 196.6,842.6 197.5,841.9" stroke="#1818de" stroke-width="3.3" fill="none"/>
<path d="M84,1012.6 C87.2,1012.8 97.8,1016.7 103.1,1013.7 C108.4,1010.7 111.6,1001.5 115.8,994.6 C120.1,987.7 126.4,976.1 128.5,972.3" stroke="#1818de" stroke-width="3.3" fill="none"/>
<path d="M197.5,841.9 C199.1,844.6 204,850.6 207,857.8 C210,865.1 212.7,876.6 215.5,885.4 C218.3,894.2 221.2,902.7 224,910.8 C226.8,919 229.3,926 232.5,934.2 C235.6,942.3 239.5,951.1 243.1,959.6 C246.6,968.1 250.2,978.4 253.7,985.1 C257.1,991.8 260.3,999.9 263.9,999.9 C267.4,999.9 271.5,990.4 274.9,985.1 C278.2,979.8 282.5,970.9 284,968.1" stroke="#1818de" stroke-width="3.3" fill="none"/>
<path d="M103.1,1013.7 C107,1014.8 119,1018.7 126.4,1020.1 C133.8,1021.5 140.6,1022 147.6,1022.2 C154.7,1022.4 160.5,1021.5 168.8,1021.1 C177.1,1020.8 190.4,1020.9 197.5,1020.1 C204.5,1019.2 205.4,1018.1 211.3,1015.8 C217.1,1013.5 225.4,1008.6 232.5,1006.3 C239.5,1004 248.4,1002.9 253.7,1002 C258.9,1001.2 260.3,1000.4 263.9,1001 C267.4,1001.5 271.5,1004.2 274.9,1005.2 C278.2,1006.3 282.5,1007 284,1007.3" stroke="#1818de" stroke-width="3.3" fill="none"/>
<path d="M154,1048.7 C156.5,1044.5 163.5,1031 168.8,1023.2 C174.1,1015.5 181,1007 185.8,1002 C190.6,997.1 193.2,994.8 197.5,993.6 C201.7,992.3 205.4,993.6 211.3,994.6 C217.1,995.7 225.4,997.8 232.5,999.9 C239.5,1002 248.4,1005.4 253.7,1007.3 C258.9,1009.3 260.3,1011.2 263.9,1011.6 C267.4,1011.9 271.5,1010.2 274.9,1009.5 C278.2,1008.8 282.5,1007.7 284,1007.3" stroke="#1818de" stroke-width="3.3" fill="none"/>
<path d="M84,1037 C85.8,1036.1 91.2,1033.5 94.6,1031.7 C98,1030 101,1026.1 104.1,1026.4 C107.3,1026.8 110,1029.1 113.7,1033.9 C117.4,1038.6 122.2,1048.3 126.4,1055.1 C130.7,1061.8 134.5,1068.5 139.1,1074.1 C143.7,1079.8 149,1084.8 154,1089 C158.9,1093.2 163.5,1096.4 168.8,1099.6 C174.1,1102.8 181,1106.1 185.8,1108.1 C190.6,1110 193.2,1109.9 197.5,1111.3 C201.7,1112.7 206.1,1114.8 211.3,1116.6 C216.4,1118.3 222.9,1121 228.2,1121.9 C233.5,1122.8 237.1,1122 243.1,1121.9 C249,1121.7 257,1120.8 263.9,1120.8 C270.7,1120.8 280.6,1121.7 284,1121.9" stroke="#1818de" stroke-width="3.3" fill="none"/>
<path d="M118.9,1045.4 C120.1,1047.2 123.7,1051.9 126.3,1056 C128.9,1060 131.9,1065.5 134.8,1069.7 C137.6,1074 140.2,1077.7 143.2,1081.4 C146.2,1085.1 149.4,1088.8 152.7,1091.9 C156.1,1095.1 159.8,1097.9 163.3,1100.4 C166.8,1102.9 170.4,1105 173.9,1106.7 C177.4,1108.5 180.5,1110 184.5,1111 C188.4,1111.9 194,1112 197.5,1112.6 C201,1113.1 202.5,1113 205.6,1114.1 C208.7,1115.3 212.7,1118 216.2,1119.4 C219.7,1120.8 222.4,1122.1 226.8,1122.6 C231.2,1123.1 238.2,1122.8 242.6,1122.6 C247.1,1122.4 249.8,1121.6 253.2,1121.3 C256.7,1121.1 260,1120.9 263.5,1121 C267,1121.1 271,1121.6 274.4,1122.1 C277.8,1122.6 282.4,1123.8 284,1124.2" stroke="#1818de" stroke-width="3.3" fill="none"/>
<path d="M84,1102 C87.5,1101.9 99,1101.8 105.2,1101.5 C111.3,1101.1 117.1,1100.7 121,1099.9 C124.9,1099 125.8,1098.2 128.4,1096.2 C131.1,1094.1 134.1,1091.1 136.9,1087.7 C139.7,1084.4 142.7,1080.5 145.3,1076.1 C148,1071.7 150.3,1066.4 152.7,1061.3 C155.2,1056.2 158.9,1048 160.2,1045.4" stroke="#1818de" stroke-width="3.3" fill="none"/>
<path d="M84,1102.5 C87.5,1102.6 99.9,1102.8 105.2,1103 C110.4,1103.3 110.4,1103.9 115.7,1104.1 C121,1104.3 128.1,1104.1 136.9,1104.1 C145.7,1104.1 158.5,1104.2 168.6,1104.1 C178.7,1104 191.3,1104 197.5,1103.6 C203.7,1103.1 202.5,1103 205.6,1101.5 C208.7,1099.9 212.7,1096.5 216.2,1094.1 C219.7,1091.6 223.3,1089.3 226.8,1086.6 C230.3,1084 233.8,1080.7 237.4,1078.2 C240.9,1075.7 244.9,1072.8 247.9,1071.8 C250.9,1070.9 252.7,1071.5 255.3,1072.4 C257.9,1073.3 261,1075.5 263.5,1077.1 C265.9,1078.8 268,1079.9 270.1,1082.4 C272.3,1084.9 274.2,1088.5 276.5,1091.9 C278.8,1095.4 282.7,1101.2 284,1103" stroke="#1818de" stroke-width="3.3" fill="none"/>
<path d="M84,1113.1 C85.8,1113.3 91.1,1113.3 94.6,1114.1 C98.1,1115 101.6,1116.6 105.2,1118.4 C108.7,1120.1 112.2,1122.4 115.7,1124.7 C119.3,1127 123.7,1130 126.3,1132.1 C128.9,1134.2 129.8,1135.1 131.6,1137.4 C133.4,1139.7 134.2,1142.2 136.9,1145.9 C139.5,1149.6 143.9,1154.9 147.5,1159.6 C151,1164.4 154.5,1169.7 158,1174.4 C161.6,1179.2 165.4,1183.6 168.6,1188.2 C171.8,1192.8 175.3,1198.9 177.1,1201.9 C178.8,1204.9 178.8,1205.5 179.2,1206.2" stroke="#1818de" stroke-width="3.3" fill="none"/>
<path d="M84,1126.3 C85.8,1126 91.1,1125.5 94.6,1124.7 C98.1,1123.9 101.6,1123.1 105.2,1121.6 C108.7,1120 112.2,1117.7 115.7,1115.2 C119.3,1112.7 122.8,1109.7 126.3,1106.7 C129.8,1103.7 133.4,1099.9 136.9,1097.2 C140.4,1094.6 143.9,1092.4 147.5,1090.9 C151,1089.4 154.5,1088.4 158,1088.2 C161.6,1088.1 165.1,1088.9 168.6,1089.8 C172.1,1090.7 175.7,1092.5 179.2,1093.5 C182.7,1094.6 186.7,1095.6 189.8,1096.2 C192.8,1096.7 194.8,1096.9 197.5,1096.7 C200.1,1096.5 202.5,1096.6 205.6,1095.1 C208.7,1093.6 212.7,1090.2 216.2,1087.7 C219.7,1085.2 223.3,1082.8 226.8,1080.3 C230.3,1077.8 233.8,1075.5 237.4,1072.9 C240.9,1070.3 244.4,1067.3 247.9,1064.4 C251.5,1061.6 255.9,1057.7 258.5,1056 C261.1,1054.2 261.7,1054 263.5,1053.9 C265.2,1053.7 266.4,1053.5 269.1,1054.9 C271.8,1056.3 277.2,1060.4 279.7,1062.3 C282.1,1064.3 283.3,1065.8 284,1066.6" stroke="#1818de" stroke-width="3.3" fill="none"/>
<path d="M124.2,1140.6 C124.9,1139.9 126.7,1138.8 128.4,1136.4 C130.2,1133.9 132.5,1128.6 134.8,1125.8 C137.1,1123 139.7,1120.8 142.2,1119.4 C144.6,1118.1 146.9,1117.8 149.6,1117.8 C152.2,1117.8 154.9,1118.3 158,1119.4 C161.2,1120.6 165.1,1122.8 168.6,1124.7 C172.1,1126.7 175.7,1128.1 179.2,1131.1 C182.7,1134.1 186.7,1139.7 189.8,1142.7 C192.8,1145.7 194.8,1148.2 197.5,1149 C200.1,1149.9 202.5,1149.9 205.6,1148 C208.7,1146.1 212.7,1141.3 216.2,1137.4 C219.7,1133.5 223.3,1129.3 226.8,1124.7 C230.3,1120.1 233.8,1114.9 237.4,1109.9 C240.9,1105 244.4,1099.5 247.9,1095.1 C251.5,1090.7 255.9,1086.5 258.5,1083.5 C261.1,1080.5 261.2,1078.9 263.5,1077.1 C265.8,1075.4 268.8,1073.4 272.3,1072.9 C275.7,1072.4 282,1073.8 284,1074" stroke="#1818de" stroke-width="3.3" fill="none"/>
<path d="M105.2,1121.6 C106.9,1122.5 111.9,1124.6 115.7,1127.4 C119.6,1130.1 124,1133.3 128.4,1137.9 C132.8,1142.6 137.2,1148.8 142.2,1155.4 C147.1,1162 153.3,1171.1 158,1177.6 C162.8,1184.1 167.2,1190.1 170.7,1194.5 C174.3,1198.9 177.8,1202.5 179.2,1204" stroke="#1818de" stroke-width="3.3" fill="none"/>
<path d="M177.1,1206.2 C178.3,1203.2 182.4,1193.5 184.5,1188.2 C186.6,1182.9 187.6,1178.3 189.8,1174.4 C191.9,1170.6 194.8,1166.1 197.5,1164.9 C200.1,1163.7 202.5,1165.3 205.6,1167 C208.7,1168.8 211.8,1172.3 216.2,1175.5 C220.6,1178.7 226.8,1183.5 232.1,1186.1 C237.4,1188.6 242.7,1189.9 247.9,1190.8 C253.2,1191.8 259.1,1191.6 263.5,1191.9 C267.9,1192.1 271,1192 274.4,1192.4 C277.8,1192.9 282.4,1194.2 284,1194.5" stroke="#1818de" stroke-width="3.3" fill="none"/>
<path d="M84,1210.6 C86.1,1209.6 92.5,1208.5 96.7,1204.3 C101,1200 105.6,1192.3 109.5,1185.2 C113.3,1178.1 116.9,1170 120.1,1161.9 C123.2,1153.7 127.1,1140.6 128.5,1136.4" stroke="#1818de" stroke-width="3.3" fill="none"/>
<path d="M147.6,1161.9 C150.5,1165.4 160,1177.1 164.6,1183.1 C169.2,1189.1 171.7,1194.5 175.2,1197.9 C178.7,1201.3 182.1,1202 185.8,1203.2 C189.5,1204.4 193.2,1204.4 197.5,1205.3 C201.7,1206.2 205.4,1205.9 211.3,1208.5 C217.1,1211.2 226.1,1216.3 232.5,1221.2 C238.8,1226.2 244.2,1232 249.4,1238.2 C254.7,1244.4 259.6,1252 263.9,1258.4 C268.1,1264.7 271.5,1269.8 274.9,1276.4 C278.2,1282.9 282.5,1294.1 284,1297.6" stroke="#1818de" stroke-width="3.3" fill="none"/>
<path d="M156.1,1174.6 C158.2,1177.8 164.9,1187.7 168.8,1193.7 C172.7,1199.7 175.9,1206.2 179.4,1210.6 C183,1215 187,1218.2 190,1220.2 C193,1222.1 194.6,1221.1 197.5,1222.3 C200.3,1223.5 204,1224.6 207,1227.6 C210,1230.6 212,1234.3 215.5,1240.3 C219,1246.3 224.3,1255.5 228.2,1263.7 C232.1,1271.8 235.3,1280.3 238.8,1289.1 C242.4,1297.9 245.9,1306.8 249.4,1316.7 C253,1326.6 257.6,1341.1 260,1348.5 C262.4,1355.9 262.1,1355.9 263.9,1361.2 C265.6,1366.5 267.3,1372.2 270.6,1380.3 C274,1388.4 281.8,1405 284,1410" stroke="#1818de" stroke-width="3.3" fill="none"/>
<path d="M109.5,1457.3 C112.3,1446.2 121.5,1412.6 126.4,1390.9 C131.4,1369.2 134.9,1346.7 139.1,1327.3 C143.4,1307.8 147.6,1290.2 151.9,1274.3 C156.1,1258.4 160.7,1243.2 164.6,1231.8 C168.5,1220.5 171.7,1214.5 175.2,1206.4 C178.7,1198.3 182.1,1190 185.8,1183.1 C189.5,1176.2 193.2,1167.5 197.5,1165 C201.7,1162.6 205.4,1165.2 211.3,1168.2 C217.1,1171.2 225.4,1179.2 232.5,1183.1 C239.5,1186.9 248.4,1190.1 253.7,1191.5 C258.9,1193 258.8,1191.6 263.9,1192 C268.9,1192.3 280.6,1193.4 284,1193.7" stroke="#1818de" stroke-width="3.3" fill="none"/>
<path d="M122.2,1458.8 C125,1451 133.5,1427 139.1,1412.1 C144.8,1397.3 150.5,1382.8 156.1,1369.7 C161.8,1356.6 168.1,1343.5 173.1,1333.6 C178,1323.7 181.7,1316.1 185.8,1310.3 C189.9,1304.5 193.2,1300.1 197.5,1298.6 C201.7,1297.2 206.1,1299.2 211.3,1301.8 C216.4,1304.5 222.6,1309.6 228.2,1314.6 C233.9,1319.5 240.2,1325.9 245.2,1331.5 C250.1,1337.2 254.8,1343.5 257.9,1348.5 C261,1353.4 261.7,1356.6 263.9,1361.2 C266,1365.8 267.3,1369.3 270.6,1376.1 C274,1382.8 281.8,1397.3 284,1401.5" stroke="#1818de" stroke-width="3.3" fill="none"/>
<path d="M111.6,1458.8 C114,1454.5 121.1,1443.6 126.4,1433.3 C131.7,1423.1 137,1408.6 143.4,1397.3 C149.7,1386 158.6,1373.9 164.6,1365.5 C170.6,1357 174,1351.5 179.4,1346.4 C184.9,1341.2 192.9,1337 197.5,1334.7 C202.1,1332.4 202.9,1334.5 207,1332.6 C211.1,1330.6 216.6,1327.8 221.9,1323 C227.2,1318.3 233.5,1311 238.8,1304 C244.1,1296.9 249.5,1287.7 253.7,1280.6 C257.8,1273.6 260.3,1269 263.9,1261.5 C267.4,1254.1 271.5,1243.2 274.9,1236.1 C278.2,1229 282.5,1221.9 284,1219.1" stroke="#1818de" stroke-width="3.3" fill="none"/>
<path d="M84,1354.9 C86.1,1355.9 92.5,1357.7 96.7,1361.2 C101,1364.7 105.2,1370.1 109.5,1376.1 C113.7,1382.1 117.9,1390.9 122.2,1397.3 C126.4,1403.6 130.7,1410.7 134.9,1414.2 C139.1,1417.8 143.4,1418.5 147.6,1418.5 C151.9,1418.5 155.8,1416.7 160.4,1414.2 C164.9,1411.8 170.2,1405.9 175.2,1403.6 C180.1,1401.3 186.3,1401 190,1400.5 C193.8,1399.9 193.9,1400.1 197.5,1400.5 C201,1400.8 205.4,1401.3 211.3,1402.6 C217.1,1403.8 225.7,1406.3 232.5,1407.9 C239.2,1409.5 246.3,1411.4 251.6,1412.1 C256.8,1412.8 260,1412.1 263.9,1412.1 C267.7,1412.1 271.5,1412.1 274.9,1412.1 C278.2,1412.1 282.5,1412.1 284,1412.1" stroke="#1818de" stroke-width="3.3" fill="none"/>
<path d="M84,1454.5 C86.1,1454.4 92.5,1454.5 96.7,1453.5 C101,1452.4 104.5,1451.5 109.5,1448.2 C114.4,1444.8 120.1,1439.7 126.4,1433.3 C132.8,1427 140.6,1417.1 147.6,1410 C154.7,1402.9 162.5,1396.2 168.8,1390.9 C175.2,1385.6 181,1380.7 185.8,1378.2 C190.6,1375.7 192.5,1376.2 197.5,1376.1 C202.4,1375.9 209,1376.1 215.5,1377.1 C222,1378.2 230.3,1380.1 236.7,1382.4 C243.1,1384.7 249.1,1388.6 253.7,1390.9 C258.2,1393.2 260.3,1394.1 263.9,1396.2 C267.4,1398.3 271.5,1401 274.9,1403.6 C278.2,1406.3 282.5,1410.7 284,1412.1" stroke="#1818de" stroke-width="3.3" fill="none"/>
<path d="M224,1458.8 C226.1,1455.2 232.1,1445.3 236.7,1437.6 C241.3,1429.8 247,1419.2 251.6,1412.1 C256.1,1405 260.7,1398.9 263.9,1395.1 C267,1391.4 267.3,1391.1 270.6,1389.8 C274,1388.6 281.8,1388.1 284,1387.7" stroke="#1818de" stroke-width="3.3" fill="none"/>
<path d="M243.1,1458.8 C244.5,1453.8 249.1,1438.6 251.6,1429.1 C254,1419.5 255.9,1411.8 257.9,1401.5 C260,1391.3 262.1,1376.1 263.9,1367.6 C265.6,1359.1 267.7,1353.4 268.5,1350.6" stroke="#1818de" stroke-width="3.3" fill="none"/>
<path d="M84,1453.5 C86.1,1453.8 93.2,1454.7 96.7,1455.6 C100.3,1456.5 103.8,1458.2 105.2,1458.8" stroke="#1818de" stroke-width="3.3" fill="none"/>
<path d="M306.4,814.3 C307.8,820.5 312.1,841 314.9,851.5 C317.7,861.9 320.2,869.1 323.4,876.9 C326.6,884.7 330.5,893 334,898.1 C337.5,903.2 341.1,905.9 344.6,907.7 C348.1,909.4 350.2,909.6 355.2,908.7 C360.1,907.8 367.7,903.8 374.3,902.4 C380.9,900.9 388.3,902.4 394.6,900.2 C401,898.1 406.7,894.4 412.5,889.6 C418.3,884.9 423.8,876.4 429.4,871.6 C435.1,866.8 442.5,862.8 446.4,861 C450.3,859.2 450,861.1 453,860.6 C455.9,860 462.2,858.3 464,857.8" stroke="#1818de" stroke-width="3.3" fill="none"/>
<path d="M342.5,814.3 C344.2,818.1 349.2,829.4 353.1,836.6 C357,843.9 361.9,851.1 365.8,857.8 C369.7,864.5 372.9,872 376.4,876.9 C379.9,881.9 384,885.4 387,887.5 C390.1,889.6 390.4,889.3 394.6,889.6 C398.9,890 406,889.6 412.5,889.6 C419,889.6 426.9,889.6 433.7,889.6 C440.4,889.6 447.9,889.6 453,889.6 C458,889.6 462.2,889.6 464,889.6" stroke="#1818de" stroke-width="3.3" fill="none"/>
<path d="M264,1007.3 C266.1,1007.7 272.5,1009.5 276.7,1009.5 C281,1009.5 284.5,1008.6 289.5,1007.3 C294.4,1006.1 301.5,1003.3 306.4,1002 C311.4,1000.7 314.5,999.5 319.1,999.5 C323.7,999.5 329,1000.6 334,1002 C338.9,1003.5 344.2,1006.3 348.8,1008.4 C353.4,1010.5 357.3,1013.5 361.6,1014.8 C365.8,1016 368.8,1016 374.3,1015.8 C379.8,1015.6 388.3,1016 394.6,1013.7 C401,1011.4 406.3,1007.5 412.5,1002 C418.6,996.6 426.2,986 431.6,980.8 C436.9,975.7 440.7,973.2 444.3,971.3 C447.8,969.3 449.7,973.2 453,969.2 C456.3,965.1 462.2,950.6 464,946.9" stroke="#1818de" stroke-width="3.3" fill="none"/>
<path d="M264,1002 C267.5,1003.5 279.6,1007.7 285.2,1010.5 C290.9,1013.3 293.7,1015.1 297.9,1019 C302.2,1022.9 306.4,1028.5 310.7,1033.9 C314.9,1039.2 319.1,1044.8 323.4,1050.8 C327.6,1056.8 331.9,1063.9 336.1,1069.9 C340.4,1075.9 344.6,1082.6 348.8,1086.9 C353.1,1091.1 357.3,1093.2 361.6,1095.4 C365.8,1097.5 368.8,1098.7 374.3,1099.6 C379.8,1100.5 388.3,1100.5 394.6,1100.7 C401,1100.8 406,1100.7 412.5,1100.7 C419,1100.7 426.9,1100.7 433.7,1100.7 C440.4,1100.7 447.9,1100.7 453,1100.7 C458,1100.7 462.2,1100.7 464,1100.7" stroke="#1818de" stroke-width="3.3" fill="none"/>
<path d="M264,1054 C266.1,1054.7 272.5,1056.3 276.7,1058.2 C281,1060.2 285.2,1063 289.5,1065.7 C293.7,1068.3 297.9,1071 302.2,1074.1 C306.4,1077.3 310.7,1081.7 314.9,1084.8 C319.1,1087.8 324.1,1091.5 327.6,1092.2 C331.2,1092.9 333.3,1092 336.1,1089 C338.9,1086 341.8,1079.5 344.6,1074.1 C347.4,1068.8 349.9,1063.2 353.1,1057.2 C356.3,1051.2 360.3,1043.2 363.7,1038.1 C367,1033 370,1027.8 373.2,1026.4 C376.4,1025 379.2,1027.8 382.8,1029.6 C386.3,1031.4 389.7,1036.7 394.6,1037 C399.6,1037.4 406,1034.2 412.5,1031.7 C419,1029.3 426.9,1024.8 433.7,1022.2 C440.4,1019.5 447.9,1016.4 453,1015.8 C458,1015.3 462.2,1018.5 464,1019" stroke="#1818de" stroke-width="3.3" fill="none"/>
<path d="M452.9,969.4 C454.6,966.7 459.6,959.1 463.1,953.3 C466.6,947.4 470.5,942.3 473.7,934.2 C476.9,926 479.3,913.7 482.2,904.5 C485,895.3 487.8,886.8 490.7,879 C493.5,871.3 496.3,863.3 499.1,857.8 C502,852.3 504.8,846.9 507.6,846.2 C510.5,845.4 513.3,849.5 516.1,853.6 C518.9,857.6 521.8,864.2 524.6,870.5 C527.4,876.9 530.2,884.7 533.1,891.8 C535.9,898.8 538.7,905.9 541.6,913 C544.4,920 547.2,928.9 550,934.2 C552.9,939.5 555.7,942.3 558.5,944.8 C561.4,947.2 564.2,948.7 567,949 C569.8,949.4 572.7,949 575.5,946.9 C578.3,944.8 581.2,940.5 584,936.3 C586.8,932 589.3,926.7 592.5,921.4 C595.6,916.1 599.5,910.8 603.1,904.5 C606.6,898.1 610.1,890.3 613.7,883.3 C617.2,876.2 621.2,867.5 624.3,862.1 C627.3,856.6 629.4,851.5 631.9,850.4 C634.4,849.3 637.1,853.8 639.1,855.7 C641.1,857.6 643.2,861 644,862.1" stroke="#1818de" stroke-width="3.3" fill="none"/>
<path d="M624,864.2 C625.3,861.9 628.5,850.9 632.1,850.4 C635.6,849.9 640.2,858.2 645.2,861 C650.2,863.8 656.9,867.2 662.2,867.4 C667.5,867.5 672.8,864.7 677,862.1 C681.3,859.4 684.1,855.7 687.6,851.5 C691.2,847.2 694.7,841.9 698.2,836.6 C701.8,831.3 706.7,823.4 708.8,819.6 C711,815.9 710.6,815.2 711,814.3" stroke="#1818de" stroke-width="3.3" fill="none"/>
<path d="M624,838.7 C625.3,840.7 628.5,849.2 632.1,850.4 C635.6,851.6 639.5,846.3 645.2,846.2 C650.9,846 659.3,849.2 666.4,849.3 C673.5,849.5 680.6,847 687.6,847.2 C694.7,847.4 702.5,848.8 708.8,850.4 C715.2,852 720.1,855.2 725.8,856.8 C731.5,858.3 736.6,859.3 742.8,859.9 C749,860.5 759.6,860.3 762.9,860.4" stroke="#1818de" stroke-width="3.3" fill="none"/>
<path d="M708.8,814.3 C709.9,818.1 712.7,828.7 715.2,836.6 C717.7,844.6 720.9,853.6 723.7,862.1 C726.5,870.5 729.3,879 732.2,887.5 C735,896 737.8,904.8 740.6,913 C743.5,921.1 746.7,929.6 749.1,936.3 C751.6,943 753.2,948 755.5,953.3 C757.8,958.6 761.7,965.6 762.9,968.1" stroke="#1818de" stroke-width="3.3" fill="none"/>
<path d="M765,949 C766.3,948 769.8,946.5 772.5,942.7 C775.1,938.8 778.1,932 780.9,925.7 C783.8,919.3 786.6,912.3 789.4,904.5 C792.3,896.7 795.4,886.8 797.9,879 C800.4,871.3 802.2,865.6 804.3,857.8 C806.4,850 809,839.6 810.6,832.4 C812.2,825.1 813.3,817.3 813.8,814.3" stroke="#1818de" stroke-width="3.3" fill="none"/>
<path d="M765,851.9 C768,851.5 776.5,850.5 783.1,849.3 C789.6,848.2 797.9,845.8 804.3,845.1 C810.6,844.4 818.4,845.1 821.2,845.1" stroke="#1818de" stroke-width="3.3" fill="none"/>
<path d="M823.4,870.5 C825.5,870.2 831.8,869.5 836.1,868.4 C840.3,867.4 844.6,865.9 848.8,864.2 C853.1,862.4 857.7,859.8 861.5,857.8 C865.4,855.9 868.8,853.6 872.1,852.5 C875.5,851.5 880.1,851.6 881.7,851.5" stroke="#1818de" stroke-width="3.3" fill="none"/>
<path d="M84,819.9 C85,819.5 88,818.5 90.3,817.7 C92.6,816.9 96.7,815.4 98,814.9" stroke="#1818de" stroke-width="3.3" fill="none"/>
<path d="M264,1257.3 C266.1,1254.1 272.1,1246.7 276.7,1238.2 C281.3,1229.7 286.6,1216.3 291.6,1206.4 C296.5,1196.5 301.8,1186.9 306.4,1178.8 C311,1170.7 314.9,1164.7 319.1,1157.6 C323.4,1150.5 329.4,1140.3 331.9,1136.4 C334.3,1132.5 333.6,1134.6 334,1134.3" stroke="#1818de" stroke-width="3.3" fill="none"/>
<path d="M264,1365.5 C265.4,1360.9 269.7,1347.8 272.5,1337.9 C275.3,1328 277.8,1317 281,1306.1 C284.1,1295.1 287.3,1284.2 291.6,1272.1 C295.8,1260.1 301.1,1246 306.4,1234 C311.7,1221.9 317.7,1211.7 323.4,1200 C329,1188.4 335.8,1174.6 340.4,1164 C344.9,1153.4 349.2,1141 351,1136.4" stroke="#1818de" stroke-width="3.3" fill="none"/>
<path d="M264,1191.5 C266.1,1191.6 272.5,1190.9 276.7,1192 C281,1193 284.9,1193.7 289.5,1197.9 C294,1202.1 300.1,1209.9 304.3,1217 C308.5,1224.1 311,1229.4 314.9,1240.3 C318.8,1251.3 323.7,1269.7 327.6,1282.7 C331.5,1295.8 334.7,1306.4 338.2,1318.8 C341.8,1331.2 345.7,1343.9 348.8,1357 C352,1370.1 354.5,1384.5 357.3,1397.3 C360.1,1410 363.7,1424.5 365.8,1433.3 C367.9,1442.2 368.6,1446.1 370,1450.3 C371.5,1454.5 373.6,1457.4 374.3,1458.8" stroke="#1818de" stroke-width="3.3" fill="none"/>
<path d="M351,1136.4 C352.4,1139.9 356.3,1149.8 359.4,1157.6 C362.6,1165.4 366.2,1175.3 370,1183.1 C373.9,1190.8 378.7,1199.7 382.8,1204.3 C386.9,1208.9 390.8,1207.8 394.6,1210.6 C398.5,1213.5 402.1,1216.3 406.1,1221.2 C410.1,1226.2 414.2,1233.3 418.8,1240.3 C423.4,1247.4 429.4,1257.6 433.7,1263.7 C437.9,1269.7 441.1,1273.7 444.3,1276.4 C447.5,1279 449.7,1281 453,1279.6 C456.3,1278.1 462.2,1269.8 464,1267.9" stroke="#1818de" stroke-width="3.3" fill="none"/>
<path d="M264,1261.5 C266.1,1265.4 272.1,1275.3 276.7,1284.9 C281.3,1294.4 286.6,1308.2 291.6,1318.8 C296.5,1329.4 301.5,1338.2 306.4,1348.5 C311.4,1358.7 316.7,1370.4 321.3,1380.3 C325.9,1390.2 330.1,1399.7 334,1407.9 C337.9,1416 341.4,1423.1 344.6,1429.1 C347.8,1435.1 350.6,1440 353.1,1443.9 C355.6,1447.8 357.3,1450.6 359.4,1452.4 C361.6,1454.2 363.3,1454.2 365.8,1454.5 C368.3,1454.9 369.5,1454.7 374.3,1454.5 C379.1,1454.4 388.3,1453.8 394.6,1453.5 C401,1453.1 406,1452.7 412.5,1452.4 C419,1452.2 426.9,1452.2 433.7,1452 C440.4,1451.8 447.9,1451.5 453,1451.4 C458,1451.2 462.2,1451.4 464,1451.4" stroke="#1818de" stroke-width="3.3" fill="none"/>
<path d="M264,1411.1 C267.5,1411.1 278.1,1410.9 285.2,1411.1 C292.3,1411.2 299.3,1411.6 306.4,1412.1 C313.5,1412.6 322,1414.2 327.6,1414.2 C333.3,1414.2 336.1,1414.2 340.4,1412.1 C344.6,1410 348.8,1406.1 353.1,1401.5 C357.3,1396.9 361.6,1390.2 365.8,1384.5 C370,1378.9 374.3,1372.3 378.5,1367.6 C382.8,1362.8 388.6,1358 391.3,1355.9 C393.9,1353.8 391.8,1356.4 394.6,1354.9 C397.5,1353.3 403.5,1351 408.2,1346.4 C413,1341.8 418.1,1333.6 423.1,1327.3 C428,1320.9 432.9,1313 437.9,1308.2 C442.9,1303.4 448.6,1299.4 453,1298.6 C457.3,1297.9 462.2,1303.1 464,1304" stroke="#1818de" stroke-width="3.3" fill="none"/>
<path d="M264,1394.1 C265.4,1393.4 269.3,1390.9 272.5,1389.8 C275.7,1388.8 279.2,1387.5 283.1,1387.7 C287,1387.9 290.9,1388.6 295.8,1390.9 C300.8,1393.2 307.5,1398 312.8,1401.5 C318.1,1405 323,1408.2 327.6,1412.1 C332.2,1416 336.1,1420.6 340.4,1424.8 C344.6,1429.1 349.2,1433.7 353.1,1437.6 C357,1441.5 360.1,1445.5 363.7,1448.2 C367.2,1450.8 372.5,1452.6 374.3,1453.5" stroke="#1818de" stroke-width="3.3" fill="none"/>
<path d="M264,1367.6 C265.4,1369.7 269.7,1375.4 272.5,1380.3 C275.3,1385.3 278.1,1391.3 281,1397.3 C283.8,1403.3 286.6,1409.6 289.5,1416.4 C292.3,1423.1 295.5,1430.5 297.9,1437.6 C300.4,1444.6 303.2,1455.2 304.3,1458.8" stroke="#1818de" stroke-width="3.3" fill="none"/>
<path d="M264,1395.1 C265.8,1396.6 271.1,1400.1 274.6,1403.6 C278.1,1407.2 281.3,1411.4 285.2,1416.4 C289.1,1421.3 293.3,1427.7 297.9,1433.3 C302.5,1439 308.9,1446.1 312.8,1450.3 C316.7,1454.5 319.9,1457.4 321.3,1458.8" stroke="#1818de" stroke-width="3.3" fill="none"/>
<path d="M268.2,1376.1 C269.7,1379.6 273.9,1390.2 276.7,1397.3 C279.6,1404.3 282.4,1411.4 285.2,1418.5 C288,1425.5 291.6,1433 293.7,1439.7 C295.8,1446.4 297.2,1455.6 297.9,1458.8" stroke="#1818de" stroke-width="3.3" fill="none"/>
<path d="M412.5,1458.8 C414.6,1455.2 420.9,1443.9 425.2,1437.6 C429.4,1431.2 433.3,1424.7 437.9,1420.6 C442.5,1416.5 448.6,1414.6 453,1413.2 C457.3,1411.8 462.2,1412.3 464,1412.1" stroke="#1818de" stroke-width="3.3" fill="none"/>
<path d="M444,859.9 C445.5,859.9 448.7,860.3 452.9,859.9 C457.1,859.6 463.9,858.9 469.5,857.8 C475,856.8 482.2,855.7 486.4,853.6 C490.7,851.5 492.4,849.3 494.9,845.1 C497.4,840.9 499.5,833.3 501.3,828.1 C503,823 504.8,816.6 505.5,814.3" stroke="#1818de" stroke-width="3.3" fill="none"/>
<path d="M444,889.6 C445.5,889.6 449.4,889.6 452.9,889.6 C456.4,889.6 461,889.8 465.2,889.6 C469.4,889.5 474.4,890.3 477.9,888.6 C481.5,886.8 483.6,883.4 486.4,879 C489.2,874.6 492.4,868.1 494.9,862.1 C497.4,856.1 499.1,848.6 501.3,843 C503.4,837.3 505.5,832.9 507.6,828.1 C509.7,823.4 512.9,816.6 514,814.3" stroke="#1818de" stroke-width="3.3" fill="none"/>
<path d="M452.9,988.3 C455,987.4 461,986.3 465.2,983 C469.4,979.6 473.7,974.1 477.9,968.1 C482.2,962.1 486.4,954 490.7,946.9 C494.9,939.8 499.1,932.8 503.4,925.7 C507.6,918.6 511.9,910.8 516.1,904.5 C520.4,898.1 524.6,893.2 528.8,887.5 C533.1,881.9 537.3,875.5 541.6,870.5 C545.8,865.6 550,861 554.3,857.8 C558.5,854.6 564.2,852.3 567,851.5 C569.8,850.6 569.1,849.7 571.3,852.5 C573.4,855.3 576.9,861.2 579.7,868.4 C582.6,875.7 585.4,886.4 588.2,896 C591,905.5 593.5,915.1 596.7,925.7 C599.9,936.3 603.8,949.4 607.3,959.6 C610.8,969.9 613.8,977.3 617.9,987.2 C622,997.1 629.6,1013.7 631.9,1019" stroke="#1818de" stroke-width="3.3" fill="none"/>
<path d="M444,972.3 C445.5,971.9 449.7,971.9 452.9,969.8 C456.1,967.7 459.6,964.5 463.1,959.6 C466.6,954.7 470.2,946.5 473.7,940.5 C477.2,934.5 480.4,927.8 484.3,923.6 C488.2,919.3 492.8,917 497,915.1 C501.3,913.1 505.9,914.4 509.7,911.9 C513.6,909.4 516.5,905 520.4,900.2 C524.2,895.5 528.8,889.6 533.1,883.3 C537.3,876.9 541.9,868.1 545.8,862.1 C549.7,856.1 552.9,850.6 556.4,847.2 C559.9,843.9 563.8,843.1 567,841.9 C570.2,840.7 572.7,841.4 575.5,839.8 C578.3,838.2 581.5,836.6 584,832.4 C586.5,828.1 589.3,817.3 590.3,814.3" stroke="#1818de" stroke-width="3.3" fill="none"/>
<path d="M452.9,988.3 C455,990.2 460.3,995.5 465.2,999.9 C470.1,1004.3 476.5,1010.5 482.2,1014.8 C487.8,1019 493.1,1022.2 499.1,1025.4 C505.2,1028.5 511.5,1031.4 518.2,1033.9 C524.9,1036.3 532.7,1038.8 539.4,1040.2 C546.2,1041.6 553.9,1041.9 558.5,1042.3 C563.1,1042.8 564.2,1043.1 567,1042.8 C569.8,1042.4 572,1042.4 575.5,1040.2 C579,1038 584,1032.8 588.2,1029.6 C592.5,1026.4 596.7,1022.9 600.9,1021.1 C605.2,1019.4 609.4,1019.2 613.7,1019 C617.9,1018.8 623.4,1019.7 626.4,1020.1 C629.4,1020.4 629,1020.2 631.9,1021.1 C634.8,1022 642,1024.7 644,1025.4" stroke="#1818de" stroke-width="3.3" fill="none"/>
<path d="M444,1017.9 C445.5,1017.6 450.1,1014.9 452.9,1015.8 C455.7,1016.7 457.9,1019.2 461,1023.2 C464.1,1027.3 467.3,1034.6 471.6,1040.2 C475.8,1045.9 481.1,1052.2 486.4,1057.2 C491.7,1062.1 497.7,1066 503.4,1069.9 C509,1073.8 514.7,1077.3 520.4,1080.5 C526,1083.7 531.7,1086.5 537.3,1089 C543,1091.5 549.3,1093.9 554.3,1095.4 C559.2,1096.8 562.8,1097.8 567,1097.5 C571.3,1097.1 574.8,1096.1 579.7,1093.2 C584.7,1090.4 591,1085.8 596.7,1080.5 C602.4,1075.2 608.7,1066.7 613.7,1061.4 C618.6,1056.1 623.4,1051.5 626.4,1048.7 C629.4,1045.9 629,1044.1 631.9,1044.5 C634.8,1044.8 642,1049.8 644,1050.8" stroke="#1818de" stroke-width="3.3" fill="none"/>
<path d="M469.9,1102.4 C471.4,1102.6 476.1,1102.6 479.2,1103.8 C482.3,1105 485.4,1107.9 488.5,1109.6 C491.6,1111.3 494.8,1112.7 497.9,1114 C500.9,1115.3 504.8,1116.9 507,1117.2 C509.1,1117.5 509.6,1116.7 510.8,1115.9 C512,1115.1 512.9,1114 514,1112.3 C515,1110.7 516.3,1108.1 517.2,1106.2 C518,1104.2 518.2,1103.5 519.1,1100.7 C520,1097.8 520.8,1094.1 522.5,1089 C524.1,1083.9 526.4,1076.6 528.8,1069.9 C531.3,1063.2 534.5,1055.1 537.3,1048.7 C540.1,1042.3 543,1036.3 545.8,1031.7 C548.6,1027.1 550.8,1023.8 554.3,1021.1 C557.8,1018.5 562.4,1016.2 567,1015.8 C571.6,1015.5 576.9,1017.9 581.9,1019 C586.8,1020.1 591.4,1021.3 596.7,1022.2 C602,1023.1 607.8,1023.8 613.7,1024.3 C619.5,1024.8 626.9,1025.4 631.9,1025.4 C637,1025.4 642,1024.5 644,1024.3" stroke="#1818de" stroke-width="3.3" fill="none"/>
<path d="M444,1099.6 C447.5,1099.8 458.1,1100.1 465.2,1100.7 C472.3,1101.2 479.3,1102.3 486.4,1102.8 C493.5,1103.3 500.6,1103.7 507.6,1103.8 C514.7,1104 521.8,1103.8 528.8,1103.8 C535.9,1103.8 543.7,1103.8 550,1103.8 C556.4,1103.8 561.7,1104 567,1103.8 C572.3,1103.7 575.8,1103.5 581.9,1102.8 C587.9,1102.1 596,1100.1 603.1,1099.6 C610.1,1099.1 617.5,1099.4 624.3,1099.6 C631.1,1099.8 640.7,1100.5 644,1100.7" stroke="#1818de" stroke-width="3.3" fill="none"/>
<path d="M444,1122.9 C447.5,1122.8 458.8,1123.3 465.2,1121.9 C471.6,1120.5 476.5,1117.5 482.2,1114.4 C487.8,1111.4 493.8,1107.7 499.1,1103.8 C504.4,1100 509.7,1093.9 514,1091.1 C518.2,1088.3 520.4,1087.2 524.6,1086.9 C528.8,1086.5 534.5,1087.9 539.4,1089 C544.4,1090.1 549.7,1091.8 554.3,1093.2 C558.9,1094.7 562.4,1097.1 567,1097.5 C571.6,1097.8 575.8,1096.8 581.9,1095.4 C587.9,1093.9 596,1090.4 603.1,1089 C610.1,1087.6 617.5,1087.2 624.3,1086.9 C631.1,1086.5 640.7,1086.9 644,1086.9" stroke="#1818de" stroke-width="3.3" fill="none"/>
<path d="M444,1114.4 C446.8,1114.6 455.3,1114.8 461,1115.5 C466.6,1116.2 472.3,1117.5 477.9,1118.7 C483.6,1119.9 490,1121.5 494.9,1122.9 C499.9,1124.3 504.1,1125.4 507.6,1127.2 C511.2,1128.9 514,1131.8 516.1,1133.5 C518.2,1135.3 519.6,1137.1 520.4,1137.8" stroke="#1818de" stroke-width="3.3" fill="none"/>
<path d="M603.1,1137.8 C604.8,1135.7 610.1,1128.9 613.7,1125.1 C617.2,1121.2 621.2,1117.3 624.3,1114.4 C627.3,1111.6 628.6,1110.2 631.9,1108.1 C635.2,1106 642,1102.8 644,1101.7" stroke="#1818de" stroke-width="3.3" fill="none"/>
<path d="M571.3,1100.7 C574.8,1100.9 585.4,1101.5 592.5,1102.1 C599.5,1102.7 607.1,1103.3 613.7,1104.3 C620.2,1105.3 626.9,1106.4 631.9,1108.1 C637,1109.8 642,1113.4 644,1114.4" stroke="#1818de" stroke-width="3.3" fill="none"/>
<path d="M444,1274.3 C445.5,1275.1 449.4,1280.6 452.9,1279.6 C456.4,1278.5 461.4,1274.1 465.2,1267.9 C469,1261.7 472.3,1252.7 475.8,1242.4 C479.3,1232.2 482.9,1218.1 486.4,1206.4 C490,1194.7 493.8,1183.1 497,1172.5 C500.2,1161.9 503.7,1148.9 505.5,1142.8 C507.3,1136.6 507.3,1136.6 507.6,1135.3" stroke="#1818de" stroke-width="3.3" fill="none"/>
<path d="M444,1299.7 C445.5,1299.5 449.4,1297.2 452.9,1298.6 C456.4,1300.1 461,1303.4 465.2,1308.2 C469.4,1313 473.7,1320.6 477.9,1327.3 C482.2,1334 486.8,1341.4 490.7,1348.5 C494.5,1355.6 498.4,1364 501.3,1369.7 C504.1,1375.4 505.2,1379.1 507.6,1382.4 C510.1,1385.8 513.3,1386.7 516.1,1389.8 C518.9,1393 521.1,1398.9 524.6,1401.5 C528.1,1404.2 532.4,1405.8 537.3,1405.8 C542.3,1405.8 549.3,1402.4 554.3,1401.5 C559.2,1400.6 562.4,1400.3 567,1400.5 C571.6,1400.6 576.9,1401.7 581.9,1402.6 C586.8,1403.5 591.4,1404.5 596.7,1405.8 C602,1407 607.8,1408.9 613.7,1410 C619.5,1411.1 626.9,1411.4 631.9,1412.1 C637,1412.8 642,1413.9 644,1414.2" stroke="#1818de" stroke-width="3.3" fill="none"/>
<path d="M505.5,1136.4 C506.9,1138.2 510.1,1143.1 514,1147 C517.9,1150.9 523.9,1156.9 528.8,1159.7 C533.8,1162.6 539.1,1162.7 543.7,1164 C548.3,1165.2 552.5,1166.4 556.4,1167.2 C560.3,1167.9 563.8,1167.2 567,1168.2 C570.2,1169.3 572,1170.3 575.5,1173.5 C579,1176.7 584,1182.2 588.2,1187.3 C592.5,1192.4 596.7,1197.6 600.9,1204.3 C605.2,1211 609.8,1220.5 613.7,1227.6 C617.6,1234.7 621.2,1241.4 624.3,1246.7 C627.3,1252 628.6,1253.4 631.9,1259.4 C635.2,1265.4 642,1278.9 644,1282.7" stroke="#1818de" stroke-width="3.3" fill="none"/>
<path d="M509.7,1136.4 C511.5,1139.2 516.5,1146.7 520.4,1153.4 C524.2,1160.1 528.8,1169.3 533.1,1176.7 C537.3,1184.1 541.9,1191.5 545.8,1197.9 C549.7,1204.3 552.9,1211 556.4,1214.9 C559.9,1218.8 563.8,1218.8 567,1221.2 C570.2,1223.7 572,1224.1 575.5,1229.7 C579,1235.4 584,1246 588.2,1255.2 C592.5,1264.4 596.7,1274.6 600.9,1284.9 C605.2,1295.1 609.8,1306.1 613.7,1316.7 C617.6,1327.3 621.2,1339.7 624.3,1348.5 C627.3,1357.3 628.6,1360.9 631.9,1369.7 C635.2,1378.5 642,1396.2 644,1401.5" stroke="#1818de" stroke-width="3.3" fill="none"/>
<path d="M528.8,1135.3 C530.6,1136.9 535.9,1140.8 539.4,1144.9 C543,1148.9 546.5,1154.4 550,1159.7 C553.6,1165 557.8,1171.7 560.6,1176.7 C563.5,1181.6 564.5,1188.4 567,1189.4 C569.5,1190.5 572,1186.6 575.5,1183.1 C579,1179.5 584,1173.9 588.2,1168.2 C592.5,1162.6 597.9,1154.6 600.9,1149.1 C604,1143.6 605.4,1137.6 606.2,1135.3" stroke="#1818de" stroke-width="3.3" fill="none"/>
<path d="M486.4,1458.8 C488.5,1451 495.6,1425.9 499.1,1412.1 C502.7,1398.3 504.1,1390.2 507.6,1376.1 C511.2,1361.9 516.1,1342.5 520.4,1327.3 C524.6,1312.1 528.8,1297.9 533.1,1284.9 C537.3,1271.8 541.9,1259.4 545.8,1248.8 C549.7,1238.2 553.6,1228 556.4,1221.2 C559.2,1214.5 561,1211.7 562.8,1208.5 C564.5,1205.3 564.2,1203.4 567,1202.1 C569.8,1200.9 574.8,1201.8 579.7,1201.1 C584.7,1200.4 591,1199.1 596.7,1197.9 C602.4,1196.7 607.8,1194.5 613.7,1193.7 C619.5,1192.8 626.9,1192.6 631.9,1192.6 C637,1192.6 642,1193.5 644,1193.7" stroke="#1818de" stroke-width="3.3" fill="none"/>
<path d="M492.8,1458.8 C494.5,1453.5 499.5,1437.6 503.4,1427 C507.3,1416.4 511.9,1405.4 516.1,1395.1 C520.4,1384.9 524.6,1374.6 528.8,1365.5 C533.1,1356.3 537.3,1347.4 541.6,1340 C545.8,1332.6 550,1327.6 554.3,1320.9 C558.5,1314.2 563.5,1302.9 567,1299.7 C570.5,1296.5 572,1299 575.5,1301.8 C579,1304.7 584,1310.7 588.2,1316.7 C592.5,1322.7 596.7,1331.5 600.9,1337.9 C605.2,1344.2 609.8,1349.5 613.7,1354.9 C617.6,1360.2 621.2,1365.1 624.3,1369.7 C627.3,1374.3 628.6,1377.5 631.9,1382.4 C635.2,1387.4 642,1396.6 644,1399.4" stroke="#1818de" stroke-width="3.3" fill="none"/>
<path d="M444,1412.1 C447.5,1411.9 458.1,1412.5 465.2,1411.1 C472.3,1409.6 480.1,1406.3 486.4,1403.6 C492.8,1401 498.8,1396.9 503.4,1395.1 C508,1393.4 510.5,1395.5 514,1393 C517.5,1390.6 520.7,1384.5 524.6,1380.3 C528.5,1376.1 532.4,1370.8 537.3,1367.6 C542.3,1364.4 549.3,1362.6 554.3,1361.2 C559.2,1359.8 562.4,1359.4 567,1359.1 C571.6,1358.7 576.2,1358.7 581.9,1359.1 C587.5,1359.4 595.6,1360.2 600.9,1361.2 C606.2,1362.3 609.8,1363.7 613.7,1365.5 C617.6,1367.2 621.2,1370.1 624.3,1371.8 C627.3,1373.6 628.6,1376.8 631.9,1376.1 C635.2,1375.4 642,1369 644,1367.6" stroke="#1818de" stroke-width="3.3" fill="none"/>
<path d="M486.4,1454.5 C490,1449.2 501.3,1434 507.6,1422.7 C514,1411.4 519.6,1396.2 524.6,1386.7 C529.5,1377.1 533.1,1371.8 537.3,1365.5 C541.6,1359.1 545.8,1353.4 550,1348.5 C554.3,1343.5 559.2,1338.2 562.8,1335.8 C566.3,1333.3 567.7,1335.1 571.3,1333.6 C574.8,1332.2 579.7,1330.1 584,1327.3 C588.2,1324.5 592.5,1320.9 596.7,1316.7 C600.9,1312.4 605.2,1307.8 609.4,1301.8 C613.7,1295.8 618.4,1287.5 622.2,1280.6 C625.9,1273.7 628.3,1266.8 631.9,1260.5 C635.6,1254.1 642,1245.4 644,1242.4" stroke="#1818de" stroke-width="3.3" fill="none"/>
<path d="M444,1450.3 C447.5,1450.1 458.8,1450.3 465.2,1449.2 C471.6,1448.2 477.2,1446.6 482.2,1443.9 C487.1,1441.3 491,1437.6 494.9,1433.3 C498.8,1429.1 502.3,1423.8 505.5,1418.5 C508.7,1413.2 512.6,1404.3 514,1401.5" stroke="#1818de" stroke-width="3.3" fill="none"/>
<path d="M579.7,1458.8 C581.9,1455.2 588.2,1444.3 592.5,1437.6 C596.7,1430.9 600.9,1424.8 605.2,1418.5 C609.4,1412.1 613.5,1406.8 617.9,1399.4 C622.4,1392 627.6,1379.6 631.9,1373.9 C636.3,1368.3 642,1366.9 644,1365.5" stroke="#1818de" stroke-width="3.3" fill="none"/>
<path d="M622.2,1458.8 C622.9,1454.5 624.8,1442.5 626.4,1433.3 C628,1424.1 630.1,1413.5 631.9,1403.6 C633.7,1393.7 635,1385.6 637,1373.9 C639,1362.3 642.8,1340.4 644,1333.6" stroke="#1818de" stroke-width="3.3" fill="none"/>
<path d="M676,814.3 C676.8,818.8 679,831.8 681.3,840.9 C683.6,849.9 686.9,860.6 689.7,868.4 C692.6,876.2 695,881.9 698.2,887.5 C701.4,893.2 705.7,898.8 708.8,902.4 C712,905.9 714.1,906.6 717.3,908.7 C720.5,910.8 724.4,911.9 727.9,915.1 C731.5,918.3 735,922.5 738.5,927.8 C742.1,933.1 746,941.2 749.1,946.9 C752.3,952.6 755.3,958.2 757.6,961.7 C759.9,965.3 762,967 762.9,968.1" stroke="#1818de" stroke-width="3.3" fill="none"/>
<path d="M715.2,814.3 C716.6,818.1 721.2,829.4 723.7,836.6 C726.2,843.9 728.3,850.7 730,857.8 C731.8,864.9 732.2,874.1 734.3,879 C736.4,884 739.9,885.7 742.8,887.5 C745.6,889.3 747.9,889.3 751.3,889.6 C754.6,890 761,889.6 762.9,889.6" stroke="#1818de" stroke-width="3.3" fill="none"/>
<path d="M717.3,814.3 C719.4,817.3 725.8,826.9 730,832.4 C734.3,837.8 739.2,843.3 742.8,847.2 C746.3,851.1 747.9,853.6 751.3,855.7 C754.6,857.8 761,859.2 762.9,859.9" stroke="#1818de" stroke-width="3.3" fill="none"/>
<path d="M624,1006.3 C625.3,1008.4 628.5,1021.5 632.1,1019 C635.6,1016.5 640.5,1001.3 645.2,991.4 C649.9,981.5 655.1,969.2 660.1,959.6 C665,950.1 670.3,941.2 674.9,934.2 C679.5,927.1 684.1,920.6 687.6,917.2 C691.2,913.8 692.6,913.7 696.1,914 C699.6,914.4 704.6,916 708.8,919.3 C713.1,922.7 717.3,928.2 721.6,934.2 C725.8,940.2 730.4,949 734.3,955.4 C738.2,961.7 741.4,967.4 744.9,972.3 C748.4,977.3 752.5,982.4 755.5,985.1 C758.5,987.7 761.7,987.7 762.9,988.3" stroke="#1818de" stroke-width="3.3" fill="none"/>
<path d="M624,1024.3 C625.3,1024.5 628.5,1025 632.1,1025.4 C635.6,1025.7 640.9,1026.4 645.2,1026.4 C649.5,1026.4 653.3,1026.6 657.9,1025.4 C662.5,1024.1 667.1,1020.8 672.8,1019 C678.4,1017.2 685.9,1015.3 691.9,1014.8 C697.9,1014.2 703.5,1015.3 708.8,1015.8 C714.1,1016.4 718.7,1018.5 723.7,1017.9 C728.6,1017.4 733.9,1015.3 738.5,1012.6 C743.1,1010 747.2,1005.9 751.3,1002 C755.3,998.2 761,991.4 762.9,989.3" stroke="#1818de" stroke-width="3.3" fill="none"/>
<path d="M632.1,1025.4 C634.3,1025.7 640.9,1026.1 645.2,1027.5 C649.5,1028.9 653.7,1030.3 657.9,1033.9 C662.2,1037.4 666.8,1043.4 670.7,1048.7 C674.5,1054 678.1,1060 681.3,1065.7 C684.4,1071.3 687.3,1077.7 689.7,1082.6 C692.2,1087.6 693.6,1091.8 696.1,1095.4 C698.6,1098.9 701.1,1102.1 704.6,1103.8 C708.1,1105.6 712.4,1106.1 717.3,1106 C722.3,1105.8 728.6,1103.7 734.3,1102.8 C739.9,1101.9 746.5,1101.2 751.3,1100.7 C756,1100.1 761,1099.8 762.9,1099.6" stroke="#1818de" stroke-width="3.3" fill="none"/>
<path d="M624,1048.7 C625.3,1048 628.5,1044.1 632.1,1044.5 C635.6,1044.8 640.2,1047.6 645.2,1050.8 C650.2,1054 656.9,1059.3 662.2,1063.5 C667.5,1067.8 672.1,1073.1 677,1076.3 C682,1079.5 686.6,1081.9 691.9,1082.6 C697.2,1083.3 703.9,1082.3 708.8,1080.5 C713.8,1078.7 717.3,1075.9 721.6,1072 C725.8,1068.1 730,1062.5 734.3,1057.2 C738.5,1051.9 743.1,1045.5 747,1040.2 C750.9,1034.9 755,1028.9 757.6,1025.4 C760.3,1021.8 762,1020.1 762.9,1019" stroke="#1818de" stroke-width="3.3" fill="none"/>
<path d="M624,1086.9 C627.5,1086.9 638.1,1086.7 645.2,1086.9 C652.3,1087.1 660.1,1087.6 666.4,1087.9 C672.8,1088.3 678.8,1088.1 683.4,1089 C688,1089.9 690.8,1091.5 694,1093.2 C697.2,1095 699.3,1097.5 702.5,1099.6 C705.7,1101.7 709.2,1103.8 713.1,1106 C717,1108.1 721.2,1110.2 725.8,1112.3 C730.4,1114.4 734.5,1116.9 740.6,1118.7 C746.8,1120.5 759.2,1122.2 762.9,1122.9" stroke="#1818de" stroke-width="3.3" fill="none"/>
<path d="M624,1103.8 C625.3,1104.5 628.5,1106 632.1,1108.1 C635.6,1110.2 640.9,1114.4 645.2,1116.6 C649.5,1118.7 653.7,1119.9 657.9,1120.8 C662.2,1121.7 665.7,1122.6 670.7,1121.9 C675.6,1121.2 682,1118.5 687.6,1116.6 C693.3,1114.6 699.3,1111.8 704.6,1110.2 C709.9,1108.6 714.5,1107.9 719.4,1107 C724.4,1106.1 729,1105.8 734.3,1104.9 C739.6,1104 748.4,1102.3 751.3,1101.7" stroke="#1818de" stroke-width="3.3" fill="none"/>
<path d="M624,1112.3 C625.3,1111.6 628.5,1109.5 632.1,1108.1 C635.6,1106.7 640.2,1104.4 645.2,1103.8 C650.2,1103.3 656.5,1104.2 662.2,1104.9 C667.8,1105.6 674.2,1106.8 679.1,1108.1 C684.1,1109.3 688.3,1110.2 691.9,1112.3 C695.4,1114.4 697.9,1116.6 700.4,1120.8 C702.8,1125.1 705.7,1134.9 706.7,1137.8" stroke="#1818de" stroke-width="3.3" fill="none"/>
<path d="M717.3,1137.8 C718.7,1136 722.3,1130 725.8,1127.2 C729.3,1124.3 734.3,1122.8 738.5,1120.8 C742.8,1118.9 747.2,1116.7 751.3,1115.5 C755.3,1114.3 761,1113.7 762.9,1113.4" stroke="#1818de" stroke-width="3.3" fill="none"/>
<path d="M765,1016.9 C767,1016 772.6,1013.7 776.7,1011.6 C780.8,1009.5 785.2,1006.5 789.4,1004.2 C793.7,1001.9 797.9,999.4 802.2,997.8 C806.4,996.2 811.7,995.1 814.9,994.6 C818.1,994.1 820.2,994.6 821.2,994.6" stroke="#1818de" stroke-width="3.3" fill="none"/>
<path d="M765,1043.4 C767,1042.5 772.6,1040.4 776.7,1038.1 C780.8,1035.8 785.2,1031.9 789.4,1029.6 C793.7,1027.3 797.9,1025.7 802.2,1024.3 C806.4,1022.9 811.7,1021.7 814.9,1021.1 C818.1,1020.5 820.2,1020.8 821.2,1020.7" stroke="#1818de" stroke-width="3.3" fill="none"/>
<path d="M765,1097.1 L821.2,1096.2" stroke="#1818de" stroke-width="3.3" fill="none"/>
<path d="M765,1103.4 L821.2,1103.4" stroke="#1818de" stroke-width="3.3" fill="none"/>
<path d="M765,1100.7 C767,1101.2 771.9,1102.6 776.7,1103.8 C781.5,1105.1 786.2,1106.7 793.7,1108.1 C801.1,1109.5 816.6,1111.6 821.2,1112.3" stroke="#1818de" stroke-width="3.3" fill="none"/>
<path d="M823.4,999.9 C825.5,1000.6 831.1,1002.4 836.1,1004.2 C841,1005.9 847.8,1008.4 853.1,1010.5 C858.4,1012.6 863.1,1015.5 867.9,1016.9 C872.7,1018.3 879.4,1018.7 881.7,1019" stroke="#1818de" stroke-width="3.3" fill="none"/>
<path d="M823.4,1011.6 C825.5,1011.8 831.1,1011.6 836.1,1012.6 C841,1013.7 847.8,1016.2 853.1,1017.9 C858.4,1019.7 863.1,1022 867.9,1023.2 C872.7,1024.5 879.4,1025 881.7,1025.4" stroke="#1818de" stroke-width="3.3" fill="none"/>
<path d="M823.4,1054 C825.5,1053.8 831.1,1053.5 836.1,1052.9 C841,1052.4 847.8,1051.7 853.1,1050.8 C858.4,1049.9 863.1,1048.7 867.9,1047.6 C872.7,1046.6 879.4,1045 881.7,1044.5" stroke="#1818de" stroke-width="3.3" fill="none"/>
<path d="M823.4,1076.3 C824.8,1076.6 828.3,1076.3 831.8,1078.4 C835.4,1080.5 840.3,1085.5 844.6,1089 C848.8,1092.5 853.1,1096.8 857.3,1099.6 C861.5,1102.4 866,1104.5 870,1106 C874.1,1107.4 879.7,1107.7 881.7,1108.1" stroke="#1818de" stroke-width="3.3" fill="none"/>
<path d="M823.4,1120.8 C824.8,1120.5 828.3,1120.5 831.8,1118.7 C835.4,1116.9 840.3,1114.1 844.6,1110.2 C848.8,1106.3 853.1,1098.9 857.3,1095.4 C861.5,1091.8 866,1090.4 870,1089 C874.1,1087.6 879.7,1087.2 881.7,1086.9" stroke="#1818de" stroke-width="3.3" fill="none"/>
<path d="M624,1276.4 C625.3,1273.6 628.5,1265.8 632.1,1259.4 C635.6,1253 640.2,1246.7 645.2,1238.2 C650.2,1229.7 656.5,1218.4 662.2,1208.5 C667.8,1198.6 673.8,1188 679.1,1178.8 C684.4,1169.6 689.7,1160.6 694,1153.4 C698.2,1146.1 702.8,1138.3 704.6,1135.3" stroke="#1818de" stroke-width="3.3" fill="none"/>
<path d="M624,1242.4 C625.3,1245.3 628.9,1253 632.1,1259.4 C635.2,1265.8 639.5,1273.9 643.1,1280.6 C646.7,1287.3 649.8,1292.6 653.7,1299.7 C657.6,1306.8 662.2,1315.3 666.4,1323 C670.7,1330.8 674.9,1338.6 679.1,1346.4 C683.4,1354.1 687.6,1363 691.9,1369.7 C696.1,1376.4 700.4,1382.1 704.6,1386.7 C708.8,1391.3 712.4,1393.7 717.3,1397.3 C722.3,1400.8 728.6,1405.4 734.3,1407.9 C739.9,1410.3 746.5,1411.2 751.3,1412.1 C756,1413 761,1413 762.9,1413.2" stroke="#1818de" stroke-width="3.3" fill="none"/>
<path d="M624,1192.6 C625.3,1192.5 628.5,1191.6 632.1,1192 C635.6,1192.3 640.9,1192.7 645.2,1194.7 C649.5,1196.8 653.7,1199.5 657.9,1204.3 C662.2,1209 666.4,1215.6 670.7,1223.4 C674.9,1231.1 679.5,1241.4 683.4,1250.9 C687.3,1260.5 690.5,1270.4 694,1280.6 C697.5,1290.9 701.4,1301.8 704.6,1312.4 C707.8,1323 710.2,1332.9 713.1,1344.2 C715.9,1355.6 718.7,1367.6 721.6,1380.3 C724.4,1393 727.6,1407.5 730,1420.6 C732.5,1433.7 735.3,1452.4 736.4,1458.8" stroke="#1818de" stroke-width="3.3" fill="none"/>
<path d="M708.8,1135.3 C710.2,1139.1 714.1,1148.6 717.3,1157.6 C720.5,1166.6 724.4,1178.8 727.9,1189.4 C731.5,1200 735,1210.6 738.5,1221.2 C742.1,1231.8 746,1244.2 749.1,1253 C752.3,1261.9 755.3,1270 757.6,1274.3 C759.9,1278.5 762,1277.8 762.9,1278.5" stroke="#1818de" stroke-width="3.3" fill="none"/>
<path d="M717.3,1135.3 C714.5,1138.7 705.7,1148.2 700.4,1155.5 C695,1162.7 690.1,1170.3 685.5,1178.8 C680.9,1187.3 676.7,1196.5 672.8,1206.4 C668.9,1216.3 665.4,1228 662.2,1238.2 C659,1248.5 656.5,1256.9 653.7,1267.9 C650.9,1278.9 647.7,1292.3 645.2,1304 C642.7,1315.6 640.6,1327.6 638.8,1337.9 C637.1,1348.1 635.7,1359.4 634.6,1365.5 C633.5,1371.5 632.5,1372.5 632.1,1373.9" stroke="#1818de" stroke-width="3.3" fill="none"/>
<path d="M632.1,1371.8 C634.3,1370.8 641.6,1366.5 645.2,1365.5 C648.8,1364.4 649.5,1364 653.7,1365.5 C657.9,1366.9 665,1369.7 670.7,1373.9 C676.3,1378.2 682.7,1386 687.6,1390.9 C692.6,1395.9 695.8,1399.4 700.4,1403.6 C704.9,1407.9 710.2,1412.1 715.2,1416.4 C720.1,1420.6 725.4,1424.8 730,1429.1 C734.6,1433.3 738.5,1438.3 742.8,1441.8 C747,1445.3 752.1,1448.9 755.5,1450.3 C758.9,1451.7 761.7,1450.3 762.9,1450.3" stroke="#1818de" stroke-width="3.3" fill="none"/>
<path d="M632.1,1376.1 C633.5,1377.5 637,1381 641,1384.5 C644.9,1388.1 650.9,1394.1 655.8,1397.3 C660.8,1400.5 666.1,1402.9 670.7,1403.6 C675.3,1404.3 679.1,1403.3 683.4,1401.5 C687.6,1399.7 691.9,1396.6 696.1,1393 C700.4,1389.5 704.9,1384.9 708.8,1380.3 C712.7,1375.7 715.9,1371.1 719.4,1365.5 C723,1359.8 726.2,1353.4 730,1346.4 C733.9,1339.3 738.9,1329.8 742.8,1323 C746.7,1316.3 750,1310.1 753.4,1306.1 C756.7,1302 761.3,1299.9 762.9,1298.6" stroke="#1818de" stroke-width="3.3" fill="none"/>
<path d="M624,1412.1 C625.3,1411.9 628.5,1411.2 632.1,1411.1 C635.6,1410.9 640.9,1410.5 645.2,1411.1 C649.5,1411.6 653.7,1412.3 657.9,1414.2 C662.2,1416.2 666.4,1419.5 670.7,1422.7 C674.9,1425.9 679.5,1429.8 683.4,1433.3 C687.3,1436.9 690.5,1440.4 694,1443.9 C697.5,1447.5 702.1,1452.1 704.6,1454.5 C707.1,1457 708.1,1458.1 708.8,1458.8" stroke="#1818de" stroke-width="3.3" fill="none"/>
<path d="M632.1,1401.5 C633.2,1404 636.7,1411.1 638.8,1416.4 C641,1421.7 643.1,1428 645.2,1433.3 C647.3,1438.6 649.8,1443.9 651.6,1448.2 C653.3,1452.4 655.1,1457 655.8,1458.8" stroke="#1818de" stroke-width="3.3" fill="none"/>
<path d="M624,1378.2 C625.3,1379.6 629.2,1381.7 632.1,1386.7 C634.9,1391.6 638.1,1400.1 641,1407.9 C643.9,1415.7 646.6,1424.8 649.5,1433.3 C652.3,1441.8 656.5,1454.5 657.9,1458.8" stroke="#1818de" stroke-width="3.3" fill="none"/>
<path d="M734.3,1458.8 C736.4,1457.7 742.2,1453.8 747,1452.4 C751.8,1451 760.3,1450.6 762.9,1450.3" stroke="#1818de" stroke-width="3.3" fill="none"/>
<path d="M765,1168.2 C766.3,1168.7 769.5,1170.2 772.5,1171.4 C775.5,1172.6 779.5,1175.8 783.1,1175.6 C786.6,1175.5 789.8,1173.3 793.7,1170.3 C797.6,1167.3 801.8,1161.1 806.4,1157.6 C811,1154.1 818.8,1150.5 821.2,1149.1" stroke="#1818de" stroke-width="3.3" fill="none"/>
<path d="M765,1190.5 C767,1190 773.3,1188.2 776.7,1187.3 C780.1,1186.4 782.4,1184.5 785.2,1185.2 C788,1185.9 790.1,1189.1 793.7,1191.5 C797.2,1194 801.8,1197.6 806.4,1200 C811,1202.5 818.8,1205.3 821.2,1206.4" stroke="#1818de" stroke-width="3.3" fill="none"/>
<path d="M765,1202.1 C767,1201.4 773,1200.4 776.7,1197.9 C780.4,1195.4 783.8,1191.2 787.3,1187.3 C790.8,1183.4 794,1178.1 797.9,1174.6 C801.8,1171 806.8,1167.9 810.6,1166.1 C814.5,1164.3 819.5,1164.3 821.2,1164" stroke="#1818de" stroke-width="3.3" fill="none"/>
<path d="M765,1221.2 L821.2,1223.4" stroke="#1818de" stroke-width="3.3" fill="none"/>
<path d="M765,1298.6 L821.2,1297.6" stroke="#1818de" stroke-width="3.3" fill="none"/>
<path d="M765,1334.7 L821.2,1334.7" stroke="#1818de" stroke-width="3.3" fill="none"/>
<path d="M765,1359.1 C767,1359.4 771.9,1359.4 776.7,1361.2 C781.5,1363 788.4,1367.4 793.7,1369.7 C799,1372 803.9,1373.9 808.5,1375 C813.1,1376.1 819.1,1375.9 821.2,1376.1" stroke="#1818de" stroke-width="3.3" fill="none"/>
<path d="M765,1400.5 L821.2,1400.5" stroke="#1818de" stroke-width="3.3" fill="none"/>
<path d="M823.4,1192.6 L881.7,1193.2" stroke="#1818de" stroke-width="3.3" fill="none"/>
<path d="M823.4,1260.5 L881.7,1259.8" stroke="#1818de" stroke-width="3.3" fill="none"/>
<path d="M823.4,1363.3 C825.5,1363.7 831.1,1364 836.1,1365.5 C841,1366.9 847.8,1370.4 853.1,1371.8 C858.4,1373.2 863.1,1373.6 867.9,1373.9 C872.7,1374.3 879.4,1373.9 881.7,1373.9" stroke="#1818de" stroke-width="3.3" fill="none"/>
<path d="M823.4,1364.4 C825.5,1364.9 831.1,1365.6 836.1,1367.6 C841,1369.5 847.8,1373.6 853.1,1376.1 C858.4,1378.5 863.1,1381.2 867.9,1382.4 C872.7,1383.7 879.4,1383.3 881.7,1383.5" stroke="#1818de" stroke-width="3.3" fill="none"/>
<path d="M823.4,1395.1 C825.5,1395.3 831.1,1395.5 836.1,1396.2 C841,1396.9 847.8,1398.3 853.1,1399.4 C858.4,1400.5 863.1,1401.9 867.9,1402.6 C872.7,1403.2 879.4,1403.1 881.7,1403.2" stroke="#1818de" stroke-width="3.3" fill="none"/>
<path d="M823.4,1411.7 L881.7,1411.7" stroke="#1818de" stroke-width="3.3" fill="none"/>
<path d="M502.4,1155.4 C502.9,1153.8 504.2,1148.8 505.2,1145.6 C506.2,1142.4 507.3,1138.8 508.4,1136.3 C509.5,1133.8 510.3,1131.7 511.6,1130.3 C512.9,1128.9 514.8,1128.2 516.3,1128 C517.8,1127.8 519.4,1128.6 520.9,1129.4 C522.4,1130.2 524,1131.7 525.5,1133.1 C527,1134.5 528.3,1135.6 530.2,1137.7 C532.1,1139.8 534.8,1143.1 537.1,1145.6 C539.4,1148.1 542.4,1150.9 544,1152.5 C545.6,1154.1 545.5,1153.9 546.8,1155.4 C548.1,1156.9 551.1,1160.4 552,1161.4" stroke="#1818de" stroke-width="3.3" fill="none"/>
<path d="M250,1072.1 C252.2,1072.9 259.5,1074.3 263.3,1076.6 C267,1078.8 268.9,1081.8 272.3,1085.5 C275.6,1089.2 279.7,1094.4 283.4,1098.8 C287.1,1103.3 291.4,1108.8 294.6,1112.2 C297.7,1115.6 299.9,1117.8 302.4,1119.5 C304.8,1121.1 306.6,1122.1 309,1122.2 C311.5,1122.4 313.7,1122.1 316.8,1120.6 C320,1119.1 324.6,1115.1 328,1113.3 C331.3,1111.6 333.2,1110.9 336.9,1110 C340.6,1109.1 346.2,1108.7 350.3,1107.8 C354.3,1106.8 357.7,1105.4 361.4,1104.4 C365.1,1103.4 367,1102.2 372.5,1101.6 C378.1,1101.1 387.4,1101.2 394.8,1101.1 C402.2,1100.9 413.4,1100.9 417.1,1100.8" stroke="#1818de" stroke-width="3.3" fill="none"/>
<path d="M250,1093.3 C251.1,1091.8 254.5,1087.1 256.7,1084.4 C258.9,1081.6 260.3,1078.5 263.3,1076.6 C266.2,1074.6 270.2,1072.7 274.5,1072.7 C278.8,1072.7 283.8,1074.4 289,1076.6 C294.2,1078.7 300.1,1081.9 305.7,1085.5 C311.3,1089 317.8,1094 322.4,1097.7 C327,1101.4 330.2,1104.8 333.5,1107.8 C336.9,1110.7 340,1112.6 342.5,1115.6 C344.9,1118.5 346.7,1122.6 348,1125.6 C349.3,1128.5 349,1129.8 350.3,1133.4 C351.6,1136.9 353,1139.7 355.8,1146.7 C358.6,1153.7 365.1,1170.6 367,1175.4" stroke="#1818de" stroke-width="3.3" fill="none"/>
<path d="M250,1121.1 C253.7,1121.1 266.7,1120.7 272.3,1121.1 C277.8,1121.6 279.7,1123.1 283.4,1123.9 C287.1,1124.7 290.8,1125.6 294.6,1125.8 C298.3,1126 302,1125.8 305.7,1125 C309.4,1124.2 313.1,1122.7 316.8,1121.1 C320.6,1119.5 324.6,1117.2 328,1115.6 C331.3,1113.9 333.9,1111.8 336.9,1111.1 C339.9,1110.4 342.6,1110.4 345.8,1111.1 C349,1111.8 352.3,1114.1 355.8,1115.6 C359.4,1117 363.3,1118.7 367,1120 C370.7,1121.3 373.5,1122.4 378.1,1123.4 C382.7,1124.3 382.4,1125.5 394.8,1125.6 C407.3,1125.7 440.2,1124.5 452.7,1123.9 C465.3,1123.4 467.1,1122.5 470,1122.2" stroke="#1818de" stroke-width="3.3" fill="none"/>
<path d="M306.8,1175.4 C308.9,1171.7 315.2,1159.7 319.1,1153.4 C323,1147.2 326.9,1141.7 330.2,1137.8 C333.5,1133.9 335.8,1132.4 339.1,1130 C342.5,1127.6 346.5,1124.8 350.3,1123.4 C354,1121.9 358.1,1121.9 361.4,1121.1 C364.7,1120.4 366.6,1120.1 370.3,1118.9 C374,1117.7 379.6,1114.8 383.7,1113.9 C387.8,1113 383.3,1113.4 394.8,1113.3 C406.3,1113.2 440.2,1112.8 452.7,1113.3 C465.3,1113.9 467.1,1116.1 470,1116.7" stroke="#1818de" stroke-width="3.3" fill="none"/>
<path d="M322.4,1175.4 C324.8,1171.7 332.6,1159.7 336.9,1153.4 C341.2,1147.2 345.2,1141.4 348,1137.8 C350.8,1134.3 351.4,1134.3 353.6,1132.3 C355.8,1130.2 359,1127.4 361.4,1125.6 C363.8,1123.7 367,1121.9 368.1,1121.1" stroke="#1818de" stroke-width="3.3" fill="none"/>
</g>
<path d="M84,989.9 C91.1,990 112.3,990.4 126.4,990.3 C140.6,990.3 157,989.7 168.8,989.5 C180.7,989.2 188.6,989.3 197.5,988.9 C206.3,988.4 215.3,987.3 221.9,986.7 C228.4,986.2 232.1,985.3 236.7,985.7 C241.3,986 244.9,986.4 249.4,988.9 C254,991.3 259.6,996.8 263.9,1000.5 C268.1,1004.2 271.5,1007.9 274.9,1011.1 C278.2,1014.3 282.5,1018.2 284,1019.6" stroke="#d4261a" stroke-width="3.4" fill="none" stroke-dasharray="13,5,3.5,5" clip-path="url(#clipC)"/>
<path d="M263.9,1000.5 C265.7,999.5 271.5,995.7 274.9,994.2 C278.2,992.6 282.5,991.5 284,991" stroke="#d4261a" stroke-width="3.4" fill="none" stroke-dasharray="13,5,3.5,5" clip-path="url(#clipC)"/>
<path d="M84,1002.6 C88.2,1003.3 102.4,1007.2 109.5,1006.9 C116.5,1006.5 120.8,1002.3 126.4,1000.5 C132.1,998.8 138.8,996.3 143.4,996.3 C148,996.3 148.7,998.1 154,1000.5 C159.3,1003 168.3,1008.4 175.2,1010.9 C182.1,1013.4 188.6,1012.5 195.3,1015.4 C202.1,1018.2 209,1023.6 215.7,1028.1 C222.5,1032.6 230.8,1039.1 235.9,1042.3 C240.9,1045.5 241.5,1046.4 246,1047.4 C250.6,1048.4 256.7,1047.8 263,1048.4 C269.3,1049.1 280.5,1050.9 284,1051.4" stroke="#d4261a" stroke-width="3.4" fill="none" stroke-dasharray="13,5,3.5,5" clip-path="url(#clipC)"/>
<path d="M84,1011.1 C87.5,1010.9 100.6,1010.6 105.2,1010.1 C109.8,1009.5 109.8,1006.7 111.6,1007.9 C113.3,1009.2 113.3,1012.4 115.8,1017.5 C118.3,1022.6 122.5,1031.6 126.4,1038.7 C130.3,1045.8 134.9,1052.8 139.1,1059.9 C143.4,1067 147.6,1074 151.9,1081.1 C156.1,1088.2 160.4,1095.3 164.6,1102.3 C168.8,1109.4 173.8,1117.5 177.3,1123.5 C180.9,1129.5 184.4,1135.9 185.8,1138.4" stroke="#d4261a" stroke-width="3.4" fill="none" stroke-dasharray="13,5,3.5,5" clip-path="url(#clipC)"/>
<path d="M84,996.3 C86.1,996.1 92.5,993.4 96.7,995.2 C101,997 105.2,1002.1 109.5,1006.9 C113.7,1011.7 117.9,1017.5 122.2,1023.8 C126.4,1030.2 130.7,1038 134.9,1045.1 C139.1,1052.1 143.4,1059.2 147.6,1066.3 C151.9,1073.3 156.1,1080.4 160.4,1087.5 C164.6,1094.5 168.8,1101.6 173.1,1108.7 C177.3,1115.8 183,1124.9 185.8,1129.9 C188.6,1134.8 189.3,1137 190,1138.4" stroke="#d4261a" stroke-width="3.4" fill="none" stroke-dasharray="13,5,3.5,5" clip-path="url(#clipC)"/>
<path d="M105.2,996.3 C108.4,997.4 118.6,998.7 124.5,1002.9 C130.4,1007 134.5,1014.7 140.6,1021.1 C146.7,1027.5 155.9,1034.8 161,1041.2 C166.1,1047.7 168.1,1053.3 171.2,1059.9 C174.2,1066.5 176.6,1074 179.4,1081.1 C182.2,1088.2 185.4,1096 187.9,1102.3 C190.4,1108.7 192.7,1114.7 194.3,1119.3 C195.9,1123.9 196.9,1128.1 197.5,1129.9" stroke="#d4261a" stroke-width="3.4" fill="none" stroke-dasharray="13,5,3.5,5" clip-path="url(#clipC)"/>
<path d="M168,972.3 C165.8,976.4 158.4,988.1 154.8,996.7 C151.3,1005.3 149.1,1014.9 146.8,1024.1 C144.4,1033.2 142,1045.4 140.6,1051.4 C139.3,1057.4 139.7,1053.4 138.7,1060.1 C137.8,1066.8 136.6,1082.9 134.9,1091.7 C133.2,1100.5 131,1105.1 128.5,1112.9 C126.1,1120.7 121.5,1134.1 120.1,1138.4" stroke="#d4261a" stroke-width="3.4" fill="none" stroke-dasharray="13,5,3.5,5" clip-path="url(#clipC)"/>
<path d="M154,968.7 C156.7,969 163.2,969.1 170.1,970.4 C177,971.7 187.7,977.6 195.3,976.6 C202.9,975.5 209,968 215.7,964.3 C222.5,960.5 229.1,958.1 235.9,954.3 C242.6,950.4 251.6,944.2 256.2,941.1 C260.9,938.1 260.7,935.1 263.9,935.8 C267,936.5 271.5,942 274.9,945.4 C278.2,948.7 282.5,954.2 284,956" stroke="#d4261a" stroke-width="3.4" fill="none" stroke-dasharray="13,5,3.5,5" clip-path="url(#clipC)"/>
<path d="M194.3,1129.9 C195.3,1127.1 197.8,1119.3 200.6,1112.9 C203.5,1106.6 206.2,1101.1 211.3,1091.7 C216.3,1082.3 225,1067.5 230.8,1056.5 C236.6,1045.6 241.8,1033.6 246,1026 C250.3,1018.4 253.4,1014.9 256.2,1010.9 C259,1006.9 259.9,1006 263,1001.8 C266.1,997.6 271.4,989.8 274.9,985.7 C278.4,981.6 282.5,978.6 284,977.2" stroke="#d4261a" stroke-width="3.4" fill="none" stroke-dasharray="13,5,3.5,5" clip-path="url(#clipC)"/>
<path d="M197.5,1117.2 C199.8,1116.5 205.4,1115.4 211.3,1112.9 C217.1,1110.5 225.4,1105 232.5,1102.3 C239.5,1099.7 248.4,1097.9 253.7,1097 C258.9,1096.1 260.3,1096.5 263.9,1097 C267.4,1097.5 271.5,1098.3 274.9,1100.2 C278.2,1102.1 282.5,1107.3 284,1108.7" stroke="#d4261a" stroke-width="3.4" fill="none" stroke-dasharray="13,5,3.5,5" clip-path="url(#clipC)"/>
<path d="M84,1199.6 C86.1,1198.3 93.2,1195.5 96.7,1192.1 C100.3,1188.8 102.7,1184.4 105.2,1179.4 C107.7,1174.5 109.8,1167.8 111.6,1162.5 C113.3,1157.1 114.8,1151.8 115.8,1147.6 C116.9,1143.4 117.6,1138.8 117.9,1137" stroke="#d4261a" stroke-width="3.4" fill="none" stroke-dasharray="13,5,3.5,5" clip-path="url(#clipC)"/>
<path d="M84,1318.3 C86.1,1319.6 92.5,1322 96.7,1325.8 C101,1329.5 105.6,1335.7 109.5,1340.6 C113.3,1345.6 116.7,1351.4 120.1,1355.5 C123.4,1359.5 127.1,1367.8 129.6,1365 C132.1,1362.2 133,1348.2 134.9,1338.5 C136.8,1328.8 139.1,1317.3 141.3,1306.7 C143.4,1296.1 145.2,1285.5 147.6,1274.9 C150.1,1264.3 153.3,1252.6 156.1,1243 C158.9,1233.5 161.8,1225.4 164.6,1217.6 C167.4,1209.8 170.2,1203.8 173.1,1196.4 C175.9,1189 178.7,1180.8 181.6,1173.1 C184.4,1165.3 187.9,1155.7 190,1149.7 C192.2,1143.7 193.6,1139.1 194.3,1137" stroke="#d4261a" stroke-width="3.4" fill="none" stroke-dasharray="13,5,3.5,5" clip-path="url(#clipC)"/>
<path d="M177.3,1134.9 C179.4,1135.9 186.7,1139.8 190,1141.2 C193.4,1142.7 193.9,1142.7 197.5,1143.4 C201,1144.1 206.1,1144.1 211.3,1145.5 C216.4,1146.9 222.6,1148.3 228.2,1151.8 C233.9,1155.4 239.2,1160.7 245.2,1166.7 C251.1,1172.7 258.9,1181.2 263.9,1187.9 C268.8,1194.6 271.5,1200.6 274.9,1207 C278.2,1213.4 282.5,1222.9 284,1226.1" stroke="#d4261a" stroke-width="3.4" fill="none" stroke-dasharray="13,5,3.5,5" clip-path="url(#clipC)"/>
<path d="M196.4,1134.9 C197.5,1138.8 200.3,1150.8 202.8,1158.2 C205.2,1165.6 208.4,1172 211.3,1179.4 C214.1,1186.8 216.9,1194.6 219.7,1202.7 C222.6,1210.9 226.1,1222.2 228.2,1228.2 C230.3,1234.2 231.8,1237 232.5,1238.8" stroke="#d4261a" stroke-width="3.4" fill="none" stroke-dasharray="13,5,3.5,5" clip-path="url(#clipC)"/>
<path d="M230.3,1236.7 C232.8,1233.1 240.6,1221.8 245.2,1215.5 C249.8,1209.1 254.8,1203.1 257.9,1198.5 C261,1193.9 261,1193.6 263.9,1187.9 C266.7,1182.2 271.5,1172 274.9,1164.6 C278.2,1157.1 282.5,1146.9 284,1143.4" stroke="#d4261a" stroke-width="3.4" fill="none" stroke-dasharray="13,5,3.5,5" clip-path="url(#clipC)"/>
<path d="M264,935.8 C266.1,937.4 272.5,941.7 276.7,945.4 C281,949.1 284.5,953.9 289.5,958.1 C294.4,962.3 300.8,966.6 306.4,970.8 C312.1,975.1 318.1,980.4 323.4,983.6 C328.7,986.7 333.3,988.5 338.2,989.9 C343.2,991.3 348.8,991.5 353.1,992 C357.3,992.6 360.1,993.1 363.7,993.1 C367.2,993.1 369.1,992.6 374.3,992 C379.4,991.5 388.3,990.3 394.6,989.9 C401,989.6 406,989.9 412.5,989.9 C419,989.9 426.9,989.9 433.7,989.9 C440.4,989.9 447.9,989.6 453,989.9 C458,990.3 462.2,991.7 464,992" stroke="#d4261a" stroke-width="3.4" fill="none" stroke-dasharray="13,5,3.5,5" clip-path="url(#clipC)"/>
<path d="M264,1006.9 C265.8,1008.6 271.1,1014.3 274.6,1017.5 C278.1,1020.7 281.7,1024 285.2,1026 C288.7,1027.9 292.3,1028.8 295.8,1029.1 C299.3,1029.5 302.5,1029.1 306.4,1028.1 C310.3,1027 314.9,1024.7 319.1,1022.8 C323.4,1020.8 326.9,1018.9 331.9,1016.4 C336.8,1013.9 343.9,1010.2 348.8,1007.9 C353.8,1005.6 357.3,1003.9 361.6,1002.6 C365.8,1001.4 370,1000.7 374.3,1000.5 C378.5,1000.3 383.6,1001.4 387,1001.6 C390.4,1001.8 390.4,1001.6 394.6,1001.6 C398.9,1001.6 406,1001.6 412.5,1001.6 C419,1001.6 426.9,1001.5 433.7,1001.6 C440.4,1001.7 447.9,1001.7 453,1002.2 C458,1002.7 462.2,1004.3 464,1004.8" stroke="#d4261a" stroke-width="3.4" fill="none" stroke-dasharray="13,5,3.5,5" clip-path="url(#clipC)"/>
<path d="M264,1002.6 C266.8,1001 275.7,995.1 281,993.1 C286.3,991 290.5,990.2 295.8,990.3 C301.1,990.5 307.5,992.1 312.8,994.2 C318.1,996.2 322.3,999.8 327.6,1002.6 C332.9,1005.5 339.3,1009.2 344.6,1011.1 C349.9,1013.1 354.5,1014.1 359.4,1014.3 C364.4,1014.5 368.4,1012.4 374.3,1012.2 C380.2,1012 388.3,1013.6 394.6,1013.2 C401,1012.9 406,1010.9 412.5,1010.1 C419,1009.2 426.9,1008.5 433.7,1007.9 C440.4,1007.4 447.9,1006 453,1006.9 C458,1007.8 462.2,1012.2 464,1013.2" stroke="#d4261a" stroke-width="3.4" fill="none" stroke-dasharray="13,5,3.5,5" clip-path="url(#clipC)"/>
<path d="M264,1049.3 C266.1,1050 272.5,1051.4 276.7,1053.5 C281,1055.7 285.2,1059.2 289.5,1062 C293.7,1064.9 297.9,1068.4 302.2,1070.5 C306.4,1072.6 310.7,1074.7 314.9,1074.7 C319.1,1074.7 323.4,1073 327.6,1070.5 C331.9,1068 336.8,1063.4 340.4,1059.9 C343.9,1056.4 346,1053.2 348.8,1049.3 C351.7,1045.4 354.5,1040.8 357.3,1036.6 C360.1,1032.3 363,1027.7 365.8,1023.8 C368.6,1020 371.5,1015.5 374.3,1013.2 C377.1,1010.9 381.4,1010.6 382.8,1010.1" stroke="#d4261a" stroke-width="3.4" fill="none" stroke-dasharray="13,5,3.5,5" clip-path="url(#clipC)"/>
<path d="M289.5,1138.4 C291.2,1134.1 296.5,1121.4 300.1,1112.9 C303.6,1104.4 307.1,1096.3 310.7,1087.5 C314.2,1078.6 317.7,1068.4 321.3,1059.9 C324.8,1051.4 328,1043.3 331.9,1036.6 C335.8,1029.9 340.4,1023.8 344.6,1019.6 C348.8,1015.4 355.2,1012.5 357.3,1011.1" stroke="#d4261a" stroke-width="3.4" fill="none" stroke-dasharray="13,5,3.5,5" clip-path="url(#clipC)"/>
<path d="M310.7,1138.4 C312.1,1134.1 316.3,1121.4 319.1,1112.9 C322,1104.4 324.8,1096 327.6,1087.5 C330.5,1079 333.3,1069.8 336.1,1062 C338.9,1054.2 341.8,1046.8 344.6,1040.8 C347.4,1034.8 349.9,1030.2 353.1,1026 C356.3,1021.7 361.9,1017.1 363.7,1015.4" stroke="#d4261a" stroke-width="3.4" fill="none" stroke-dasharray="13,5,3.5,5" clip-path="url(#clipC)"/>
<path d="M361.6,1138.4 C360.1,1133.4 355.9,1118.2 353.1,1108.7 C350.2,1099.1 347.4,1089.9 344.6,1081.1 C341.8,1072.3 338.9,1063.8 336.1,1055.7 C333.3,1047.5 330.1,1039.4 327.6,1032.3 C325.2,1025.3 323.4,1018.5 321.3,1013.2 C319.1,1007.9 316,1002.6 314.9,1000.5" stroke="#d4261a" stroke-width="3.4" fill="none" stroke-dasharray="13,5,3.5,5" clip-path="url(#clipC)"/>
<path d="M264,1098.1 C266.1,1099.1 273.2,1101.3 276.7,1104.4 C280.3,1107.6 282.7,1112.9 285.2,1117.2 C287.7,1121.4 290.2,1126.4 291.6,1129.9 C293,1133.4 293.3,1137 293.7,1138.4" stroke="#d4261a" stroke-width="3.4" fill="none" stroke-dasharray="13,5,3.5,5" clip-path="url(#clipC)"/>
<path d="M290.5,1134.9 C288.2,1139.5 281.1,1153.6 276.7,1162.5 C272.3,1171.3 266.1,1183.7 264,1187.9" stroke="#d4261a" stroke-width="3.4" fill="none" stroke-dasharray="13,5,3.5,5" clip-path="url(#clipC)"/>
<path d="M264,1187.9 C265.4,1191.4 269.7,1201.9 272.5,1209.1 C275.3,1216.4 278.8,1230 281,1231.4 C283.1,1232.8 283.4,1223.8 285.2,1217.6 C287,1211.4 289.1,1203.1 291.6,1194.3 C294,1185.4 297.1,1174.5 300.1,1164.6 C303.1,1154.7 308,1139.8 309.6,1134.9" stroke="#d4261a" stroke-width="3.4" fill="none" stroke-dasharray="13,5,3.5,5" clip-path="url(#clipC)"/>
<path d="M295.8,1134.9 C297.2,1139.5 301.5,1153.3 304.3,1162.5 C307.1,1171.6 310,1180.1 312.8,1190 C315.6,1199.9 318.4,1210.9 321.3,1221.8 C324.1,1232.8 326.9,1244.1 329.7,1255.8 C332.6,1267.4 335.4,1279.8 338.2,1291.8 C341.1,1303.8 344.2,1316.9 346.7,1327.9 C349.2,1338.8 349.9,1354.7 353.1,1357.6 C356.3,1360.4 361.6,1349.4 365.8,1344.8 C370,1340.3 374.3,1334.2 378.5,1330 C382.8,1325.8 388.6,1321.3 391.3,1319.4 C393.9,1317.5 391.8,1319.8 394.6,1318.3 C397.5,1316.9 403.8,1315.3 408.2,1310.9 C412.6,1306.5 416.7,1298.5 420.9,1291.8 C425.2,1285.1 429.8,1276.1 433.7,1270.6 C437.6,1265.1 441.1,1261.2 444.3,1259 C447.5,1256.7 449.7,1257 453,1256.8 C456.3,1256.7 462.2,1257.7 464,1257.9" stroke="#d4261a" stroke-width="3.4" fill="none" stroke-dasharray="13,5,3.5,5" clip-path="url(#clipC)"/>
<path d="M361.6,1134.9 C363,1138.8 366.9,1150.1 370,1158.2 C373.2,1166.3 377.1,1177.1 380.6,1183.7 C384.2,1190.2 388.9,1195 391.3,1197.4 C393.6,1199.9 391.8,1196.9 394.6,1198.5 C397.5,1200.1 403.8,1202.4 408.2,1207 C412.6,1211.6 417.1,1219.7 420.9,1226.1 C424.8,1232.4 428.4,1239.7 431.6,1245.2 C434.7,1250.6 437.2,1255.2 440,1259 C442.9,1262.7 446.4,1265.8 448.5,1267.4 C450.7,1269 450.4,1269.7 453,1268.5 C455.6,1267.3 462.2,1261.4 464,1260" stroke="#d4261a" stroke-width="3.4" fill="none" stroke-dasharray="13,5,3.5,5" clip-path="url(#clipC)"/>
<path d="M444,989.9 C445.5,989.8 447.6,989.5 452.9,989.5 C458.2,989.5 468.5,989.7 475.8,989.9 C483.2,990.2 490.3,990.8 497,991 C503.7,991.2 510.1,991.3 516.1,991 C522.1,990.6 527.4,989.2 533.1,988.9 C538.7,988.5 544.4,988.7 550,988.9 C555.7,989 561.7,989.1 567,989.5 C572.3,989.8 576.9,989.8 581.9,991 C586.8,992.1 592.1,994.3 596.7,996.3 C601.3,998.2 604.8,999.8 609.4,1002.6 C614,1005.5 620.5,1009.9 624.3,1013.2 C628,1016.6 628.6,1020.3 631.9,1022.8 C635.2,1025.3 642,1027.2 644,1028.1" stroke="#d4261a" stroke-width="3.4" fill="none" stroke-dasharray="13,5,3.5,5" clip-path="url(#clipC)"/>
<path d="M444,1001.6 C445.5,1001.7 449.4,1001.3 452.9,1002.2 C456.4,1003.1 461,1005 465.2,1006.9 C469.4,1008.7 473.7,1012.9 477.9,1013.2 C482.2,1013.6 486.4,1011.1 490.7,1009 C494.9,1006.9 499.1,1003.3 503.4,1000.5 C507.6,997.7 511.9,994.2 516.1,992 C520.4,989.9 524.6,988.9 528.8,987.8 C533.1,986.7 538,986.6 541.6,985.7 C545.1,984.8 547.2,983.6 550,982.5 C552.9,981.4 555.7,980 558.5,979.3 C561.4,978.6 563.1,979.3 567,978.2 C570.9,977.2 576.9,974.5 581.9,972.9 C586.8,971.4 591.4,970.5 596.7,968.7 C602,966.9 607.8,964.6 613.7,962.3 C619.5,960 626.9,956.3 631.9,954.9 C637,953.5 642,954 644,953.9" stroke="#d4261a" stroke-width="3.4" fill="none" stroke-dasharray="13,5,3.5,5" clip-path="url(#clipC)"/>
<path d="M507.6,992 C510.5,992.7 519.6,994.9 524.6,996.3 C529.5,997.7 533.1,999.1 537.3,1000.5 C541.6,1001.9 545.1,1003.5 550,1004.8 C555,1006 561.7,1006.5 567,1007.9 C572.3,1009.4 576.9,1012.2 581.9,1013.2 C586.8,1014.3 592.1,1015 596.7,1014.3 C601.3,1013.6 605.2,1010.9 609.4,1009 C613.7,1007.1 618.4,1004.1 622.2,1002.6 C625.9,1001.2 628.3,1000.5 631.9,1000.5 C635.6,1000.5 642,1002.3 644,1002.6" stroke="#d4261a" stroke-width="3.4" fill="none" stroke-dasharray="13,5,3.5,5" clip-path="url(#clipC)"/>
<path d="M452.9,1006.9 C455,1009 461,1015 465.2,1019.6 C469.4,1024.2 473.7,1029.5 477.9,1034.5 C482.2,1039.4 486.4,1044.7 490.7,1049.3 C494.9,1053.9 499.1,1058.5 503.4,1062 C507.6,1065.6 511.9,1067.3 516.1,1070.5 C520.4,1073.7 525.3,1077.9 528.8,1081.1 C532.4,1084.3 534.5,1085 537.3,1089.6 C540.1,1094.2 543,1102.7 545.8,1108.7 C548.6,1114.7 552.2,1120.7 554.3,1125.7 C556.4,1130.6 557.8,1136.3 558.5,1138.4" stroke="#d4261a" stroke-width="3.4" fill="none" stroke-dasharray="13,5,3.5,5" clip-path="url(#clipC)"/>
<path d="M452.9,1002.6 C455.7,1005.5 463.9,1013.2 469.5,1019.6 C475,1026 481.5,1034.5 486.4,1040.8 C491.4,1047.2 494.9,1052.8 499.1,1057.8 C503.4,1062.7 507.6,1066.6 511.9,1070.5 C516.1,1074.4 521.1,1077.6 524.6,1081.1 C528.1,1084.6 530.6,1086.4 533.1,1091.7 C535.6,1097 537.3,1105.1 539.4,1112.9 C541.6,1120.7 544.7,1134.1 545.8,1138.4" stroke="#d4261a" stroke-width="3.4" fill="none" stroke-dasharray="13,5,3.5,5" clip-path="url(#clipC)"/>
<path d="M497,1138.4 C498.1,1134.1 501.3,1121.4 503.4,1112.9 C505.5,1104.4 507.6,1096 509.7,1087.5 C511.9,1079 513.6,1070.5 516.1,1062 C518.6,1053.5 521.8,1044 524.6,1036.6 C527.4,1029.1 530.2,1023.5 533.1,1017.5 C535.9,1011.5 538.7,1006.2 541.6,1000.5 C544.4,994.9 548.6,986.4 550,983.6" stroke="#d4261a" stroke-width="3.4" fill="none" stroke-dasharray="13,5,3.5,5" clip-path="url(#clipC)"/>
<path d="M575.5,1138.4 C576.9,1134.1 581.2,1120.7 584,1112.9 C586.8,1105.1 588.9,1098.8 592.5,1091.7 C596,1084.6 600.9,1077.6 605.2,1070.5 C609.4,1063.4 613.5,1056.4 617.9,1049.3 C622.4,1042.2 627.6,1033.4 631.9,1028.1 C636.3,1022.8 642,1019.3 644,1017.5" stroke="#d4261a" stroke-width="3.4" fill="none" stroke-dasharray="13,5,3.5,5" clip-path="url(#clipC)"/>
<path d="M588.2,1138.4 C589.6,1135.9 593.2,1128.1 596.7,1123.5 C600.2,1118.9 605.2,1114.3 609.4,1110.8 C613.7,1107.3 618.4,1104.4 622.2,1102.3 C625.9,1100.2 628.3,1098.4 631.9,1098.1 C635.6,1097.7 642,1099.8 644,1100.2" stroke="#d4261a" stroke-width="3.4" fill="none" stroke-dasharray="13,5,3.5,5" clip-path="url(#clipC)"/>
<path d="M444,1257.9 C445.5,1259 449.7,1263.9 452.9,1264.3 C456.1,1264.6 460.3,1264.3 463.1,1260 C465.8,1255.8 467,1246.9 469.5,1238.8 C471.9,1230.7 475.1,1221.1 477.9,1211.2 C480.8,1201.3 483.6,1190 486.4,1179.4 C489.2,1168.8 493,1155 494.9,1147.6 C496.8,1140.2 497.6,1137 498.1,1134.9" stroke="#d4261a" stroke-width="3.4" fill="none" stroke-dasharray="13,5,3.5,5" clip-path="url(#clipC)"/>
<path d="M463.1,1262.1 C465.2,1265.3 471.9,1275.2 475.8,1281.2 C479.7,1287.2 482.9,1292.2 486.4,1298.2 C490,1304.2 493.5,1311.6 497,1317.3 C500.6,1322.9 504.8,1328.1 507.6,1332.1 C510.5,1336.2 511.2,1346.6 514,1341.7 C516.8,1336.7 521.1,1315.3 524.6,1302.4 C528.1,1289.5 531.7,1277 535.2,1264.3 C538.7,1251.5 542.3,1238.4 545.8,1226.1 C549.3,1213.7 553.6,1199.6 556.4,1190 C559.2,1180.5 561,1174.1 562.8,1168.8 C564.5,1163.5 565.6,1162.1 567,1158.2 C568.4,1154.3 570,1149.4 571.3,1145.5 C572.5,1141.6 573.9,1136.6 574.4,1134.9" stroke="#d4261a" stroke-width="3.4" fill="none" stroke-dasharray="13,5,3.5,5" clip-path="url(#clipC)"/>
<path d="M554.3,1134.9 C555.7,1136.6 560.6,1142.7 562.8,1145.5 C564.9,1148.3 564.9,1151.5 567,1151.8 C569.1,1152.2 572.7,1150.4 575.5,1147.6 C578.3,1144.8 582.6,1137 584,1134.9" stroke="#d4261a" stroke-width="3.4" fill="none" stroke-dasharray="13,5,3.5,5" clip-path="url(#clipC)"/>
<path d="M567,1162.5 C568.4,1167 572.7,1180.8 575.5,1190 C578.3,1199.2 581.2,1209.5 584,1217.6 C586.8,1225.7 590.7,1234.6 592.5,1238.8 C594.2,1243 592.5,1244.5 594.6,1243 C596.7,1241.6 601.3,1235.6 605.2,1230.3 C609.1,1225 613.5,1217.6 617.9,1211.2 C622.4,1204.9 627.6,1199.2 631.9,1192.1 C636.3,1185.1 642,1172.7 644,1168.8" stroke="#d4261a" stroke-width="3.4" fill="none" stroke-dasharray="13,5,3.5,5" clip-path="url(#clipC)"/>
<path d="M605.2,1134.9 C606.6,1138.1 610.5,1147.6 613.7,1154 C616.9,1160.3 621.2,1167.4 624.3,1173.1 C627.3,1178.7 629.4,1182.6 631.9,1187.9 C634.4,1193.2 637.1,1199.9 639.1,1204.9 C641.1,1209.8 643.2,1215.5 644,1217.6" stroke="#d4261a" stroke-width="3.4" fill="none" stroke-dasharray="13,5,3.5,5" clip-path="url(#clipC)"/>
<path d="M624,953.9 C625.3,954 628.5,954.6 632.1,954.9 C635.6,955.3 641.2,954.4 645.2,956 C649.2,957.6 652.3,960.2 655.8,964.5 C659.3,968.7 662.9,975.8 666.4,981.4 C670,987.1 673.8,994.2 677,998.4 C680.2,1002.6 682.7,1005.3 685.5,1006.9 C688.3,1008.5 690.8,1008.6 694,1007.9 C697.2,1007.2 700.7,1004.6 704.6,1002.6 C708.5,1000.7 713.1,998 717.3,996.3 C721.6,994.5 725.8,993.3 730,992 C734.3,990.8 738.5,989.6 742.8,988.9 C747,988.1 752,988 755.5,987.8 C759,987.6 762.2,987.8 763.6,987.8" stroke="#d4261a" stroke-width="3.4" fill="none" stroke-dasharray="13,5,3.5,5" clip-path="url(#clipC)"/>
<path d="M624,1000.5 C625.3,1000.3 628.5,999.1 632.1,999.5 C635.6,999.8 639.5,1000 645.2,1002.6 C650.9,1005.3 660.1,1011.5 666.4,1015.4 C672.8,1019.3 678.4,1023.1 683.4,1026 C688.3,1028.8 691.9,1030.4 696.1,1032.3 C700.4,1034.3 705.7,1036.6 708.8,1037.6 C712,1038.7 712.4,1040.3 715.2,1038.7 C718,1037.1 721.9,1031.6 725.8,1028.1 C729.7,1024.6 734.3,1021 738.5,1017.5 C742.8,1013.9 747.1,1009.4 751.3,1006.9 C755.4,1004.4 761.5,1003.3 763.6,1002.6" stroke="#d4261a" stroke-width="3.4" fill="none" stroke-dasharray="13,5,3.5,5" clip-path="url(#clipC)"/>
<path d="M624,1028.1 C625.3,1028.8 628.5,1031.3 632.1,1032.3 C635.6,1033.4 640.9,1034.8 645.2,1034.5 C649.5,1034.1 653.7,1032 657.9,1030.2 C662.2,1028.4 666.4,1026 670.7,1023.8 C674.9,1021.7 679.1,1019.6 683.4,1017.5 C687.6,1015.4 691.9,1013.2 696.1,1011.1 C700.4,1009 704.6,1006.9 708.8,1004.8 C713.1,1002.6 717.3,1000.2 721.6,998.4 C725.8,996.6 730,995.4 734.3,994.2 C738.5,992.9 742.1,991.9 747,991 C751.9,990.1 760.8,989.2 763.6,988.9" stroke="#d4261a" stroke-width="3.4" fill="none" stroke-dasharray="13,5,3.5,5" clip-path="url(#clipC)"/>
<path d="M683.4,1013.2 C684.1,1015.7 685.9,1022.8 687.6,1028.1 C689.4,1033.4 691.9,1039.4 694,1045.1 C696.1,1050.7 698.2,1056 700.4,1062 C702.5,1068 704.6,1074.4 706.7,1081.1 C708.8,1087.8 711,1095.3 713.1,1102.3 C715.2,1109.4 717.7,1117.5 719.4,1123.5 C721.2,1129.5 723,1135.9 723.7,1138.4" stroke="#d4261a" stroke-width="3.4" fill="none" stroke-dasharray="13,5,3.5,5" clip-path="url(#clipC)"/>
<path d="M674.9,1138.4 C676,1134.1 679.1,1120.7 681.3,1112.9 C683.4,1105.1 685.2,1098.8 687.6,1091.7 C690.1,1084.6 693.3,1076.9 696.1,1070.5 C698.9,1064.1 701.8,1058.1 704.6,1053.5 C707.4,1048.9 709.9,1046.1 713.1,1042.9 C716.3,1039.8 720.1,1037.3 723.7,1034.5 C727.2,1031.6 730.4,1029.1 734.3,1026 C738.2,1022.8 742.1,1018.5 747,1015.4 C751.9,1012.2 760.8,1008.3 763.6,1006.9" stroke="#d4261a" stroke-width="3.4" fill="none" stroke-dasharray="13,5,3.5,5" clip-path="url(#clipC)"/>
<path d="M683.4,1138.4 C684.4,1134.1 687.6,1120.7 689.7,1112.9 C691.9,1105.1 694,1097.7 696.1,1091.7 C698.2,1085.7 700.4,1076.9 702.5,1076.9 C704.6,1076.9 706.7,1085.7 708.8,1091.7 C711,1097.7 713.4,1105.1 715.2,1112.9 C717,1120.7 718.7,1134.1 719.4,1138.4" stroke="#d4261a" stroke-width="3.4" fill="none" stroke-dasharray="13,5,3.5,5" clip-path="url(#clipC)"/>
<path d="M624,1098.1 C625.4,1098.4 629.7,1098.4 632.5,1100.2 C635.3,1102 638.1,1105.5 641,1108.7 C643.8,1111.9 646.6,1115.8 649.5,1119.3 C652.3,1122.8 655.8,1126.7 657.9,1129.9 C660.1,1133.1 661.5,1137 662.2,1138.4" stroke="#d4261a" stroke-width="3.4" fill="none" stroke-dasharray="13,5,3.5,5" clip-path="url(#clipC)"/>
<path d="M765,979.3 C768,979 776.5,978.1 783.1,977.6 C789.6,977.2 797.8,976.7 804.3,976.6 C810.7,976.4 818.8,976.6 821.7,976.6" stroke="#d4261a" stroke-width="3.4" fill="none" stroke-dasharray="13,5,3.5,5" clip-path="url(#clipC)"/>
<path d="M765,989.5 C768,989.5 776.5,989.5 783.1,989.5 C789.6,989.5 797.8,989.5 804.3,989.5 C810.7,989.5 818.8,989.5 821.7,989.5" stroke="#d4261a" stroke-width="3.4" fill="none" stroke-dasharray="13,5,3.5,5" clip-path="url(#clipC)"/>
<path d="M765,1006.9 C767,1007.1 771.9,1007.2 776.7,1007.9 C781.5,1008.6 788,1010.1 793.7,1011.1 C799.3,1012.2 806,1013.6 810.6,1014.3 C815.3,1015 819.8,1015.2 821.7,1015.4" stroke="#d4261a" stroke-width="3.4" fill="none" stroke-dasharray="13,5,3.5,5" clip-path="url(#clipC)"/>
<path d="M765,1102.3 C766.3,1103.4 769.1,1105.5 772.5,1108.7 C775.8,1111.9 780.9,1117.9 785.2,1121.4 C789.4,1124.9 794.4,1127.8 797.9,1129.9 C801.4,1132 805,1133.4 806.4,1134.1" stroke="#d4261a" stroke-width="3.4" fill="none" stroke-dasharray="13,5,3.5,5" clip-path="url(#clipC)"/>
<path d="M793.7,1138.4 C795.8,1135.9 801.7,1127.4 806.4,1123.5 C811.1,1119.6 819.1,1116.5 821.7,1115" stroke="#d4261a" stroke-width="3.4" fill="none" stroke-dasharray="13,5,3.5,5" clip-path="url(#clipC)"/>
<path d="M823.4,935.8 C825.5,936.4 831.8,937.6 836.1,939 C840.3,940.4 844.6,942.4 848.8,944.3 C853.1,946.3 857.7,949.1 861.5,950.7 C865.4,952.3 868.8,953.2 872.1,953.9 C875.5,954.6 880.1,954.7 881.7,954.9" stroke="#d4261a" stroke-width="3.4" fill="none" stroke-dasharray="13,5,3.5,5" clip-path="url(#clipC)"/>
<path d="M823.4,1002.6 C825.5,1003.3 831.8,1004.8 836.1,1006.9 C840.3,1009 845.3,1012.9 848.8,1015.4 C852.3,1017.8 854.1,1019.8 857.3,1021.7 C860.5,1023.7 863.8,1026 867.9,1027 C872,1028.1 879.4,1027.9 881.7,1028.1" stroke="#d4261a" stroke-width="3.4" fill="none" stroke-dasharray="13,5,3.5,5" clip-path="url(#clipC)"/>
<path d="M823.4,1049.3 C825.5,1047.9 831.8,1044.3 836.1,1040.8 C840.3,1037.3 845.3,1031.6 848.8,1028.1 C852.3,1024.6 854.1,1023.1 857.3,1019.6 C860.5,1016.1 863.8,1010.4 867.9,1006.9 C872,1003.3 879.4,999.8 881.7,998.4" stroke="#d4261a" stroke-width="3.4" fill="none" stroke-dasharray="13,5,3.5,5" clip-path="url(#clipC)"/>
<path d="M823.4,1098.1 L881.7,1098.1" stroke="#d4261a" stroke-width="3.4" fill="none" stroke-dasharray="13,5,3.5,5" clip-path="url(#clipC)"/>
<path d="M624,1173.1 C625.3,1176.1 629.2,1185.1 632.1,1191.1 C634.9,1197.1 638.1,1203.3 641,1209.1 C643.9,1214.9 646.8,1220.8 649.5,1226.1 C652.1,1231.4 654.9,1241.6 656.9,1240.9 C658.8,1240.2 659.5,1228.6 661.1,1221.8 C662.7,1215.1 664.5,1207.7 666.4,1200.6 C668.4,1193.6 670.7,1186.5 672.8,1179.4 C674.9,1172.3 677.4,1165.6 679.1,1158.2 C680.8,1150.8 682.3,1138.8 683,1134.9" stroke="#d4261a" stroke-width="3.4" fill="none" stroke-dasharray="13,5,3.5,5" clip-path="url(#clipC)"/>
<path d="M624,1207 C625.3,1204.5 629.2,1197.4 632.1,1192.1 C634.9,1186.8 638.1,1181.2 641,1175.2 C643.9,1169.2 646.4,1162.8 649.5,1156.1 C652.5,1149.4 657.4,1138.4 659,1134.9" stroke="#d4261a" stroke-width="3.4" fill="none" stroke-dasharray="13,5,3.5,5" clip-path="url(#clipC)"/>
<path d="M662.2,1134.9 C663.6,1138.8 667.8,1150.1 670.7,1158.2 C673.5,1166.3 676.3,1174.8 679.1,1183.7 C682,1192.5 684.8,1201.3 687.6,1211.2 C690.5,1221.1 693.3,1231.4 696.1,1243 C698.9,1254.7 701.8,1267.8 704.6,1281.2 C707.4,1294.7 710.2,1319.4 713.1,1323.6 C715.9,1327.9 718,1313 721.6,1306.7 C725.1,1300.3 730,1291.8 734.3,1285.5 C738.5,1279.1 743.8,1272.7 747,1268.5 C750.2,1264.3 751.3,1260.7 753.4,1260 C755.5,1259.3 758,1262.8 759.7,1264.3 C761.4,1265.7 762.9,1267.8 763.6,1268.5" stroke="#d4261a" stroke-width="3.4" fill="none" stroke-dasharray="13,5,3.5,5" clip-path="url(#clipC)"/>
<path d="M721.6,1134.9 C723,1139.5 727.2,1153.3 730,1162.5 C732.9,1171.6 735.7,1180.1 738.5,1190 C741.4,1199.9 744.2,1212.3 747,1221.8 C749.8,1231.4 752.7,1239.9 755.5,1247.3 C758.3,1254.7 762.2,1263.2 763.6,1266.4" stroke="#d4261a" stroke-width="3.4" fill="none" stroke-dasharray="13,5,3.5,5" clip-path="url(#clipC)"/>
<path d="M765,1151.8 C767,1151.7 771.9,1150.8 776.7,1150.8 C781.5,1150.8 786.2,1151.5 793.7,1151.8 C801.2,1152.2 817,1152.7 821.7,1152.9" stroke="#d4261a" stroke-width="3.4" fill="none" stroke-dasharray="13,5,3.5,5" clip-path="url(#clipC)"/>
<path d="M765,1160.3 C767,1159.3 771.9,1156.8 776.7,1154 C781.5,1151.1 789.1,1146.5 793.7,1143.4 C798.3,1140.2 802.5,1136.3 804.3,1134.9" stroke="#d4261a" stroke-width="3.4" fill="none" stroke-dasharray="13,5,3.5,5" clip-path="url(#clipC)"/>
<line x1="764" y1="816" x2="764" y2="1457.8" stroke="#2a2a88" stroke-width="2.4"/>
<line x1="822.6" y1="816" x2="822.6" y2="1457.8" stroke="#2a2a88" stroke-width="2.4"/>
<ellipse cx="200" cy="1147.2" rx="30.6" ry="11.4" fill="#f08080" fill-opacity="0.55" stroke="#f07070" stroke-width="1.5"/>
<ellipse cx="198.7" cy="1214.8" rx="40" ry="16.5" fill="#7c84e8" fill-opacity="0.6" stroke="#6470ee" stroke-width="1.5"/>
<path d="M1112.9,758.1 C1115,753.8 1121.4,741.8 1125.6,732.6 C1129.9,723.3 1133.7,711.1 1138.3,702.8 C1142.9,694.5 1148.6,690 1153.2,682.9 C1157.8,675.8 1161.7,669.2 1165.9,660.2 C1170.2,651.2 1174.7,640.4 1178.6,629 C1182.5,617.7 1186.1,604 1189.2,592.1 C1192.4,580.3 1194.7,568.5 1197.7,558.1 C1200.7,547.7 1205.7,534.4 1207.3,529.7" stroke="#6cc4ee" stroke-width="2.8" fill="none" clip-path="url(#clipD)"/>
<path d="M1093.8,612 C1095.9,613.4 1102.6,616.2 1106.5,620.5 C1110.4,624.8 1113.9,634 1117.1,637.5 C1120.3,641.1 1123,642.3 1125.6,641.8 C1128.3,641.3 1130.6,639.7 1133,634.7 C1135.5,629.7 1137.8,621.4 1140.5,612 C1143.1,602.5 1146.3,590.7 1148.9,577.9 C1151.6,565.2 1154.1,549.8 1156.4,535.4 C1158.7,521 1161.7,498.7 1162.7,491.4" stroke="#6cc4ee" stroke-width="2.8" fill="none" clip-path="url(#clipD)"/>
<path d="M1093.8,667.3 C1096.6,665.7 1105.8,662.8 1110.8,657.4 C1115.7,651.9 1120,643.2 1123.5,634.7 C1127,626.2 1129.1,618.1 1132,606.3 C1134.8,594.5 1137.8,577.9 1140.5,563.8 C1143.1,549.6 1145.8,533.3 1147.9,521.2 C1150,509.1 1152.3,496.4 1153.2,491.4" stroke="#6cc4ee" stroke-width="2.8" fill="none" clip-path="url(#clipD)"/>
<path d="M1207.3,529.7 C1208.9,529.8 1213.8,531.2 1216.8,530.3 C1219.8,529.3 1222.5,527.4 1225.3,524 C1228.1,520.6 1231.1,515.3 1233.8,509.9 C1236.4,504.4 1240,494.5 1241.2,491.4" stroke="#6cc4ee" stroke-width="2.8" fill="none" clip-path="url(#clipD)"/>
<path d="M1225.3,491.4 C1227.4,495.4 1233.8,507.7 1238,515.5 C1242.3,523.3 1246.5,531.1 1250.7,538.2 C1255,545.3 1259.7,553.3 1263.5,558.1 C1267.3,562.9 1270.1,566.5 1273.7,567.2 C1277.2,567.9 1281.3,564.6 1284.7,562.3 C1288,560.1 1292.3,555.2 1293.8,553.8" stroke="#6cc4ee" stroke-width="2.8" fill="none" clip-path="url(#clipD)"/>
<path d="M1242.3,491.4 C1243.7,495.9 1247.6,510.1 1250.7,518.4 C1253.9,526.6 1257.5,532.9 1261.4,541.1 C1265.2,549.2 1271.6,562.8 1273.7,567.2" stroke="#6cc4ee" stroke-width="2.8" fill="none" clip-path="url(#clipD)"/>
<path d="M1273.8,566.6 C1275.6,566.1 1280.2,567.5 1284.4,563.8 C1288.6,560 1295,551 1299.3,543.9 C1303.5,536.8 1306.7,528.3 1309.9,521.2 C1313,514.1 1316.2,506.3 1318.3,501.3 C1320.5,496.4 1321.9,493.1 1322.6,491.4" stroke="#6cc4ee" stroke-width="2.8" fill="none" clip-path="url(#clipD)"/>
<path d="M1324.7,491.4 C1326.1,498.7 1330,521.9 1333.2,535.4 C1336.4,548.9 1340.3,561.4 1343.8,572.3 C1347.3,583.1 1351.2,592.1 1354.4,600.6 C1357.6,609.2 1360,617.2 1362.9,623.3 C1365.7,629.5 1368.9,634.9 1371.4,637.5 C1373.8,640.1 1375.2,640.4 1377.7,638.9 C1380.2,637.5 1383,633 1386.2,629 C1389.4,625 1393.8,618.4 1396.8,614.8 C1399.9,611.3 1403.2,608.9 1404.4,607.7" stroke="#6cc4ee" stroke-width="2.8" fill="none" clip-path="url(#clipD)"/>
<path d="M1339.5,491.4 C1341.3,498.7 1346.6,521 1350.2,535.4 C1353.7,549.8 1357.6,565.2 1360.8,577.9 C1363.9,590.7 1366.4,602.5 1369.2,612 C1372.1,621.4 1374.9,628.1 1377.7,634.7 C1380.6,641.3 1383,647 1386.2,651.7 C1389.4,656.4 1393.8,660.6 1396.8,663.1 C1399.9,665.5 1402,664.6 1404.4,666.5 C1406.9,668.4 1408.7,670.2 1411.7,674.4 C1414.6,678.6 1418.4,685.8 1422.3,691.4 C1426.2,697.1 1430.7,703.7 1435,708.5 C1439.2,713.2 1443.1,717.2 1447.7,719.8 C1452.3,722.4 1458.4,722.6 1462.8,724.1 C1467.1,725.5 1472,727.6 1473.8,728.3" stroke="#6cc4ee" stroke-width="2.8" fill="none" clip-path="url(#clipD)"/>
<path d="M1273.8,742.5 C1276.6,737.8 1285.5,723.1 1290.8,714.1 C1296.1,705.1 1301,694.7 1305.6,688.6 C1310.2,682.4 1313.7,678.2 1318.3,677.2 C1322.9,676.3 1328.2,679.6 1333.2,682.9 C1338.1,686.2 1343.1,691 1348,697.1 C1353,703.3 1358.6,712.2 1362.9,719.8 C1367.1,727.4 1369.9,735.9 1373.5,742.5 C1377,749.1 1380.9,756.4 1384.1,759.5 C1387.3,762.6 1391.2,760.7 1392.6,760.9" stroke="#6cc4ee" stroke-width="2.8" fill="none" clip-path="url(#clipD)"/>
<path d="M1093.8,592.1 C1095.9,591.4 1102.3,591.2 1106.5,587.9 C1110.8,584.6 1115,579.1 1119.3,572.3 C1123.5,565.4 1128.1,555.2 1132,546.7 C1135.9,538.2 1139.3,530.4 1142.6,521.2 C1145.8,512 1150,496.4 1151.5,491.4" stroke="#6cc4ee" stroke-width="2.8" fill="none" clip-path="url(#clipD)"/>
<path d="M1093.8,609.2 C1095.9,608.9 1102.3,607.3 1106.5,607.7 C1110.8,608.2 1115,610.1 1119.3,612 C1123.5,613.9 1127.4,617.2 1132,619.1 C1136.6,621 1142.6,623.3 1146.8,623.3 C1151.1,623.3 1153.9,621.9 1157.4,619.1 C1161,616.2 1163.8,613.2 1168,606.3 C1172.3,599.5 1178.6,587.4 1182.9,577.9 C1187.1,568.5 1190.3,556.9 1193.5,549.6 C1196.7,542.2 1199.7,537.5 1202,534 C1204.3,530.4 1206.4,529.2 1207.3,528.3" stroke="#6cc4ee" stroke-width="2.8" fill="none" clip-path="url(#clipD)"/>
<path d="M1093.8,756.7 C1097,756.9 1107.6,762.1 1112.9,758.1 C1118.2,754.1 1121.4,741.8 1125.6,732.6 C1129.9,723.3 1136.2,707.7 1138.3,702.8" stroke="#6cc4ee" stroke-width="2.8" fill="none" clip-path="url(#clipD)"/>
<path d="M1207.3,528.3 C1208.9,531.8 1213.8,539.9 1216.8,549.6 C1219.8,559.3 1222.5,574.6 1225.3,586.5 C1228.1,598.3 1231,609.6 1233.8,620.5 C1236.6,631.4 1239.1,640.8 1242.3,651.7 C1245.4,662.6 1249.3,674.4 1252.9,685.8 C1256.4,697.1 1260,710.8 1263.5,719.8 C1266.9,728.8 1270.1,739.7 1273.7,739.7 C1277.2,739.7 1281.3,726.9 1284.7,719.8 C1288,712.7 1292.3,700.9 1293.8,697.1" stroke="#6cc4ee" stroke-width="2.8" fill="none" clip-path="url(#clipD)"/>
<path d="M1112.9,758.1 C1116.8,759.5 1128.8,764.7 1136.2,766.6 C1143.6,768.5 1150.4,769.2 1157.4,769.5 C1164.5,769.7 1170.3,768.5 1178.6,768 C1186.9,767.6 1200.2,767.8 1207.3,766.6 C1214.3,765.4 1215.2,764 1221.1,760.9 C1226.9,757.9 1235.2,751.2 1242.3,748.2 C1249.3,745.1 1258.2,743.7 1263.5,742.5 C1268.7,741.3 1270.1,740.4 1273.7,741.1 C1277.2,741.8 1281.3,745.3 1284.7,746.8 C1288,748.2 1292.3,749.1 1293.8,749.6" stroke="#6cc4ee" stroke-width="2.8" fill="none" clip-path="url(#clipD)"/>
<path d="M1163.8,804.9 C1166.3,799.2 1173.3,781.3 1178.6,770.9 C1183.9,760.5 1190.8,749.1 1195.6,742.5 C1200.4,735.9 1203,732.8 1207.3,731.1 C1211.5,729.5 1215.2,731.1 1221.1,732.6 C1226.9,734 1235.2,736.8 1242.3,739.7 C1249.3,742.5 1258.2,747 1263.5,749.6 C1268.7,752.2 1270.1,754.8 1273.7,755.3 C1277.2,755.7 1281.3,753.4 1284.7,752.4 C1288,751.5 1292.3,750.1 1293.8,749.6" stroke="#6cc4ee" stroke-width="2.8" fill="none" clip-path="url(#clipD)"/>
<path d="M1093.8,789.3 C1095.6,788.1 1101,784.6 1104.4,782.2 C1107.8,779.9 1110.8,774.7 1113.9,775.1 C1117.1,775.6 1119.8,778.7 1123.5,785.1 C1127.2,791.4 1132,804.4 1136.2,813.4 C1140.5,822.4 1144.3,831.4 1148.9,839 C1153.5,846.5 1158.8,853.1 1163.8,858.8 C1168.7,864.5 1173.3,868.7 1178.6,873 C1183.9,877.3 1190.8,881.8 1195.6,884.4 C1200.4,887 1203,886.7 1207.3,888.6 C1211.5,890.5 1215.9,893.3 1221.1,895.7 C1226.2,898.1 1232.7,901.6 1238,902.8 C1243.3,904 1246.9,903 1252.9,902.8 C1258.8,902.6 1266.8,901.4 1273.7,901.4 C1280.5,901.4 1290.4,902.6 1293.8,902.8" stroke="#6cc4ee" stroke-width="2.8" fill="none" clip-path="url(#clipD)"/>
<path d="M1128.7,800.5 C1129.9,802.9 1133.5,809.2 1136.1,814.7 C1138.7,820.1 1141.7,827.4 1144.6,833 C1147.4,838.7 1150,843.7 1153,848.6 C1156,853.6 1159.2,858.5 1162.5,862.8 C1165.9,867 1169.6,870.8 1173.1,874.1 C1176.6,877.4 1180.2,880.2 1183.7,882.6 C1187.2,884.9 1190.3,886.9 1194.3,888.2 C1198.2,889.5 1203.8,889.6 1207.3,890.3 C1210.8,891 1212.3,890.9 1215.4,892.5 C1218.5,894 1222.5,897.7 1226,899.5 C1229.5,901.4 1232.2,903.1 1236.6,903.8 C1241,904.5 1248,904.1 1252.4,903.8 C1256.9,903.5 1259.6,902.4 1263,902.1 C1266.5,901.7 1269.8,901.5 1273.3,901.7 C1276.8,901.8 1280.8,902.4 1284.2,903.1 C1287.6,903.8 1292.2,905.4 1293.8,905.9" stroke="#6cc4ee" stroke-width="2.8" fill="none" clip-path="url(#clipD)"/>
<path d="M1093.8,876.2 C1097.3,876.1 1108.8,876 1115,875.5 C1121.1,875 1126.9,874.5 1130.8,873.4 C1134.7,872.2 1135.6,871.1 1138.2,868.4 C1140.9,865.7 1143.9,861.6 1146.7,857.1 C1149.5,852.6 1152.5,847.4 1155.1,841.5 C1157.8,835.6 1160.1,828.6 1162.5,821.7 C1165,814.9 1168.7,804 1170,800.5" stroke="#6cc4ee" stroke-width="2.8" fill="none" clip-path="url(#clipD)"/>
<path d="M1093.8,876.9 C1097.3,877 1109.7,877.3 1115,877.6 C1120.2,878 1120.2,878.8 1125.5,879 C1130.8,879.3 1137.9,879 1146.7,879 C1155.5,879 1168.3,879.1 1178.4,879 C1188.5,878.9 1201.1,878.9 1207.3,878.3 C1213.5,877.7 1212.3,877.6 1215.4,875.5 C1218.5,873.4 1222.5,868.9 1226,865.6 C1229.5,862.3 1233.1,859.2 1236.6,855.7 C1240.1,852.1 1243.6,847.7 1247.2,844.4 C1250.7,841.1 1254.7,837.2 1257.7,835.9 C1260.7,834.6 1262.5,835.4 1265.1,836.6 C1267.7,837.8 1270.8,840.7 1273.3,842.9 C1275.7,845.2 1277.8,846.7 1279.9,850 C1282.1,853.3 1284,858.2 1286.3,862.8 C1288.6,867.4 1292.5,875.1 1293.8,877.6" stroke="#6cc4ee" stroke-width="2.8" fill="none" clip-path="url(#clipD)"/>
<path d="M1093.8,891 C1095.6,891.3 1100.9,891.3 1104.4,892.5 C1107.9,893.6 1111.4,895.8 1115,898.1 C1118.5,900.5 1122,903.5 1125.5,906.6 C1129.1,909.7 1133.5,913.7 1136.1,916.5 C1138.7,919.3 1139.6,920.5 1141.4,923.6 C1143.2,926.7 1144,930 1146.7,934.9 C1149.3,939.9 1153.7,946.9 1157.3,953.3 C1160.8,959.7 1164.3,966.7 1167.8,973.1 C1171.4,979.5 1175.2,985.4 1178.4,991.5 C1181.6,997.6 1185.1,1005.9 1186.9,1009.9 C1188.6,1013.9 1188.6,1014.6 1189,1015.6" stroke="#6cc4ee" stroke-width="2.8" fill="none" clip-path="url(#clipD)"/>
<path d="M1093.8,908.7 C1095.6,908.4 1100.9,907.7 1104.4,906.6 C1107.9,905.6 1111.4,904.5 1115,902.4 C1118.5,900.2 1122,897.2 1125.5,893.9 C1129.1,890.6 1132.6,886.6 1136.1,882.6 C1139.6,878.6 1143.2,873.4 1146.7,869.8 C1150.2,866.3 1153.7,863.3 1157.3,861.3 C1160.8,859.3 1164.3,858 1167.8,857.8 C1171.4,857.6 1174.9,858.7 1178.4,859.9 C1181.9,861.1 1185.5,863.5 1189,864.9 C1192.5,866.3 1196.5,867.7 1199.6,868.4 C1202.6,869.1 1204.6,869.4 1207.3,869.1 C1209.9,868.9 1212.3,869 1215.4,867 C1218.5,865 1222.5,860.4 1226,857.1 C1229.5,853.8 1233.1,850.5 1236.6,847.2 C1240.1,843.9 1243.6,840.8 1247.2,837.3 C1250.7,833.8 1254.2,829.7 1257.7,826 C1261.3,822.2 1265.7,817 1268.3,814.7 C1270.9,812.3 1271.5,812.1 1273.3,811.8 C1275,811.6 1276.2,811.3 1278.9,813.2 C1281.6,815.1 1287,820.5 1289.5,823.1 C1291.9,825.7 1293.1,827.9 1293.8,828.8" stroke="#6cc4ee" stroke-width="2.8" fill="none" clip-path="url(#clipD)"/>
<path d="M1134,927.8 C1134.7,926.9 1136.5,925.5 1138.2,922.2 C1140,918.9 1142.3,911.8 1144.6,908 C1146.9,904.3 1149.5,901.3 1152,899.5 C1154.4,897.8 1156.7,897.4 1159.4,897.4 C1162,897.4 1164.7,898 1167.8,899.5 C1171,901.1 1174.9,904 1178.4,906.6 C1181.9,909.2 1185.5,911.1 1189,915.1 C1192.5,919.1 1196.5,926.7 1199.6,930.7 C1202.6,934.7 1204.6,938 1207.3,939.2 C1209.9,940.3 1212.3,940.3 1215.4,937.7 C1218.5,935.1 1222.5,928.8 1226,923.6 C1229.5,918.4 1233.1,912.7 1236.6,906.6 C1240.1,900.5 1243.6,893.4 1247.2,886.8 C1250.7,880.2 1254.2,872.9 1257.7,867 C1261.3,861.1 1265.7,855.4 1268.3,851.4 C1270.9,847.4 1271,845.3 1273.3,842.9 C1275.6,840.6 1278.6,838 1282.1,837.3 C1285.5,836.6 1291.8,838.5 1293.8,838.7" stroke="#6cc4ee" stroke-width="2.8" fill="none" clip-path="url(#clipD)"/>
<path d="M1115,902.4 C1116.7,903.7 1121.7,906.5 1125.5,910.1 C1129.4,913.8 1133.8,918 1138.2,924.3 C1142.6,930.5 1147,938.8 1152,947.6 C1156.9,956.5 1163.1,968.6 1167.8,977.4 C1172.6,986.1 1177,994.1 1180.5,1000 C1184.1,1005.9 1187.6,1010.6 1189,1012.7" stroke="#6cc4ee" stroke-width="2.8" fill="none" clip-path="url(#clipD)"/>
<path d="M1186.9,1015.6 C1188.1,1011.5 1192.2,998.6 1194.3,991.5 C1196.4,984.4 1197.4,978.3 1199.6,973.1 C1201.7,967.9 1204.6,962 1207.3,960.4 C1209.9,958.7 1212.3,960.8 1215.4,963.2 C1218.5,965.6 1221.6,970.3 1226,974.5 C1230.4,978.8 1236.6,985.3 1241.9,988.7 C1247.2,992.1 1252.5,993.7 1257.7,995 C1263,996.3 1268.9,996.1 1273.3,996.5 C1277.7,996.8 1280.8,996.6 1284.2,997.2 C1287.6,997.7 1292.2,999.5 1293.8,1000" stroke="#6cc4ee" stroke-width="2.8" fill="none" clip-path="url(#clipD)"/>
<path d="M1093.8,1021.5 C1095.9,1020.1 1102.3,1018.7 1106.5,1013 C1110.8,1007.3 1115.4,996.9 1119.3,987.5 C1123.1,978 1126.7,967.2 1129.9,956.3 C1133,945.4 1136.9,927.9 1138.3,922.2" stroke="#6cc4ee" stroke-width="2.8" fill="none" clip-path="url(#clipD)"/>
<path d="M1157.4,956.3 C1160.3,961 1169.8,976.6 1174.4,984.6 C1179,992.7 1181.5,1000 1185,1004.5 C1188.5,1009 1191.9,1009.9 1195.6,1011.6 C1199.3,1013.3 1203,1013.3 1207.3,1014.4 C1211.5,1015.6 1215.2,1015.1 1221.1,1018.7 C1226.9,1022.2 1235.9,1029.1 1242.3,1035.7 C1248.6,1042.3 1254,1050.1 1259.2,1058.4 C1264.5,1066.7 1269.4,1076.9 1273.7,1085.4 C1277.9,1093.9 1281.3,1100.7 1284.7,1109.5 C1288,1118.2 1292.3,1133.1 1293.8,1137.9" stroke="#6cc4ee" stroke-width="2.8" fill="none" clip-path="url(#clipD)"/>
<path d="M1165.9,973.3 C1168,977.6 1174.7,990.8 1178.6,998.8 C1182.5,1006.9 1185.7,1015.6 1189.2,1021.5 C1192.8,1027.4 1196.8,1031.7 1199.8,1034.3 C1202.8,1036.9 1204.4,1035.5 1207.3,1037.1 C1210.1,1038.8 1213.8,1040.2 1216.8,1044.2 C1219.8,1048.2 1221.8,1053.2 1225.3,1061.3 C1228.8,1069.3 1234.1,1081.6 1238,1092.5 C1241.9,1103.3 1245.1,1114.7 1248.6,1126.5 C1252.2,1138.3 1255.7,1150.1 1259.2,1163.4 C1262.8,1176.6 1267.4,1196 1269.8,1205.9 C1272.2,1215.9 1271.9,1215.9 1273.7,1223 C1275.4,1230.1 1277.1,1237.6 1280.4,1248.5 C1283.8,1259.4 1291.6,1281.6 1293.8,1288.2" stroke="#6cc4ee" stroke-width="2.8" fill="none" clip-path="url(#clipD)"/>
<path d="M1119.3,1351.5 C1122.1,1336.7 1131.3,1291.7 1136.2,1262.7 C1141.2,1233.7 1144.7,1203.6 1148.9,1177.6 C1153.2,1151.6 1157.4,1127.9 1161.7,1106.6 C1165.9,1085.4 1170.5,1065 1174.4,1049.9 C1178.3,1034.8 1181.5,1026.7 1185,1015.9 C1188.5,1005 1191.9,993.9 1195.6,984.6 C1199.3,975.4 1203,963.8 1207.3,960.5 C1211.5,957.2 1215.2,960.8 1221.1,964.8 C1226.9,968.8 1235.2,979.4 1242.3,984.6 C1249.3,989.9 1258.2,994 1263.5,996 C1268.7,998 1268.6,996.1 1273.7,996.6 C1278.7,997 1290.4,998.5 1293.8,998.8" stroke="#6cc4ee" stroke-width="2.8" fill="none" clip-path="url(#clipD)"/>
<path d="M1132,1353.5 C1134.8,1343.1 1143.3,1310.9 1148.9,1291.1 C1154.6,1271.2 1160.3,1251.8 1165.9,1234.3 C1171.6,1216.8 1177.9,1199.3 1182.9,1186.1 C1187.8,1172.8 1191.5,1162.7 1195.6,1154.9 C1199.7,1147.1 1203,1141.2 1207.3,1139.3 C1211.5,1137.4 1215.9,1140 1221.1,1143.5 C1226.2,1147.1 1232.4,1153.9 1238,1160.5 C1243.7,1167.2 1250,1175.7 1255,1183.2 C1259.9,1190.8 1264.6,1199.3 1267.7,1205.9 C1270.8,1212.6 1271.5,1216.8 1273.7,1223 C1275.8,1229.1 1277.1,1233.8 1280.4,1242.8 C1283.8,1251.8 1291.6,1271.2 1293.8,1276.9" stroke="#6cc4ee" stroke-width="2.8" fill="none" clip-path="url(#clipD)"/>
<path d="M1121.4,1353.5 C1123.8,1347.8 1130.9,1333.1 1136.2,1319.4 C1141.5,1305.7 1146.8,1286.3 1153.2,1271.2 C1159.5,1256.1 1168.4,1240 1174.4,1228.6 C1180.4,1217.3 1183.8,1210 1189.2,1203.1 C1194.7,1196.2 1202.7,1190.6 1207.3,1187.5 C1211.9,1184.4 1212.7,1187.3 1216.8,1184.7 C1220.9,1182.1 1226.4,1178.3 1231.7,1171.9 C1237,1165.5 1243.3,1155.8 1248.6,1146.4 C1253.9,1136.9 1259.3,1124.6 1263.5,1115.2 C1267.6,1105.7 1270.1,1099.6 1273.7,1089.6 C1277.2,1079.7 1281.3,1065 1284.7,1055.6 C1288,1046.1 1292.3,1036.7 1293.8,1032.9" stroke="#6cc4ee" stroke-width="2.8" fill="none" clip-path="url(#clipD)"/>
<path d="M1093.8,1214.5 C1095.9,1215.9 1102.3,1218.2 1106.5,1223 C1110.8,1227.7 1115,1234.8 1119.3,1242.8 C1123.5,1250.9 1127.7,1262.7 1132,1271.2 C1136.2,1279.7 1140.5,1289.2 1144.7,1293.9 C1148.9,1298.6 1153.2,1299.6 1157.4,1299.6 C1161.7,1299.6 1165.6,1297.2 1170.2,1293.9 C1174.7,1290.6 1180,1282.8 1185,1279.7 C1189.9,1276.6 1196.1,1276.2 1199.8,1275.5 C1203.6,1274.7 1203.7,1275 1207.3,1275.5 C1210.8,1275.9 1215.2,1276.6 1221.1,1278.3 C1226.9,1279.9 1235.5,1283.3 1242.3,1285.4 C1249,1287.5 1256.1,1290.1 1261.4,1291.1 C1266.6,1292 1269.8,1291.1 1273.7,1291.1 C1277.5,1291.1 1281.3,1291.1 1284.7,1291.1 C1288,1291.1 1292.3,1291.1 1293.8,1291.1" stroke="#6cc4ee" stroke-width="2.8" fill="none" clip-path="url(#clipD)"/>
<path d="M1093.8,1347.8 C1095.9,1347.6 1102.3,1347.8 1106.5,1346.4 C1110.8,1345 1114.3,1343.8 1119.3,1339.3 C1124.2,1334.8 1129.9,1327.9 1136.2,1319.4 C1142.6,1310.9 1150.4,1297.7 1157.4,1288.2 C1164.5,1278.8 1172.3,1269.8 1178.6,1262.7 C1185,1255.6 1190.8,1249 1195.6,1245.7 C1200.4,1242.4 1202.3,1243.1 1207.3,1242.8 C1212.2,1242.6 1218.8,1242.8 1225.3,1244.2 C1231.8,1245.7 1240.1,1248.3 1246.5,1251.3 C1252.9,1254.4 1258.9,1259.6 1263.5,1262.7 C1268,1265.8 1270.1,1266.9 1273.7,1269.8 C1277.2,1272.6 1281.3,1276.2 1284.7,1279.7 C1288,1283.3 1292.3,1289.2 1293.8,1291.1" stroke="#6cc4ee" stroke-width="2.8" fill="none" clip-path="url(#clipD)"/>
<path d="M1233.8,1353.5 C1235.9,1348.7 1241.9,1335.5 1246.5,1325.1 C1251.1,1314.7 1256.8,1300.5 1261.4,1291.1 C1265.9,1281.6 1270.5,1273.3 1273.7,1268.4 C1276.8,1263.4 1277.1,1262.9 1280.4,1261.3 C1283.8,1259.6 1291.6,1258.9 1293.8,1258.4" stroke="#6cc4ee" stroke-width="2.8" fill="none" clip-path="url(#clipD)"/>
<path d="M1252.9,1353.5 C1254.3,1346.9 1258.9,1326.5 1261.4,1313.8 C1263.8,1301 1265.7,1290.6 1267.7,1276.9 C1269.8,1263.2 1271.9,1242.8 1273.7,1231.5 C1275.4,1220.1 1277.5,1212.6 1278.3,1208.8" stroke="#6cc4ee" stroke-width="2.8" fill="none" clip-path="url(#clipD)"/>
<path d="M1093.8,1346.4 C1095.9,1346.9 1103,1348 1106.5,1349.2 C1110.1,1350.4 1113.6,1352.8 1115,1353.5" stroke="#6cc4ee" stroke-width="2.8" fill="none" clip-path="url(#clipD)"/>
<path d="M1316.2,491.4 C1317.6,499.7 1321.9,527.1 1324.7,541.1 C1327.5,555 1330,564.7 1333.2,575.1 C1336.4,585.5 1340.3,596.6 1343.8,603.5 C1347.3,610.3 1350.9,613.9 1354.4,616.2 C1357.9,618.6 1360,618.8 1365,617.7 C1369.9,616.5 1377.5,611 1384.1,609.2 C1390.7,607.3 1398.1,609.2 1404.4,606.3 C1410.8,603.5 1416.5,598.5 1422.3,592.1 C1428.1,585.7 1433.6,574.4 1439.2,568 C1444.9,561.6 1452.3,556.3 1456.2,553.8 C1460.1,551.4 1459.8,554 1462.8,553.3 C1465.7,552.6 1472,550.2 1473.8,549.6" stroke="#6cc4ee" stroke-width="2.8" fill="none" clip-path="url(#clipD)"/>
<path d="M1352.3,491.4 C1354,496.4 1359,511.5 1362.9,521.2 C1366.8,530.9 1371.7,540.6 1375.6,549.6 C1379.5,558.6 1382.7,568.5 1386.2,575.1 C1389.7,581.7 1393.8,586.5 1396.8,589.3 C1399.9,592.1 1400.2,591.7 1404.4,592.1 C1408.7,592.6 1415.8,592.1 1422.3,592.1 C1428.8,592.1 1436.7,592.1 1443.5,592.1 C1450.2,592.1 1457.7,592.1 1462.8,592.1 C1467.8,592.1 1472,592.1 1473.8,592.1" stroke="#6cc4ee" stroke-width="2.8" fill="none" clip-path="url(#clipD)"/>
<path d="M1273.8,749.6 C1275.9,750.1 1282.3,752.4 1286.5,752.4 C1290.8,752.4 1294.3,751.2 1299.3,749.6 C1304.2,747.9 1311.3,744.2 1316.2,742.5 C1321.2,740.7 1324.3,739.1 1328.9,739.1 C1333.5,739.1 1338.8,740.5 1343.8,742.5 C1348.7,744.5 1354,748.2 1358.6,751 C1363.2,753.8 1367.1,757.9 1371.4,759.5 C1375.6,761.2 1378.6,761.2 1384.1,760.9 C1389.6,760.7 1398.1,761.2 1404.4,758.1 C1410.8,755 1416.1,749.8 1422.3,742.5 C1428.4,735.2 1436,721 1441.4,714.1 C1446.7,707.3 1450.5,704 1454.1,701.4 C1457.6,698.8 1459.5,704 1462.8,698.5 C1466.1,693.1 1472,673.7 1473.8,668.7" stroke="#6cc4ee" stroke-width="2.8" fill="none" clip-path="url(#clipD)"/>
<path d="M1273.8,742.5 C1277.3,744.4 1289.4,750.1 1295,753.8 C1300.7,757.6 1303.5,760 1307.7,765.2 C1312,770.4 1316.2,778 1320.5,785.1 C1324.7,792.1 1328.9,799.7 1333.2,807.8 C1337.4,815.8 1341.7,825.2 1345.9,833.3 C1350.2,841.3 1354.4,850.3 1358.6,856 C1362.9,861.7 1367.1,864.5 1371.4,867.3 C1375.6,870.2 1378.6,871.8 1384.1,873 C1389.6,874.2 1398.1,874.2 1404.4,874.4 C1410.8,874.7 1415.8,874.4 1422.3,874.4 C1428.8,874.4 1436.7,874.4 1443.5,874.4 C1450.2,874.4 1457.7,874.4 1462.8,874.4 C1467.8,874.4 1472,874.4 1473.8,874.4" stroke="#6cc4ee" stroke-width="2.8" fill="none" clip-path="url(#clipD)"/>
<path d="M1273.8,812 C1275.9,813 1282.3,815.1 1286.5,817.7 C1290.8,820.3 1295,824.1 1299.3,827.6 C1303.5,831.2 1307.7,834.7 1312,839 C1316.2,843.2 1320.5,849.1 1324.7,853.1 C1328.9,857.2 1333.9,862.1 1337.4,863.1 C1341,864 1343.1,862.8 1345.9,858.8 C1348.7,854.8 1351.6,846.1 1354.4,839 C1357.2,831.9 1359.7,824.3 1362.9,816.3 C1366.1,808.2 1370.1,797.6 1373.5,790.7 C1376.8,783.9 1379.8,777 1383,775.1 C1386.2,773.2 1389,777 1392.6,779.4 C1396.1,781.7 1399.5,788.8 1404.4,789.3 C1409.4,789.8 1415.8,785.5 1422.3,782.2 C1428.8,778.9 1436.7,773 1443.5,769.5 C1450.2,765.9 1457.7,761.6 1462.8,760.9 C1467.8,760.2 1472,764.5 1473.8,765.2" stroke="#6cc4ee" stroke-width="2.8" fill="none" clip-path="url(#clipD)"/>
<path d="M1462.7,698.8 C1464.4,695.2 1469.4,685.1 1472.9,677.2 C1476.4,669.4 1480.3,662.6 1483.5,651.7 C1486.7,640.8 1489.1,624.3 1492,612 C1494.8,599.7 1497.6,588.3 1500.5,577.9 C1503.3,567.5 1506.1,556.9 1508.9,549.6 C1511.8,542.2 1514.6,534.9 1517.4,534 C1520.3,533 1523.1,538.5 1525.9,543.9 C1528.7,549.3 1531.6,558.1 1534.4,566.6 C1537.2,575.1 1540,585.5 1542.9,595 C1545.7,604.4 1548.5,613.9 1551.4,623.3 C1554.2,632.8 1557,644.6 1559.8,651.7 C1562.7,658.8 1565.5,662.6 1568.3,665.9 C1571.2,669.2 1574,671.1 1576.8,671.6 C1579.6,672 1582.5,671.6 1585.3,668.7 C1588.1,665.9 1591,660.2 1593.8,654.5 C1596.6,648.9 1599.1,641.8 1602.3,634.7 C1605.4,627.6 1609.3,620.5 1612.9,612 C1616.4,603.5 1619.9,593.1 1623.5,583.6 C1627,574.2 1631,562.6 1634.1,555.2 C1637.1,547.9 1639.2,541.1 1641.7,539.6 C1644.2,538.2 1646.9,544.1 1648.9,546.7 C1650.9,549.3 1653,553.8 1653.8,555.2" stroke="#6cc4ee" stroke-width="2.8" fill="none" clip-path="url(#clipD)"/>
<path d="M1633.8,558.1 C1635.1,555 1638.3,540.4 1641.9,539.6 C1645.4,538.9 1650,550 1655,553.8 C1660,557.6 1666.7,562.1 1672,562.3 C1677.3,562.6 1682.6,558.8 1686.8,555.2 C1691.1,551.7 1693.9,546.7 1697.4,541.1 C1701,535.4 1704.5,528.3 1708,521.2 C1711.6,514.1 1716.5,503.5 1718.6,498.5 C1720.8,493.5 1720.4,492.6 1720.8,491.4" stroke="#6cc4ee" stroke-width="2.8" fill="none" clip-path="url(#clipD)"/>
<path d="M1633.8,524 C1635.1,526.6 1638.3,538 1641.9,539.6 C1645.4,541.3 1649.3,534.2 1655,534 C1660.7,533.7 1669.1,538 1676.2,538.2 C1683.3,538.5 1690.4,535.2 1697.4,535.4 C1704.5,535.6 1712.3,537.5 1718.6,539.6 C1725,541.8 1729.9,546 1735.6,548.2 C1741.3,550.3 1746.4,551.6 1752.6,552.4 C1758.8,553.2 1769.4,552.9 1772.7,553" stroke="#6cc4ee" stroke-width="2.8" fill="none" clip-path="url(#clipD)"/>
<path d="M1718.6,491.4 C1719.7,496.4 1722.5,510.6 1725,521.2 C1727.5,531.8 1730.7,543.9 1733.5,555.2 C1736.3,566.6 1739.1,577.9 1742,589.3 C1744.8,600.6 1747.6,612.5 1750.4,623.3 C1753.3,634.2 1756.5,645.6 1758.9,654.5 C1761.4,663.5 1763,670.2 1765.3,677.2 C1767.6,684.3 1771.5,693.8 1772.7,697.1" stroke="#6cc4ee" stroke-width="2.8" fill="none" clip-path="url(#clipD)"/>
<path d="M1774.8,671.6 C1776.1,670.2 1779.6,668.3 1782.3,663.1 C1784.9,657.9 1787.9,648.9 1790.7,640.4 C1793.6,631.9 1796.4,622.4 1799.2,612 C1802.1,601.6 1805.2,588.3 1807.7,577.9 C1810.2,567.5 1812,560 1814.1,549.6 C1816.2,539.2 1818.8,525.2 1820.4,515.5 C1822,505.8 1823.1,495.4 1823.6,491.4" stroke="#6cc4ee" stroke-width="2.8" fill="none" clip-path="url(#clipD)"/>
<path d="M1774.8,541.6 C1777.8,541.1 1786.3,539.7 1792.9,538.2 C1799.4,536.7 1807.7,533.5 1814.1,532.6 C1820.4,531.6 1828.2,532.6 1831,532.6" stroke="#6cc4ee" stroke-width="2.8" fill="none" clip-path="url(#clipD)"/>
<path d="M1833.2,566.6 C1835.3,566.1 1841.6,565.2 1845.9,563.8 C1850.1,562.3 1854.4,560.5 1858.6,558.1 C1862.9,555.7 1867.5,552.2 1871.3,549.6 C1875.2,547 1878.6,543.9 1881.9,542.5 C1885.3,541.1 1889.9,541.3 1891.5,541.1" stroke="#6cc4ee" stroke-width="2.8" fill="none" clip-path="url(#clipD)"/>
<path d="M1093.8,498.9 C1094.8,498.4 1097.8,497 1100.1,495.9 C1102.4,494.8 1106.5,492.8 1107.8,492.2" stroke="#6cc4ee" stroke-width="2.8" fill="none" clip-path="url(#clipD)"/>
<path d="M1273.8,1083.9 C1275.9,1079.7 1281.9,1069.8 1286.5,1058.4 C1291.1,1047.1 1296.4,1029.1 1301.4,1015.9 C1306.3,1002.6 1311.6,989.9 1316.2,979 C1320.8,968.1 1324.7,960.1 1328.9,950.6 C1333.2,941.1 1339.2,927.4 1341.7,922.2 C1344.1,917 1343.4,919.9 1343.8,919.4" stroke="#6cc4ee" stroke-width="2.8" fill="none" clip-path="url(#clipD)"/>
<path d="M1273.8,1228.6 C1275.2,1222.5 1279.5,1205 1282.3,1191.8 C1285.1,1178.5 1287.6,1163.9 1290.8,1149.2 C1293.9,1134.5 1297.1,1119.9 1301.4,1103.8 C1305.6,1087.7 1310.9,1068.8 1316.2,1052.7 C1321.5,1036.7 1327.5,1022.9 1333.2,1007.3 C1338.8,991.7 1345.6,973.3 1350.2,959.1 C1354.7,944.9 1359,928.4 1360.8,922.2" stroke="#6cc4ee" stroke-width="2.8" fill="none" clip-path="url(#clipD)"/>
<path d="M1273.8,996 C1275.9,996.1 1282.3,995.1 1286.5,996.6 C1290.8,998 1294.7,998.9 1299.3,1004.5 C1303.8,1010.1 1309.9,1020.6 1314.1,1030 C1318.3,1039.5 1320.8,1046.6 1324.7,1061.3 C1328.6,1075.9 1333.5,1100.5 1337.4,1118 C1341.3,1135.5 1344.5,1149.7 1348,1166.2 C1351.6,1182.8 1355.5,1199.8 1358.6,1217.3 C1361.8,1234.8 1364.3,1254.2 1367.1,1271.2 C1369.9,1288.2 1373.5,1307.6 1375.6,1319.4 C1377.7,1331.2 1378.4,1336.4 1379.8,1342.1 C1381.3,1347.8 1383.4,1351.6 1384.1,1353.5" stroke="#6cc4ee" stroke-width="2.8" fill="none" clip-path="url(#clipD)"/>
<path d="M1360.8,922.2 C1362.2,927 1366.1,940.2 1369.2,950.6 C1372.4,961 1376,974.2 1379.8,984.6 C1383.7,995.1 1388.5,1006.9 1392.6,1013 C1396.7,1019.2 1400.6,1017.7 1404.4,1021.5 C1408.3,1025.3 1411.9,1029.1 1415.9,1035.7 C1419.9,1042.3 1424,1051.8 1428.6,1061.3 C1433.2,1070.7 1439.2,1084.4 1443.5,1092.5 C1447.7,1100.5 1450.9,1105.9 1454.1,1109.5 C1457.3,1113 1459.5,1115.6 1462.8,1113.7 C1466.1,1111.8 1472,1100.7 1473.8,1098.1" stroke="#6cc4ee" stroke-width="2.8" fill="none" clip-path="url(#clipD)"/>
<path d="M1273.8,1089.6 C1275.9,1094.8 1281.9,1108.1 1286.5,1120.8 C1291.1,1133.6 1296.4,1152 1301.4,1166.2 C1306.3,1180.4 1311.3,1192.2 1316.2,1205.9 C1321.2,1219.7 1326.5,1235.3 1331.1,1248.5 C1335.7,1261.7 1339.9,1274.5 1343.8,1285.4 C1347.7,1296.3 1351.2,1305.7 1354.4,1313.8 C1357.6,1321.8 1360.4,1328.4 1362.9,1333.6 C1365.4,1338.8 1367.1,1342.6 1369.2,1345 C1371.4,1347.3 1373.1,1347.3 1375.6,1347.8 C1378.1,1348.3 1379.3,1348 1384.1,1347.8 C1388.9,1347.6 1398.1,1346.9 1404.4,1346.4 C1410.8,1345.9 1415.8,1345.3 1422.3,1345 C1428.8,1344.6 1436.7,1344.6 1443.5,1344.4 C1450.2,1344.2 1457.7,1343.7 1462.8,1343.5 C1467.8,1343.4 1472,1343.5 1473.8,1343.5" stroke="#6cc4ee" stroke-width="2.8" fill="none" clip-path="url(#clipD)"/>
<path d="M1273.8,1289.6 C1277.3,1289.6 1287.9,1289.4 1295,1289.6 C1302.1,1289.9 1309.1,1290.3 1316.2,1291.1 C1323.3,1291.8 1331.8,1293.9 1337.4,1293.9 C1343.1,1293.9 1345.9,1293.9 1350.2,1291.1 C1354.4,1288.2 1358.6,1283 1362.9,1276.9 C1367.1,1270.7 1371.4,1261.7 1375.6,1254.2 C1379.8,1246.6 1384.1,1237.9 1388.3,1231.5 C1392.6,1225.1 1398.4,1218.7 1401.1,1215.9 C1403.7,1213 1401.6,1216.6 1404.4,1214.5 C1407.3,1212.3 1413.3,1209.3 1418,1203.1 C1422.8,1197 1427.9,1186.1 1432.9,1177.6 C1437.8,1169.1 1442.7,1158.4 1447.7,1152 C1452.7,1145.7 1458.4,1140.2 1462.8,1139.3 C1467.1,1138.3 1472,1145.2 1473.8,1146.4" stroke="#6cc4ee" stroke-width="2.8" fill="none" clip-path="url(#clipD)"/>
<path d="M1273.8,1266.9 C1275.2,1266 1279.1,1262.7 1282.3,1261.3 C1285.5,1259.8 1289,1258.2 1292.9,1258.4 C1296.8,1258.7 1300.7,1259.6 1305.6,1262.7 C1310.6,1265.8 1317.3,1272.1 1322.6,1276.9 C1327.9,1281.6 1332.8,1285.9 1337.4,1291.1 C1342,1296.3 1345.9,1302.4 1350.2,1308.1 C1354.4,1313.8 1359,1319.9 1362.9,1325.1 C1366.8,1330.3 1369.9,1335.7 1373.5,1339.3 C1377,1342.8 1382.3,1345.2 1384.1,1346.4" stroke="#6cc4ee" stroke-width="2.8" fill="none" clip-path="url(#clipD)"/>
<path d="M1273.8,1231.5 C1275.2,1234.3 1279.5,1241.9 1282.3,1248.5 C1285.1,1255.1 1287.9,1263.2 1290.8,1271.2 C1293.6,1279.2 1296.4,1287.7 1299.3,1296.7 C1302.1,1305.7 1305.3,1315.6 1307.7,1325.1 C1310.2,1334.6 1313,1348.7 1314.1,1353.5" stroke="#6cc4ee" stroke-width="2.8" fill="none" clip-path="url(#clipD)"/>
<path d="M1273.8,1268.4 C1275.6,1270.3 1280.9,1275 1284.4,1279.7 C1287.9,1284.4 1291.1,1290.1 1295,1296.7 C1298.9,1303.4 1303.1,1311.9 1307.7,1319.4 C1312.3,1327 1318.7,1336.4 1322.6,1342.1 C1326.5,1347.8 1329.7,1351.6 1331.1,1353.5" stroke="#6cc4ee" stroke-width="2.8" fill="none" clip-path="url(#clipD)"/>
<path d="M1278,1242.8 C1279.5,1247.6 1283.7,1261.7 1286.5,1271.2 C1289.4,1280.7 1292.2,1290.1 1295,1299.6 C1297.8,1309 1301.4,1319 1303.5,1327.9 C1305.6,1336.9 1307,1349.2 1307.7,1353.5" stroke="#6cc4ee" stroke-width="2.8" fill="none" clip-path="url(#clipD)"/>
<path d="M1422.3,1353.5 C1424.4,1348.7 1430.7,1333.6 1435,1325.1 C1439.2,1316.6 1443.1,1307.8 1447.7,1302.4 C1452.3,1297 1458.4,1294.4 1462.8,1292.5 C1467.1,1290.6 1472,1291.3 1473.8,1291.1" stroke="#6cc4ee" stroke-width="2.8" fill="none" clip-path="url(#clipD)"/>
<path d="M1453.8,552.4 C1455.3,552.4 1458.5,552.9 1462.7,552.4 C1466.9,551.9 1473.7,551 1479.3,549.6 C1484.8,548.2 1492,546.7 1496.2,543.9 C1500.5,541.1 1502.2,538.2 1504.7,532.6 C1507.2,526.9 1509.3,516.7 1511.1,509.9 C1512.8,503 1514.6,494.5 1515.3,491.4" stroke="#6cc4ee" stroke-width="2.8" fill="none" clip-path="url(#clipD)"/>
<path d="M1453.8,592.1 C1455.3,592.1 1459.2,592.1 1462.7,592.1 C1466.2,592.1 1470.8,592.4 1475,592.1 C1479.2,591.9 1484.2,593.1 1487.7,590.7 C1491.3,588.3 1493.4,583.9 1496.2,577.9 C1499,572 1502.2,563.3 1504.7,555.2 C1507.2,547.2 1508.9,537.3 1511.1,529.7 C1513.2,522.1 1515.3,516.2 1517.4,509.9 C1519.5,503.5 1522.7,494.5 1523.8,491.4" stroke="#6cc4ee" stroke-width="2.8" fill="none" clip-path="url(#clipD)"/>
<path d="M1462.7,724.1 C1464.8,722.9 1470.8,721.5 1475,717 C1479.2,712.5 1483.5,705.1 1487.7,697.1 C1492,689.1 1496.2,678.2 1500.5,668.7 C1504.7,659.3 1508.9,649.8 1513.2,640.4 C1517.4,630.9 1521.7,620.5 1525.9,612 C1530.2,603.5 1534.4,596.9 1538.6,589.3 C1542.9,581.7 1547.1,573.2 1551.4,566.6 C1555.6,560 1559.8,553.8 1564.1,549.6 C1568.3,545.3 1574,542.2 1576.8,541.1 C1579.6,539.9 1578.9,538.7 1581.1,542.5 C1583.2,546.3 1586.7,554.1 1589.5,563.8 C1592.4,573.5 1595.2,587.9 1598,600.6 C1600.8,613.4 1603.3,626.2 1606.5,640.4 C1609.7,654.5 1613.6,672 1617.1,685.8 C1620.6,699.5 1623.6,709.4 1627.7,722.6 C1631.8,735.9 1639.4,758.1 1641.7,765.2" stroke="#6cc4ee" stroke-width="2.8" fill="none" clip-path="url(#clipD)"/>
<path d="M1453.8,702.8 C1455.3,702.2 1459.5,702.2 1462.7,699.4 C1465.9,696.5 1469.4,692.3 1472.9,685.8 C1476.4,679.2 1480,668.3 1483.5,660.2 C1487,652.2 1490.2,643.2 1494.1,637.5 C1498,631.9 1502.6,628.8 1506.8,626.2 C1511.1,623.6 1515.7,625.2 1519.5,621.9 C1523.4,618.6 1526.3,612.7 1530.2,606.3 C1534,599.9 1538.6,592.1 1542.9,583.6 C1547.1,575.1 1551.7,563.3 1555.6,555.2 C1559.5,547.2 1562.7,539.9 1566.2,535.4 C1569.7,530.9 1573.6,530 1576.8,528.3 C1580,526.6 1582.5,527.6 1585.3,525.5 C1588.1,523.3 1591.3,521.2 1593.8,515.5 C1596.3,509.9 1599.1,495.4 1600.1,491.4" stroke="#6cc4ee" stroke-width="2.8" fill="none" clip-path="url(#clipD)"/>
<path d="M1462.7,724.1 C1464.8,726.7 1470.1,733.7 1475,739.7 C1479.9,745.6 1486.3,753.8 1492,759.5 C1497.6,765.2 1502.9,769.5 1508.9,773.7 C1515,778 1521.3,781.7 1528,785.1 C1534.7,788.4 1542.5,791.7 1549.2,793.6 C1556,795.5 1563.7,795.8 1568.3,796.4 C1572.9,797 1574,797.4 1576.8,797 C1579.6,796.5 1581.8,796.5 1585.3,793.6 C1588.8,790.6 1593.8,783.6 1598,779.4 C1602.3,775.1 1606.5,770.4 1610.7,768 C1615,765.7 1619.2,765.4 1623.5,765.2 C1627.7,765 1633.2,766.1 1636.2,766.6 C1639.2,767.1 1638.8,766.8 1641.7,768 C1644.6,769.2 1651.8,772.8 1653.8,773.7" stroke="#6cc4ee" stroke-width="2.8" fill="none" clip-path="url(#clipD)"/>
<path d="M1453.8,763.8 C1455.3,763.3 1459.9,759.8 1462.7,760.9 C1465.5,762.1 1467.7,765.4 1470.8,770.9 C1473.9,776.3 1477.1,786 1481.4,793.6 C1485.6,801.1 1490.9,809.6 1496.2,816.3 C1501.5,822.9 1507.5,828.1 1513.2,833.3 C1518.8,838.5 1524.5,843.2 1530.2,847.5 C1535.8,851.7 1541.5,855.5 1547.1,858.8 C1552.8,862.1 1559.1,865.4 1564.1,867.3 C1569,869.2 1572.6,870.6 1576.8,870.2 C1581.1,869.7 1584.6,868.3 1589.5,864.5 C1594.5,860.7 1600.8,854.6 1606.5,847.5 C1612.2,840.4 1618.5,829 1623.5,821.9 C1628.4,814.8 1633.2,808.7 1636.2,804.9 C1639.2,801.1 1638.8,798.8 1641.7,799.2 C1644.6,799.7 1651.8,806.3 1653.8,807.8" stroke="#6cc4ee" stroke-width="2.8" fill="none" clip-path="url(#clipD)"/>
<path d="M1479.7,876.7 C1481.2,877 1485.9,877.1 1489,878.7 C1492.1,880.3 1495.2,884.1 1498.3,886.3 C1501.4,888.6 1504.6,890.6 1507.7,892.3 C1510.7,894 1514.6,896.1 1516.8,896.6 C1518.9,897 1519.4,895.9 1520.6,894.9 C1521.8,893.8 1522.7,892.2 1523.8,890 C1524.8,887.9 1526.1,884.4 1527,881.8 C1527.8,879.2 1528,878.3 1528.9,874.4 C1529.8,870.6 1530.6,865.7 1532.3,858.8 C1533.9,852 1536.2,842.3 1538.6,833.3 C1541.1,824.3 1544.3,813.4 1547.1,804.9 C1549.9,796.4 1552.8,788.4 1555.6,782.2 C1558.4,776.1 1560.6,771.6 1564.1,768 C1567.6,764.5 1572.2,761.4 1576.8,760.9 C1581.4,760.5 1586.7,763.8 1591.7,765.2 C1596.6,766.6 1601.2,768.3 1606.5,769.5 C1611.8,770.6 1617.6,771.6 1623.5,772.3 C1629.3,773 1636.7,773.7 1641.7,773.7 C1646.8,773.7 1651.8,772.5 1653.8,772.3" stroke="#6cc4ee" stroke-width="2.8" fill="none" clip-path="url(#clipD)"/>
<path d="M1453.8,873 C1457.3,873.2 1467.9,873.7 1475,874.4 C1482.1,875.1 1489.1,876.6 1496.2,877.3 C1503.3,878 1510.4,878.4 1517.4,878.7 C1524.5,878.9 1531.6,878.7 1538.6,878.7 C1545.7,878.7 1553.5,878.7 1559.8,878.7 C1566.2,878.7 1571.5,878.9 1576.8,878.7 C1582.1,878.4 1585.6,878.2 1591.7,877.3 C1597.7,876.3 1605.8,873.7 1612.9,873 C1619.9,872.3 1627.3,872.8 1634.1,873 C1640.9,873.2 1650.5,874.2 1653.8,874.4" stroke="#6cc4ee" stroke-width="2.8" fill="none" clip-path="url(#clipD)"/>
<path d="M1453.8,904.2 C1457.3,904 1468.6,904.7 1475,902.8 C1481.4,900.9 1486.3,896.9 1492,892.9 C1497.6,888.8 1503.6,883.9 1508.9,878.7 C1514.2,873.5 1519.5,865.4 1523.8,861.7 C1528,857.9 1530.2,856.5 1534.4,856 C1538.6,855.5 1544.3,857.4 1549.2,858.8 C1554.2,860.2 1559.5,862.6 1564.1,864.5 C1568.7,866.4 1572.2,869.7 1576.8,870.2 C1581.4,870.6 1585.6,869.2 1591.7,867.3 C1597.7,865.4 1605.8,860.7 1612.9,858.8 C1619.9,856.9 1627.3,856.5 1634.1,856 C1640.9,855.5 1650.5,856 1653.8,856" stroke="#6cc4ee" stroke-width="2.8" fill="none" clip-path="url(#clipD)"/>
<path d="M1453.8,892.9 C1456.6,893.1 1465.1,893.3 1470.8,894.3 C1476.4,895.2 1482.1,896.9 1487.7,898.5 C1493.4,900.2 1499.8,902.3 1504.7,904.2 C1509.7,906.1 1513.9,907.5 1517.4,909.9 C1521,912.3 1523.8,916 1525.9,918.4 C1528,920.8 1529.4,923.1 1530.2,924.1" stroke="#6cc4ee" stroke-width="2.8" fill="none" clip-path="url(#clipD)"/>
<path d="M1612.9,924.1 C1614.6,921.2 1619.9,912.3 1623.5,907 C1627,901.8 1631,896.6 1634.1,892.9 C1637.1,889.1 1638.4,887.2 1641.7,884.4 C1645,881.5 1651.8,877.3 1653.8,875.8" stroke="#6cc4ee" stroke-width="2.8" fill="none" clip-path="url(#clipD)"/>
<path d="M1581.1,874.4 C1584.6,874.8 1595.2,875.6 1602.3,876.4 C1609.3,877.2 1616.9,877.9 1623.5,879.2 C1630,880.6 1636.7,882.1 1641.7,884.4 C1646.8,886.6 1651.8,891.4 1653.8,892.9" stroke="#6cc4ee" stroke-width="2.8" fill="none" clip-path="url(#clipD)"/>
<path d="M1453.8,1106.6 C1455.3,1107.8 1459.2,1115.2 1462.7,1113.7 C1466.2,1112.3 1471.2,1106.4 1475,1098.1 C1478.8,1089.9 1482.1,1077.8 1485.6,1064.1 C1489.1,1050.4 1492.7,1031.5 1496.2,1015.9 C1499.8,1000.3 1503.6,984.6 1506.8,970.5 C1510,956.3 1513.5,939 1515.3,930.7 C1517.1,922.5 1517.1,922.5 1517.4,920.8" stroke="#6cc4ee" stroke-width="2.8" fill="none" clip-path="url(#clipD)"/>
<path d="M1453.8,1140.7 C1455.3,1140.5 1459.2,1137.4 1462.7,1139.3 C1466.2,1141.2 1470.8,1145.7 1475,1152 C1479.2,1158.4 1483.5,1168.6 1487.7,1177.6 C1492,1186.6 1496.6,1196.5 1500.5,1205.9 C1504.3,1215.4 1508.2,1226.7 1511.1,1234.3 C1513.9,1241.9 1515,1246.8 1517.4,1251.3 C1519.9,1255.8 1523.1,1257 1525.9,1261.3 C1528.7,1265.5 1530.9,1273.3 1534.4,1276.9 C1537.9,1280.4 1542.2,1282.5 1547.1,1282.5 C1552.1,1282.5 1559.1,1278.1 1564.1,1276.9 C1569,1275.7 1572.2,1275.2 1576.8,1275.5 C1581.4,1275.7 1586.7,1277.1 1591.7,1278.3 C1596.6,1279.5 1601.2,1280.9 1606.5,1282.5 C1611.8,1284.2 1617.6,1286.8 1623.5,1288.2 C1629.3,1289.6 1636.7,1290.1 1641.7,1291.1 C1646.8,1292 1651.8,1293.4 1653.8,1293.9" stroke="#6cc4ee" stroke-width="2.8" fill="none" clip-path="url(#clipD)"/>
<path d="M1515.3,922.2 C1516.7,924.6 1519.9,931.2 1523.8,936.4 C1527.7,941.6 1533.7,949.7 1538.6,953.4 C1543.6,957.2 1548.9,957.5 1553.5,959.1 C1558.1,960.8 1562.3,962.4 1566.2,963.4 C1570.1,964.3 1573.6,963.4 1576.8,964.8 C1580,966.2 1581.8,967.6 1585.3,971.9 C1588.8,976.1 1593.8,983.5 1598,990.3 C1602.3,997.2 1606.5,1004 1610.7,1013 C1615,1022 1619.6,1034.8 1623.5,1044.2 C1627.4,1053.7 1631,1062.7 1634.1,1069.8 C1637.1,1076.9 1638.4,1078.7 1641.7,1086.8 C1645,1094.8 1651.8,1112.8 1653.8,1118" stroke="#6cc4ee" stroke-width="2.8" fill="none" clip-path="url(#clipD)"/>
<path d="M1519.5,922.2 C1521.3,926 1526.3,935.9 1530.2,944.9 C1534,953.9 1538.6,966.2 1542.9,976.1 C1547.1,986.1 1551.7,996 1555.6,1004.5 C1559.5,1013 1562.7,1022 1566.2,1027.2 C1569.7,1032.4 1573.6,1032.4 1576.8,1035.7 C1580,1039 1581.8,1039.5 1585.3,1047.1 C1588.8,1054.6 1593.8,1068.8 1598,1081.1 C1602.3,1093.4 1606.5,1107.1 1610.7,1120.8 C1615,1134.5 1619.6,1149.2 1623.5,1163.4 C1627.4,1177.6 1631,1194.1 1634.1,1205.9 C1637.1,1217.8 1638.4,1222.5 1641.7,1234.3 C1645,1246.1 1651.8,1269.8 1653.8,1276.9" stroke="#6cc4ee" stroke-width="2.8" fill="none" clip-path="url(#clipD)"/>
<path d="M1538.6,920.8 C1540.4,922.9 1545.7,928.1 1549.2,933.6 C1552.8,939 1556.3,946.3 1559.8,953.4 C1563.4,960.5 1567.6,969.5 1570.4,976.1 C1573.3,982.8 1574.3,991.7 1576.8,993.2 C1579.3,994.6 1581.8,989.4 1585.3,984.6 C1588.8,979.9 1593.8,972.4 1598,964.8 C1602.3,957.2 1607.7,946.6 1610.7,939.3 C1613.8,931.9 1615.2,923.9 1616,920.8" stroke="#6cc4ee" stroke-width="2.8" fill="none" clip-path="url(#clipD)"/>
<path d="M1496.2,1353.5 C1498.3,1343.1 1505.4,1309.5 1508.9,1291.1 C1512.5,1272.6 1513.9,1261.7 1517.4,1242.8 C1521,1223.9 1525.9,1197.9 1530.2,1177.6 C1534.4,1157.2 1538.6,1138.3 1542.9,1120.8 C1547.1,1103.3 1551.7,1086.8 1555.6,1072.6 C1559.5,1058.4 1563.4,1044.7 1566.2,1035.7 C1569,1026.7 1570.8,1022.9 1572.6,1018.7 C1574.3,1014.4 1574,1011.8 1576.8,1010.2 C1579.6,1008.5 1584.6,1009.7 1589.5,1008.8 C1594.5,1007.8 1600.8,1006.2 1606.5,1004.5 C1612.2,1002.9 1617.6,1000 1623.5,998.8 C1629.3,997.7 1636.7,997.4 1641.7,997.4 C1646.8,997.4 1651.8,998.6 1653.8,998.8" stroke="#6cc4ee" stroke-width="2.8" fill="none" clip-path="url(#clipD)"/>
<path d="M1502.6,1353.5 C1504.3,1346.4 1509.3,1325.1 1513.2,1310.9 C1517.1,1296.7 1521.7,1282.1 1525.9,1268.4 C1530.2,1254.6 1534.4,1240.9 1538.6,1228.6 C1542.9,1216.3 1547.1,1204.5 1551.4,1194.6 C1555.6,1184.7 1559.8,1178 1564.1,1169.1 C1568.3,1160.1 1573.3,1144.9 1576.8,1140.7 C1580.3,1136.4 1581.8,1139.7 1585.3,1143.5 C1588.8,1147.3 1593.8,1155.3 1598,1163.4 C1602.3,1171.4 1606.5,1183.2 1610.7,1191.8 C1615,1200.3 1619.6,1207.4 1623.5,1214.5 C1627.4,1221.5 1631,1228.2 1634.1,1234.3 C1637.1,1240.5 1638.4,1244.7 1641.7,1251.3 C1645,1258 1651.8,1270.3 1653.8,1274" stroke="#6cc4ee" stroke-width="2.8" fill="none" clip-path="url(#clipD)"/>
<path d="M1453.8,1291.1 C1457.3,1290.8 1467.9,1291.5 1475,1289.6 C1482.1,1287.7 1489.9,1283.3 1496.2,1279.7 C1502.6,1276.2 1508.6,1270.7 1513.2,1268.4 C1517.8,1266 1520.3,1268.8 1523.8,1265.5 C1527.3,1262.2 1530.5,1254.2 1534.4,1248.5 C1538.3,1242.8 1542.2,1235.7 1547.1,1231.5 C1552.1,1227.2 1559.1,1224.9 1564.1,1223 C1569,1221.1 1572.2,1220.6 1576.8,1220.1 C1581.4,1219.7 1586,1219.7 1591.7,1220.1 C1597.3,1220.6 1605.4,1221.5 1610.7,1223 C1616,1224.4 1619.6,1226.3 1623.5,1228.6 C1627.4,1231 1631,1234.8 1634.1,1237.2 C1637.1,1239.5 1638.4,1243.8 1641.7,1242.8 C1645,1241.9 1651.8,1233.4 1653.8,1231.5" stroke="#6cc4ee" stroke-width="2.8" fill="none" clip-path="url(#clipD)"/>
<path d="M1496.2,1347.8 C1499.8,1340.7 1511.1,1320.4 1517.4,1305.2 C1523.8,1290.1 1529.4,1269.8 1534.4,1257 C1539.3,1244.2 1542.9,1237.2 1547.1,1228.6 C1551.4,1220.1 1555.6,1212.6 1559.8,1205.9 C1564.1,1199.3 1569,1192.2 1572.6,1188.9 C1576.1,1185.6 1577.5,1188 1581.1,1186.1 C1584.6,1184.2 1589.5,1181.4 1593.8,1177.6 C1598,1173.8 1602.3,1169.1 1606.5,1163.4 C1610.7,1157.7 1615,1151.6 1619.2,1143.5 C1623.5,1135.5 1628.2,1124.4 1632,1115.2 C1635.7,1105.9 1638.1,1096.7 1641.7,1088.2 C1645.4,1079.7 1651.8,1068.1 1653.8,1064.1" stroke="#6cc4ee" stroke-width="2.8" fill="none" clip-path="url(#clipD)"/>
<path d="M1453.8,1342.1 C1457.3,1341.9 1468.6,1342.1 1475,1340.7 C1481.4,1339.3 1487,1337.2 1492,1333.6 C1496.9,1330.1 1500.8,1325.1 1504.7,1319.4 C1508.6,1313.8 1512.1,1306.7 1515.3,1299.6 C1518.5,1292.5 1522.4,1280.7 1523.8,1276.9" stroke="#6cc4ee" stroke-width="2.8" fill="none" clip-path="url(#clipD)"/>
<path d="M1589.5,1353.5 C1591.7,1348.7 1598,1334.1 1602.3,1325.1 C1606.5,1316.1 1610.7,1308.1 1615,1299.6 C1619.2,1291.1 1623.3,1284 1627.7,1274 C1632.2,1264.1 1637.4,1247.6 1641.7,1240 C1646.1,1232.4 1651.8,1230.5 1653.8,1228.6" stroke="#6cc4ee" stroke-width="2.8" fill="none" clip-path="url(#clipD)"/>
<path d="M1632,1353.5 C1632.7,1347.8 1634.6,1331.7 1636.2,1319.4 C1637.8,1307.1 1639.9,1292.9 1641.7,1279.7 C1643.5,1266.5 1644.8,1255.6 1646.8,1240 C1648.8,1224.4 1652.6,1195.1 1653.8,1186.1" stroke="#6cc4ee" stroke-width="2.8" fill="none" clip-path="url(#clipD)"/>
<path d="M1685.8,491.4 C1686.6,497.3 1688.8,514.8 1691.1,526.9 C1693.4,538.9 1696.7,553.4 1699.5,563.8 C1702.4,574.2 1704.8,581.7 1708,589.3 C1711.2,596.9 1715.5,604.4 1718.6,609.2 C1721.8,613.9 1723.9,614.8 1727.1,617.7 C1730.3,620.5 1734.2,621.9 1737.7,626.2 C1741.3,630.4 1744.8,636.1 1748.3,643.2 C1751.9,650.3 1755.8,661.2 1758.9,668.7 C1762.1,676.3 1765.1,683.9 1767.4,688.6 C1769.7,693.3 1771.8,695.7 1772.7,697.1" stroke="#6cc4ee" stroke-width="2.8" fill="none" clip-path="url(#clipD)"/>
<path d="M1725,491.4 C1726.4,496.4 1731,511.5 1733.5,521.2 C1736,530.9 1738.1,540.1 1739.8,549.6 C1741.6,559 1742,571.3 1744.1,577.9 C1746.2,584.6 1749.7,586.9 1752.6,589.3 C1755.4,591.7 1757.7,591.7 1761.1,592.1 C1764.4,592.6 1770.8,592.1 1772.7,592.1" stroke="#6cc4ee" stroke-width="2.8" fill="none" clip-path="url(#clipD)"/>
<path d="M1727.1,491.4 C1729.2,495.4 1735.6,508.2 1739.8,515.5 C1744.1,522.9 1749,530.2 1752.6,535.4 C1756.1,540.6 1757.7,543.9 1761.1,546.7 C1764.4,549.6 1770.8,551.5 1772.7,552.4" stroke="#6cc4ee" stroke-width="2.8" fill="none" clip-path="url(#clipD)"/>
<path d="M1633.8,748.2 C1635.1,751 1638.3,768.5 1641.9,765.2 C1645.4,761.9 1650.3,741.6 1655,728.3 C1659.7,715.1 1664.9,698.5 1669.9,685.8 C1674.8,673 1680.1,661.2 1684.7,651.7 C1689.3,642.3 1693.9,633.5 1697.4,629 C1701,624.5 1702.4,624.3 1705.9,624.8 C1709.4,625.2 1714.4,627.4 1718.6,631.9 C1722.9,636.3 1727.1,643.7 1731.4,651.7 C1735.6,659.7 1740.2,671.6 1744.1,680.1 C1748,688.6 1751.2,696.2 1754.7,702.8 C1758.2,709.4 1762.3,716.3 1765.3,719.8 C1768.3,723.3 1771.5,723.3 1772.7,724.1" stroke="#6cc4ee" stroke-width="2.8" fill="none" clip-path="url(#clipD)"/>
<path d="M1633.8,772.3 C1635.1,772.5 1638.3,773.2 1641.9,773.7 C1645.4,774.2 1650.7,775.1 1655,775.1 C1659.3,775.1 1663.1,775.4 1667.7,773.7 C1672.3,772.1 1676.9,767.6 1682.6,765.2 C1688.2,762.8 1695.7,760.2 1701.7,759.5 C1707.7,758.8 1713.3,760.2 1718.6,760.9 C1723.9,761.6 1728.5,764.5 1733.5,763.8 C1738.4,763.1 1743.7,760.2 1748.3,756.7 C1752.9,753.1 1757,747.7 1761.1,742.5 C1765.1,737.3 1770.8,728.3 1772.7,725.5" stroke="#6cc4ee" stroke-width="2.8" fill="none" clip-path="url(#clipD)"/>
<path d="M1641.9,773.7 C1644.1,774.2 1650.7,774.7 1655,776.5 C1659.3,778.4 1663.5,780.3 1667.7,785.1 C1672,789.8 1676.6,797.8 1680.5,804.9 C1684.3,812 1687.9,820 1691.1,827.6 C1694.2,835.2 1697.1,843.7 1699.5,850.3 C1702,856.9 1703.4,862.6 1705.9,867.3 C1708.4,872.1 1710.9,876.3 1714.4,878.7 C1717.9,881 1722.2,881.8 1727.1,881.5 C1732.1,881.3 1738.4,878.4 1744.1,877.3 C1749.7,876.1 1756.3,875.1 1761.1,874.4 C1765.8,873.7 1770.8,873.2 1772.7,873" stroke="#6cc4ee" stroke-width="2.8" fill="none" clip-path="url(#clipD)"/>
<path d="M1633.8,804.9 C1635.1,804 1638.3,798.8 1641.9,799.2 C1645.4,799.7 1650,803.5 1655,807.8 C1660,812 1666.7,819.1 1672,824.8 C1677.3,830.4 1681.9,837.5 1686.8,841.8 C1691.8,846.1 1696.4,849.4 1701.7,850.3 C1707,851.3 1713.7,849.8 1718.6,847.5 C1723.6,845.1 1727.1,841.3 1731.4,836.1 C1735.6,830.9 1739.8,823.4 1744.1,816.3 C1748.3,809.2 1752.9,800.7 1756.8,793.6 C1760.7,786.5 1764.8,778.4 1767.4,773.7 C1770.1,769 1771.8,766.6 1772.7,765.2" stroke="#6cc4ee" stroke-width="2.8" fill="none" clip-path="url(#clipD)"/>
<path d="M1633.8,856 C1637.3,856 1647.9,855.7 1655,856 C1662.1,856.2 1669.9,856.9 1676.2,857.4 C1682.6,857.9 1688.6,857.6 1693.2,858.8 C1697.8,860 1700.6,862.1 1703.8,864.5 C1707,866.9 1709.1,870.2 1712.3,873 C1715.5,875.8 1719,878.7 1722.9,881.5 C1726.8,884.4 1731,887.2 1735.6,890 C1740.2,892.9 1744.3,896.2 1750.4,898.5 C1756.6,900.9 1769,903.3 1772.7,904.2" stroke="#6cc4ee" stroke-width="2.8" fill="none" clip-path="url(#clipD)"/>
<path d="M1633.8,878.7 C1635.1,879.6 1638.3,881.5 1641.9,884.4 C1645.4,887.2 1650.7,892.9 1655,895.7 C1659.3,898.5 1663.5,900.2 1667.7,901.4 C1672,902.6 1675.5,903.7 1680.5,902.8 C1685.4,901.8 1691.8,898.3 1697.4,895.7 C1703.1,893.1 1709.1,889.3 1714.4,887.2 C1719.7,885.1 1724.3,884.1 1729.2,882.9 C1734.2,881.8 1738.8,881.3 1744.1,880.1 C1749.4,878.9 1758.2,876.6 1761.1,875.8" stroke="#6cc4ee" stroke-width="2.8" fill="none" clip-path="url(#clipD)"/>
<path d="M1633.8,890 C1635.1,889.1 1638.3,886.2 1641.9,884.4 C1645.4,882.5 1650,879.4 1655,878.7 C1660,878 1666.3,879.2 1672,880.1 C1677.6,881 1684,882.7 1688.9,884.4 C1693.9,886 1698.1,887.2 1701.7,890 C1705.2,892.9 1707.7,895.7 1710.2,901.4 C1712.6,907 1715.5,920.3 1716.5,924.1" stroke="#6cc4ee" stroke-width="2.8" fill="none" clip-path="url(#clipD)"/>
<path d="M1727.1,924.1 C1728.5,921.7 1732.1,913.7 1735.6,909.9 C1739.1,906.1 1744.1,904 1748.3,901.4 C1752.6,898.8 1757,895.9 1761.1,894.3 C1765.1,892.6 1770.8,891.9 1772.7,891.4" stroke="#6cc4ee" stroke-width="2.8" fill="none" clip-path="url(#clipD)"/>
<path d="M1774.8,762.4 C1776.8,761.2 1782.4,758.1 1786.5,755.3 C1790.6,752.4 1795,748.4 1799.2,745.3 C1803.5,742.3 1807.7,739 1812,736.8 C1816.2,734.7 1821.5,733.3 1824.7,732.6 C1827.9,731.9 1830,732.6 1831,732.6" stroke="#6cc4ee" stroke-width="2.8" fill="none" clip-path="url(#clipD)"/>
<path d="M1774.8,797.8 C1776.8,796.6 1782.4,793.8 1786.5,790.7 C1790.6,787.7 1795,782.5 1799.2,779.4 C1803.5,776.3 1807.7,774.2 1812,772.3 C1816.2,770.4 1821.5,768.8 1824.7,768 C1827.9,767.2 1830,767.6 1831,767.5" stroke="#6cc4ee" stroke-width="2.8" fill="none" clip-path="url(#clipD)"/>
<path d="M1774.8,869.6 L1831,868.5" stroke="#6cc4ee" stroke-width="2.8" fill="none" clip-path="url(#clipD)"/>
<path d="M1774.8,878.1 L1831,878.1" stroke="#6cc4ee" stroke-width="2.8" fill="none" clip-path="url(#clipD)"/>
<path d="M1774.8,874.4 C1776.8,875.1 1781.7,877 1786.5,878.7 C1791.3,880.3 1796,882.5 1803.5,884.4 C1810.9,886.2 1826.4,889.1 1831,890" stroke="#6cc4ee" stroke-width="2.8" fill="none" clip-path="url(#clipD)"/>
<path d="M1833.2,739.7 C1835.3,740.6 1840.9,743 1845.9,745.3 C1850.8,747.7 1857.6,751 1862.9,753.8 C1868.2,756.7 1872.9,760.5 1877.7,762.4 C1882.5,764.2 1889.2,764.7 1891.5,765.2" stroke="#6cc4ee" stroke-width="2.8" fill="none" clip-path="url(#clipD)"/>
<path d="M1833.2,755.3 C1835.3,755.5 1840.9,755.3 1845.9,756.7 C1850.8,758.1 1857.6,761.4 1862.9,763.8 C1868.2,766.1 1872.9,769.2 1877.7,770.9 C1882.5,772.5 1889.2,773.2 1891.5,773.7" stroke="#6cc4ee" stroke-width="2.8" fill="none" clip-path="url(#clipD)"/>
<path d="M1833.2,812 C1835.3,811.8 1840.9,811.3 1845.9,810.6 C1850.8,809.9 1857.6,808.9 1862.9,807.8 C1868.2,806.6 1872.9,804.9 1877.7,803.5 C1882.5,802.1 1889.2,799.9 1891.5,799.2" stroke="#6cc4ee" stroke-width="2.8" fill="none" clip-path="url(#clipD)"/>
<path d="M1833.2,841.8 C1834.6,842.3 1838.1,841.8 1841.6,844.6 C1845.2,847.5 1850.1,854.1 1854.4,858.8 C1858.6,863.5 1862.9,869.2 1867.1,873 C1871.3,876.8 1875.8,879.6 1879.8,881.5 C1883.9,883.4 1889.5,883.9 1891.5,884.4" stroke="#6cc4ee" stroke-width="2.8" fill="none" clip-path="url(#clipD)"/>
<path d="M1833.2,901.4 C1834.6,900.9 1838.1,900.9 1841.6,898.5 C1845.2,896.2 1850.1,892.4 1854.4,887.2 C1858.6,882 1862.9,872.1 1867.1,867.3 C1871.3,862.6 1875.8,860.7 1879.8,858.8 C1883.9,856.9 1889.5,856.5 1891.5,856" stroke="#6cc4ee" stroke-width="2.8" fill="none" clip-path="url(#clipD)"/>
<path d="M1633.8,1109.5 C1635.1,1105.7 1638.3,1095.3 1641.9,1086.8 C1645.4,1078.3 1650,1069.8 1655,1058.4 C1660,1047.1 1666.3,1031.9 1672,1018.7 C1677.6,1005.5 1683.6,991.3 1688.9,979 C1694.2,966.7 1699.5,954.6 1703.8,944.9 C1708,935.2 1712.6,924.8 1714.4,920.8" stroke="#6cc4ee" stroke-width="2.8" fill="none" clip-path="url(#clipD)"/>
<path d="M1633.8,1064.1 C1635.1,1067.9 1638.7,1078.3 1641.9,1086.8 C1645,1095.3 1649.3,1106.2 1652.9,1115.2 C1656.5,1124.1 1659.6,1131.2 1663.5,1140.7 C1667.4,1150.1 1672,1161.5 1676.2,1171.9 C1680.5,1182.3 1684.7,1192.7 1688.9,1203.1 C1693.2,1213.5 1697.4,1225.3 1701.7,1234.3 C1705.9,1243.3 1710.2,1250.9 1714.4,1257 C1718.6,1263.2 1722.2,1266.5 1727.1,1271.2 C1732.1,1275.9 1738.4,1282.1 1744.1,1285.4 C1749.7,1288.7 1756.3,1289.9 1761.1,1291.1 C1765.8,1292.2 1770.8,1292.2 1772.7,1292.5" stroke="#6cc4ee" stroke-width="2.8" fill="none" clip-path="url(#clipD)"/>
<path d="M1633.8,997.4 C1635.1,997.3 1638.3,996.1 1641.9,996.6 C1645.4,997 1650.7,997.5 1655,1000.3 C1659.3,1003 1663.5,1006.6 1667.7,1013 C1672,1019.4 1676.2,1028.2 1680.5,1038.6 C1684.7,1049 1689.3,1062.7 1693.2,1075.4 C1697.1,1088.2 1700.3,1101.4 1703.8,1115.2 C1707.3,1128.9 1711.2,1143.5 1714.4,1157.7 C1717.6,1171.9 1720,1185.1 1722.9,1200.3 C1725.7,1215.4 1728.5,1231.5 1731.4,1248.5 C1734.2,1265.5 1737.4,1284.9 1739.8,1302.4 C1742.3,1319.9 1745.1,1345 1746.2,1353.5" stroke="#6cc4ee" stroke-width="2.8" fill="none" clip-path="url(#clipD)"/>
<path d="M1718.6,920.8 C1720,925.8 1723.9,938.5 1727.1,950.6 C1730.3,962.7 1734.2,979 1737.7,993.2 C1741.3,1007.3 1744.8,1021.5 1748.3,1035.7 C1751.9,1049.9 1755.8,1066.5 1758.9,1078.3 C1762.1,1090.1 1765.1,1101 1767.4,1106.6 C1769.7,1112.3 1771.8,1111.4 1772.7,1112.3" stroke="#6cc4ee" stroke-width="2.8" fill="none" clip-path="url(#clipD)"/>
<path d="M1727.1,920.8 C1724.3,925.3 1715.5,938.1 1710.2,947.8 C1704.8,957.5 1699.9,967.6 1695.3,979 C1690.7,990.3 1686.5,1002.6 1682.6,1015.9 C1678.7,1029.1 1675.2,1044.7 1672,1058.4 C1668.8,1072.1 1666.3,1083.5 1663.5,1098.1 C1660.7,1112.8 1657.5,1130.8 1655,1146.4 C1652.5,1162 1650.4,1178 1648.6,1191.8 C1646.9,1205.5 1645.5,1220.6 1644.4,1228.6 C1643.3,1236.7 1642.3,1238.1 1641.9,1240" stroke="#6cc4ee" stroke-width="2.8" fill="none" clip-path="url(#clipD)"/>
<path d="M1641.9,1237.2 C1644.1,1235.7 1651.4,1230.1 1655,1228.6 C1658.6,1227.2 1659.3,1226.7 1663.5,1228.6 C1667.7,1230.5 1674.8,1234.3 1680.5,1240 C1686.1,1245.7 1692.5,1256.1 1697.4,1262.7 C1702.4,1269.3 1705.6,1274 1710.2,1279.7 C1714.7,1285.4 1720,1291.1 1725,1296.7 C1729.9,1302.4 1735.2,1308.1 1739.8,1313.8 C1744.4,1319.4 1748.3,1326 1752.6,1330.8 C1756.8,1335.5 1761.9,1340.2 1765.3,1342.1 C1768.7,1344 1771.5,1342.1 1772.7,1342.1" stroke="#6cc4ee" stroke-width="2.8" fill="none" clip-path="url(#clipD)"/>
<path d="M1641.9,1242.8 C1643.3,1244.7 1646.8,1249.4 1650.8,1254.2 C1654.7,1258.9 1660.7,1266.9 1665.6,1271.2 C1670.6,1275.5 1675.9,1278.8 1680.5,1279.7 C1685.1,1280.7 1688.9,1279.2 1693.2,1276.9 C1697.4,1274.5 1701.7,1270.3 1705.9,1265.5 C1710.2,1260.8 1714.7,1254.6 1718.6,1248.5 C1722.5,1242.4 1725.7,1236.2 1729.2,1228.6 C1732.8,1221.1 1736,1212.6 1739.8,1203.1 C1743.7,1193.6 1748.7,1180.9 1752.6,1171.9 C1756.5,1162.9 1759.8,1154.6 1763.2,1149.2 C1766.5,1143.8 1771.1,1140.9 1772.7,1139.3" stroke="#6cc4ee" stroke-width="2.8" fill="none" clip-path="url(#clipD)"/>
<path d="M1633.8,1291.1 C1635.1,1290.8 1638.3,1289.9 1641.9,1289.6 C1645.4,1289.4 1650.7,1288.9 1655,1289.6 C1659.3,1290.3 1663.5,1291.3 1667.7,1293.9 C1672,1296.5 1676.2,1301 1680.5,1305.2 C1684.7,1309.5 1689.3,1314.7 1693.2,1319.4 C1697.1,1324.2 1700.3,1328.9 1703.8,1333.6 C1707.3,1338.3 1711.9,1344.5 1714.4,1347.8 C1716.9,1351.1 1717.9,1352.5 1718.6,1353.5" stroke="#6cc4ee" stroke-width="2.8" fill="none" clip-path="url(#clipD)"/>
<path d="M1641.9,1276.9 C1643,1280.2 1646.5,1289.6 1648.6,1296.7 C1650.8,1303.8 1652.9,1312.3 1655,1319.4 C1657.1,1326.5 1659.6,1333.6 1661.4,1339.3 C1663.1,1345 1664.9,1351.1 1665.6,1353.5" stroke="#6cc4ee" stroke-width="2.8" fill="none" clip-path="url(#clipD)"/>
<path d="M1633.8,1245.7 C1635.1,1247.6 1639,1250.4 1641.9,1257 C1644.7,1263.6 1647.9,1275 1650.8,1285.4 C1653.7,1295.8 1656.4,1308.1 1659.3,1319.4 C1662.1,1330.8 1666.3,1347.8 1667.7,1353.5" stroke="#6cc4ee" stroke-width="2.8" fill="none" clip-path="url(#clipD)"/>
<path d="M1744.1,1353.5 C1746.2,1352.1 1752,1346.9 1756.8,1345 C1761.6,1343.1 1770.1,1342.6 1772.7,1342.1" stroke="#6cc4ee" stroke-width="2.8" fill="none" clip-path="url(#clipD)"/>
<path d="M1774.8,964.8 C1776.1,965.5 1779.3,967.4 1782.3,969 C1785.3,970.7 1789.3,975 1792.9,974.7 C1796.4,974.5 1799.6,971.6 1803.5,967.6 C1807.4,963.6 1811.6,955.3 1816.2,950.6 C1820.8,945.9 1828.6,941.1 1831,939.3" stroke="#6cc4ee" stroke-width="2.8" fill="none" clip-path="url(#clipD)"/>
<path d="M1774.8,994.6 C1776.8,993.9 1783.1,991.5 1786.5,990.3 C1789.9,989.1 1792.2,986.5 1795,987.5 C1797.8,988.4 1799.9,992.7 1803.5,996 C1807,999.3 1811.6,1004 1816.2,1007.3 C1820.8,1010.7 1828.6,1014.4 1831,1015.9" stroke="#6cc4ee" stroke-width="2.8" fill="none" clip-path="url(#clipD)"/>
<path d="M1774.8,1010.2 C1776.8,1009.2 1782.8,1007.8 1786.5,1004.5 C1790.2,1001.2 1793.6,995.5 1797.1,990.3 C1800.6,985.1 1803.8,978 1807.7,973.3 C1811.6,968.6 1816.6,964.3 1820.4,962 C1824.3,959.6 1829.3,959.6 1831,959.1" stroke="#6cc4ee" stroke-width="2.8" fill="none" clip-path="url(#clipD)"/>
<path d="M1774.8,1035.7 L1831,1038.6" stroke="#6cc4ee" stroke-width="2.8" fill="none" clip-path="url(#clipD)"/>
<path d="M1774.8,1139.3 L1831,1137.9" stroke="#6cc4ee" stroke-width="2.8" fill="none" clip-path="url(#clipD)"/>
<path d="M1774.8,1187.5 L1831,1187.5" stroke="#6cc4ee" stroke-width="2.8" fill="none" clip-path="url(#clipD)"/>
<path d="M1774.8,1220.1 C1776.8,1220.6 1781.7,1220.6 1786.5,1223 C1791.3,1225.3 1798.2,1231.2 1803.5,1234.3 C1808.8,1237.4 1813.7,1240 1818.3,1241.4 C1822.9,1242.8 1828.9,1242.6 1831,1242.8" stroke="#6cc4ee" stroke-width="2.8" fill="none" clip-path="url(#clipD)"/>
<path d="M1774.8,1275.5 L1831,1275.5" stroke="#6cc4ee" stroke-width="2.8" fill="none" clip-path="url(#clipD)"/>
<path d="M1833.2,997.4 L1891.5,998.3" stroke="#6cc4ee" stroke-width="2.8" fill="none" clip-path="url(#clipD)"/>
<path d="M1833.2,1088.2 L1891.5,1087.4" stroke="#6cc4ee" stroke-width="2.8" fill="none" clip-path="url(#clipD)"/>
<path d="M1833.2,1225.8 C1835.3,1226.3 1840.9,1226.7 1845.9,1228.6 C1850.8,1230.5 1857.6,1235.3 1862.9,1237.2 C1868.2,1239 1872.9,1239.5 1877.7,1240 C1882.5,1240.5 1889.2,1240 1891.5,1240" stroke="#6cc4ee" stroke-width="2.8" fill="none" clip-path="url(#clipD)"/>
<path d="M1833.2,1227.2 C1835.3,1227.9 1840.9,1228.9 1845.9,1231.5 C1850.8,1234.1 1857.6,1239.5 1862.9,1242.8 C1868.2,1246.1 1872.9,1249.7 1877.7,1251.3 C1882.5,1253 1889.2,1252.5 1891.5,1252.8" stroke="#6cc4ee" stroke-width="2.8" fill="none" clip-path="url(#clipD)"/>
<path d="M1833.2,1268.4 C1835.3,1268.6 1840.9,1268.8 1845.9,1269.8 C1850.8,1270.7 1857.6,1272.6 1862.9,1274 C1868.2,1275.5 1872.9,1277.4 1877.7,1278.3 C1882.5,1279.1 1889.2,1279 1891.5,1279.1" stroke="#6cc4ee" stroke-width="2.8" fill="none" clip-path="url(#clipD)"/>
<path d="M1833.2,1290.5 L1891.5,1290.5" stroke="#6cc4ee" stroke-width="2.8" fill="none" clip-path="url(#clipD)"/>
<path d="M1512.2,947.6 C1512.7,945.5 1514,938.8 1515,934.5 C1516,930.3 1517.1,925.5 1518.2,922.1 C1519.3,918.7 1520.1,915.9 1521.4,914.1 C1522.7,912.2 1524.5,911.2 1526.1,911 C1527.6,910.8 1529.2,911.7 1530.7,912.9 C1532.2,914 1533.8,916 1535.3,917.8 C1536.8,919.7 1538.1,921.2 1540,924 C1541.9,926.8 1544.6,931.2 1546.9,934.5 C1549.2,937.8 1552.2,941.6 1553.8,943.8 C1555.4,946 1555.3,945.7 1556.6,947.6 C1557.9,949.6 1560.9,954.3 1561.8,955.7" stroke="#6cc4ee" stroke-width="2.8" fill="none" clip-path="url(#clipD)"/>
<path d="M1259.8,836.2 C1262,837.2 1269.3,839.2 1273.1,842.2 C1276.8,845.2 1278.7,849.1 1282.1,854.1 C1285.4,859.1 1289.5,866 1293.2,872 C1296.9,878 1301.2,885.3 1304.4,889.9 C1307.5,894.5 1309.7,897.3 1312.2,899.6 C1314.6,901.8 1316.4,903 1318.8,903.3 C1321.3,903.5 1323.5,903 1326.6,901.1 C1329.8,899.1 1334.4,893.7 1337.8,891.4 C1341.1,889 1343,888.1 1346.7,886.9 C1350.4,885.7 1356,885.2 1360.1,883.9 C1364.1,882.7 1367.5,880.8 1371.2,879.4 C1374.9,878.1 1376.8,876.5 1382.3,875.7 C1387.9,875 1397.2,875.1 1404.6,875 C1412,874.8 1423.2,874.7 1426.9,874.7" stroke="#6cc4ee" stroke-width="2.8" fill="none" clip-path="url(#clipD)"/>
<path d="M1259.8,864.5 C1260.9,862.6 1264.3,856.3 1266.5,852.6 C1268.7,848.9 1270.1,844.8 1273.1,842.2 C1276,839.6 1280,837 1284.3,837 C1288.6,837 1293.6,839.3 1298.8,842.2 C1304,845 1309.9,849.4 1315.5,854.1 C1321.1,858.8 1327.6,865.5 1332.2,870.5 C1336.8,875.5 1340,879.9 1343.3,883.9 C1346.7,887.9 1349.8,890.4 1352.3,894.3 C1354.7,898.3 1356.5,903.8 1357.8,907.8 C1359.1,911.7 1358.8,913.5 1360.1,918.2 C1361.4,922.9 1362.8,926.7 1365.6,936.1 C1368.4,945.4 1374.9,968 1376.8,974.4" stroke="#6cc4ee" stroke-width="2.8" fill="none" clip-path="url(#clipD)"/>
<path d="M1259.8,901.8 C1263.5,901.8 1276.5,901.2 1282.1,901.8 C1287.6,902.4 1289.5,904.5 1293.2,905.5 C1296.9,906.6 1300.6,907.8 1304.4,908.1 C1308.1,908.3 1311.8,908.1 1315.5,907 C1319.2,906 1322.9,903.9 1326.6,901.8 C1330.4,899.7 1334.4,896.6 1337.8,894.3 C1341.1,892.1 1343.7,889.4 1346.7,888.4 C1349.7,887.4 1352.4,887.4 1355.6,888.4 C1358.8,889.4 1362.1,892.4 1365.6,894.3 C1369.2,896.3 1373.1,898.6 1376.8,900.3 C1380.5,902 1383.3,903.5 1387.9,904.8 C1392.5,906 1392.2,907.6 1404.6,907.8 C1417.1,907.9 1450,906.3 1462.5,905.5 C1475.1,904.8 1476.9,903.7 1479.8,903.3" stroke="#6cc4ee" stroke-width="2.8" fill="none" clip-path="url(#clipD)"/>
<path d="M1316.6,974.4 C1318.7,969.5 1325,953.4 1328.9,945 C1332.8,936.6 1336.7,929.4 1340,924.1 C1343.3,918.9 1345.6,916.9 1348.9,913.7 C1352.3,910.5 1356.3,906.8 1360.1,904.8 C1363.8,902.8 1367.9,902.8 1371.2,901.8 C1374.5,900.8 1376.4,900.4 1380.1,898.8 C1383.8,897.2 1389.4,893.4 1393.5,892.1 C1397.6,890.9 1393.1,891.5 1404.6,891.4 C1416.1,891.2 1450,890.6 1462.5,891.4 C1475.1,892.1 1476.9,895.1 1479.8,895.8" stroke="#6cc4ee" stroke-width="2.8" fill="none" clip-path="url(#clipD)"/>
<path d="M1332.2,974.4 C1334.6,969.5 1342.4,953.4 1346.7,945 C1351,936.6 1355,928.9 1357.8,924.1 C1360.6,919.4 1361.2,919.4 1363.4,916.7 C1365.6,914 1368.8,910.2 1371.2,907.8 C1373.6,905.3 1376.8,902.8 1377.9,901.8" stroke="#6cc4ee" stroke-width="2.8" fill="none" clip-path="url(#clipD)"/>
<path d="M1093,855.2 C1095.8,855.1 1104.7,854.9 1110,854.2 C1115.3,853.5 1120.6,852.4 1124.8,851 C1129.1,849.6 1132.2,848.7 1135.4,845.7 C1138.6,842.7 1141.4,838.1 1143.9,833 C1146.4,827.8 1149.6,817.9 1150.7,814.9" stroke="#3a3a3a" stroke-width="3" fill="none" clip-path="url(#clipD)"/>
<path d="M1093,856.3 C1096.5,856.7 1107.1,857.7 1114.2,858.4 C1121.3,859.1 1128.3,860 1135.4,860.5 C1142.5,861.1 1149.6,861.5 1156.6,861.6 C1163.7,861.7 1171.5,861.1 1177.8,861 C1184.2,860.8 1190,860.6 1194.8,860.5 C1199.6,860.5 1203.7,861.1 1206.9,860.5 C1210.1,860 1211,859.8 1213.9,857.4 C1216.8,854.9 1220.6,850.5 1224.5,845.7 C1228.4,840.9 1233.6,833.9 1237.2,828.7 C1240.8,823.6 1244.6,817.2 1246.1,814.9" stroke="#3a3a3a" stroke-width="3" fill="none" clip-path="url(#clipD)"/>
<path d="M1149.8,814.9 C1151,817.2 1153.7,824.3 1156.6,828.7 C1159.5,833.1 1163.7,837.9 1167.2,841.5 C1170.8,845 1173.9,847.8 1177.8,849.9 C1181.7,852.1 1185.7,853.3 1190.6,854.2 C1195.4,855.1 1202.7,855.9 1206.9,855.2 C1211.1,854.5 1212.4,853.3 1216,849.9 C1219.7,846.6 1224.8,839.7 1228.7,835.1 C1232.6,830.5 1236.8,825.7 1239.3,822.4 C1241.9,819 1243.2,816.2 1244,814.9" stroke="#3a3a3a" stroke-width="3" fill="none" clip-path="url(#clipD)"/>
<path d="M1093,907.2 C1095.1,906.8 1101.5,906.1 1105.7,905.1 C1110,904 1114.9,903 1118.5,900.8 C1122,898.7 1123.4,897.3 1126.9,892.4 C1130.5,887.4 1135.4,877.5 1139.7,871.1 C1143.9,864.8 1148.5,858.4 1152.4,854.2 C1156.3,849.9 1159.5,847.5 1163,845.7 C1166.5,843.9 1169.7,843.2 1173.6,843.6 C1177.5,843.9 1182.1,845.3 1186.3,847.8 C1190.6,850.3 1195.6,855.4 1199,858.4 C1202.5,861.4 1204.1,863.7 1206.9,865.8 C1209.7,868 1213.1,868.1 1216,871.1 C1218.9,874.1 1221.7,879.6 1224.5,883.9 C1227.3,888.1 1229.4,893.1 1233,896.6 C1236.5,900.1 1240.8,903 1245.7,905.1 C1250.7,907.2 1258.1,908.4 1262.7,909.3 C1267.2,910.2 1268,910 1273.1,910.4 C1278.1,910.7 1289.7,911.3 1293,911.4" stroke="#3a3a3a" stroke-width="3" fill="none" clip-path="url(#clipD)"/>
<path d="M1093,969.8 C1094.8,968.9 1100.1,967.5 1103.6,964.5 C1107.1,961.5 1110.7,957.4 1114.2,951.7 C1117.7,946.1 1121.3,937.6 1124.8,930.5 C1128.3,923.5 1131.5,915.7 1135.4,909.3 C1139.3,903 1143.5,896.6 1148.1,892.4 C1152.7,888.1 1158,884.9 1163,883.9 C1167.9,882.8 1173.2,884.2 1177.8,886 C1182.4,887.8 1186.7,891.3 1190.6,894.5 C1194.4,897.7 1198.4,902.8 1201.2,905.1 C1203.9,907.4 1204.4,908.3 1206.9,908.3 C1209.4,908.3 1213.1,907 1216,905.1 C1218.9,903.1 1221.7,900.1 1224.5,896.6 C1227.3,893.1 1230.2,888.8 1233,883.9 C1235.8,878.9 1238.3,873.3 1241.5,866.9 C1244.6,860.5 1248.5,852.8 1252.1,845.7 C1255.6,838.6 1260.1,829.6 1262.7,824.5 C1265.2,819.4 1266.6,816.5 1267.3,814.9" stroke="#3a3a3a" stroke-width="3" fill="none" clip-path="url(#clipD)"/>
<path d="M1158.7,1138.4 C1159.8,1130.6 1162.6,1106.6 1165.1,1091.7 C1167.6,1076.9 1171.1,1061.7 1173.6,1049.3 C1176.1,1036.9 1177.8,1028.1 1180,1017.5 C1182.1,1006.9 1183.8,996.3 1186.3,985.7 C1188.8,975.1 1192.3,962.7 1194.8,953.9 C1197.3,945 1199.2,938 1201.2,932.6 C1203.2,927.3 1204.4,923.1 1206.9,922 C1209.4,921 1213.1,923.5 1216,926.3 C1218.9,929.1 1221.7,934.1 1224.5,939 C1227.3,944 1229.4,950.3 1233,956 C1236.5,961.6 1241.5,968 1245.7,972.9 C1249.9,977.9 1253.9,983 1258.4,985.7 C1263,988.3 1267.3,988.3 1273.1,988.9 C1278.8,989.4 1289.7,988.9 1293,988.9" stroke="#3a3a3a" stroke-width="3" fill="none" clip-path="url(#clipD)"/>
<path d="M1093,881.7 C1095.8,882.8 1104.7,884.9 1110,888.1 C1115.3,891.3 1120.6,896.2 1124.8,900.8 C1129.1,905.4 1131.9,910 1135.4,915.7 C1139,921.3 1142.5,928.1 1146,934.8 C1149.6,941.5 1153.1,948.6 1156.6,956 C1160.2,963.4 1163.7,971.2 1167.2,979.3 C1170.8,987.4 1174.7,997.3 1177.8,1004.8 C1181,1012.2 1183.1,1018.2 1186.3,1023.8 C1189.5,1029.5 1193.5,1035.6 1196.9,1038.7 C1200.4,1041.8 1203,1041.5 1206.9,1042.5 C1210.8,1043.6 1215.2,1043.6 1220.3,1045.1 C1225.3,1046.5 1231.6,1047.5 1237.2,1051.4 C1242.9,1055.3 1249.2,1061.7 1254.2,1068.4 C1259.1,1075.1 1263.8,1085 1266.9,1091.7 C1270.1,1098.4 1270.2,1100.9 1273.1,1108.7 C1275.9,1116.5 1282.1,1133.4 1283.9,1138.4" stroke="#3a3a3a" stroke-width="3" fill="none" clip-path="url(#clipD)"/>
<path d="M1180,1015.4 C1181.4,1018.9 1185.6,1030.2 1188.4,1036.6 C1191.3,1042.9 1193.8,1048.4 1196.9,1053.5 C1200,1058.7 1203.7,1064.1 1206.9,1067.3 C1210.1,1070.5 1212.4,1069.3 1216,1072.6 C1219.7,1076 1224.5,1081.1 1228.7,1087.5 C1233,1093.8 1237.9,1102.3 1241.5,1110.8 C1245,1119.3 1248.5,1133.8 1249.9,1138.4" stroke="#3a3a3a" stroke-width="3" fill="none" clip-path="url(#clipD)"/>
<path d="M1262.7,1138.4 C1263.7,1135.2 1267.3,1124.1 1269,1119.3 C1270.8,1114.5 1271.3,1111.2 1273.1,1109.7 C1274.8,1108.3 1277.5,1112.7 1279.6,1110.8 C1281.8,1108.9 1283.8,1103 1286,1098.1 C1288.2,1093.1 1291.8,1083.9 1293,1081.1" stroke="#3a3a3a" stroke-width="3" fill="none" clip-path="url(#clipD)"/>
<path d="M1285.7,814.9 C1287.8,819.7 1294.2,834.2 1298.5,843.6 C1302.7,852.9 1307.3,864.1 1311.2,871.1 C1315.1,878.2 1318.6,882.8 1321.8,886 C1325,889.2 1326.7,890.2 1330.3,890.2 C1333.8,890.2 1338.4,888.1 1343,886 C1347.6,883.9 1353.2,880.3 1357.8,877.5 C1362.4,874.7 1366.3,871.7 1370.6,869 C1374.8,866.4 1379,863.5 1383.3,861.6 C1387.5,859.7 1392.5,858.3 1396,857.4 C1399.5,856.4 1399.8,856.2 1404.1,855.9 C1408.3,855.5 1415,855.5 1421.5,855.2 C1427.9,855 1435.8,854.4 1442.7,854.2 C1449.5,853.9 1457.3,853.6 1462.4,853.8 C1467.5,853.9 1471.2,855 1473,855.2" stroke="#3a3a3a" stroke-width="3" fill="none" clip-path="url(#clipD)"/>
<path d="M1360,814.9 C1361,817.2 1363.1,824 1366.3,828.7 C1369.5,833.5 1374.8,839.5 1379,843.6 C1383.3,847.6 1387.6,851 1391.8,853.1 C1395.9,855.2 1402,855.8 1404.1,856.3" stroke="#3a3a3a" stroke-width="3" fill="none" clip-path="url(#clipD)"/>
<path d="M1306.9,814.9 C1308.3,817.2 1312.2,824 1315.4,828.7 C1318.6,833.5 1322.5,839.5 1326,843.6 C1329.6,847.6 1333.4,851.3 1336.6,853.1 C1339.8,854.9 1342.3,855.8 1345.1,854.2 C1347.9,852.6 1351.1,847.8 1353.6,843.6 C1356.1,839.3 1358.2,833.5 1360,828.7 C1361.7,824 1363.5,817.2 1364.2,814.9" stroke="#3a3a3a" stroke-width="3" fill="none" clip-path="url(#clipD)"/>
<path d="M1304.8,814.9 C1307.6,818.7 1316.5,830.3 1321.8,837.2 C1327.1,844.1 1332,849.6 1336.6,856.3 C1341.2,863 1345.8,871.5 1349.4,877.5 C1352.9,883.5 1355,887.6 1357.8,892.4 C1360.7,897.1 1364.2,904.9 1366.3,906.1 C1368.4,907.4 1369.1,901.3 1370.6,899.8 C1372,898.3 1372.7,896.8 1374.8,897 C1376.9,897.2 1379.8,899.3 1383.3,900.8 C1386.8,902.4 1392.5,905 1396,906.1 C1399.5,907.3 1399.8,907.8 1404.1,907.6 C1408.3,907.4 1415,906.7 1421.5,905.1 C1427.9,903.4 1435.8,899.4 1442.7,897.7 C1449.5,896 1457.3,895.4 1462.4,894.9 C1467.5,894.4 1471.2,894.5 1473,894.5" stroke="#3a3a3a" stroke-width="3" fill="none" clip-path="url(#clipD)"/>
<path d="M1304.8,814.9 C1307.6,818.7 1316.5,830.3 1321.8,837.2 C1327.1,844.1 1332,849.6 1336.6,856.3 C1341.2,863 1345.8,871.5 1349.4,877.5 C1352.9,883.5 1355,887.6 1357.8,892.4 C1360.7,897.1 1364.9,903.8 1366.3,906.1" stroke="#3a3a3a" stroke-width="3" fill="none" clip-path="url(#clipD)"/>
<path d="M1273,910.4 C1276.5,910.7 1287.5,912.1 1294.2,912.5 C1300.9,912.9 1308,913.7 1313.3,912.5 C1318.6,911.3 1321.4,908.1 1326,905.1 C1330.6,902.1 1337,897.1 1340.9,894.5 C1344.8,891.8 1346.5,889.9 1349.4,889.2 C1352.2,888.5 1354.7,889.2 1357.8,890.2 C1361,891.3 1364.9,893.9 1368.4,895.5 C1372,897.1 1377.3,899.1 1379,899.8" stroke="#3a3a3a" stroke-width="3" fill="none" clip-path="url(#clipD)"/>
<path d="M1298.5,1138.4 C1300.2,1131.3 1305.5,1110.1 1309.1,1096 C1312.6,1081.8 1316.1,1067 1319.7,1053.5 C1323.2,1040.1 1326.7,1027.4 1330.3,1015.4 C1333.8,1003.3 1337.3,992 1340.9,981.4 C1344.4,970.8 1348.3,960.6 1351.5,951.7 C1354.7,942.9 1357.5,934.8 1360,928.4 C1362.4,922 1364.2,913.5 1366.3,913.1 C1368.4,912.8 1370.2,921.3 1372.7,926.3 C1375.2,931.3 1378,937.6 1381.2,943.3 C1384.3,948.9 1388.6,956 1391.8,960.2 C1395,964.5 1398.2,967 1400.3,968.7 C1402.3,970.4 1402.3,968.3 1404.1,970.4 C1405.8,972.5 1408.3,976.1 1410.9,981.4 C1413.4,986.8 1416.5,994.9 1419.3,1002.6 C1422.2,1010.4 1425,1018.5 1427.8,1028.1 C1430.7,1037.6 1433.8,1050 1436.3,1059.9 C1438.8,1069.8 1440.2,1078.6 1442.7,1087.5 C1445.1,1096.3 1448.7,1106.2 1451.2,1112.9 C1453.6,1119.6 1455.6,1124.2 1457.5,1127.8 C1459.4,1131.3 1460.6,1134.5 1462.4,1134.1 C1464.2,1133.8 1466.4,1129.2 1468.1,1125.7 C1469.9,1122.1 1472.2,1115 1473,1112.9" stroke="#3a3a3a" stroke-width="3" fill="none" clip-path="url(#clipD)"/>
<path d="M1288.9,1138.4 C1290.9,1128.8 1296.9,1096 1300.6,1081.1 C1304.3,1066.3 1307.6,1059.9 1311.2,1049.3 C1314.7,1038.7 1318.2,1028.1 1321.8,1017.5 C1325.3,1006.9 1328.9,995.2 1332.4,985.7 C1335.9,976.1 1339.5,968.7 1343,960.2 C1346.5,951.7 1350.1,942.5 1353.6,934.8 C1357.1,927 1361.4,918.5 1364.2,913.6 C1367,908.6 1367.4,909 1370.6,905.1 C1373.7,901.2 1379,893.9 1383.3,890.2 C1387.5,886.5 1392.5,884.3 1396,882.8 C1399.5,881.3 1399.8,881.6 1404.1,881.3 C1408.3,881.1 1415,881.3 1421.5,881.3 C1427.9,881.3 1435.8,881.3 1442.7,881.3 C1449.5,881.3 1457.3,880.9 1462.4,881.3 C1467.5,881.7 1471.2,883.4 1473,883.9" stroke="#3a3a3a" stroke-width="3" fill="none" clip-path="url(#clipD)"/>
<path d="M1273,988.9 C1275.1,988.9 1281.5,989 1285.7,988.9 C1290,988.7 1294.6,987.3 1298.5,987.8 C1302.3,988.3 1305.9,989.6 1309.1,992 C1312.2,994.5 1315.1,998.4 1317.5,1002.6 C1320,1006.9 1321.8,1011.5 1323.9,1017.5 C1326,1023.5 1328.1,1031.6 1330.3,1038.7 C1332.4,1045.8 1334.9,1052.8 1336.6,1059.9 C1338.4,1067 1339.5,1073 1340.9,1081.1 C1342.3,1089.2 1344,1099.1 1345.1,1108.7 C1346.2,1118.2 1346.9,1133.4 1347.2,1138.4" stroke="#3a3a3a" stroke-width="3" fill="none" clip-path="url(#clipD)"/>
<path d="M1273,1109.7 C1274.1,1109.7 1277.2,1107.8 1279.4,1109.7 C1281.5,1111.7 1284,1116.6 1285.7,1121.4 C1287.5,1126.2 1289.3,1135.5 1290,1138.4" stroke="#3a3a3a" stroke-width="3" fill="none" clip-path="url(#clipD)"/>
<path d="M1432.1,1138.4 C1433.1,1134.1 1436,1121.4 1438.4,1112.9 C1440.9,1104.4 1444.1,1095.6 1446.9,1087.5 C1449.7,1079.3 1452.8,1069.6 1455.4,1064.1 C1458,1058.7 1459.9,1055 1462.4,1054.6 C1464.9,1054.2 1468.5,1059.4 1470.2,1062 C1472,1064.7 1472.5,1069.1 1473,1070.5" stroke="#3a3a3a" stroke-width="3" fill="none" clip-path="url(#clipD)"/>
<path d="M1453,853.1 C1454.6,853 1457.2,851.9 1462.5,852.5 C1467.8,853 1477.6,855.1 1484.8,856.3 C1492.1,857.5 1499,858.8 1506,859.5 C1513.1,860.2 1520.2,860.4 1527.2,860.5 C1534.3,860.7 1540.2,860.5 1548.4,860.5 C1556.6,860.6 1569.4,860.4 1576.4,861 C1583.5,861.5 1586,862 1590.9,863.7 C1595.7,865.4 1600.4,867.8 1605.7,871.1 C1611,874.5 1617.7,880 1622.7,883.9 C1627.6,887.8 1632.1,892 1635.4,894.5 C1638.7,896.9 1639.7,897.7 1642.6,898.7 C1645.5,899.8 1651.3,900.5 1653,900.8" stroke="#3a3a3a" stroke-width="3" fill="none" clip-path="url(#clipD)"/>
<path d="M1493.3,815.6 C1493.7,815.7 1491.5,815.5 1495.4,816.4 C1499.3,817.4 1509.6,820 1516.6,821.3 C1523.7,822.6 1530.8,823.8 1537.8,824.5 C1544.9,825.2 1552.6,825.3 1559,825.5 C1565.5,825.8 1572.2,825.5 1576.4,826.2 C1580.7,826.9 1581,828.7 1584.5,829.8 C1588,830.9 1592.6,832.6 1597.2,833 C1601.8,833.3 1606.1,832.3 1612.1,831.9 C1618.1,831.6 1626.5,831 1633.3,830.8 C1640.1,830.7 1649.7,830.8 1653,830.8" stroke="#3a3a3a" stroke-width="3" fill="none" clip-path="url(#clipD)"/>
<path d="M1453,880.7 C1454.6,880.7 1459,880.3 1462.5,880.7 C1466.1,881 1470.5,881.6 1474.2,882.8 C1477.9,884 1481.3,885.8 1484.8,888.1 C1488.3,890.4 1491.9,893.4 1495.4,896.6 C1499,899.8 1502.5,903.7 1506,907.2 C1509.6,910.7 1513.1,914.6 1516.6,917.8 C1520.2,921 1523.7,922.8 1527.2,926.3 C1530.8,929.8 1534.3,934.8 1537.8,939 C1541.4,943.3 1544.9,948.2 1548.4,951.7 C1552,955.3 1555.2,958.1 1559,960.2 C1562.9,962.3 1568.2,963.4 1571.8,964.5 C1575.3,965.5 1577.4,964.5 1580.3,966.6 C1583.1,968.7 1585.9,972.6 1588.7,977.2 C1591.6,981.8 1594.4,987.8 1597.2,994.2 C1600,1000.5 1602.9,1008.3 1605.7,1015.4 C1608.5,1022.4 1611.4,1029.1 1614.2,1036.6 C1617,1044 1619.8,1052.1 1622.7,1059.9 C1625.5,1067.7 1628.3,1075.1 1631.2,1083.2 C1634,1091.4 1637.7,1103.7 1639.6,1108.7 C1641.5,1113.6 1640.4,1111.5 1642.6,1112.9 C1644.8,1114.3 1651.3,1116.5 1653,1117.2" stroke="#3a3a3a" stroke-width="3" fill="none" clip-path="url(#clipD)"/>
<path d="M1453,896.6 C1458.3,896.2 1476.7,896.9 1484.8,894.5 C1492.9,892 1497.2,885.6 1501.8,881.7 C1506.4,877.9 1508.9,875 1512.4,871.1 C1515.9,867.3 1519.5,862.3 1523,858.4 C1526.5,854.5 1530.4,850.3 1533.6,847.8 C1536.8,845.3 1537.8,843.6 1542.1,843.6 C1546.3,843.6 1553.3,846 1559,847.8 C1564.8,849.6 1571.5,853.8 1576.4,854.2 C1581.4,854.5 1584.6,852.4 1588.7,849.9 C1592.9,847.5 1597.2,843.9 1601.5,839.3 C1605.7,834.7 1611.4,826.4 1614.2,822.4 C1617,818.3 1617.7,816.2 1618.4,814.9" stroke="#3a3a3a" stroke-width="3" fill="none" clip-path="url(#clipD)"/>
<path d="M1453,854.2 C1454.6,854 1458.3,852.1 1462.5,853.1 C1466.8,854.2 1473,857.5 1478.5,860.5 C1483.9,863.5 1490.1,867.6 1495.4,871.1 C1500.7,874.7 1506.7,879.3 1510.3,881.7 C1513.8,884.2 1514.5,886 1516.6,886 C1518.7,886 1520.9,884.9 1523,881.7 C1525.1,878.6 1527.2,873.3 1529.4,866.9 C1531.5,860.5 1533.6,852.2 1535.7,843.6 C1537.8,834.9 1541,819.7 1542.1,814.9" stroke="#3a3a3a" stroke-width="3" fill="none" clip-path="url(#clipD)"/>
<path d="M1480.6,1138.4 C1482.3,1128.8 1488,1099.5 1491.2,1081.1 C1494.4,1062.7 1496.8,1044.7 1499.7,1028.1 C1502.5,1011.5 1505.7,995.6 1508.1,981.4 C1510.6,967.3 1512.4,952.4 1514.5,943.3 C1516.6,934.1 1519.1,930.4 1520.9,926.3 C1522.6,922.2 1523.7,919.6 1525.1,918.9 C1526.5,918.2 1527.2,919 1529.4,922 C1531.5,925 1535,931.9 1537.8,936.9 C1540.7,941.8 1542.8,943.6 1546.3,951.7 C1549.9,959.9 1555.5,975.8 1559,985.7 C1562.6,995.6 1564.6,1003.5 1567.5,1011.1 C1570.4,1018.7 1573.6,1031.3 1576.4,1031.3 C1579.3,1031.3 1581.4,1018.7 1584.5,1011.1 C1587.6,1003.5 1591.2,995.2 1595.1,985.7 C1599,976.1 1603.2,964.1 1607.8,953.9 C1612.4,943.6 1618.1,932.3 1622.7,924.2 C1627.3,916 1632.1,909.2 1635.4,905.1 C1638.7,900.9 1641.4,900.1 1642.6,899.1" stroke="#3a3a3a" stroke-width="3" fill="none" clip-path="url(#clipD)"/>
<path d="M1453,1064.1 C1454.6,1062.6 1459,1054.2 1462.5,1054.6 C1466.1,1055 1470.7,1061.1 1474.2,1066.3 C1477.7,1071.4 1480.9,1078.3 1483.8,1085.4 C1486.6,1092.4 1488.9,1099.8 1491.2,1108.7 C1493.5,1117.5 1496.5,1133.4 1497.5,1138.4" stroke="#3a3a3a" stroke-width="3" fill="none" clip-path="url(#clipD)"/>
<path d="M1462.5,1134.1 C1464.5,1131.3 1470.7,1125.3 1474.2,1117.2 C1477.7,1109 1482.2,1090.7 1483.8,1085.4" stroke="#3a3a3a" stroke-width="3" fill="none" clip-path="url(#clipD)"/>
<path d="M1516.6,934.8 C1518.4,939 1523.7,952.1 1527.2,960.2 C1530.8,968.4 1534.3,975.8 1537.8,983.6 C1541.4,991.3 1544.9,998.4 1548.4,1006.9 C1552,1015.4 1555.9,1026.3 1559,1034.5 C1562.2,1042.6 1564.6,1050.4 1567.5,1055.7 C1570.4,1061 1574.3,1063.8 1576.4,1066.3 C1578.6,1068.7 1578.2,1065.2 1580.3,1070.5 C1582.3,1075.8 1585.9,1086.8 1588.7,1098.1 C1591.6,1109.4 1595.8,1131.7 1597.2,1138.4" stroke="#3a3a3a" stroke-width="3" fill="none" clip-path="url(#clipD)"/>
<path d="M1546.3,1138.4 C1547.7,1133.4 1552,1118.9 1554.8,1108.7 C1557.6,1098.4 1560.5,1086.8 1563.3,1076.9 C1566.1,1067 1569.6,1055.7 1571.8,1049.3 C1574,1042.9 1574.3,1040.8 1576.4,1038.7 C1578.6,1036.6 1581,1038.3 1584.5,1036.6 C1588,1034.8 1593,1031.6 1597.2,1028.1 C1601.5,1024.6 1605.7,1019.6 1609.9,1015.4 C1614.2,1011.1 1618.4,1006.5 1622.7,1002.6 C1626.9,998.8 1632.1,994 1635.4,992 C1638.7,990.1 1639.7,991.2 1642.6,991 C1645.5,990.8 1651.3,991 1653,991" stroke="#3a3a3a" stroke-width="3" fill="none" clip-path="url(#clipD)"/>
<path d="M1633,829.8 C1634.6,829.8 1637.5,829.6 1642.8,829.8 C1648.1,830 1657.6,830.1 1664.8,830.8 C1672,831.6 1680.7,833 1686,834 C1691.3,835.1 1693.1,835.3 1696.6,837.2 C1700.2,839.2 1704.4,842.9 1707.2,845.7 C1710.1,848.5 1711.1,850.6 1713.6,854.2 C1716.1,857.7 1719.2,863 1722.1,866.9 C1724.9,870.8 1727,874 1730.6,877.5 C1734.1,881 1739,885.5 1743.3,888.1 C1747.5,890.8 1751,892.2 1756,893.4 C1761.1,894.6 1770.7,895.2 1773.6,895.5" stroke="#3a3a3a" stroke-width="3" fill="none" clip-path="url(#clipD)"/>
<path d="M1689.2,814.9 C1690.4,816.5 1694,821.5 1696.6,824.5 C1699.3,827.5 1701.6,831.2 1705.1,833 C1708.6,834.7 1713.6,835.1 1717.8,835.1 C1722.1,835.1 1726.3,834.7 1730.6,833 C1734.8,831.2 1739.9,827.5 1743.3,824.5 C1746.6,821.5 1749.5,816.5 1750.7,814.9" stroke="#3a3a3a" stroke-width="3" fill="none" clip-path="url(#clipD)"/>
<path d="M1693.4,814.9 C1695,819.4 1699.6,833.9 1703,841.5 C1706.3,849.1 1709.7,855.4 1713.6,860.5 C1717.5,865.7 1722.1,871.5 1726.3,872.2 C1730.6,872.9 1734.1,867.3 1739,864.8 C1744,862.3 1750.2,859.1 1756,857.4 C1761.8,855.6 1770.7,854.7 1773.6,854.2" stroke="#3a3a3a" stroke-width="3" fill="none" clip-path="url(#clipD)"/>
<path d="M1633,896.6 C1634.6,896.8 1639.9,897.1 1642.8,897.7 C1645.6,898.2 1647.4,898.5 1650,899.8 C1652.6,901 1655.6,904 1658.5,905.1 C1661.3,906.1 1664.1,906.5 1666.9,906.1 C1669.8,905.8 1672.2,904.5 1675.4,903 C1678.6,901.4 1682.5,898.7 1686,896.6 C1689.6,894.5 1693.1,892.7 1696.6,890.2 C1700.2,887.8 1703.7,884.4 1707.2,881.7 C1710.8,879.1 1714.3,876.4 1717.8,874.3 C1721.4,872.2 1724.2,870.8 1728.4,869 C1732.7,867.3 1738,865.7 1743.3,863.7 C1748.6,861.8 1755.2,858.9 1760.3,857.4 C1765.3,855.8 1771.4,854.7 1773.6,854.2" stroke="#3a3a3a" stroke-width="3" fill="none" clip-path="url(#clipD)"/>
<path d="M1633,909.3 C1634.6,907.6 1639.2,901.9 1642.8,898.7 C1646.3,895.5 1650.5,892.2 1654.2,890.2 C1657.9,888.3 1661.3,887.8 1664.8,887 C1668.3,886.3 1671.9,886.2 1675.4,886 C1679,885.8 1682.5,886 1686,886 C1689.6,886 1693.4,885.3 1696.6,886 C1699.8,886.7 1702.6,888.1 1705.1,890.2 C1707.6,892.4 1709.4,894.8 1711.5,898.7 C1713.6,902.6 1716.1,909 1717.8,913.6 C1719.6,918.2 1721,923.1 1722.1,926.3 C1723.1,929.5 1722.8,933.7 1724.2,932.6 C1725.6,931.6 1728.1,924.2 1730.6,919.9 C1733,915.7 1736.2,910.7 1739,907.2 C1741.9,903.7 1744,902.2 1747.5,898.7 C1751.1,895.2 1755.9,889 1760.3,886 C1764.6,883 1771.4,881.6 1773.6,880.7" stroke="#3a3a3a" stroke-width="3" fill="none" clip-path="url(#clipD)"/>
<path d="M1650,1110.8 C1651.7,1105.9 1657,1091.4 1660.6,1081.1 C1664.1,1070.9 1667.6,1059.9 1671.2,1049.3 C1674.7,1038.7 1678.2,1028.1 1681.8,1017.5 C1685.3,1006.9 1688.9,995.2 1692.4,985.7 C1695.9,976.1 1699.5,968 1703,960.2 C1706.5,952.4 1710.4,945 1713.6,939 C1716.8,933 1719.2,928.4 1722.1,924.2 C1724.9,919.9 1727,917.4 1730.6,913.6 C1734.1,909.7 1739,904 1743.3,900.8 C1747.5,897.7 1751,895.9 1756,894.5 C1761.1,893.1 1770.7,892.7 1773.6,892.4" stroke="#3a3a3a" stroke-width="3" fill="none" clip-path="url(#clipD)"/>
<path d="M1679.7,1138.4 C1681.1,1132.4 1685.3,1113.6 1688.1,1102.3 C1691,1091 1693.8,1081.1 1696.6,1070.5 C1699.5,1059.9 1702.3,1050 1705.1,1038.7 C1707.9,1027.4 1710.8,1015 1713.6,1002.6 C1716.4,990.3 1720.3,974.5 1722.1,964.5 C1723.8,954.4 1722.8,942.2 1724.2,942.2 C1725.6,942.2 1728.1,954.4 1730.6,964.5 C1733,974.5 1736.2,990.3 1739,1002.6 C1741.9,1015 1744.7,1026.7 1747.5,1038.7 C1750.4,1050.7 1753.2,1063.1 1756,1074.7 C1758.8,1086.4 1761.6,1098.8 1764.5,1108.7 C1767.4,1118.6 1772.1,1129.9 1773.6,1134.1" stroke="#3a3a3a" stroke-width="3" fill="none" clip-path="url(#clipD)"/>
<path d="M1633,991 C1634.6,991 1639.2,990.8 1642.8,991 C1646.3,991.2 1650.5,990.4 1654.2,992 C1657.9,993.6 1661.3,995.9 1664.8,1000.5 C1668.3,1005.1 1672.2,1012.9 1675.4,1019.6 C1678.6,1026.3 1681.4,1033.4 1683.9,1040.8 C1686.4,1048.2 1688.1,1056 1690.3,1064.1 C1692.4,1072.3 1694.5,1081.5 1696.6,1089.6 C1698.7,1097.7 1700.9,1104.8 1703,1112.9 C1705.1,1121.1 1708.3,1134.1 1709.4,1138.4" stroke="#3a3a3a" stroke-width="3" fill="none" clip-path="url(#clipD)"/>
<path d="M1633,1108.7 C1634.6,1109.4 1639.9,1111.5 1642.8,1112.9 C1645.6,1114.3 1647.7,1112.9 1650,1117.2 C1652.2,1121.4 1655.3,1134.8 1656.3,1138.4" stroke="#3a3a3a" stroke-width="3" fill="none" clip-path="url(#clipD)"/>
<path d="M1739,1138.4 C1740.5,1133.4 1744.7,1117.9 1747.5,1108.7 C1750.4,1099.5 1753.2,1090.7 1756,1083.2 C1758.8,1075.8 1761.6,1068.9 1764.5,1064.1 C1767.4,1059.4 1772.1,1056.2 1773.6,1054.6" stroke="#3a3a3a" stroke-width="3" fill="none" clip-path="url(#clipD)"/>
<path d="M1773.6,825.5 C1775.6,825.9 1781.6,826.4 1785.7,827.7 C1789.8,828.9 1794.2,830.7 1798.4,833 C1802.7,835.3 1806.9,837.9 1811.2,841.5 C1815.4,845 1820.4,849.9 1823.9,854.2 C1827.3,858.4 1830.6,864.8 1831.9,866.9" stroke="#3a3a3a" stroke-width="3" fill="none" clip-path="url(#clipD)"/>
<path d="M1773.6,854.2 C1778.5,854.2 1793,854.2 1802.7,854.2 C1812.4,854.2 1827.1,854.2 1831.9,854.2" stroke="#3a3a3a" stroke-width="3" fill="none" clip-path="url(#clipD)"/>
<path d="M1773.6,860.5 C1778.5,860.5 1793,860.7 1802.7,860.5 C1812.4,860.4 1827.1,859.7 1831.9,859.5" stroke="#3a3a3a" stroke-width="3" fill="none" clip-path="url(#clipD)"/>
<path d="M1773.6,964.5 C1774.9,965.2 1778.7,965.9 1781.5,968.7 C1784.2,971.5 1787.6,977.9 1789.9,981.4 C1792.2,985 1793.1,989.9 1795.2,989.9 C1797.4,989.9 1799.7,987.4 1802.7,981.4 C1805.7,975.4 1809.7,963 1813.3,953.9 C1816.8,944.7 1820.8,933.4 1823.9,926.3 C1827,919.2 1830.6,913.9 1831.9,911.4" stroke="#3a3a3a" stroke-width="3" fill="none" clip-path="url(#clipD)"/>
<path d="M1773.6,1032.3 C1774.9,1030.9 1778.7,1027.4 1781.5,1023.8 C1784.2,1020.3 1787.1,1015.7 1789.9,1011.1 C1792.8,1006.5 1795.6,1002.6 1798.4,996.3 C1801.3,989.9 1804.1,981.8 1806.9,972.9 C1809.7,964.1 1812.6,952.4 1815.4,943.3 C1818.2,934.1 1821.1,923.5 1823.9,917.8 C1826.6,912.1 1830.6,910.7 1831.9,909.3" stroke="#3a3a3a" stroke-width="3" fill="none" clip-path="url(#clipD)"/>
<path d="M1773.6,1038.7 C1775.6,1036.2 1781.9,1029.9 1785.7,1023.8 C1789.5,1017.8 1792.8,1003.3 1796.3,1002.6 C1799.8,1001.9 1803,1013.9 1806.9,1019.6 C1810.8,1025.3 1815.5,1032.7 1819.6,1036.6 C1823.8,1040.5 1829.9,1041.9 1831.9,1042.9" stroke="#3a3a3a" stroke-width="3" fill="none" clip-path="url(#clipD)"/>
<path d="M1773.6,1066.3 C1778.5,1066.4 1793,1067 1802.7,1067.3 C1812.4,1067.7 1827.1,1068.2 1831.9,1068.4" stroke="#3a3a3a" stroke-width="3" fill="none" clip-path="url(#clipD)"/>
<path d="M1831.9,814.9 C1833.4,817.2 1837.6,823.6 1840.8,828.7 C1844.1,833.9 1847.9,840 1851.5,845.7 C1855,851.3 1858.5,857 1862.1,862.7 C1865.6,868.3 1869.1,874.7 1872.7,879.6 C1876.2,884.6 1880.3,889.5 1883.3,892.4 C1886.3,895.2 1889.5,895.9 1890.7,896.6" stroke="#3a3a3a" stroke-width="3" fill="none" clip-path="url(#clipD)"/>
<path d="M1831.9,909.3 C1833.4,908.6 1837.6,908.6 1840.8,905.1 C1844.1,901.5 1847.9,894.1 1851.5,888.1 C1855,882.1 1858.5,875.4 1862.1,869 C1865.6,862.7 1869.1,855.6 1872.7,849.9 C1876.2,844.3 1880.3,838.3 1883.3,835.1 C1886.3,831.9 1889.5,831.6 1890.7,830.8" stroke="#3a3a3a" stroke-width="3" fill="none" clip-path="url(#clipD)"/>
<path d="M1831.9,988.9 L1890.7,989.9" stroke="#3a3a3a" stroke-width="3" fill="none" clip-path="url(#clipD)"/>
<path d="M1831.9,1109.7 L1890.7,1114" stroke="#3a3a3a" stroke-width="3" fill="none" clip-path="url(#clipD)"/>
<rect x="1187.4" y="887.4" width="44" height="99.9" fill="none" stroke="#e8201c" stroke-width="3.2"/>
<rect x="84" y="40" width="797" height="642.4" fill="none" stroke="#111" stroke-width="1.7"/>
<line x1="74" y1="200.7" x2="84" y2="200.7" stroke="#111" stroke-width="1.5"/>
<line x1="74" y1="361.2" x2="84" y2="361.2" stroke="#111" stroke-width="1.5"/>
<line x1="74" y1="521.7" x2="84" y2="521.7" stroke="#111" stroke-width="1.5"/>
<line x1="74" y1="682.2" x2="84" y2="682.2" stroke="#111" stroke-width="1.5"/>
<line x1="79" y1="72.3" x2="84" y2="72.3" stroke="#111" stroke-width="1.3"/>
<line x1="79" y1="104.4" x2="84" y2="104.4" stroke="#111" stroke-width="1.3"/>
<line x1="79" y1="136.5" x2="84" y2="136.5" stroke="#111" stroke-width="1.3"/>
<line x1="79" y1="168.6" x2="84" y2="168.6" stroke="#111" stroke-width="1.3"/>
<line x1="79" y1="232.8" x2="84" y2="232.8" stroke="#111" stroke-width="1.3"/>
<line x1="79" y1="264.9" x2="84" y2="264.9" stroke="#111" stroke-width="1.3"/>
<line x1="79" y1="297" x2="84" y2="297" stroke="#111" stroke-width="1.3"/>
<line x1="79" y1="329.1" x2="84" y2="329.1" stroke="#111" stroke-width="1.3"/>
<line x1="79" y1="393.3" x2="84" y2="393.3" stroke="#111" stroke-width="1.3"/>
<line x1="79" y1="425.4" x2="84" y2="425.4" stroke="#111" stroke-width="1.3"/>
<line x1="79" y1="457.5" x2="84" y2="457.5" stroke="#111" stroke-width="1.3"/>
<line x1="79" y1="489.6" x2="84" y2="489.6" stroke="#111" stroke-width="1.3"/>
<line x1="79" y1="553.8" x2="84" y2="553.8" stroke="#111" stroke-width="1.3"/>
<line x1="79" y1="585.9" x2="84" y2="585.9" stroke="#111" stroke-width="1.3"/>
<line x1="79" y1="618" x2="84" y2="618" stroke="#111" stroke-width="1.3"/>
<line x1="79" y1="650.1" x2="84" y2="650.1" stroke="#111" stroke-width="1.3"/>
<text x="68" y="210.5" font-size="27.5" text-anchor="end" fill="#111">1</text>
<text x="68" y="371" font-size="27.5" text-anchor="end" fill="#111">0</text>
<text x="68" y="531.5" font-size="27.5" text-anchor="end" fill="#111">−1</text>
<text x="68" y="692" font-size="27.5" text-anchor="end" fill="#111">−2</text>
<text x="84" y="726" font-size="30" text-anchor="middle" fill="#111" style="font-family:'Liberation Serif',serif">Γ</text>
<text x="197.4" y="726" font-size="28.5" text-anchor="middle" fill="#111">M</text>
<text x="263.3" y="726" font-size="28.5" text-anchor="middle" fill="#111">K</text>
<text x="394.7" y="726" font-size="30" text-anchor="middle" fill="#111" style="font-family:'Liberation Serif',serif">Γ</text>
<text x="453" y="726" font-size="28.5" text-anchor="middle" fill="#111">A</text>
<text x="567" y="726" font-size="28.5" text-anchor="middle" fill="#111">L</text>
<text x="632" y="726" font-size="28.5" text-anchor="middle" fill="#111">H</text>
<text x="764" y="726" font-size="28.5" text-anchor="middle" fill="#111">A<tspan dx="1">|</tspan><tspan dx="1">L</tspan></text>
<text x="822.6" y="726" font-size="28.5" text-anchor="middle" fill="#111">M<tspan dx="1">|</tspan><tspan dx="1">K</tspan></text>
<text x="881" y="726" font-size="28.5" text-anchor="middle" fill="#111">H</text>
<text transform="translate(37,346.5) rotate(-90)" font-size="29" text-anchor="middle" fill="#111"><tspan font-style="italic">E</tspan> − <tspan font-style="italic">E</tspan><tspan font-size="19" dy="6">F</tspan><tspan dy="-6"> (eV)</tspan></text>
<rect x="84" y="816" width="797" height="641.8" fill="none" stroke="#111" stroke-width="1.7"/>
<line x1="74" y1="976.1" x2="84" y2="976.1" stroke="#111" stroke-width="1.5"/>
<line x1="74" y1="1136.6" x2="84" y2="1136.6" stroke="#111" stroke-width="1.5"/>
<line x1="74" y1="1297.1" x2="84" y2="1297.1" stroke="#111" stroke-width="1.5"/>
<line x1="74" y1="1457.6" x2="84" y2="1457.6" stroke="#111" stroke-width="1.5"/>
<line x1="79" y1="847.7" x2="84" y2="847.7" stroke="#111" stroke-width="1.3"/>
<line x1="79" y1="879.8" x2="84" y2="879.8" stroke="#111" stroke-width="1.3"/>
<line x1="79" y1="911.9" x2="84" y2="911.9" stroke="#111" stroke-width="1.3"/>
<line x1="79" y1="944" x2="84" y2="944" stroke="#111" stroke-width="1.3"/>
<line x1="79" y1="1008.2" x2="84" y2="1008.2" stroke="#111" stroke-width="1.3"/>
<line x1="79" y1="1040.3" x2="84" y2="1040.3" stroke="#111" stroke-width="1.3"/>
<line x1="79" y1="1072.4" x2="84" y2="1072.4" stroke="#111" stroke-width="1.3"/>
<line x1="79" y1="1104.5" x2="84" y2="1104.5" stroke="#111" stroke-width="1.3"/>
<line x1="79" y1="1168.7" x2="84" y2="1168.7" stroke="#111" stroke-width="1.3"/>
<line x1="79" y1="1200.8" x2="84" y2="1200.8" stroke="#111" stroke-width="1.3"/>
<line x1="79" y1="1232.9" x2="84" y2="1232.9" stroke="#111" stroke-width="1.3"/>
<line x1="79" y1="1265" x2="84" y2="1265" stroke="#111" stroke-width="1.3"/>
<line x1="79" y1="1329.2" x2="84" y2="1329.2" stroke="#111" stroke-width="1.3"/>
<line x1="79" y1="1361.3" x2="84" y2="1361.3" stroke="#111" stroke-width="1.3"/>
<line x1="79" y1="1393.4" x2="84" y2="1393.4" stroke="#111" stroke-width="1.3"/>
<line x1="79" y1="1425.5" x2="84" y2="1425.5" stroke="#111" stroke-width="1.3"/>
<text x="68" y="985.9" font-size="27.5" text-anchor="end" fill="#111">1</text>
<text x="68" y="1146.4" font-size="27.5" text-anchor="end" fill="#111">0</text>
<text x="68" y="1306.9" font-size="27.5" text-anchor="end" fill="#111">−1</text>
<text x="68" y="1467.4" font-size="27.5" text-anchor="end" fill="#111">−2</text>
<text x="84" y="1501" font-size="30" text-anchor="middle" fill="#111" style="font-family:'Liberation Serif',serif">Γ</text>
<text x="197.4" y="1501" font-size="28.5" text-anchor="middle" fill="#111">M</text>
<text x="263.3" y="1501" font-size="28.5" text-anchor="middle" fill="#111">K</text>
<text x="394.7" y="1501" font-size="30" text-anchor="middle" fill="#111" style="font-family:'Liberation Serif',serif">Γ</text>
<text x="453" y="1501" font-size="28.5" text-anchor="middle" fill="#111">A</text>
<text x="567" y="1501" font-size="28.5" text-anchor="middle" fill="#111">L</text>
<text x="632" y="1501" font-size="28.5" text-anchor="middle" fill="#111">H</text>
<text x="764" y="1501" font-size="28.5" text-anchor="middle" fill="#111">A<tspan dx="1">|</tspan><tspan dx="1">L</tspan></text>
<text x="822.6" y="1501" font-size="28.5" text-anchor="middle" fill="#111">M<tspan dx="1">|</tspan><tspan dx="1">K</tspan></text>
<text x="881" y="1501" font-size="28.5" text-anchor="middle" fill="#111">H</text>
<text transform="translate(37,1121.5) rotate(-90)" font-size="29" text-anchor="middle" fill="#111"><tspan font-style="italic">E</tspan> − <tspan font-style="italic">E</tspan><tspan font-size="19" dy="6">F</tspan><tspan dy="-6"> (eV)</tspan></text>
<rect x="1093.8" y="816" width="797" height="321.2" fill="none" stroke="#111" stroke-width="1.7"/>
<line x1="1083.8" y1="922.5" x2="1093.8" y2="922.5" stroke="#111" stroke-width="1.5"/>
<line x1="1083.8" y1="1137.2" x2="1093.8" y2="1137.2" stroke="#111" stroke-width="1.5"/>
<line x1="1088.8" y1="836.6" x2="1093.8" y2="836.6" stroke="#111" stroke-width="1.3"/>
<line x1="1088.8" y1="879.6" x2="1093.8" y2="879.6" stroke="#111" stroke-width="1.3"/>
<line x1="1088.8" y1="965.4" x2="1093.8" y2="965.4" stroke="#111" stroke-width="1.3"/>
<line x1="1088.8" y1="1008.4" x2="1093.8" y2="1008.4" stroke="#111" stroke-width="1.3"/>
<line x1="1088.8" y1="1051.3" x2="1093.8" y2="1051.3" stroke="#111" stroke-width="1.3"/>
<line x1="1088.8" y1="1094.3" x2="1093.8" y2="1094.3" stroke="#111" stroke-width="1.3"/>
<text x="1077.8" y="932.3" font-size="27.5" text-anchor="end" fill="#111">0</text>
<text x="1077.8" y="1147" font-size="27.5" text-anchor="end" fill="#111">−1</text>
<text x="1093.8" y="1180" font-size="30" text-anchor="middle" fill="#111" style="font-family:'Liberation Serif',serif">Γ</text>
<text x="1207.2" y="1180" font-size="28.5" text-anchor="middle" fill="#111">M</text>
<text x="1273.1" y="1180" font-size="28.5" text-anchor="middle" fill="#111">K</text>
<text x="1404.5" y="1180" font-size="30" text-anchor="middle" fill="#111" style="font-family:'Liberation Serif',serif">Γ</text>
<text x="1462.8" y="1180" font-size="28.5" text-anchor="middle" fill="#111">A</text>
<text x="1576.8" y="1180" font-size="28.5" text-anchor="middle" fill="#111">L</text>
<text x="1641.8" y="1180" font-size="28.5" text-anchor="middle" fill="#111">H</text>
<text x="1773.8" y="1180" font-size="28.5" text-anchor="middle" fill="#111">A<tspan dx="1">|</tspan><tspan dx="1">L</tspan></text>
<text x="1832.4" y="1180" font-size="28.5" text-anchor="middle" fill="#111">M<tspan dx="1">|</tspan><tspan dx="1">K</tspan></text>
<text x="1890.8" y="1180" font-size="28.5" text-anchor="middle" fill="#111">H</text>
<text transform="translate(1047,961) rotate(-90)" font-size="29" text-anchor="middle" fill="#111"><tspan font-style="italic">E</tspan> − <tspan font-style="italic">E</tspan><tspan font-size="19" dy="6">F</tspan><tspan dy="-6"> (eV)</tspan></text>
<text x="5" y="52" font-size="34" font-weight="bold" fill="#000">a</text>
<text x="905" y="52" font-size="34" font-weight="bold" fill="#000">b</text>
<text x="5" y="781" font-size="34" font-weight="bold" fill="#000">c</text>
<text x="958" y="781" font-size="34" font-weight="bold" fill="#000">d</text>
<line x1="263" y1="14" x2="331" y2="14" stroke="#333" stroke-width="3"/>
<text x="339" y="24" font-size="28.5" fill="#111">GGA-DFT</text>
<line x1="507" y1="14" x2="574" y2="14" stroke="#e8262c" stroke-width="3" stroke-dasharray="9,5"/>
<text x="584" y="24" font-size="28.5" fill="#e8262c">Wannier</text>
<line x1="263" y1="786" x2="329" y2="786" stroke="#cc1f10" stroke-width="3" stroke-dasharray="14,5,3,5"/>
<text x="340" y="795" font-size="28.5" fill="#cc1f10">CsV<tspan font-size="20" dy="7">3</tspan><tspan dy="-7">Sb</tspan><tspan font-size="20" dy="7">5</tspan></text>
<line x1="492" y1="786" x2="558" y2="786" stroke="#1414dc" stroke-width="3"/>
<text x="566" y="795" font-size="28.5" fill="#1414dc">CsCr<tspan font-size="20" dy="7">3</tspan><tspan dy="-7">Sb</tspan><tspan font-size="20" dy="7">5</tspan></text>
<text x="1252" y="795" font-size="28.5" fill="#111">CsCr<tspan font-size="20" dy="7">3</tspan><tspan dy="-7">Sb</tspan><tspan font-size="20" dy="7">5</tspan></text>
<line x1="1398" y1="785" x2="1465" y2="785" stroke="#6cc4ee" stroke-width="3"/>
<text x="1473" y="795" font-size="28.5" fill="#6cc4ee">0 GPa</text>
<line x1="1570" y1="785" x2="1637" y2="785" stroke="#333" stroke-width="3"/>
<text x="1645" y="795" font-size="28.5" fill="#333">5 GPa</text>
<path d="M1010,86.8 H1390.6 M1010,86.8 L1058,170 M1105,86.8 L1152.5,170 M1105,86.8 L1058,170 M1200,86.8 L1247.6,170 M1200,86.8 L1152.5,170 M1295,86.8 L1342.8,170 M1295,86.8 L1247.6,170 M1390.6,86.8 L1438,170 M1390.6,86.8 L1342.8,170 M1058,170 H1438 M1058,170 L1105,252.2 M1152.5,170 L1200,252.2 M1152.5,170 L1105,252.2 M1247.6,170 L1295,252.2 M1247.6,170 L1200,252.2 M1342.8,170 L1390.6,252.2 M1342.8,170 L1295,252.2 M1438,170 L1485.4,252.2 M1438,170 L1390.6,252.2 M1105,252.2 H1485.4 M1105,252.2 L1152.5,334.8 M1200,252.2 L1247.6,334.8 M1200,252.2 L1152.5,334.8 M1295,252.2 L1342.8,334.8 M1295,252.2 L1247.6,334.8 M1390.6,252.2 L1438,334.8 M1390.6,252.2 L1342.8,334.8 M1485.4,252.2 L1533,334.8 M1485.4,252.2 L1438,334.8 M1152.5,334.8 H1533 M1152.5,334.8 L1200,417.7 M1247.6,334.8 L1295,417.7 M1247.6,334.8 L1200,417.7 M1342.8,334.8 L1390.6,417.7 M1342.8,334.8 L1295,417.7 M1438,334.8 L1485.4,417.7 M1438,334.8 L1390.6,417.7 M1533,334.8 L1581,417.7 M1533,334.8 L1485.4,417.7 M1200,417.7 H1581" stroke="#8a8a8a" stroke-width="1.3" stroke-dasharray="4,3" fill="none"/>
<path d="M1105,141.5 H1485.4 L1675.7,471.6 H1295 Z M1295.4,141.5 L1485.4,471.6 M1200,307.6 H1581" stroke="#111" stroke-width="1.6" fill="none"/>
<circle cx="1010" cy="86.8" r="20" fill="url(#gD)"/>
<circle cx="1105" cy="86.8" r="18.3" fill="url(#gG)"/>
<circle cx="1200" cy="86.8" r="20" fill="url(#gD)"/>
<circle cx="1295" cy="86.8" r="18.3" fill="url(#gG)"/>
<circle cx="1390.6" cy="86.8" r="20" fill="url(#gD)"/>
<circle cx="1058" cy="170" r="18.3" fill="url(#gG)"/>
<circle cx="1152.5" cy="170" r="18.3" fill="url(#gG)"/>
<circle cx="1247.6" cy="170" r="18.3" fill="url(#gG)"/>
<circle cx="1342.8" cy="170" r="18.3" fill="url(#gG)"/>
<circle cx="1438" cy="170" r="18.3" fill="url(#gG)"/>
<circle cx="1105" cy="252.2" r="20" fill="url(#gD)"/>
<circle cx="1200" cy="252.2" r="18.3" fill="url(#gG)"/>
<circle cx="1295" cy="252.2" r="20" fill="url(#gD)"/>
<circle cx="1390.6" cy="252.2" r="18.3" fill="url(#gG)"/>
<circle cx="1485.4" cy="252.2" r="20" fill="url(#gD)"/>
<circle cx="1152.5" cy="334.8" r="18.3" fill="url(#gG)"/>
<circle cx="1247.6" cy="334.8" r="18.3" fill="url(#gG)"/>
<circle cx="1342.8" cy="334.8" r="18.3" fill="url(#gG)"/>
<circle cx="1438" cy="334.8" r="18.3" fill="url(#gG)"/>
<circle cx="1533" cy="334.8" r="18.3" fill="url(#gG)"/>
<circle cx="1200" cy="417.7" r="20" fill="url(#gD)"/>
<circle cx="1295" cy="417.7" r="18.3" fill="url(#gG)"/>
<circle cx="1390.6" cy="417.7" r="20" fill="url(#gD)"/>
<circle cx="1485.4" cy="417.7" r="18.3" fill="url(#gG)"/>
<circle cx="1581" cy="417.7" r="20" fill="url(#gD)"/>
<circle cx="1105" cy="141.5" r="19.5" fill="url(#gO)"/>
<circle cx="1295.4" cy="141.5" r="19.5" fill="url(#gO)"/>
<circle cx="1200" cy="197.4" r="19.5" fill="url(#gO)"/>
<circle cx="1390.6" cy="197.4" r="19.5" fill="url(#gO)"/>
<circle cx="1200" cy="307.6" r="19.5" fill="url(#gO)"/>
<circle cx="1390.6" cy="307.6" r="19.5" fill="url(#gO)"/>
<circle cx="1295" cy="362.2" r="19.5" fill="url(#gO)"/>
<circle cx="1485.4" cy="362.2" r="19.5" fill="url(#gO)"/>
<path d="M1105,141.5 H1485.4 M1105,141.5 L1125,176 M1295.4,141.5 L1330,201 M1200,307.6 H1410 M1181,274.5 L1225,351" stroke="#111" stroke-width="1.3" fill="none" opacity="0.9"/>
<circle cx="1200.3" cy="197.2" r="8.3" fill="#1a1af0"/>
<circle cx="1200.3" cy="308" r="8.3" fill="#1a1af0"/>
<circle cx="1295.6" cy="252.5" r="8.3" fill="#1a1af0"/>
<circle cx="1247.5" cy="334.9" r="8.3" fill="#1a1af0"/>
<circle cx="1342.8" cy="334.9" r="8.3" fill="#1a1af0"/>
<circle cx="1295.6" cy="417.2" r="8.3" fill="#1a1af0"/>
<polygon points="1196,216.4 1196,236 1191,236 1200,249 1209,236 1204,236 1204,216.4" fill="#e8242a"/><line x1="1200" y1="218.4" x2="1200" y2="236" stroke="#ff9a9a" stroke-width="2.4" stroke-linecap="round"/>
<polygon points="1204,287.7 1204,268 1209,268 1200,255 1191,268 1196,268 1196,287.7" fill="#e8242a"/><line x1="1200" y1="285.7" x2="1200" y2="268" stroke="#ff9a9a" stroke-width="2.4" stroke-linecap="round"/>
<polygon points="1315,256.5 1336,256.5 1336,261.5 1349,252.5 1336,243.5 1336,248.5 1315,248.5" fill="#e8242a"/><line x1="1317" y1="252.5" x2="1336" y2="252.5" stroke="#ff9a9a" stroke-width="2.4" stroke-linecap="round"/>
<polygon points="1260.4,348.5 1279.7,359 1277.3,363.4 1293,361.7 1285.9,347.6 1283.5,352 1264.2,341.5" fill="#e8242a"/><line x1="1264.1" y1="346" x2="1281.6" y2="355.5" stroke="#ff9a9a" stroke-width="2.4" stroke-linecap="round"/>
<polygon points="1326.9,339.8 1308.1,350.9 1305.6,346.6 1299,361 1314.8,362.1 1312.2,357.8 1330.9,346.6" fill="#e8242a"/><line x1="1327.2" y1="344.2" x2="1310.2" y2="354.4" stroke="#ff9a9a" stroke-width="2.4" stroke-linecap="round"/>
<polygon points="1299.6,400.6 1299.6,378 1304.6,378 1295.6,365 1286.6,378 1291.6,378 1291.6,400.6" fill="#e8242a"/><line x1="1295.6" y1="398.6" x2="1295.6" y2="378" stroke="#ff9a9a" stroke-width="2.4" stroke-linecap="round"/>
<polygon points="1219.7,201.2 1241,201.2 1241,206.2 1254,197.2 1241,188.2 1241,193.2 1219.7,193.2" fill="#4ee83c"/><line x1="1221.7" y1="197.2" x2="1241" y2="197.2" stroke="#c8ffc0" stroke-width="2.4" stroke-linecap="round"/>
<polygon points="1181.8,304 1160,304 1160,299 1147,308 1160,317 1160,312 1181.8,312" fill="#4ee83c"/><line x1="1179.8" y1="308" x2="1160" y2="308" stroke="#c8ffc0" stroke-width="2.4" stroke-linecap="round"/>
<polygon points="1299.6,233 1299.6,212.5 1304.6,212.5 1295.6,199.5 1286.6,212.5 1291.6,212.5 1291.6,233" fill="#4ee83c"/><line x1="1295.6" y1="231" x2="1295.6" y2="212.5" stroke="#c8ffc0" stroke-width="2.4" stroke-linecap="round"/>
<polygon points="1259.1,321.2 1272.1,302 1276.2,304.8 1276,289 1261.3,294.8 1265.4,297.5 1252.5,316.8" fill="#4ee83c"/><line x1="1256.9" y1="317.3" x2="1268.7" y2="299.8" stroke="#c8ffc0" stroke-width="2.4" stroke-linecap="round"/>
<polygon points="1346.9,352.9 1360.4,372.5 1356.2,375.4 1371,381 1371.1,365.2 1367,368 1353.5,348.3" fill="#4ee83c"/><line x1="1351.3" y1="352.3" x2="1363.7" y2="370.3" stroke="#c8ffc0" stroke-width="2.4" stroke-linecap="round"/>
<polygon points="1278,413.2 1255.5,413.2 1255.5,408.2 1242.5,417.2 1255.5,426.2 1255.5,421.2 1278,421.2" fill="#4ee83c"/><line x1="1276" y1="417.2" x2="1255.5" y2="417.2" stroke="#c8ffc0" stroke-width="2.4" stroke-linecap="round"/>
<polygon points="1023.6,392 1023.6,336.5 1029.6,336.5 1017.6,319.5 1005.6,336.5 1011.6,336.5 1011.6,392" fill="#1a1ae8"/><line x1="1017.6" y1="390" x2="1017.6" y2="336.5" stroke="#6a6aff" stroke-width="3.6" stroke-linecap="round"/>
<polygon points="1024.1,400.1 1068.1,382.3 1069.8,386.5 1079,372 1062.3,368 1064,372.1 1019.9,389.9" fill="#4ee83c"/><line x1="1023.9" y1="394.3" x2="1066" y2="377.2" stroke="#c8ffc0" stroke-width="3.3" stroke-linecap="round"/>
<polygon points="1020,404.1 1064,421.1 1062.3,425.3 1079,421 1069.5,406.6 1067.9,410.8 1024,393.9" fill="#e8242a"/><line x1="1023.9" y1="399.7" x2="1065.9" y2="416" stroke="#ff9a9a" stroke-width="3.3" stroke-linecap="round"/>
<circle cx="1017.6" cy="396.7" r="16" fill="url(#gA)"/>
<text x="952" y="305.5" font-size="26" font-weight="bold" fill="#1a1ad8">local <tspan font-style="italic">z</tspan></text>
<text x="1040" y="356" font-size="26" font-weight="bold" fill="#52e03c">local <tspan font-style="italic">y</tspan></text>
<text x="944" y="431" font-size="26" font-weight="bold" fill="#454545">Atom</text>
<text x="1031" y="456.5" font-size="26" font-weight="bold" fill="#e0201e">local <tspan font-style="italic">x</tspan></text>
<text x="1411" y="77" font-size="26" font-weight="bold" fill="#7a3e1c">Sb1</text>
<text x="1364" y="173.5" font-size="26" font-weight="bold" fill="#2a7a22">Cr3</text>
<text x="1456" y="189.5" font-size="26" font-weight="bold" fill="#2a7a22">Cr2</text>
<text x="1410" y="228.5" font-size="26" font-weight="bold" fill="#e5884a">Sb2</text>
<text x="1411" y="281" font-size="26" font-weight="bold" fill="#2a7a22">Cr1</text>
<path d="M1751.7,54.6 H1888.9 M1751.7,54.6 L1717.4,96.9 M1751.7,54.6 L1786,96.9 M1820.3,54.6 L1786,96.9 M1820.3,54.6 L1854.6,96.9 M1888.9,54.6 L1854.6,96.9 M1888.9,54.6 L1923.2,96.9 M1717.4,96.9 H1923.2 M1717.4,96.9 L1683.1,139.2 M1717.4,96.9 L1751.7,139.2 M1786,96.9 L1751.7,139.2 M1786,96.9 L1820.3,139.2 M1854.6,96.9 L1820.3,139.2 M1854.6,96.9 L1888.9,139.2 M1923.2,96.9 L1888.9,139.2 M1923.2,96.9 L1957.5,139.2 M1683.1,139.2 H1957.5 M1683.1,139.2 L1717.4,181.5 M1751.7,139.2 L1717.4,181.5 M1751.7,139.2 L1786,181.5 M1820.3,139.2 L1786,181.5 M1820.3,139.2 L1854.6,181.5 M1888.9,139.2 L1854.6,181.5 M1888.9,139.2 L1923.2,181.5 M1957.5,139.2 L1923.2,181.5 M1717.4,181.5 H1923.2 M1717.4,181.5 L1751.7,223.8 M1786,181.5 L1751.7,223.8 M1786,181.5 L1820.3,223.8 M1854.6,181.5 L1820.3,223.8 M1854.6,181.5 L1888.9,223.8 M1923.2,181.5 L1888.9,223.8 M1751.7,223.8 H1888.9" stroke="#a8a8a8" stroke-width="1.2" stroke-dasharray="3,3" fill="none"/>
<circle cx="1751.7" cy="54.6" r="12.8" fill="url(#gG)"/>
<circle cx="1820.3" cy="54.6" r="12.8" fill="url(#gG)"/>
<circle cx="1888.9" cy="54.6" r="12.8" fill="url(#gG)"/>
<circle cx="1717.4" cy="96.9" r="13.8" fill="url(#gD)"/>
<circle cx="1786" cy="96.9" r="12.8" fill="url(#gG)"/>
<circle cx="1854.6" cy="96.9" r="13.8" fill="url(#gD)"/>
<circle cx="1923.2" cy="96.9" r="12.8" fill="url(#gG)"/>
<circle cx="1683.1" cy="139.2" r="12.8" fill="url(#gG)"/>
<circle cx="1751.7" cy="139.2" r="12.8" fill="url(#gG)"/>
<circle cx="1888.9" cy="139.2" r="12.8" fill="url(#gG)"/>
<circle cx="1957.5" cy="139.2" r="12.8" fill="url(#gG)"/>
<circle cx="1717.4" cy="181.5" r="12.8" fill="url(#gG)"/>
<circle cx="1786" cy="181.5" r="13.8" fill="url(#gD)"/>
<circle cx="1854.6" cy="181.5" r="12.8" fill="url(#gG)"/>
<circle cx="1923.2" cy="181.5" r="13.8" fill="url(#gD)"/>
<circle cx="1751.7" cy="223.8" r="12.8" fill="url(#gG)"/>
<circle cx="1888.9" cy="223.8" r="12.8" fill="url(#gG)"/>
<circle cx="1820.3" cy="139.2" r="11" fill="url(#gG)"/>
<ellipse cx="1801.5" cy="150" rx="15.5" ry="14" fill="url(#gYe)" stroke="#c8c878" stroke-width="0.8" opacity="0.85"/><ellipse cx="1803" cy="123" rx="17" ry="21" fill="url(#gCy)" stroke="#5ccccc" stroke-width="0.8" opacity="0.85"/><ellipse cx="1834" cy="157.6" rx="19.5" ry="17" fill="url(#gCy)" stroke="#5ccccc" stroke-width="0.8" opacity="0.85"/><polygon points="1830,130.5 1840.3,117.3 1841.9,118.5 1842,111 1834.8,113 1836.3,114.2 1826,127.5" fill="#40d030"/><polygon points="1822.5,139 1822.5,117 1825.5,117 1820,108 1814.5,117 1817.5,117 1817.5,139" fill="#1a1af0"/><polygon points="1825.1,145.3 1854.7,157 1853.6,159.8 1864,158 1857.6,149.6 1856.5,152.4 1826.9,140.7" fill="#e8242a"/><ellipse cx="1834.6" cy="133" rx="19" ry="21" fill="url(#gYe)" stroke="#c8c878" stroke-width="0.8" opacity="0.8" transform="rotate(35 1834.6 133)"/>
<rect x="1798.4" y="192.7" width="44.6" height="48.1" fill="#c4c4c4"/>
<text x="1803" y="228" font-size="30" font-style="italic" fill="#111">d<tspan font-size="21" dy="7">xz</tspan></text>
<path d="M1751.7,286.2 H1888.9 M1751.7,286.2 L1717.4,328.5 M1751.7,286.2 L1786,328.5 M1820.3,286.2 L1786,328.5 M1820.3,286.2 L1854.6,328.5 M1888.9,286.2 L1854.6,328.5 M1888.9,286.2 L1923.2,328.5 M1717.4,328.5 H1923.2 M1717.4,328.5 L1683.1,370.8 M1717.4,328.5 L1751.7,370.8 M1786,328.5 L1751.7,370.8 M1786,328.5 L1820.3,370.8 M1854.6,328.5 L1820.3,370.8 M1854.6,328.5 L1888.9,370.8 M1923.2,328.5 L1888.9,370.8 M1923.2,328.5 L1957.5,370.8 M1683.1,370.8 H1957.5 M1683.1,370.8 L1717.4,413.1 M1751.7,370.8 L1717.4,413.1 M1751.7,370.8 L1786,413.1 M1820.3,370.8 L1786,413.1 M1820.3,370.8 L1854.6,413.1 M1888.9,370.8 L1854.6,413.1 M1888.9,370.8 L1923.2,413.1 M1957.5,370.8 L1923.2,413.1 M1717.4,413.1 H1923.2 M1717.4,413.1 L1751.7,455.4 M1786,413.1 L1751.7,455.4 M1786,413.1 L1820.3,455.4 M1854.6,413.1 L1820.3,455.4 M1854.6,413.1 L1888.9,455.4 M1923.2,413.1 L1888.9,455.4 M1751.7,455.4 H1888.9" stroke="#a8a8a8" stroke-width="1.2" stroke-dasharray="3,3" fill="none"/>
<circle cx="1751.7" cy="286.2" r="12.8" fill="url(#gG)"/>
<circle cx="1820.3" cy="286.2" r="12.8" fill="url(#gG)"/>
<circle cx="1888.9" cy="286.2" r="12.8" fill="url(#gG)"/>
<circle cx="1717.4" cy="328.5" r="13.8" fill="url(#gD)"/>
<circle cx="1786" cy="328.5" r="12.8" fill="url(#gG)"/>
<circle cx="1854.6" cy="328.5" r="13.8" fill="url(#gD)"/>
<circle cx="1923.2" cy="328.5" r="12.8" fill="url(#gG)"/>
<circle cx="1683.1" cy="370.8" r="12.8" fill="url(#gG)"/>
<circle cx="1751.7" cy="370.8" r="12.8" fill="url(#gG)"/>
<circle cx="1888.9" cy="370.8" r="12.8" fill="url(#gG)"/>
<circle cx="1957.5" cy="370.8" r="12.8" fill="url(#gG)"/>
<circle cx="1717.4" cy="413.1" r="12.8" fill="url(#gG)"/>
<circle cx="1786" cy="413.1" r="13.8" fill="url(#gD)"/>
<circle cx="1854.6" cy="413.1" r="12.8" fill="url(#gG)"/>
<circle cx="1923.2" cy="413.1" r="13.8" fill="url(#gD)"/>
<circle cx="1751.7" cy="455.4" r="12.8" fill="url(#gG)"/>
<circle cx="1888.9" cy="455.4" r="12.8" fill="url(#gG)"/>
<circle cx="1820.3" cy="370.8" r="11" fill="url(#gG)"/>
<ellipse cx="1828" cy="349" rx="22" ry="19.5" fill="url(#gYe)" stroke="#c8c878" stroke-width="0.8" opacity="0.85"/><ellipse cx="1812" cy="395" rx="22" ry="16.5" fill="url(#gYe)" stroke="#c8c878" stroke-width="0.8" opacity="0.85"/><ellipse cx="1840.7" cy="375" rx="10" ry="11" fill="url(#gCy)" stroke="#5ccccc" stroke-width="0.8" opacity="0.85"/><polygon points="1822.5,371 1822.5,347 1825.5,347 1820,338 1814.5,347 1817.5,347 1817.5,371" fill="#1a1af0"/><polygon points="1825.1,377.3 1853.7,388.2 1852.6,391 1863,389 1856.5,380.7 1855.5,383.5 1826.9,372.7" fill="#e8242a"/><ellipse cx="1812" cy="369" rx="22" ry="15" fill="url(#gCy)" stroke="#5ccccc" stroke-width="0.8" opacity="0.85" transform="rotate(20 1812 369)"/>
<rect x="1798.4" y="423.8" width="44.6" height="48.3" fill="#c4c4c4"/>
<text x="1803" y="460" font-size="30" font-style="italic" fill="#111">d<tspan font-size="21" dy="7">yz</tspan></text>
<path d="M1043.4,510.2 H1180.6 M1043.4,510.2 L1009.1,552.5 M1043.4,510.2 L1077.7,552.5 M1112,510.2 L1077.7,552.5 M1112,510.2 L1146.3,552.5 M1180.6,510.2 L1146.3,552.5 M1180.6,510.2 L1214.9,552.5 M1009.1,552.5 H1214.9 M1009.1,552.5 L974.8,594.8 M1009.1,552.5 L1043.4,594.8 M1077.7,552.5 L1043.4,594.8 M1077.7,552.5 L1112,594.8 M1146.3,552.5 L1112,594.8 M1146.3,552.5 L1180.6,594.8 M1214.9,552.5 L1180.6,594.8 M1214.9,552.5 L1249.2,594.8 M974.8,594.8 H1249.2 M974.8,594.8 L1009.1,637.1 M1043.4,594.8 L1009.1,637.1 M1043.4,594.8 L1077.7,637.1 M1112,594.8 L1077.7,637.1 M1112,594.8 L1146.3,637.1 M1180.6,594.8 L1146.3,637.1 M1180.6,594.8 L1214.9,637.1 M1249.2,594.8 L1214.9,637.1 M1009.1,637.1 H1214.9 M1009.1,637.1 L1043.4,679.4 M1077.7,637.1 L1043.4,679.4 M1077.7,637.1 L1112,679.4 M1146.3,637.1 L1112,679.4 M1146.3,637.1 L1180.6,679.4 M1214.9,637.1 L1180.6,679.4 M1043.4,679.4 H1180.6" stroke="#a8a8a8" stroke-width="1.2" stroke-dasharray="3,3" fill="none"/>
<circle cx="1043.4" cy="510.2" r="12.8" fill="url(#gG)"/>
<circle cx="1112" cy="510.2" r="12.8" fill="url(#gG)"/>
<circle cx="1180.6" cy="510.2" r="12.8" fill="url(#gG)"/>
<circle cx="1009.1" cy="552.5" r="13.8" fill="url(#gD)"/>
<circle cx="1077.7" cy="552.5" r="12.8" fill="url(#gG)"/>
<circle cx="1146.3" cy="552.5" r="13.8" fill="url(#gD)"/>
<circle cx="1214.9" cy="552.5" r="12.8" fill="url(#gG)"/>
<circle cx="974.8" cy="594.8" r="12.8" fill="url(#gG)"/>
<circle cx="1043.4" cy="594.8" r="12.8" fill="url(#gG)"/>
<circle cx="1180.6" cy="594.8" r="12.8" fill="url(#gG)"/>
<circle cx="1249.2" cy="594.8" r="12.8" fill="url(#gG)"/>
<circle cx="1009.1" cy="637.1" r="12.8" fill="url(#gG)"/>
<circle cx="1077.7" cy="637.1" r="13.8" fill="url(#gD)"/>
<circle cx="1146.3" cy="637.1" r="12.8" fill="url(#gG)"/>
<circle cx="1214.9" cy="637.1" r="13.8" fill="url(#gD)"/>
<circle cx="1043.4" cy="679.4" r="12.8" fill="url(#gG)"/>
<circle cx="1180.6" cy="679.4" r="12.8" fill="url(#gG)"/>
<circle cx="1112" cy="594.8" r="11" fill="url(#gG)"/>
<ellipse cx="1088" cy="584.6" rx="19" ry="21" fill="url(#gYe)" stroke="#c8c878" stroke-width="0.8" opacity="0.85"/><ellipse cx="1126.6" cy="575" rx="15" ry="16" fill="url(#gCy)" stroke="#5ccccc" stroke-width="0.8" opacity="0.85"/><polygon points="1114.5,594 1114.5,570 1117.5,570 1112,561 1106.5,570 1109.5,570 1109.5,594" fill="#1a1af0"/><polygon points="1117.1,600.3 1144.7,611.1 1143.6,613.9 1154,612 1147.6,603.6 1146.5,606.4 1118.9,595.7" fill="#e8242a"/><ellipse cx="1098.5" cy="608" rx="16.5" ry="22.5" fill="url(#gCy)" stroke="#5ccccc" stroke-width="0.8" opacity="0.85"/><ellipse cx="1135.7" cy="604.4" rx="19.3" ry="21.4" fill="url(#gYe)" stroke="#c8c878" stroke-width="0.8" opacity="0.75"/>
<rect x="1072" y="653" width="75.8" height="48" fill="#c4c4c4"/>
<text x="1077" y="688" font-size="30" font-style="italic" fill="#111">d<tspan font-size="20" dy="8">x</tspan><tspan font-size="13" dy="-11">2</tspan><tspan font-size="20" dy="11">− y</tspan><tspan font-size="13" dy="-11">2</tspan></text>
<path d="M1395.4,510.2 H1532.6 M1395.4,510.2 L1361.1,552.5 M1395.4,510.2 L1429.7,552.5 M1464,510.2 L1429.7,552.5 M1464,510.2 L1498.3,552.5 M1532.6,510.2 L1498.3,552.5 M1532.6,510.2 L1566.9,552.5 M1361.1,552.5 H1566.9 M1361.1,552.5 L1326.8,594.8 M1361.1,552.5 L1395.4,594.8 M1429.7,552.5 L1395.4,594.8 M1429.7,552.5 L1464,594.8 M1498.3,552.5 L1464,594.8 M1498.3,552.5 L1532.6,594.8 M1566.9,552.5 L1532.6,594.8 M1566.9,552.5 L1601.2,594.8 M1326.8,594.8 H1601.2 M1326.8,594.8 L1361.1,637.1 M1395.4,594.8 L1361.1,637.1 M1395.4,594.8 L1429.7,637.1 M1464,594.8 L1429.7,637.1 M1464,594.8 L1498.3,637.1 M1532.6,594.8 L1498.3,637.1 M1532.6,594.8 L1566.9,637.1 M1601.2,594.8 L1566.9,637.1 M1361.1,637.1 H1566.9 M1361.1,637.1 L1395.4,679.4 M1429.7,637.1 L1395.4,679.4 M1429.7,637.1 L1464,679.4 M1498.3,637.1 L1464,679.4 M1498.3,637.1 L1532.6,679.4 M1566.9,637.1 L1532.6,679.4 M1395.4,679.4 H1532.6" stroke="#a8a8a8" stroke-width="1.2" stroke-dasharray="3,3" fill="none"/>
<circle cx="1395.4" cy="510.2" r="12.8" fill="url(#gG)"/>
<circle cx="1464" cy="510.2" r="12.8" fill="url(#gG)"/>
<circle cx="1532.6" cy="510.2" r="12.8" fill="url(#gG)"/>
<circle cx="1361.1" cy="552.5" r="13.8" fill="url(#gD)"/>
<circle cx="1429.7" cy="552.5" r="12.8" fill="url(#gG)"/>
<circle cx="1498.3" cy="552.5" r="13.8" fill="url(#gD)"/>
<circle cx="1566.9" cy="552.5" r="12.8" fill="url(#gG)"/>
<circle cx="1326.8" cy="594.8" r="12.8" fill="url(#gG)"/>
<circle cx="1395.4" cy="594.8" r="12.8" fill="url(#gG)"/>
<circle cx="1532.6" cy="594.8" r="12.8" fill="url(#gG)"/>
<circle cx="1601.2" cy="594.8" r="12.8" fill="url(#gG)"/>
<circle cx="1361.1" cy="637.1" r="12.8" fill="url(#gG)"/>
<circle cx="1429.7" cy="637.1" r="13.8" fill="url(#gD)"/>
<circle cx="1498.3" cy="637.1" r="12.8" fill="url(#gG)"/>
<circle cx="1566.9" cy="637.1" r="13.8" fill="url(#gD)"/>
<circle cx="1395.4" cy="679.4" r="12.8" fill="url(#gG)"/>
<circle cx="1532.6" cy="679.4" r="12.8" fill="url(#gG)"/>
<circle cx="1464" cy="594.8" r="11" fill="url(#gG)"/>
<ellipse cx="1456.7" cy="570" rx="17.3" ry="15.5" fill="url(#gYe)" stroke="#c8c878" stroke-width="0.8" opacity="0.85"/><ellipse cx="1439" cy="599" rx="19.6" ry="21.4" fill="url(#gCy)" stroke="#5ccccc" stroke-width="0.8" opacity="0.85"/><ellipse cx="1489.4" cy="589.4" rx="19.9" ry="21" fill="url(#gCy)" stroke="#5ccccc" stroke-width="0.8" opacity="0.85"/><polygon points="1474.1,585.4 1483.7,571.4 1485.3,572.5 1485,565 1477.9,567.4 1479.5,568.5 1469.9,582.6" fill="#40d030"/><polygon points="1466.5,594 1466.5,570 1469.5,570 1464,561 1458.5,570 1461.5,570 1461.5,594" fill="#1a1af0"/><polygon points="1469,600.3 1497.7,612.7 1496.6,615.5 1507,614 1500.9,605.4 1499.7,608.1 1471,595.7" fill="#e8242a"/><ellipse cx="1471.8" cy="610.8" rx="17.8" ry="23.2" fill="url(#gYe)" stroke="#c8c878" stroke-width="0.8" opacity="0.8"/>
<rect x="1441.8" y="653" width="43.8" height="48" fill="#c4c4c4"/>
<text x="1446" y="688" font-size="30" font-style="italic" fill="#111">d<tspan font-size="21" dy="7">xy</tspan></text>
<path d="M1747.4,509 H1884.6 M1747.4,509 L1713.1,551.3 M1747.4,509 L1781.7,551.3 M1816,509 L1781.7,551.3 M1816,509 L1850.3,551.3 M1884.6,509 L1850.3,551.3 M1884.6,509 L1918.9,551.3 M1713.1,551.3 H1918.9 M1713.1,551.3 L1678.8,593.6 M1713.1,551.3 L1747.4,593.6 M1781.7,551.3 L1747.4,593.6 M1781.7,551.3 L1816,593.6 M1850.3,551.3 L1816,593.6 M1850.3,551.3 L1884.6,593.6 M1918.9,551.3 L1884.6,593.6 M1918.9,551.3 L1953.2,593.6 M1678.8,593.6 H1953.2 M1678.8,593.6 L1713.1,635.9 M1747.4,593.6 L1713.1,635.9 M1747.4,593.6 L1781.7,635.9 M1816,593.6 L1781.7,635.9 M1816,593.6 L1850.3,635.9 M1884.6,593.6 L1850.3,635.9 M1884.6,593.6 L1918.9,635.9 M1953.2,593.6 L1918.9,635.9 M1713.1,635.9 H1918.9 M1713.1,635.9 L1747.4,678.2 M1781.7,635.9 L1747.4,678.2 M1781.7,635.9 L1816,678.2 M1850.3,635.9 L1816,678.2 M1850.3,635.9 L1884.6,678.2 M1918.9,635.9 L1884.6,678.2 M1747.4,678.2 H1884.6" stroke="#a8a8a8" stroke-width="1.2" stroke-dasharray="3,3" fill="none"/>
<circle cx="1747.4" cy="509" r="12.8" fill="url(#gG)"/>
<circle cx="1816" cy="509" r="12.8" fill="url(#gG)"/>
<circle cx="1884.6" cy="509" r="12.8" fill="url(#gG)"/>
<circle cx="1713.1" cy="551.3" r="13.8" fill="url(#gD)"/>
<circle cx="1781.7" cy="551.3" r="12.8" fill="url(#gG)"/>
<circle cx="1850.3" cy="551.3" r="13.8" fill="url(#gD)"/>
<circle cx="1918.9" cy="551.3" r="12.8" fill="url(#gG)"/>
<circle cx="1678.8" cy="593.6" r="12.8" fill="url(#gG)"/>
<circle cx="1747.4" cy="593.6" r="12.8" fill="url(#gG)"/>
<circle cx="1884.6" cy="593.6" r="12.8" fill="url(#gG)"/>
<circle cx="1953.2" cy="593.6" r="12.8" fill="url(#gG)"/>
<circle cx="1713.1" cy="635.9" r="12.8" fill="url(#gG)"/>
<circle cx="1781.7" cy="635.9" r="13.8" fill="url(#gD)"/>
<circle cx="1850.3" cy="635.9" r="12.8" fill="url(#gG)"/>
<circle cx="1918.9" cy="635.9" r="13.8" fill="url(#gD)"/>
<circle cx="1747.4" cy="678.2" r="12.8" fill="url(#gG)"/>
<circle cx="1884.6" cy="678.2" r="12.8" fill="url(#gG)"/>
<circle cx="1816" cy="593.6" r="11" fill="url(#gG)"/>
<ellipse cx="1816" cy="619" rx="17.5" ry="10" fill="url(#gYe)" stroke="#c8c878" stroke-width="0.8" opacity="0.85"/><ellipse cx="1816" cy="594" rx="34" ry="21.5" fill="url(#gCy)" stroke="#5ccccc" stroke-width="0.8" opacity="0.8"/><ellipse cx="1815.6" cy="576.5" rx="17.5" ry="18.5" fill="url(#gYe)" stroke="#c8c878" stroke-width="0.8" opacity="0.85"/><polygon points="1826,585.5 1838.4,569.3 1839.9,570.5 1840,563 1832.8,565 1834.4,566.3 1822,582.5" fill="#40d030"/><polygon points="1818.5,594 1818.5,567 1821.5,567 1816,558 1810.5,567 1813.5,567 1813.5,594" fill="#1a1af0"/><polygon points="1821.1,600.3 1848.7,611.1 1847.6,613.9 1858,612 1851.6,603.6 1850.5,606.4 1822.9,595.7" fill="#e8242a"/>
<rect x="1795.2" y="652" width="41" height="48" fill="#c4c4c4"/>
<text x="1799" y="688" font-size="30" font-style="italic" fill="#111">d<tspan font-size="20" dy="8">z</tspan><tspan font-size="13" dy="-11">2</tspan></text>
<g transform="translate(1260,1210) scale(0.20024)">
<path d="M640,75 C700,170 980,170 1035,80 L1010,230 C950,245 730,245 700,235 Z" fill="url(#rH1)"/>
<path d="M463,348 C463,148 1211,148 1211,348 L1211,1000 C1200,1080 1100,1124 980,1124 L700,1124 C560,1124 470,1080 463,990 Z" fill="url(#bH)"/>
<ellipse cx="839" cy="360" rx="273" ry="134" fill="url(#rH1)"/>
<path d="M640,470 C700,440 760,430 800,450 C840,430 920,440 980,470 C900,490 720,490 640,470 Z" fill="#2424d0"/>
<ellipse cx="546" cy="327" rx="28" ry="60" fill="#fff"/>
<ellipse cx="1124" cy="328" rx="36" ry="52" fill="#fff"/>
<ellipse cx="565" cy="898" rx="40" ry="131" fill="#fff"/>
<ellipse cx="1112" cy="902" rx="47" ry="127" fill="#fff"/>
<path d="M600,500 C700,520 980,520 1080,500 L1080,1000 C980,1020 700,1020 600,1000 Z" fill="url(#rH1)"/>
<path d="M600,490 C700,530 980,530 1080,490 L1080,520 C980,560 700,560 600,520 Z" fill="#2222d8"/>
<path d="M600,1000 C700,1030 980,1030 1080,1000 L1080,1110 L600,1110 Z" fill="#1c1cd0"/>
<path d="M530,430 C560,420 600,470 600,520" stroke="#e040e0" stroke-width="6" fill="none" opacity="0.6"/>
<path d="M150,289 C230,230 320,170 390,128 C430,135 460,150 476,175 L476,420 L398,438 C360,425 330,413 299,413 L163,421 C155,380 150,330 150,289 Z" fill="url(#rH2)"/>
<g transform="translate(1676,0) scale(-1,1)"><path d="M150,289 C230,230 320,170 390,128 C430,135 460,150 476,175 L476,420 L398,438 C360,425 330,413 299,413 L163,421 C155,380 150,330 150,289 Z" fill="url(#rH2)"/></g>
<path d="M150,289 C250,298 400,265 440,235 C460,215 472,200 476,190 L476,420 L398,438 C360,425 330,413 299,413 L163,421 C155,380 150,330 150,289 Z" fill="url(#rH2)" opacity="0.8"/>
<g transform="translate(1676,0) scale(-1,1)"><path d="M150,289 C250,298 400,265 440,235 C460,215 472,200 476,190 L476,420 L398,438 C360,425 330,413 299,413 L163,421 C155,380 150,330 150,289 Z" fill="url(#rH2)" opacity="0.8"/></g>
<path d="M117,421 C180,415 220,412 258,413 C300,420 350,430 382,438 C410,455 430,470 439,487 L439,553 C425,570 410,585 398,595 L472,603 L472,817 C450,840 420,860 398,867 L340,883 C370,900 390,915 406,933 C430,960 450,990 456,1016 C462,1060 465,1100 464,1139 C430,1180 390,1215 357,1238 C345,1190 335,1140 324,1098 C310,1060 295,1035 282,1016 L159,1024 C162,960 168,900 175,850 C180,830 185,820 192,809 C170,770 150,730 142,685 C135,630 128,575 126,520 Z" fill="url(#rH3)"/>
<g transform="translate(1676,0) scale(-1,1)"><path d="M117,421 C180,415 220,412 258,413 C300,420 350,430 382,438 C410,455 430,470 439,487 L439,553 C425,570 410,585 398,595 L472,603 L472,817 C450,840 420,860 398,867 L340,883 C370,900 390,915 406,933 C430,960 450,990 456,1016 C462,1060 465,1100 464,1139 C430,1180 390,1215 357,1238 C345,1190 335,1140 324,1098 C310,1060 295,1035 282,1016 L159,1024 C162,960 168,900 175,850 C180,830 185,820 192,809 C170,770 150,730 142,685 C135,630 128,575 126,520 Z" fill="url(#rH3)"/></g>
<path d="M216,421 C300,418 400,440 439,487 L439,553 C410,585 330,570 260,540 C230,510 220,470 216,421 Z M200,760 C250,740 300,790 300,860 C300,930 270,980 240,990 C215,940 200,860 200,760 Z" fill="#7a0c06" opacity="0.45"/>
<g transform="translate(1676,0) scale(-1,1)"><path d="M216,421 C300,418 400,440 439,487 L439,553 C410,585 330,570 260,540 C230,510 220,470 216,421 Z M200,760 C250,740 300,790 300,860 C300,930 270,980 240,990 C215,940 200,860 200,760 Z" fill="#7a0c06" opacity="0.45"/></g>
<path d="M597,688 C605,640 680,590 740,581 C790,570 800,569 843,569 C900,572 1000,600 1049,641 C1070,660 1080,680 1080,704 C1075,760 1057,823 1030,880 C1010,920 990,980 970,1021 C975,1070 990,1110 1001,1140 C1020,1200 1040,1260 1065,1322 C1000,1240 920,1195 835,1195 C750,1195 670,1240 613,1322 C630,1260 660,1200 690,1130 C705,1090 712,1050 716,1021 C700,980 677,942 650,890 C630,850 621,823 610,780 C600,750 597,720 597,688 Z" fill="url(#dome0)"/>
<path d="M475,65 L1200,65 L1630,350 L1280,700 L400,700 L45,350 Z M45,350 L80,945 L425,1330 L1250,1330 L1590,945 L1630,350 M400,700 L425,1330 M1280,700 L1250,1330 M475,65 L475,315 M1200,65 L1200,315 M80,945 L150,905 M1590,945 L1520,905" stroke="#111" stroke-width="5.5" fill="none" stroke-linejoin="round"/>
</g>
<g transform="translate(1595,1210) scale(0.20024)">
<path d="M606,100 C700,180 780,190 837,182 C900,180 1000,170 1093,100 L1019,250 C950,262 760,262 697,250 Z" fill="url(#rH1)"/>
<path d="M515,320 C530,280 570,255 625,240 M1075,240 C1130,255 1170,280 1185,320 M745,205 C800,195 900,195 950,205 M520,1000 C520,1040 560,1065 625,1080 M1180,1000 C1180,1040 1140,1065 1075,1080" stroke="#2020e0" stroke-width="9" fill="none" stroke-linecap="round"/>
<path d="M573,347 C573,190 1126,190 1126,347 L1126,1030 C1126,1080 1000,1070 850,1070 C700,1070 573,1080 573,1030 Z" fill="url(#rH1)"/>
<ellipse cx="850" cy="330" rx="270" ry="100" fill="url(#rH1)"/>
<path d="M573,347 C600,420 1100,420 1126,347 C1100,460 600,460 573,347 Z" fill="#b01808" opacity="0.5"/>
<path d="M672,445 C700,405 760,405 800,430 C830,455 870,455 900,430 C940,405 1010,405 1044,445 C1000,430 950,440 910,470 C870,490 830,490 790,470 C750,440 700,430 672,445 Z" fill="#2424e0"/>
<path d="M770,470 C810,495 890,495 930,470" stroke="#f050f0" stroke-width="8" fill="none"/>
<path d="M740,510 C800,528 900,528 955,510" stroke="#2020e0" stroke-width="8" fill="none"/>
<path d="M520,400 C470,560 470,760 530,892 L581,880 C560,760 560,560 581,414 Z" fill="#2424e6"/>
<path d="M1180,400 C1230,560 1230,760 1170,892 L1126,880 C1140,760 1140,560 1126,414 Z" fill="#1a1ac4"/>
<ellipse cx="672" cy="570" rx="16" ry="37" fill="#2424e0"/>
<ellipse cx="1035" cy="579" rx="16" ry="37" fill="#2424e0"/>
<path d="M622,884 L690,884 L722,1049 L660,1049 Z M969,892 L1040,892 L1005,1049 L940,1049 Z" fill="#2222dd"/>
<ellipse cx="845" cy="1024" rx="25" ry="18" fill="#b01808" stroke="#7a0c06" stroke-width="3"/>
<path d="M130,311 C250,290 380,240 429,105 C480,130 510,180 513,244 C500,330 450,390 387,412 C300,420 200,380 130,311 Z" fill="url(#rH2)"/>
<g transform="translate(1700,0) scale(-1,1)"><path d="M130,311 C250,290 380,240 429,105 C480,130 510,180 513,244 C500,330 450,390 387,412 C300,420 200,380 130,311 Z" fill="url(#rH2)"/></g>
<path d="M240,715 C320,700 420,690 500,700 L500,900 C400,880 300,880 200,900 C185,850 195,780 240,715 Z" fill="url(#rH3)"/>
<g transform="translate(1700,0) scale(-1,1)"><path d="M240,715 C320,700 420,690 500,700 L500,900 C400,880 300,880 200,900 C185,850 195,780 240,715 Z" fill="url(#rH3)"/></g>
<path d="M105,395 C250,380 420,400 480,470 C500,540 470,620 420,660 C380,720 330,760 300,800 C380,820 480,860 500,900 C520,1000 480,1100 420,1150 C400,1200 380,1240 370,1270 C340,1150 280,1000 150,980 C180,900 230,860 250,820 C180,760 130,600 105,395 Z" fill="url(#rH3)"/>
<g transform="translate(1700,0) scale(-1,1)"><path d="M105,395 C250,380 420,400 480,470 C500,540 470,620 420,660 C380,720 330,760 300,800 C380,820 480,860 500,900 C520,1000 480,1100 420,1150 C400,1200 380,1240 370,1270 C340,1150 280,1000 150,980 C180,900 230,860 250,820 C180,760 130,600 105,395 Z" fill="url(#rH3)"/></g>
<clipPath id="lp5L"><path d="M105,395 C250,380 420,400 480,470 C500,540 470,620 420,660 C380,720 330,760 300,800 C380,820 480,860 500,900 C520,1000 480,1100 420,1150 C400,1200 380,1240 370,1270 C340,1150 280,1000 150,980 C180,900 230,860 250,820 C180,760 130,600 105,395 Z"/><path d="M240,715 C320,700 420,690 500,700 L500,900 C400,880 300,880 200,900 C185,850 195,780 240,715 Z"/></clipPath>
<clipPath id="lp5R"><path d="M105,395 C250,380 420,400 480,470 C500,540 470,620 420,660 C380,720 330,760 300,800 C380,820 480,860 500,900 C520,1000 480,1100 420,1150 C400,1200 380,1240 370,1270 C340,1150 280,1000 150,980 C180,900 230,860 250,820 C180,760 130,600 105,395 Z" transform="translate(1700,0) scale(-1,1)"/><path d="M240,715 C320,700 420,690 500,700 L500,900 C400,880 300,880 200,900 C185,850 195,780 240,715 Z" transform="translate(1700,0) scale(-1,1)"/></clipPath>
<g clip-path="url(#lp5L)">
<ellipse cx="185" cy="631" rx="70" ry="105" fill="url(#yH)"/>
<ellipse cx="353" cy="1010" rx="78" ry="110" fill="url(#yH)"/>
</g><g clip-path="url(#lp5R)">
<ellipse cx="1515" cy="631" rx="70" ry="105" fill="url(#yH)"/>
<ellipse cx="1347" cy="1010" rx="78" ry="110" fill="url(#yH)"/>
</g>
<path d="M548,678 C570,640 600,625 631,612 C680,590 720,575 755,570 C800,560 830,554 854,554 C900,560 940,570 961,579 C1010,595 1050,610 1085,628 C1110,645 1135,665 1151,694 C1135,740 1120,770 1101,801 C1080,840 1060,860 1035,884 C1000,915 970,935 936,950 C900,960 880,962 854,962 C820,962 790,958 755,950 C720,935 690,915 656,892 C630,870 610,845 590,818 C570,790 555,760 548,727 Z" fill="url(#lens5)"/>
<ellipse cx="650" cy="885" rx="50" ry="38" fill="url(#yH)"/>
<ellipse cx="1050" cy="880" rx="45" ry="35" fill="url(#yH)"/>
<path d="M565,1313 C590,1260 610,1230 631,1198 C680,1150 720,1125 755,1115 C800,1095 830,1086 854,1086 C900,1088 950,1095 986,1103 C1020,1125 1050,1150 1068,1173 C1100,1220 1125,1270 1143,1313 C1100,1280 1050,1250 1002,1239 C950,1215 900,1200 854,1198 C800,1200 760,1220 713,1239 C660,1260 610,1285 565,1313 Z" fill="url(#rH1)"/>
<path d="M640,1190 C680,1145 720,1122 755,1115 M986,1103 C1020,1125 1045,1150 1068,1180" stroke="#f4e040" stroke-width="10" fill="none" opacity="0.85"/>
<path d="M490,62 L1210,62 L1640,352 L1290,695 L415,695 L58,352 Z M58,352 L100,940 L438,1330 L1262,1330 L1605,940 L1640,352 M415,695 L438,1330 M1290,695 L1262,1330 M490,62 L490,312 M1210,62 L1210,312 M100,940 L170,900 M1605,940 L1535,900" stroke="#111" stroke-width="5.5" fill="none" stroke-linejoin="round"/>
</g>
<text x="1424" y="1509" font-size="29" text-anchor="middle" fill="#000">0 GPa</text>
<text x="1762" y="1509" font-size="29" text-anchor="middle" fill="#000">5 GPa</text>
<text x="1003" y="1269" font-size="28.5" fill="#46e23a">Cr-<tspan font-style="italic">d</tspan><tspan font-size="19.5" font-style="italic" dy="7">z</tspan><tspan font-size="13" dy="-11">2</tspan></text>
<text x="1128" y="1271" font-size="28.5" fill="#e8241c">Cr-<tspan font-style="italic">d</tspan><tspan font-size="19.5" font-style="italic" dy="7">xz</tspan><tspan dy="-7">/</tspan><tspan font-style="italic">d</tspan><tspan font-size="19.5" font-style="italic" dy="7">yz</tspan></text>
<text x="1038" y="1413" font-size="28.5" fill="#1414d8">Cr-<tspan font-style="italic">d</tspan><tspan font-size="19.5" font-style="italic" dy="7">xy</tspan><tspan dy="-7">/</tspan><tspan font-style="italic">d</tspan><tspan font-size="19.5" font-style="italic" dy="7">x</tspan><tspan font-size="13" dy="-11">2</tspan><tspan font-size="19.5" dy="11">− </tspan><tspan font-size="19.5" font-style="italic">y</tspan><tspan font-size="13" dy="-11">2</tspan></text>
</svg>
<div class="wheel"></div>
</body></html>
